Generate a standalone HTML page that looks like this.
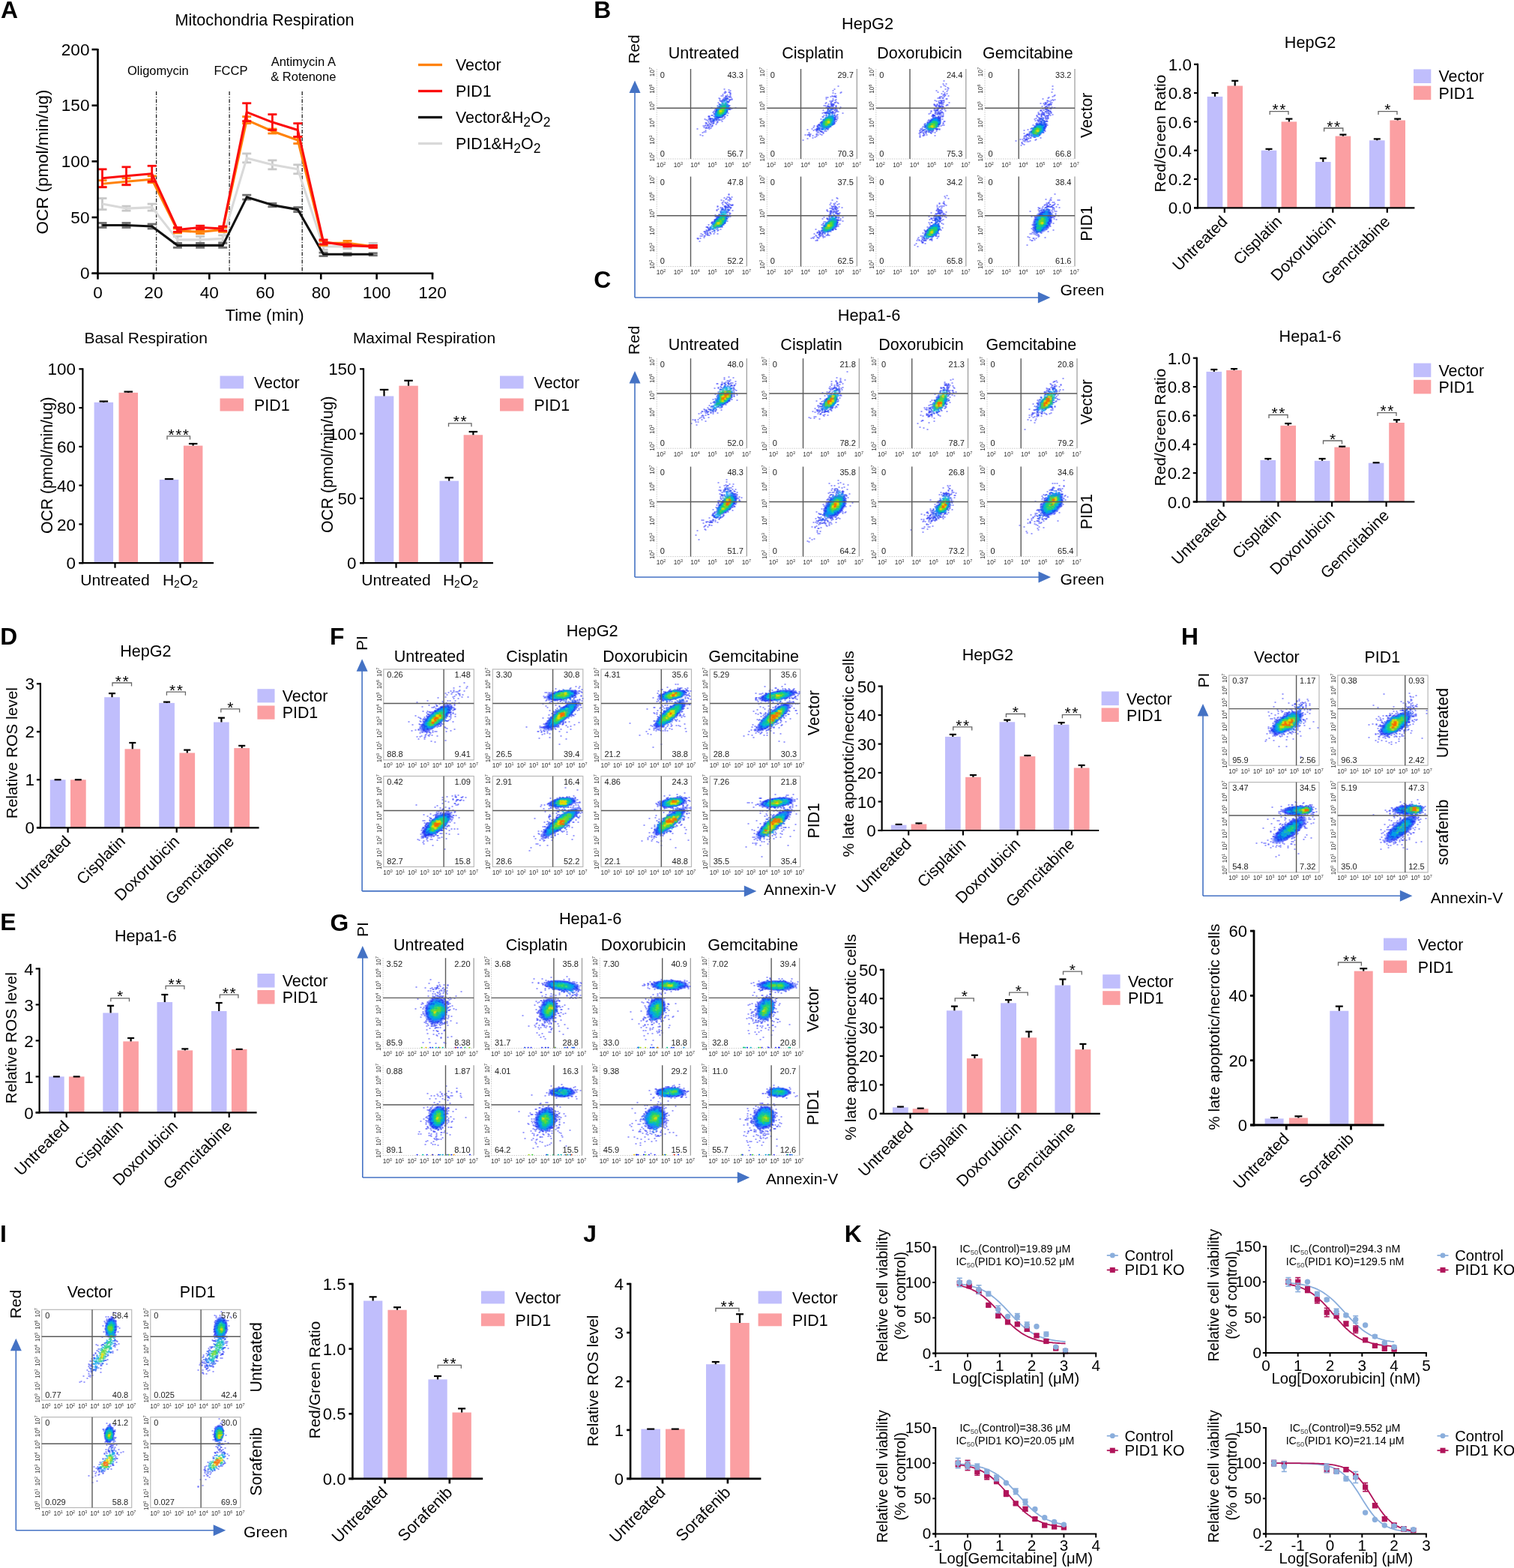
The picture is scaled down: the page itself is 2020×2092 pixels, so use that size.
<!DOCTYPE html>
<html><head><meta charset="utf-8"><title>Figure</title>
<style>html,body{margin:0;padding:0;background:#fff;} svg{display:block;} text{font-family:"Liberation Sans", Arial, Helvetica, sans-serif;} .k{font-size:8.4px;text-anchor:middle;fill:#333} .k tspan{font-size:5.4px}</style>
</head><body>
<svg width="2020" height="2092" viewBox="0 0 2020 2092" font-family='"Liberation Sans", Arial, Helvetica, sans-serif'>
<defs>
<radialGradient id="gH"><stop offset="0" stop-color="#f04000"/><stop offset="0.16" stop-color="#f0d000"/><stop offset="0.34" stop-color="#50e050"/><stop offset="0.55" stop-color="#00c0e0"/><stop offset="0.78" stop-color="#1a3cf8" stop-opacity="0.85"/><stop offset="1" stop-color="#3040ff" stop-opacity="0"/></radialGradient>
<radialGradient id="gW"><stop offset="0" stop-color="#90e030"/><stop offset="0.3" stop-color="#30d880"/><stop offset="0.55" stop-color="#00a8f0"/><stop offset="0.8" stop-color="#1a3cf8" stop-opacity="0.75"/><stop offset="1" stop-color="#3040ff" stop-opacity="0"/></radialGradient>
<radialGradient id="gC"><stop offset="0" stop-color="#1090f0" stop-opacity="0.9"/><stop offset="0.5" stop-color="#1a48f8" stop-opacity="0.75"/><stop offset="1" stop-color="#3040ff" stop-opacity="0"/></radialGradient>
</defs>
<rect width="2020" height="2092" fill="#fff"/>
<text x="1" y="24" font-size="31.8" font-weight="bold">A</text>
<text x="353" y="34" font-size="21.6" text-anchor="middle">Mitochondria Respiration</text>
<line x1="208.6" y1="122" x2="208.6" y2="364.7" stroke="#222" stroke-width="1.3" stroke-dasharray="5 2 1.2 2"/>
<line x1="306.1" y1="122" x2="306.1" y2="364.7" stroke="#222" stroke-width="1.3" stroke-dasharray="5 2 1.2 2"/>
<line x1="403.2" y1="122" x2="403.2" y2="364.7" stroke="#222" stroke-width="1.3" stroke-dasharray="5 2 1.2 2"/>
<text x="210.8" y="99.6" font-size="16.5" text-anchor="middle">Oligomycin</text>
<text x="308" y="99.6" font-size="16.5" text-anchor="middle">FCCP</text>
<text x="404.8" y="88.4" font-size="16.5" text-anchor="middle">Antimycin A</text>
<text x="404.8" y="107.6" font-size="16.5" text-anchor="middle">&amp; Rotenone</text>
<line x1="136.5" y1="279.6" x2="136.5" y2="264.6" stroke="#c8c8c8" stroke-width="2.8"/>
<line x1="130.5" y1="264.6" x2="142.5" y2="264.6" stroke="#c8c8c8" stroke-width="2.8"/>
<line x1="130.5" y1="279.6" x2="142.5" y2="279.6" stroke="#c8c8c8" stroke-width="2.8"/>
<line x1="168.5" y1="281.1" x2="168.5" y2="275.1" stroke="#c8c8c8" stroke-width="2.8"/>
<line x1="162.5" y1="275.1" x2="174.5" y2="275.1" stroke="#c8c8c8" stroke-width="2.8"/>
<line x1="162.5" y1="281.1" x2="174.5" y2="281.1" stroke="#c8c8c8" stroke-width="2.8"/>
<line x1="202.7" y1="281.1" x2="202.7" y2="272.1" stroke="#c8c8c8" stroke-width="2.8"/>
<line x1="196.7" y1="272.1" x2="208.7" y2="272.1" stroke="#c8c8c8" stroke-width="2.8"/>
<line x1="196.7" y1="281.1" x2="208.7" y2="281.1" stroke="#c8c8c8" stroke-width="2.8"/>
<line x1="236.9" y1="324.4" x2="236.9" y2="315.4" stroke="#c8c8c8" stroke-width="2.8"/>
<line x1="230.9" y1="315.4" x2="242.9" y2="315.4" stroke="#c8c8c8" stroke-width="2.8"/>
<line x1="230.9" y1="324.4" x2="242.9" y2="324.4" stroke="#c8c8c8" stroke-width="2.8"/>
<line x1="267.1" y1="324.4" x2="267.1" y2="315.4" stroke="#c8c8c8" stroke-width="2.8"/>
<line x1="261.1" y1="315.4" x2="273.1" y2="315.4" stroke="#c8c8c8" stroke-width="2.8"/>
<line x1="261.1" y1="324.4" x2="273.1" y2="324.4" stroke="#c8c8c8" stroke-width="2.8"/>
<line x1="297.2" y1="322.9" x2="297.2" y2="313.9" stroke="#c8c8c8" stroke-width="2.8"/>
<line x1="291.2" y1="313.9" x2="303.2" y2="313.9" stroke="#c8c8c8" stroke-width="2.8"/>
<line x1="291.2" y1="322.9" x2="303.2" y2="322.9" stroke="#c8c8c8" stroke-width="2.8"/>
<line x1="329.2" y1="216.8" x2="329.2" y2="204.9" stroke="#c8c8c8" stroke-width="2.8"/>
<line x1="323.2" y1="204.9" x2="335.2" y2="204.9" stroke="#c8c8c8" stroke-width="2.8"/>
<line x1="323.2" y1="216.8" x2="335.2" y2="216.8" stroke="#c8c8c8" stroke-width="2.8"/>
<line x1="363.4" y1="225.8" x2="363.4" y2="213.9" stroke="#c8c8c8" stroke-width="2.8"/>
<line x1="357.4" y1="213.9" x2="369.4" y2="213.9" stroke="#c8c8c8" stroke-width="2.8"/>
<line x1="357.4" y1="225.8" x2="369.4" y2="225.8" stroke="#c8c8c8" stroke-width="2.8"/>
<line x1="397.3" y1="231.8" x2="397.3" y2="219.8" stroke="#c8c8c8" stroke-width="2.8"/>
<line x1="391.3" y1="219.8" x2="403.3" y2="219.8" stroke="#c8c8c8" stroke-width="2.8"/>
<line x1="391.3" y1="231.8" x2="403.3" y2="231.8" stroke="#c8c8c8" stroke-width="2.8"/>
<line x1="431.5" y1="333.3" x2="431.5" y2="324.4" stroke="#c8c8c8" stroke-width="2.8"/>
<line x1="425.5" y1="324.4" x2="437.5" y2="324.4" stroke="#c8c8c8" stroke-width="2.8"/>
<line x1="425.5" y1="333.3" x2="437.5" y2="333.3" stroke="#c8c8c8" stroke-width="2.8"/>
<line x1="463.5" y1="331.8" x2="463.5" y2="325.9" stroke="#c8c8c8" stroke-width="2.8"/>
<line x1="457.5" y1="325.9" x2="469.5" y2="325.9" stroke="#c8c8c8" stroke-width="2.8"/>
<line x1="457.5" y1="331.8" x2="469.5" y2="331.8" stroke="#c8c8c8" stroke-width="2.8"/>
<line x1="497.7" y1="330.3" x2="497.7" y2="324.4" stroke="#c8c8c8" stroke-width="2.8"/>
<line x1="491.7" y1="324.4" x2="503.7" y2="324.4" stroke="#c8c8c8" stroke-width="2.8"/>
<line x1="491.7" y1="330.3" x2="503.7" y2="330.3" stroke="#c8c8c8" stroke-width="2.8"/>
<path d="M136.5 272.1L168.5 278.1L202.7 276.6L236.9 319.9L267.1 319.9L297.2 318.4L329.2 210.9L363.4 219.8L397.3 225.8L431.5 328.9L463.5 328.9L497.7 327.4" stroke="#d9d9d9" stroke-width="3.1" fill="none" stroke-linejoin="round"/>
<line x1="136.5" y1="303.5" x2="136.5" y2="297.5" stroke="#707070" stroke-width="2.8"/>
<line x1="130.5" y1="297.5" x2="142.5" y2="297.5" stroke="#707070" stroke-width="2.8"/>
<line x1="130.5" y1="303.5" x2="142.5" y2="303.5" stroke="#707070" stroke-width="2.8"/>
<line x1="168.5" y1="303.5" x2="168.5" y2="297.5" stroke="#707070" stroke-width="2.8"/>
<line x1="162.5" y1="297.5" x2="174.5" y2="297.5" stroke="#707070" stroke-width="2.8"/>
<line x1="162.5" y1="303.5" x2="174.5" y2="303.5" stroke="#707070" stroke-width="2.8"/>
<line x1="202.7" y1="305" x2="202.7" y2="299" stroke="#707070" stroke-width="2.8"/>
<line x1="196.7" y1="299" x2="208.7" y2="299" stroke="#707070" stroke-width="2.8"/>
<line x1="196.7" y1="305" x2="208.7" y2="305" stroke="#707070" stroke-width="2.8"/>
<line x1="236.9" y1="330.3" x2="236.9" y2="324.4" stroke="#707070" stroke-width="2.8"/>
<line x1="230.9" y1="324.4" x2="242.9" y2="324.4" stroke="#707070" stroke-width="2.8"/>
<line x1="230.9" y1="330.3" x2="242.9" y2="330.3" stroke="#707070" stroke-width="2.8"/>
<line x1="267.1" y1="330.3" x2="267.1" y2="324.4" stroke="#707070" stroke-width="2.8"/>
<line x1="261.1" y1="324.4" x2="273.1" y2="324.4" stroke="#707070" stroke-width="2.8"/>
<line x1="261.1" y1="330.3" x2="273.1" y2="330.3" stroke="#707070" stroke-width="2.8"/>
<line x1="297.2" y1="330.3" x2="297.2" y2="324.4" stroke="#707070" stroke-width="2.8"/>
<line x1="291.2" y1="324.4" x2="303.2" y2="324.4" stroke="#707070" stroke-width="2.8"/>
<line x1="291.2" y1="330.3" x2="303.2" y2="330.3" stroke="#707070" stroke-width="2.8"/>
<line x1="329.2" y1="266.1" x2="329.2" y2="260.2" stroke="#707070" stroke-width="2.8"/>
<line x1="323.2" y1="260.2" x2="335.2" y2="260.2" stroke="#707070" stroke-width="2.8"/>
<line x1="323.2" y1="266.1" x2="335.2" y2="266.1" stroke="#707070" stroke-width="2.8"/>
<line x1="363.4" y1="275.8" x2="363.4" y2="271.4" stroke="#707070" stroke-width="2.8"/>
<line x1="357.4" y1="271.4" x2="369.4" y2="271.4" stroke="#707070" stroke-width="2.8"/>
<line x1="357.4" y1="275.8" x2="369.4" y2="275.8" stroke="#707070" stroke-width="2.8"/>
<line x1="397.3" y1="282.6" x2="397.3" y2="276.6" stroke="#707070" stroke-width="2.8"/>
<line x1="391.3" y1="276.6" x2="403.3" y2="276.6" stroke="#707070" stroke-width="2.8"/>
<line x1="391.3" y1="282.6" x2="403.3" y2="282.6" stroke="#707070" stroke-width="2.8"/>
<line x1="431.5" y1="341.6" x2="431.5" y2="337.1" stroke="#707070" stroke-width="2.8"/>
<line x1="425.5" y1="337.1" x2="437.5" y2="337.1" stroke="#707070" stroke-width="2.8"/>
<line x1="425.5" y1="341.6" x2="437.5" y2="341.6" stroke="#707070" stroke-width="2.8"/>
<line x1="463.5" y1="340.8" x2="463.5" y2="337.8" stroke="#707070" stroke-width="2.8"/>
<line x1="457.5" y1="337.8" x2="469.5" y2="337.8" stroke="#707070" stroke-width="2.8"/>
<line x1="457.5" y1="340.8" x2="469.5" y2="340.8" stroke="#707070" stroke-width="2.8"/>
<line x1="497.7" y1="340.8" x2="497.7" y2="337.8" stroke="#707070" stroke-width="2.8"/>
<line x1="491.7" y1="337.8" x2="503.7" y2="337.8" stroke="#707070" stroke-width="2.8"/>
<line x1="491.7" y1="340.8" x2="503.7" y2="340.8" stroke="#707070" stroke-width="2.8"/>
<path d="M136.5 300.5L168.5 300.5L202.7 302L236.9 327.4L267.1 327.4L297.2 327.4L329.2 263.1L363.4 273.6L397.3 279.6L431.5 339.3L463.5 339.3L497.7 339.3" stroke="#111111" stroke-width="3.1" fill="none" stroke-linejoin="round"/>
<line x1="136.5" y1="249.7" x2="136.5" y2="240.7" stroke="#ff820a" stroke-width="2.8"/>
<line x1="130.5" y1="240.7" x2="142.5" y2="240.7" stroke="#ff820a" stroke-width="2.8"/>
<line x1="130.5" y1="249.7" x2="142.5" y2="249.7" stroke="#ff820a" stroke-width="2.8"/>
<line x1="168.5" y1="246.7" x2="168.5" y2="237.8" stroke="#ff820a" stroke-width="2.8"/>
<line x1="162.5" y1="237.8" x2="174.5" y2="237.8" stroke="#ff820a" stroke-width="2.8"/>
<line x1="162.5" y1="246.7" x2="174.5" y2="246.7" stroke="#ff820a" stroke-width="2.8"/>
<line x1="202.7" y1="243.7" x2="202.7" y2="234.8" stroke="#ff820a" stroke-width="2.8"/>
<line x1="196.7" y1="234.8" x2="208.7" y2="234.8" stroke="#ff820a" stroke-width="2.8"/>
<line x1="196.7" y1="243.7" x2="208.7" y2="243.7" stroke="#ff820a" stroke-width="2.8"/>
<line x1="236.9" y1="310.9" x2="236.9" y2="305" stroke="#ff820a" stroke-width="2.8"/>
<line x1="230.9" y1="305" x2="242.9" y2="305" stroke="#ff820a" stroke-width="2.8"/>
<line x1="230.9" y1="310.9" x2="242.9" y2="310.9" stroke="#ff820a" stroke-width="2.8"/>
<line x1="267.1" y1="311.7" x2="267.1" y2="307.2" stroke="#ff820a" stroke-width="2.8"/>
<line x1="261.1" y1="307.2" x2="273.1" y2="307.2" stroke="#ff820a" stroke-width="2.8"/>
<line x1="261.1" y1="311.7" x2="273.1" y2="311.7" stroke="#ff820a" stroke-width="2.8"/>
<line x1="297.2" y1="309.4" x2="297.2" y2="303.5" stroke="#ff820a" stroke-width="2.8"/>
<line x1="291.2" y1="303.5" x2="303.2" y2="303.5" stroke="#ff820a" stroke-width="2.8"/>
<line x1="291.2" y1="309.4" x2="303.2" y2="309.4" stroke="#ff820a" stroke-width="2.8"/>
<line x1="329.2" y1="164.6" x2="329.2" y2="155.6" stroke="#ff820a" stroke-width="2.8"/>
<line x1="323.2" y1="155.6" x2="335.2" y2="155.6" stroke="#ff820a" stroke-width="2.8"/>
<line x1="323.2" y1="164.6" x2="335.2" y2="164.6" stroke="#ff820a" stroke-width="2.8"/>
<line x1="363.4" y1="178" x2="363.4" y2="172" stroke="#ff820a" stroke-width="2.8"/>
<line x1="357.4" y1="172" x2="369.4" y2="172" stroke="#ff820a" stroke-width="2.8"/>
<line x1="357.4" y1="178" x2="369.4" y2="178" stroke="#ff820a" stroke-width="2.8"/>
<line x1="397.3" y1="191.5" x2="397.3" y2="182.5" stroke="#ff820a" stroke-width="2.8"/>
<line x1="391.3" y1="182.5" x2="403.3" y2="182.5" stroke="#ff820a" stroke-width="2.8"/>
<line x1="391.3" y1="191.5" x2="403.3" y2="191.5" stroke="#ff820a" stroke-width="2.8"/>
<line x1="431.5" y1="327.4" x2="431.5" y2="321.4" stroke="#ff820a" stroke-width="2.8"/>
<line x1="425.5" y1="321.4" x2="437.5" y2="321.4" stroke="#ff820a" stroke-width="2.8"/>
<line x1="425.5" y1="327.4" x2="437.5" y2="327.4" stroke="#ff820a" stroke-width="2.8"/>
<line x1="463.5" y1="327.4" x2="463.5" y2="321.4" stroke="#ff820a" stroke-width="2.8"/>
<line x1="457.5" y1="321.4" x2="469.5" y2="321.4" stroke="#ff820a" stroke-width="2.8"/>
<line x1="457.5" y1="327.4" x2="469.5" y2="327.4" stroke="#ff820a" stroke-width="2.8"/>
<line x1="497.7" y1="330.3" x2="497.7" y2="327.4" stroke="#ff820a" stroke-width="2.8"/>
<line x1="491.7" y1="327.4" x2="503.7" y2="327.4" stroke="#ff820a" stroke-width="2.8"/>
<line x1="491.7" y1="330.3" x2="503.7" y2="330.3" stroke="#ff820a" stroke-width="2.8"/>
<path d="M136.5 245.2L168.5 242.2L202.7 239.2L236.9 307.9L267.1 309.4L297.2 306.5L329.2 160.1L363.4 175L397.3 187L431.5 324.4L463.5 324.4L497.7 328.9" stroke="#ff820a" stroke-width="3.1" fill="none" stroke-linejoin="round"/>
<line x1="136.5" y1="249.7" x2="136.5" y2="225.8" stroke="#fb0d0d" stroke-width="2.8"/>
<line x1="130.5" y1="225.8" x2="142.5" y2="225.8" stroke="#fb0d0d" stroke-width="2.8"/>
<line x1="130.5" y1="249.7" x2="142.5" y2="249.7" stroke="#fb0d0d" stroke-width="2.8"/>
<line x1="168.5" y1="246.7" x2="168.5" y2="222.8" stroke="#fb0d0d" stroke-width="2.8"/>
<line x1="162.5" y1="222.8" x2="174.5" y2="222.8" stroke="#fb0d0d" stroke-width="2.8"/>
<line x1="162.5" y1="246.7" x2="174.5" y2="246.7" stroke="#fb0d0d" stroke-width="2.8"/>
<line x1="202.7" y1="242.2" x2="202.7" y2="221.3" stroke="#fb0d0d" stroke-width="2.8"/>
<line x1="196.7" y1="221.3" x2="208.7" y2="221.3" stroke="#fb0d0d" stroke-width="2.8"/>
<line x1="196.7" y1="242.2" x2="208.7" y2="242.2" stroke="#fb0d0d" stroke-width="2.8"/>
<line x1="236.9" y1="309.4" x2="236.9" y2="303.5" stroke="#fb0d0d" stroke-width="2.8"/>
<line x1="230.9" y1="303.5" x2="242.9" y2="303.5" stroke="#fb0d0d" stroke-width="2.8"/>
<line x1="230.9" y1="309.4" x2="242.9" y2="309.4" stroke="#fb0d0d" stroke-width="2.8"/>
<line x1="267.1" y1="305.7" x2="267.1" y2="301.2" stroke="#fb0d0d" stroke-width="2.8"/>
<line x1="261.1" y1="301.2" x2="273.1" y2="301.2" stroke="#fb0d0d" stroke-width="2.8"/>
<line x1="261.1" y1="305.7" x2="273.1" y2="305.7" stroke="#fb0d0d" stroke-width="2.8"/>
<line x1="297.2" y1="307.9" x2="297.2" y2="302" stroke="#fb0d0d" stroke-width="2.8"/>
<line x1="291.2" y1="302" x2="303.2" y2="302" stroke="#fb0d0d" stroke-width="2.8"/>
<line x1="291.2" y1="307.9" x2="303.2" y2="307.9" stroke="#fb0d0d" stroke-width="2.8"/>
<line x1="329.2" y1="161.6" x2="329.2" y2="137.7" stroke="#fb0d0d" stroke-width="2.8"/>
<line x1="323.2" y1="137.7" x2="335.2" y2="137.7" stroke="#fb0d0d" stroke-width="2.8"/>
<line x1="323.2" y1="161.6" x2="335.2" y2="161.6" stroke="#fb0d0d" stroke-width="2.8"/>
<line x1="363.4" y1="173.5" x2="363.4" y2="152.6" stroke="#fb0d0d" stroke-width="2.8"/>
<line x1="357.4" y1="152.6" x2="369.4" y2="152.6" stroke="#fb0d0d" stroke-width="2.8"/>
<line x1="357.4" y1="173.5" x2="369.4" y2="173.5" stroke="#fb0d0d" stroke-width="2.8"/>
<line x1="397.3" y1="182.5" x2="397.3" y2="164.6" stroke="#fb0d0d" stroke-width="2.8"/>
<line x1="391.3" y1="164.6" x2="403.3" y2="164.6" stroke="#fb0d0d" stroke-width="2.8"/>
<line x1="391.3" y1="182.5" x2="403.3" y2="182.5" stroke="#fb0d0d" stroke-width="2.8"/>
<line x1="431.5" y1="325.9" x2="431.5" y2="319.9" stroke="#fb0d0d" stroke-width="2.8"/>
<line x1="425.5" y1="319.9" x2="437.5" y2="319.9" stroke="#fb0d0d" stroke-width="2.8"/>
<line x1="425.5" y1="325.9" x2="437.5" y2="325.9" stroke="#fb0d0d" stroke-width="2.8"/>
<line x1="463.5" y1="328.9" x2="463.5" y2="325.9" stroke="#fb0d0d" stroke-width="2.8"/>
<line x1="457.5" y1="325.9" x2="469.5" y2="325.9" stroke="#fb0d0d" stroke-width="2.8"/>
<line x1="457.5" y1="328.9" x2="469.5" y2="328.9" stroke="#fb0d0d" stroke-width="2.8"/>
<line x1="497.7" y1="330.3" x2="497.7" y2="327.4" stroke="#fb0d0d" stroke-width="2.8"/>
<line x1="491.7" y1="327.4" x2="503.7" y2="327.4" stroke="#fb0d0d" stroke-width="2.8"/>
<line x1="491.7" y1="330.3" x2="503.7" y2="330.3" stroke="#fb0d0d" stroke-width="2.8"/>
<path d="M136.5 237.8L168.5 234.8L202.7 231.8L236.9 306.5L267.1 303.5L297.2 305L329.2 149.6L363.4 163.1L397.3 173.5L431.5 322.9L463.5 327.4L497.7 328.9" stroke="#fb0d0d" stroke-width="3.1" fill="none" stroke-linejoin="round"/>
<line x1="130.5" y1="65" x2="130.5" y2="366" stroke="#000" stroke-width="2.6"/>
<line x1="122.5" y1="364.7" x2="578.3" y2="364.7" stroke="#000" stroke-width="2.6"/>
<line x1="122.5" y1="364.7" x2="130.5" y2="364.7" stroke="#000" stroke-width="2.6"/>
<text x="119.5" y="372.2" font-size="22.6" text-anchor="end">0</text>
<line x1="122.5" y1="290" x2="130.5" y2="290" stroke="#000" stroke-width="2.6"/>
<text x="119.5" y="297.5" font-size="22.6" text-anchor="end">50</text>
<line x1="122.5" y1="215.3" x2="130.5" y2="215.3" stroke="#000" stroke-width="2.6"/>
<text x="119.5" y="222.8" font-size="22.6" text-anchor="end">100</text>
<line x1="122.5" y1="140.7" x2="130.5" y2="140.7" stroke="#000" stroke-width="2.6"/>
<text x="119.5" y="148.2" font-size="22.6" text-anchor="end">150</text>
<line x1="122.5" y1="66" x2="130.5" y2="66" stroke="#000" stroke-width="2.6"/>
<text x="119.5" y="73.5" font-size="22.6" text-anchor="end">200</text>
<line x1="130.5" y1="364.7" x2="130.5" y2="372.7" stroke="#000" stroke-width="2.6"/>
<text x="130.5" y="397.6" font-size="22.6" text-anchor="middle">0</text>
<line x1="204.9" y1="364.7" x2="204.9" y2="372.7" stroke="#000" stroke-width="2.6"/>
<text x="204.9" y="397.6" font-size="22.6" text-anchor="middle">20</text>
<line x1="279.3" y1="364.7" x2="279.3" y2="372.7" stroke="#000" stroke-width="2.6"/>
<text x="279.3" y="397.6" font-size="22.6" text-anchor="middle">40</text>
<line x1="353.8" y1="364.7" x2="353.8" y2="372.7" stroke="#000" stroke-width="2.6"/>
<text x="353.8" y="397.6" font-size="22.6" text-anchor="middle">60</text>
<line x1="428.2" y1="364.7" x2="428.2" y2="372.7" stroke="#000" stroke-width="2.6"/>
<text x="428.2" y="397.6" font-size="22.6" text-anchor="middle">80</text>
<line x1="502.6" y1="364.7" x2="502.6" y2="372.7" stroke="#000" stroke-width="2.6"/>
<text x="502.6" y="397.6" font-size="22.6" text-anchor="middle">100</text>
<line x1="577" y1="364.7" x2="577" y2="372.7" stroke="#000" stroke-width="2.6"/>
<text x="577" y="397.6" font-size="22.6" text-anchor="middle">120</text>
<text x="353" y="428" font-size="22.2" text-anchor="middle">Time (min)</text>
<text x="64.3" y="216" font-size="22.4" text-anchor="middle" transform="rotate(-90 64.3 216)">OCR (pmol/min/ug)</text>
<line x1="558" y1="86.5" x2="590" y2="86.5" stroke="#ff820a" stroke-width="3.3"/>
<text x="608" y="94.3" font-size="21.4">Vector</text>
<line x1="558" y1="121.5" x2="590" y2="121.5" stroke="#fb0d0d" stroke-width="3.3"/>
<text x="608" y="129.3" font-size="21.4">PID1</text>
<line x1="558" y1="156.5" x2="590" y2="156.5" stroke="#111111" stroke-width="3.3"/>
<text x="608" y="164.3" font-size="21.4">Vector&amp;H<tspan font-size="17.5" dy="4.5">2</tspan><tspan dy="-4.5">O</tspan><tspan font-size="17.5" dy="4.5">2</tspan></text>
<line x1="558" y1="191.5" x2="590" y2="191.5" stroke="#d9d9d9" stroke-width="3.3"/>
<text x="608" y="199.3" font-size="21.4">PID1&amp;H<tspan font-size="17.5" dy="4.5">2</tspan><tspan dy="-4.5">O</tspan><tspan font-size="17.5" dy="4.5">2</tspan></text>
<rect x="125.6" y="536.8" width="25.5" height="214.4" fill="#c0befc"/>
<rect x="158.5" y="523.9" width="25.5" height="227.3" fill="#fb9fa2"/>
<rect x="212.8" y="639.9" width="25.5" height="111.3" fill="#c0befc"/>
<rect x="244.9" y="594.6" width="25.5" height="156.6" fill="#fb9fa2"/>
<line x1="138.3" y1="536.8" x2="138.3" y2="535.5" stroke="#000" stroke-width="2.2"/>
<line x1="132.6" y1="535.5" x2="144.1" y2="535.5" stroke="#000" stroke-width="2.2"/>
<line x1="171.2" y1="523.9" x2="171.2" y2="522.6" stroke="#000" stroke-width="2.2"/>
<line x1="165.5" y1="522.6" x2="177" y2="522.6" stroke="#000" stroke-width="2.2"/>
<line x1="225.6" y1="639.9" x2="225.6" y2="639.1" stroke="#000" stroke-width="2.2"/>
<line x1="219.8" y1="639.1" x2="231.3" y2="639.1" stroke="#000" stroke-width="2.2"/>
<line x1="257.6" y1="594.6" x2="257.6" y2="592" stroke="#000" stroke-width="2.2"/>
<line x1="251.9" y1="592" x2="263.4" y2="592" stroke="#000" stroke-width="2.2"/>
<line x1="110.4" y1="491.2" x2="110.4" y2="752.3" stroke="#000" stroke-width="2.2"/>
<line x1="105.4" y1="751.2" x2="285" y2="751.2" stroke="#000" stroke-width="2.2"/>
<line x1="105.4" y1="751.2" x2="110.4" y2="751.2" stroke="#000" stroke-width="2.2"/>
<text x="100.9" y="759.3" font-size="22.4" text-anchor="end">0</text>
<line x1="105.4" y1="699.4" x2="110.4" y2="699.4" stroke="#000" stroke-width="2.2"/>
<text x="100.9" y="707.5" font-size="22.4" text-anchor="end">20</text>
<line x1="105.4" y1="647.6" x2="110.4" y2="647.6" stroke="#000" stroke-width="2.2"/>
<text x="100.9" y="655.7" font-size="22.4" text-anchor="end">40</text>
<line x1="105.4" y1="595.9" x2="110.4" y2="595.9" stroke="#000" stroke-width="2.2"/>
<text x="100.9" y="603.9" font-size="22.4" text-anchor="end">60</text>
<line x1="105.4" y1="544.1" x2="110.4" y2="544.1" stroke="#000" stroke-width="2.2"/>
<text x="100.9" y="552.1" font-size="22.4" text-anchor="end">80</text>
<line x1="105.4" y1="492.3" x2="110.4" y2="492.3" stroke="#000" stroke-width="2.2"/>
<text x="100.9" y="500.4" font-size="22.4" text-anchor="end">100</text>
<line x1="153.5" y1="751.2" x2="153.5" y2="757.7" stroke="#000" stroke-width="2.2"/>
<line x1="240.5" y1="751.2" x2="240.5" y2="757.7" stroke="#000" stroke-width="2.2"/>
<text x="153.5" y="781.2" font-size="21.1" text-anchor="middle">Untreated</text>
<text x="240.5" y="781.2" font-size="21.1" text-anchor="middle">H<tspan font-size="14" dy="3">2</tspan><tspan dy="-3">O</tspan><tspan font-size="14" dy="3">2</tspan></text>
<path d="M223 586.4V581.9H253.5V586.4" stroke="#666" stroke-width="1.3" fill="none"/>
<text x="239" y="586.5" font-size="21" text-anchor="middle" letter-spacing="1.5">***</text>
<rect x="293.5" y="501.5" width="31.5" height="17" fill="#c0befc"/>
<rect x="293.5" y="531.5" width="31.5" height="17" fill="#fb9fa2"/>
<text x="339" y="517.7" font-size="21.4">Vector</text>
<text x="339" y="547.7" font-size="21.4">PID1</text>
<text x="70.5" y="620.7" font-size="21.2" text-anchor="middle" transform="rotate(-90 70.5 620.7)">OCR (pmol/min/ug)</text>
<text x="194.7" y="458" font-size="21" text-anchor="middle">Basal Respiration</text>
<rect x="499.8" y="528.5" width="25.5" height="222.7" fill="#c0befc"/>
<rect x="532.3" y="514.7" width="25.5" height="236.5" fill="#fb9fa2"/>
<rect x="586.5" y="641.6" width="25.5" height="109.6" fill="#c0befc"/>
<rect x="618.6" y="580.3" width="25.5" height="170.9" fill="#fb9fa2"/>
<line x1="512.5" y1="528.5" x2="512.5" y2="519.9" stroke="#000" stroke-width="2.2"/>
<line x1="506.8" y1="519.9" x2="518.3" y2="519.9" stroke="#000" stroke-width="2.2"/>
<line x1="545" y1="514.7" x2="545" y2="507.8" stroke="#000" stroke-width="2.2"/>
<line x1="539.3" y1="507.8" x2="550.8" y2="507.8" stroke="#000" stroke-width="2.2"/>
<line x1="599.2" y1="641.6" x2="599.2" y2="637.3" stroke="#000" stroke-width="2.2"/>
<line x1="593.5" y1="637.3" x2="605" y2="637.3" stroke="#000" stroke-width="2.2"/>
<line x1="631.4" y1="580.3" x2="631.4" y2="576" stroke="#000" stroke-width="2.2"/>
<line x1="625.6" y1="576" x2="637.1" y2="576" stroke="#000" stroke-width="2.2"/>
<line x1="485" y1="491.2" x2="485" y2="752.3" stroke="#000" stroke-width="2.2"/>
<line x1="480" y1="751.2" x2="658" y2="751.2" stroke="#000" stroke-width="2.2"/>
<line x1="480" y1="751.2" x2="485" y2="751.2" stroke="#000" stroke-width="2.2"/>
<text x="475.5" y="759.3" font-size="22.4" text-anchor="end">0</text>
<line x1="480" y1="664.9" x2="485" y2="664.9" stroke="#000" stroke-width="2.2"/>
<text x="475.5" y="673" font-size="22.4" text-anchor="end">50</text>
<line x1="480" y1="578.6" x2="485" y2="578.6" stroke="#000" stroke-width="2.2"/>
<text x="475.5" y="586.7" font-size="22.4" text-anchor="end">100</text>
<line x1="480" y1="492.3" x2="485" y2="492.3" stroke="#000" stroke-width="2.2"/>
<text x="475.5" y="500.4" font-size="22.4" text-anchor="end">150</text>
<line x1="528.5" y1="751.2" x2="528.5" y2="757.7" stroke="#000" stroke-width="2.2"/>
<line x1="614.5" y1="751.2" x2="614.5" y2="757.7" stroke="#000" stroke-width="2.2"/>
<text x="528.5" y="781.2" font-size="21.1" text-anchor="middle">Untreated</text>
<text x="614.5" y="781.2" font-size="21.1" text-anchor="middle">H<tspan font-size="14" dy="3">2</tspan><tspan dy="-3">O</tspan><tspan font-size="14" dy="3">2</tspan></text>
<path d="M598.5 569.3V564.8H629V569.3" stroke="#666" stroke-width="1.3" fill="none"/>
<text x="614.5" y="569.4" font-size="21" text-anchor="middle" letter-spacing="1.5">**</text>
<rect x="667" y="501.5" width="31.5" height="17" fill="#c0befc"/>
<rect x="667" y="531.5" width="31.5" height="17" fill="#fb9fa2"/>
<text x="712.6" y="517.7" font-size="21.4">Vector</text>
<text x="712.6" y="547.7" font-size="21.4">PID1</text>
<text x="443.6" y="619.7" font-size="21.2" text-anchor="middle" transform="rotate(-90 443.6 619.7)">OCR (pmol/min/ug)</text>
<text x="566" y="458" font-size="21" text-anchor="middle">Maximal Respiration</text>
<text x="792.2" y="24" font-size="31.8" font-weight="bold">B</text>
<text x="1157.6" y="39.4" font-size="21.8" text-anchor="middle">HepG2</text>
<text x="939" y="78" font-size="21.5" text-anchor="middle">Untreated</text>
<text x="1084.5" y="78" font-size="21.5" text-anchor="middle">Cisplatin</text>
<text x="1227" y="78" font-size="21.5" text-anchor="middle">Doxorubicin</text>
<text x="1371.4" y="78" font-size="21.5" text-anchor="middle">Gemcitabine</text>
<line x1="876.3" y1="92" x2="876.3" y2="212" stroke="#c8c8c8" stroke-width="1" stroke-dasharray="1.5 1.5"/>
<line x1="876.3" y1="212" x2="996.3" y2="212" stroke="#c8c8c8" stroke-width="1" stroke-dasharray="1.5 1.5"/>
<line x1="996.3" y1="92" x2="996.3" y2="212" stroke="#999" stroke-width="1.2"/>
<ellipse cx="962.7" cy="148.4" rx="12.6" ry="7.6" fill="url(#gW)" transform="rotate(-43.8 962.7 148.4)"/>
<path d="M967 132h1m0 0h1m0 0h1m0 0h1m0 0h1m-6 1h1m1 0h1m-3 1h1m0 0h1m1 0h1m-6 1h1m0 0h1m4 0h1m-8 1h1m5 0h1m0 0h1m0 0h1m-9 1h1m1 0h1m5 0h1m-3 1h1m-10 1h1m9 0h1m-11 1h1m0 0h1m0 0h1m6 0h1m1 0h1m-15 1h1m1 1h1m-3 1h1m1 0h1m-5 4h1m0 0h1m12 0h1m-14 1h1m12 0h1m-16 1h1m0 0h1m13 0h1m0 0h1m-7 4h1m0 1h1m-3 1h1m0 0h1m-11 1h1m0 0h1m0 0h1m0 0h1m0 0h1m-6 1h1m2 0h1m1 0h1m0 0h1m-6 1h1m0 0h1m1 0h1m0 0h1m-7 1h1m0 0h1m-3 1h1m0 0h1m-2 1h1m0 0h1m0 0h1" stroke="#0d4cf0" stroke-width="1" stroke-linecap="square"/>
<path d="M974 126h1m-5 1h1m-3 1h1m5 0h1m-2 1h1m-1 1h1m-9 1h1m-6 1h1m-1 2h1m11 1h1m-1 1h1m-14 3h1m16 6h1m-24 2h1m-2 2h1m16 1h1m1 1h1m-23 3h1m0 0h1m19 0h1m-26 2h1m0 0h1m16 0h1m2 0h1m0 0h1m-5 1h1m-18 1h1m0 0h1m18 0h1m-22 1h1m1 0h1m-6 1h1m4 0h1m12 0h1m1 0h1m-19 1h1m2 0h1m9 1h1m-13 1h1m11 0h1m-16 1h1m13 0h1m-15 1h1m3 0h1m4 0h1m-8 1h1m2 0h1m0 0h1m-5 1h1m5 0h1m-11 1h1m2 0h1m1 0h1m1 0h1m2 0h1m-2 1h1m-11 1h1m2 0h1m2 0h1m0 0h1m-5 1h1m1 0h1" stroke="#2832f7" stroke-width="1" stroke-linecap="square"/>
<path d="M968 129h1m0 0h1m1 0h1m-5 1h1m-1 1h1m1 0h1m0 0h1m-7 2h1m0 0h1m7 0h1m0 0h1m-12 1h1m9 0h1m-13 1h1m0 0h1m9 6h1m0 0h1m-2 1h1m-1 2h1m0 0h1m0 0h1m-21 1h1m1 0h1m15 0h1m-18 1h1m16 0h1m0 0h1m0 0h1m-24 4h1m0 2h1m0 0h1m12 1h1m0 0h1m-16 2h1m7 1h1m0 1h1m-14 1h1m1 0h1m-3 1h1m1 0h1m3 0h1m0 0h1m0 0h1m-1 1h1m1 0h1m0 0h1m-11 1h1m5 0h1m-8 1h1m1 0h1m0 0h1m0 0h1m-5 1h1m0 1h1m1 0h1m0 0h1" stroke="#1a2bf2" stroke-width="1" stroke-linecap="square"/>
<path d="M963 141h1m1 0h1m0 0h1m0 0h1m-5 1h1m0 0h1m0 0h1m0 0h1m0 0h1m0 0h1m-6 1h1m1 0h1m0 0h1m0 0h1m-8 1h1m0 0h1m0 0h1m3 0h1m0 0h1m0 0h1m-9 1h1m0 0h1m0 0h1m3 0h1m-6 1h1m0 0h1m3 0h1m-9 1h1m0 0h1m-1 1h1m-3 1h1m0 0h1m0 0h1m-3 1h1m0 0h1m0 0h1m3 0h1m0 0h1m-8 1h1m0 0h1m0 0h1m4 0h1m0 0h1m-9 1h1m0 0h1m0 0h1m3 0h1m0 0h1m0 0h1" stroke="#19cc76" stroke-width="1" stroke-linecap="square"/>
<path d="M966 135h1m0 0h1m-1 2h1m0 0h1m1 4h1m-1 1h1m0 0h1m-3 1h1m0 0h1m0 0h1m-15 1h1m11 0h1m0 0h1m-14 1h1m0 0h1m0 0h1m9 0h1m0 0h1m-14 1h1m0 0h1m0 0h1m9 0h1m0 0h1m-15 4h1m11 0h1m-14 1h1m10 0h1m0 0h1m0 0h1m-15 1h1m0 0h1m0 0h1m9 0h1m1 0h1m-14 1h1m0 0h1m-3 1h1m0 0h1m0 0h1m-3 1h1m0 0h1" stroke="#0096f0" stroke-width="1" stroke-linecap="square"/>
<path d="M966 119h1m5 1h1m1 1h1m-8 1h1m0 1h1m3 0h1m0 0h1m-8 1h1m0 0h1m6 0h1m-1 1h1m-11 1h1m-3 2h1m1 0h1m10 2h1m-17 1h1m16 1h1m-1 1h1m-19 4h1m-10 7h1m31 0h1m-37 11h1m0 0h1m-7 4h1m23 0h1m-2 3h1m-23 2h1m13 2h1m-15 1h1m-4 1h1m2 3h1m6 0h1m-19 1h1m15 0h1m-6 2h1m-3 2h1m1 0h1m-5 1h1m-4 3h1m2 1h1" stroke="#3538fc" stroke-width="1" stroke-linecap="square"/>
<path d="M963 138h1m0 0h1m2 0h1m0 0h1m-6 1h1m0 0h1m0 0h1m1 0h1m0 0h1m-3 1h1m0 0h1m0 0h1m-9 1h1m0 0h1m0 1h1m-2 1h1m0 0h1m4 4h1m0 0h1m-3 1h1m0 0h1m0 0h1m-3 1h1m1 0h1m-12 4h1m1 0h1m0 0h1m1 0h1m-6 1h1m2 0h1m0 0h1m0 0h1m-5 1h1m0 0h1m1 0h1m0 0h1" stroke="#00b7ba" stroke-width="1" stroke-linecap="square"/>
<path d="M963 144h1m0 0h1m0 0h1m-3 1h1m1 0h1m-3 1h1m0 0h1m0 0h1m-3 1h1m0 0h1m0 0h1m-3 1h1m0 0h1m-2 1h1m0 0h1m0 0h1m-6 1h1m0 0h1m0 0h1m-3 1h1m0 0h1m0 0h1m-3 1h1m0 0h1" stroke="#66d72c" stroke-width="1" stroke-linecap="square"/>
<path d="M960 147h1m1 0h1m-3 1h1m0 0h1m-2 1h1m0 0h1m0 0h1" stroke="#e8dc00" stroke-width="1" stroke-linecap="square"/>
<line x1="921.5" y1="92" x2="921.5" y2="212" stroke="#5a5a5a" stroke-width="1.4"/>
<line x1="876.3" y1="144.2" x2="996.3" y2="144.2" stroke="#5a5a5a" stroke-width="1.4"/>
<text x="880.8" y="103.5" font-size="11" fill="#222">0</text>
<text x="991.8" y="103.5" font-size="11" text-anchor="end" fill="#222">43.3</text>
<text x="880.8" y="208.5" font-size="11" fill="#222">0</text>
<text x="991.8" y="208.5" font-size="11" text-anchor="end" fill="#222">56.7</text>
<text class="k" x="882" y="222.5">10<tspan dy="-3">2</tspan></text>
<text class="k" transform="translate(873.3 209.3) rotate(-90)">10<tspan dy="-3">2</tspan></text>
<text class="k" x="904.8" y="222.5">10<tspan dy="-3">3</tspan></text>
<text class="k" transform="translate(873.3 186.6) rotate(-90)">10<tspan dy="-3">3</tspan></text>
<text class="k" x="927.5" y="222.5">10<tspan dy="-3">4</tspan></text>
<text class="k" transform="translate(873.3 164) rotate(-90)">10<tspan dy="-3">4</tspan></text>
<text class="k" x="950.3" y="222.5">10<tspan dy="-3">5</tspan></text>
<text class="k" transform="translate(873.3 141.3) rotate(-90)">10<tspan dy="-3">5</tspan></text>
<text class="k" x="973" y="222.5">10<tspan dy="-3">6</tspan></text>
<text class="k" transform="translate(873.3 118.7) rotate(-90)">10<tspan dy="-3">6</tspan></text>
<text class="k" x="995.8" y="222.5">10<tspan dy="-3">7</tspan></text>
<text class="k" transform="translate(873.3 96) rotate(-90)">10<tspan dy="-3">7</tspan></text>
<line x1="1023.3" y1="92" x2="1023.3" y2="212" stroke="#c8c8c8" stroke-width="1" stroke-dasharray="1.5 1.5"/>
<line x1="1023.3" y1="212" x2="1143.3" y2="212" stroke="#c8c8c8" stroke-width="1" stroke-dasharray="1.5 1.5"/>
<line x1="1143.3" y1="92" x2="1143.3" y2="212" stroke="#999" stroke-width="1.2"/>
<ellipse cx="1104.9" cy="162.8" rx="12.6" ry="7.6" fill="url(#gW)" transform="rotate(-36.9 1104.9 162.8)"/>
<path d="M1108 139h1m0 0h1m0 0h1m0 0h1m0 0h1m-4 1h1m2 0h1m-9 1h1m4 0h1m0 0h1m0 0h1m-8 1h1m0 0h1m1 0h1m1 0h1m1 0h1m-8 1h1m1 0h1m-1 1h1m4 0h1m1 0h1m-10 1h1m0 0h1m4 0h1m0 0h1m2 0h1m-11 1h1m0 0h1m5 0h1m2 0h1m-5 3h1m0 0h1m-11 1h1m0 0h1m7 0h1m0 0h1m2 0h1m-14 1h1m0 0h1m0 0h1m7 0h1m1 0h1m-4 1h1m2 1h1m-1 1h1m0 1h1m-17 1h1m16 0h1m-3 1h1m0 0h1m-20 2h1m17 0h1m0 0h1m0 0h1m-3 1h1m1 2h1m-3 1h1m-1 1h1m-22 2h1m0 0h1m-2 1h1m0 0h1m-4 1h1m-1 1h1m0 0h1m-1 1h1m-2 1h1m14 0h1m-17 1h1m0 0h1m0 0h1m12 0h1m-16 1h1m0 0h1m0 0h1m12 0h1m-16 1h1m3 0h1m-5 1h1m1 0h1m2 0h1m0 0h1m4 0h1m-6 1h1m0 0h1m0 0h1" stroke="#1a2bf2" stroke-width="1" stroke-linecap="square"/>
<path d="M1113 129h1m0 0h1m0 1h1m-5 2h1m3 1h1m-5 1h1m2 0h1m-8 1h1m1 0h1m0 0h1m4 1h1m-8 1h1m0 0h1m3 0h1m0 0h1m-10 2h1m-5 2h1m13 0h1m-1 1h1m-14 1h1m12 0h1m0 3h1m-4 1h1m2 0h1m-3 1h1m1 0h1m-14 1h1m12 0h1m1 0h1m-20 1h1m0 1h1m16 2h1m-19 1h1m16 0h1m-20 2h1m19 0h1m-1 2h1m-2 2h1m-23 4h1m18 1h1m-23 2h1m-6 1h1m0 5h1m14 2h1m-24 2h1m10 0h1m1 0h1m-14 2h1m1 0h1m7 0h1m4 0h1m-18 1h1m0 0h1m1 0h1m8 0h1m1 0h1m-12 1h1m-1 1h1m8 0h1" stroke="#2832f7" stroke-width="1" stroke-linecap="square"/>
<path d="M1107 144h1m1 0h1m-2 1h1m-1 1h1m0 0h1m-6 1h1m2 0h1m1 0h1m-6 1h1m1 0h1m0 0h1m-3 1h1m1 0h1m-4 1h1m2 0h1m0 0h1m0 0h1m-6 1h1m0 0h1m0 0h1m2 0h1m-5 1h1m0 0h1m0 0h1m-6 1h1m-1 1h1m-1 1h1m-7 7h1m-2 1h1m-1 1h1m0 0h1m0 0h1m12 1h1m1 0h1m-3 1h1m0 0h1m0 0h1m-3 1h1m-18 1h1m0 0h1m12 1h1m0 0h1m-16 1h1m-2 1h1m0 0h1m3 0h1m4 0h1m0 0h1m-12 1h1m0 0h1m1 0h1m0 0h1m0 0h1m4 0h1m-10 1h1m2 0h1m0 0h1m3 0h1" stroke="#0d4cf0" stroke-width="1" stroke-linecap="square"/>
<path d="M1106 153h1m3 0h1m-6 1h1m0 0h1m0 0h1m2 0h1m1 0h1m-8 1h1m3 0h1m0 0h1m-1 1h1m0 0h1m-11 1h1m0 0h1m8 0h1m-11 1h1m1 0h1m7 0h1m0 0h1m-15 1h1m11 0h1m1 0h1m-15 1h1m0 0h1m0 0h1m10 0h1m-13 1h1m0 0h1m9 1h1m1 0h1m-3 1h1m-1 1h1m0 0h1m-17 1h1m0 0h1m0 0h1m-2 1h1m-2 1h1m0 0h1m0 1h1m7 0h1m-11 1h1m1 0h1m6 0h1m1 0h1m-12 1h1m8 0h1m0 0h1m0 0h1m-8 1h1m-2 1h1m0 0h1m-2 1h1m1 0h1" stroke="#0096f0" stroke-width="1" stroke-linecap="square"/>
<path d="M1118 115h1m-6 4h1m-3 2h1m10 2h1m-12 1h1m9 0h1m-8 1h1m-5 3h1m2 0h1m1 0h1m-8 1h1m2 0h1m-10 1h1m1 0h1m-3 2h1m-1 5h1m14 0h1m-17 1h1m16 0h1m-20 3h1m21 2h1m-2 2h1m-23 2h1m-2 4h1m26 0h1m-40 19h1m-3 2h1m-7 1h1m7 1h1m12 3h1m-1 1h1m-25 2h1m21 0h1m-13 1h1m2 2h1m-4 1h1m-8 1h1m-7 2h1" stroke="#3538fc" stroke-width="1" stroke-linecap="square"/>
<path d="M1101 159h1m0 0h1m0 0h1m3 0h1m0 0h1m0 0h1m-8 1h1m0 0h1m3 0h1m0 0h1m0 0h1m-9 1h1m0 0h1m4 0h1m0 0h1m0 0h1m-12 1h1m1 0h1m6 0h1m0 0h1m-10 1h1m0 0h1m6 0h1m-10 1h1m0 0h1m0 0h1m6 0h1m0 0h1m-11 1h1m5 0h1m0 0h1m-7 1h1m0 0h1m3 0h1m0 0h1m0 0h1m-9 1h1m7 0h1" stroke="#19cc76" stroke-width="1" stroke-linecap="square"/>
<path d="M1105 156h1m0 0h1m0 0h1m0 0h1m-5 1h1m1 0h1m0 0h1m0 0h1m0 0h1m-6 1h1m0 0h1m0 0h1m0 0h1m0 0h1m0 0h1m-2 7h1m0 0h1m-3 1h1m1 0h1m-3 1h1m0 0h1m0 0h1m-10 1h1m1 0h1m-5 1h1m0 0h1m1 0h1m1 0h1m-5 1h1m0 0h1m0 0h1" stroke="#00b7ba" stroke-width="1" stroke-linecap="square"/>
<path d="M1104 159h1m1 0h1m-3 1h1m0 0h1m0 0h1m-3 1h1m-4 1h1m0 0h1m0 0h1m-3 1h1m0 0h1m0 0h1m-1 1h1m-3 1h1m0 0h1m0 0h1m-3 1h1m0 0h1m0 0h1m-3 1h1m0 0h1m0 0h1" stroke="#66d72c" stroke-width="1" stroke-linecap="square"/>
<path d="M1104 162h1m0 0h1m0 0h1m-2 1h1m0 0h1m-3 1h1m0 0h1m0 0h1" stroke="#e8dc00" stroke-width="1" stroke-linecap="square"/>
<line x1="1068.5" y1="92" x2="1068.5" y2="212" stroke="#5a5a5a" stroke-width="1.4"/>
<line x1="1023.3" y1="144.2" x2="1143.3" y2="144.2" stroke="#5a5a5a" stroke-width="1.4"/>
<text x="1027.8" y="103.5" font-size="11" fill="#222">0</text>
<text x="1138.8" y="103.5" font-size="11" text-anchor="end" fill="#222">29.7</text>
<text x="1027.8" y="208.5" font-size="11" fill="#222">0</text>
<text x="1138.8" y="208.5" font-size="11" text-anchor="end" fill="#222">70.3</text>
<text class="k" x="1029" y="222.5">10<tspan dy="-3">2</tspan></text>
<text class="k" transform="translate(1020.3 209.3) rotate(-90)">10<tspan dy="-3">2</tspan></text>
<text class="k" x="1051.8" y="222.5">10<tspan dy="-3">3</tspan></text>
<text class="k" transform="translate(1020.3 186.6) rotate(-90)">10<tspan dy="-3">3</tspan></text>
<text class="k" x="1074.5" y="222.5">10<tspan dy="-3">4</tspan></text>
<text class="k" transform="translate(1020.3 164) rotate(-90)">10<tspan dy="-3">4</tspan></text>
<text class="k" x="1097.3" y="222.5">10<tspan dy="-3">5</tspan></text>
<text class="k" transform="translate(1020.3 141.3) rotate(-90)">10<tspan dy="-3">5</tspan></text>
<text class="k" x="1120" y="222.5">10<tspan dy="-3">6</tspan></text>
<text class="k" transform="translate(1020.3 118.7) rotate(-90)">10<tspan dy="-3">6</tspan></text>
<text class="k" x="1142.8" y="222.5">10<tspan dy="-3">7</tspan></text>
<text class="k" transform="translate(1020.3 96) rotate(-90)">10<tspan dy="-3">7</tspan></text>
<line x1="1168.8" y1="92" x2="1168.8" y2="212" stroke="#c8c8c8" stroke-width="1" stroke-dasharray="1.5 1.5"/>
<line x1="1168.8" y1="212" x2="1288.8" y2="212" stroke="#c8c8c8" stroke-width="1" stroke-dasharray="1.5 1.5"/>
<line x1="1288.8" y1="92" x2="1288.8" y2="212" stroke="#999" stroke-width="1.2"/>
<ellipse cx="1245.6" cy="165.2" rx="12.6" ry="7.6" fill="url(#gW)" transform="rotate(-36.9 1245.6 165.2)"/>
<path d="M1259 126h1m-2 1h1m-5 2h1m1 0h1m2 0h1m-6 2h1m2 0h1m0 0h1m-5 3h1m1 0h1m1 0h1m0 0h1m-11 1h1m2 0h1m2 0h1m0 0h1m-1 1h1m2 0h1m-8 1h1m0 0h1m0 0h1m0 0h1m0 0h1m1 0h1m-9 2h1m7 0h1m-9 1h1m-2 1h1m6 0h1m-9 1h1m0 0h1m4 0h1m0 0h1m1 0h1m0 0h1m-5 1h1m2 0h1m-8 1h1m5 0h1m2 0h1m-14 1h1m0 0h1m8 0h1m-7 1h1m6 0h1m-12 1h1m8 0h1m-9 1h1m6 0h1m1 1h1m-3 1h1m1 0h1m0 0h1m-11 1h1m6 0h1m0 0h1m2 0h1m-15 2h1m13 0h1m-15 1h1m-2 1h1m0 0h1m12 0h1m0 0h1m-20 5h1m1 1h1m12 4h1m0 3h1m-25 1h1m-4 3h1m22 0h1m1 0h1m-25 1h1m23 0h1m-27 1h1m17 0h1m-19 1h1m1 1h1m-3 1h1m0 0h1m2 0h1m3 0h1m5 0h1m0 0h1m-11 1h1m2 0h1m6 0h1m-11 1h1m-6 1h1m3 1h1m0 0h1m-6 1h1" stroke="#2832f7" stroke-width="1" stroke-linecap="square"/>
<path d="M1254 138h1m1 0h1m-4 1h1m2 0h1m-5 2h1m0 0h1m-2 1h1m0 0h1m-2 2h1m0 0h1m-3 1h1m0 0h1m-5 2h1m0 0h1m0 0h1m0 0h1m-2 1h1m-3 1h1m3 0h1m-5 1h1m2 0h1m-2 1h1m1 0h1m0 0h1m-6 1h1m2 0h1m1 0h1m-9 1h1m4 0h1m2 0h1m1 0h1m-11 1h1m0 0h1m0 0h1m-3 1h1m0 0h1m5 0h1m2 0h1m-5 1h1m0 0h1m1 0h1m-11 1h1m7 0h1m1 0h1m-3 1h1m0 0h1m0 0h1m-1 2h1m-18 3h1m16 0h1m-18 1h1m-4 1h1m-2 1h1m0 1h1m17 2h1m-23 2h1m17 1h1m0 0h1m0 0h1m-20 1h1m17 0h1m0 0h1m-20 1h1m0 0h1m5 0h1m5 0h1m-15 1h1m4 0h1m0 0h1m5 0h1m0 0h1m-11 1h1m1 0h1m2 0h1m5 0h1" stroke="#1a2bf2" stroke-width="1" stroke-linecap="square"/>
<path d="M1259 108h1m-2 4h1m3 0h1m-4 2h1m1 1h1m-7 1h1m8 1h1m0 1h1m-5 1h1m2 1h1m-16 1h1m8 1h1m4 0h1m-13 1h1m8 1h1m-5 1h1m6 0h1m-4 1h1m0 1h1m-2 1h1m4 0h1m-13 2h1m-3 1h1m1 0h1m8 1h1m0 0h1m-17 2h1m18 3h1m-21 2h1m-1 1h1m0 0h1m15 0h1m0 0h1m-18 1h1m14 0h1m-3 5h1m-19 2h1m18 0h1m-20 1h1m-2 2h1m-3 1h1m17 4h1m-1 3h1m-20 2h1m20 1h1m0 0h1m-3 2h1m-1 1h1m-2 2h1m1 0h1m-11 8h1m-3 2h1m-22 1h1m6 2h1m2 0h1m10 1h1m-21 2h1" stroke="#3538fc" stroke-width="1" stroke-linecap="square"/>
<path d="M1248 156h1m-4 1h1m0 0h1m1 0h1m1 0h1m-4 1h1m-6 1h1m1 0h1m6 0h1m-8 1h1m6 0h1m1 0h1m-12 1h1m8 0h1m0 0h1m0 0h1m-13 1h1m-1 1h1m-2 1h1m10 1h1m0 0h1m0 0h1m-3 1h1m0 0h1m0 0h1m-2 1h1m-20 1h1m0 0h1m0 0h1m-2 1h1m0 0h1m-3 1h1m0 0h1m0 1h1m-3 2h1m0 0h1m4 1h1m0 0h1m0 0h1m-3 2h1m0 0h1" stroke="#0d4cf0" stroke-width="1" stroke-linecap="square"/>
<path d="M1245 159h1m0 0h1m0 0h1m0 0h1m-4 1h1m0 0h1m0 0h1m0 0h1m0 0h1m0 0h1m-5 1h1m0 0h1m0 0h1m0 0h1m0 0h1m0 1h1m-1 1h1m0 0h1m0 0h1m-3 1h1m0 0h1m0 0h1m-17 1h1m0 0h1m-3 1h1m-1 1h1m0 0h1m-2 4h1m0 0h1m0 0h1m6 0h1m-1 1h1m-10 1h1m1 0h1" stroke="#0096f0" stroke-width="1" stroke-linecap="square"/>
<path d="M1244 162h1m-3 1h1m0 0h1m0 0h1m-3 1h1m0 0h1m0 0h1m-9 4h1m0 0h1m10 0h1m0 0h1m0 0h1m-13 1h1m10 0h1m0 0h1m-14 1h1m0 0h1m9 0h1m0 0h1m-11 1h1m0 0h1m1 0h1m0 0h1m-5 1h1m0 0h1m0 0h1m0 0h1m1 0h1m-6 1h1m0 0h1m1 0h1m0 0h1m0 0h1" stroke="#00b7ba" stroke-width="1" stroke-linecap="square"/>
<path d="M1242 165h1m0 0h1m0 0h1m0 0h1m0 0h1m0 0h1m-6 1h1m0 0h1m0 0h1m0 0h1m0 0h1m0 0h1m-5 1h1m0 0h1m0 0h1m0 0h1m-8 1h1m0 0h1m0 0h1m4 0h1m0 0h1m-9 1h1m0 0h1m0 0h1m3 0h1m0 0h1m0 0h1m-9 1h1m0 0h1m0 0h1m3 0h1m0 0h1m0 0h1" stroke="#66d72c" stroke-width="1" stroke-linecap="square"/>
<path d="M1245 162h1m0 0h1m0 0h1m-3 1h1m0 0h1m0 0h1m0 0h1m0 0h1m-5 1h1m0 0h1m0 0h1m0 0h1m0 0h1m0 0h1m-11 1h1m0 0h1m6 0h1m0 0h1m0 0h1m-12 1h1m0 0h1m0 0h1m6 0h1m1 0h1m-11 1h1m0 0h1m7 0h1" stroke="#19cc76" stroke-width="1" stroke-linecap="square"/>
<path d="M1242 168h1m0 0h1m0 0h1m-3 1h1m0 0h1m0 0h1m-2 1h1m0 0h1" stroke="#e8dc00" stroke-width="1" stroke-linecap="square"/>
<line x1="1214" y1="92" x2="1214" y2="212" stroke="#5a5a5a" stroke-width="1.4"/>
<line x1="1168.8" y1="144.2" x2="1288.8" y2="144.2" stroke="#5a5a5a" stroke-width="1.4"/>
<text x="1173.3" y="103.5" font-size="11" fill="#222">0</text>
<text x="1284.3" y="103.5" font-size="11" text-anchor="end" fill="#222">24.4</text>
<text x="1173.3" y="208.5" font-size="11" fill="#222">0</text>
<text x="1284.3" y="208.5" font-size="11" text-anchor="end" fill="#222">75.3</text>
<text class="k" x="1174.5" y="222.5">10<tspan dy="-3">2</tspan></text>
<text class="k" transform="translate(1165.8 209.3) rotate(-90)">10<tspan dy="-3">2</tspan></text>
<text class="k" x="1197.3" y="222.5">10<tspan dy="-3">3</tspan></text>
<text class="k" transform="translate(1165.8 186.6) rotate(-90)">10<tspan dy="-3">3</tspan></text>
<text class="k" x="1220" y="222.5">10<tspan dy="-3">4</tspan></text>
<text class="k" transform="translate(1165.8 164) rotate(-90)">10<tspan dy="-3">4</tspan></text>
<text class="k" x="1242.8" y="222.5">10<tspan dy="-3">5</tspan></text>
<text class="k" transform="translate(1165.8 141.3) rotate(-90)">10<tspan dy="-3">5</tspan></text>
<text class="k" x="1265.5" y="222.5">10<tspan dy="-3">6</tspan></text>
<text class="k" transform="translate(1165.8 118.7) rotate(-90)">10<tspan dy="-3">6</tspan></text>
<text class="k" x="1288.3" y="222.5">10<tspan dy="-3">7</tspan></text>
<text class="k" transform="translate(1165.8 96) rotate(-90)">10<tspan dy="-3">7</tspan></text>
<line x1="1314" y1="92" x2="1314" y2="212" stroke="#c8c8c8" stroke-width="1" stroke-dasharray="1.5 1.5"/>
<line x1="1314" y1="212" x2="1434" y2="212" stroke="#c8c8c8" stroke-width="1" stroke-dasharray="1.5 1.5"/>
<line x1="1434" y1="92" x2="1434" y2="212" stroke="#999" stroke-width="1.2"/>
<ellipse cx="1386" cy="172.4" rx="12.6" ry="7.6" fill="url(#gW)" transform="rotate(-35 1386 172.4)"/>
<path d="M1397 135h1m1 0h1m1 1h1m-7 1h1m1 0h1m5 0h1m-12 1h1m2 0h1m5 0h1m-8 1h1m0 0h1m3 0h1m0 0h1m1 0h1m-10 1h1m3 0h1m0 0h1m0 0h1m0 0h1m1 0h1m-8 2h1m0 0h1m2 0h1m-6 1h1m2 0h1m5 0h1m-10 1h1m2 0h1m3 0h1m-1 1h1m0 0h1m-9 1h1m0 0h1m0 0h1m0 0h1m-10 1h1m0 0h1m2 0h1m-5 1h1m12 0h1m-12 1h1m3 0h1m6 0h1m-11 1h1m10 0h1m-13 1h1m11 0h1m-17 1h1m2 0h1m1 0h1m-6 1h1m12 0h1m-2 1h1m-1 1h1m-15 1h1m10 1h1m1 0h1m0 0h1m-4 1h1m2 0h1m-4 1h1m1 0h1m-14 1h1m-1 1h1m11 0h1m-12 1h1m9 0h1m0 0h1m0 0h1m-15 2h1m-2 1h1m-1 1h1m12 2h1m-1 1h1m-3 5h1m0 1h1m-22 1h1m18 1h1m-23 2h1m-2 1h1m0 0h1m-4 1h1m1 0h1m-4 1h1m1 0h1m0 1h1m-4 1h1m7 0h1m0 0h1m-10 1h1m2 0h1m-2 1h1m0 0h1m0 0h1m-4 1h1m0 0h1m1 0h1m-6 1h1m1 1h1" stroke="#2832f7" stroke-width="1" stroke-linecap="square"/>
<path d="M1396 147h1m1 0h1m0 0h1m-2 1h1m-4 1h1m0 0h1m1 0h1m1 0h1m-9 2h1m0 0h1m2 0h1m1 0h1m0 0h1m0 1h1m-12 1h1m1 0h1m0 0h1m0 0h1m-5 1h1m3 0h1m2 0h1m-8 1h1m5 0h1m1 0h1m-9 1h1m4 0h1m-9 1h1m4 0h1m-6 1h1m1 0h1m0 0h1m2 0h1m-6 1h1m0 0h1m-3 1h1m-1 1h1m1 0h1m3 0h1m0 0h1m-6 1h1m-3 1h1m1 0h1m7 2h1m-2 1h1m-1 1h1m1 0h1m-4 2h1m-3 1h1m-17 1h1m15 0h1m0 0h1m-19 1h1m16 1h1m-2 4h1m-19 1h1m-3 1h1m1 0h1m-3 1h1m1 0h1m12 0h1m0 0h1m-16 1h1m13 0h1m-14 1h1m5 1h1m0 0h1m0 0h1m-11 1h1m0 1h1" stroke="#1a2bf2" stroke-width="1" stroke-linecap="square"/>
<path d="M1389 168h1m1 0h1m-2 1h1m0 0h1m-3 1h1m0 0h1m-14 1h1m0 0h1m10 0h1m0 0h1m-13 1h1m11 0h1m0 0h1m-14 1h1m0 0h1m9 1h1m0 0h1m0 0h1m-3 2h1m0 0h1m0 0h1m-18 1h1m0 0h1m0 0h1m9 0h1m0 0h1m-12 1h1m9 0h1m0 0h1m0 0h1m-14 1h1m10 0h1m1 0h1m-11 1h1m0 0h1m1 0h1m0 0h1m0 0h1m0 0h1m-8 1h1m1 0h1m0 0h1m0 0h1m0 0h1m1 0h1m-7 1h1m0 0h1m2 0h1m0 0h1m0 0h1m0 0h1" stroke="#0096f0" stroke-width="1" stroke-linecap="square"/>
<path d="M1404 115h1m-1 4h1m-2 4h1m3 4h1m-2 1h1m-3 1h1m-6 1h1m-2 1h1m-8 1h1m12 1h1m2 0h1m-11 1h1m4 0h1m2 0h1m-12 3h1m-7 1h1m1 4h1m15 2h1m0 0h1m-17 1h1m-7 5h1m-1 2h1m18 1h1m-22 1h1m17 0h1m-19 1h1m-2 3h1m-3 1h1m0 2h1m-4 6h1m-8 6h1m-6 1h1m-1 4h1m21 6h1m-28 2h1m2 0h1m17 0h1m-2 1h1m-27 1h1m18 0h1m-5 1h1m1 0h1m-10 1h1m-1 1h1m0 1h1m1 1h1m-5 1h1" stroke="#3538fc" stroke-width="1" stroke-linecap="square"/>
<path d="M1389 159h1m0 0h1m0 0h1m-1 1h1m-2 1h1m0 0h1m-3 1h1m3 0h1m0 0h1m-6 1h1m0 0h1m1 0h1m0 0h1m-5 1h1m2 0h1m0 0h1m0 0h1m-11 1h1m1 0h1m0 0h1m0 0h1m5 0h1m-12 1h1m0 0h1m3 0h1m0 0h1m3 0h1m0 0h1m-12 1h1m2 0h1m1 0h1m0 0h1m0 0h1m0 0h1m-12 1h1m-1 2h1m0 0h1m0 0h1m-8 5h1m0 0h1m-2 1h1m0 0h1m-1 4h1m-2 1h1m0 1h1" stroke="#0d4cf0" stroke-width="1" stroke-linecap="square"/>
<path d="M1380 171h1m0 0h1m0 0h1m4 0h1m0 0h1m-9 1h1m0 0h1m0 0h1m4 0h1m0 0h1m-9 1h1m0 0h1m0 0h1m3 0h1m0 0h1m0 0h1m-11 1h1m0 0h1m6 0h1m0 0h1m0 0h1m-12 1h1m0 0h1m0 0h1m6 0h1m0 0h1m-11 1h1m0 0h1m0 0h1m6 0h1m-10 1h1m0 0h1m0 0h1m4 0h1m0 0h1m-8 1h1m0 0h1m3 0h1m-5 1h1m4 0h1m0 0h1" stroke="#19cc76" stroke-width="1" stroke-linecap="square"/>
<path d="M1383 171h1m0 0h1m0 0h1m-3 1h1m1 0h1m-3 1h1m0 0h1m0 0h1m-5 1h1m0 0h1m-2 1h1m0 0h1m-2 1h1m0 0h1m-3 1h1m0 0h1m0 0h1m-3 1h1m0 0h1m0 0h1m-1 1h1" stroke="#66d72c" stroke-width="1" stroke-linecap="square"/>
<path d="M1383 168h1m2 0h1m0 0h1m0 0h1m-6 1h1m1 0h1m0 0h1m0 0h1m0 0h1m-4 1h1m0 0h1m0 0h1m0 0h1" stroke="#00b7ba" stroke-width="1" stroke-linecap="square"/>
<path d="M1383 174h1m0 0h1m0 0h1m-3 1h1m0 0h1m0 0h1m-2 1h1" stroke="#e8dc00" stroke-width="1" stroke-linecap="square"/>
<line x1="1359.2" y1="92" x2="1359.2" y2="212" stroke="#5a5a5a" stroke-width="1.4"/>
<line x1="1314" y1="144.2" x2="1434" y2="144.2" stroke="#5a5a5a" stroke-width="1.4"/>
<text x="1318.5" y="103.5" font-size="11" fill="#222">0</text>
<text x="1429.5" y="103.5" font-size="11" text-anchor="end" fill="#222">33.2</text>
<text x="1318.5" y="208.5" font-size="11" fill="#222">0</text>
<text x="1429.5" y="208.5" font-size="11" text-anchor="end" fill="#222">66.8</text>
<text class="k" x="1319.7" y="222.5">10<tspan dy="-3">2</tspan></text>
<text class="k" transform="translate(1311 209.3) rotate(-90)">10<tspan dy="-3">2</tspan></text>
<text class="k" x="1342.5" y="222.5">10<tspan dy="-3">3</tspan></text>
<text class="k" transform="translate(1311 186.6) rotate(-90)">10<tspan dy="-3">3</tspan></text>
<text class="k" x="1365.2" y="222.5">10<tspan dy="-3">4</tspan></text>
<text class="k" transform="translate(1311 164) rotate(-90)">10<tspan dy="-3">4</tspan></text>
<text class="k" x="1388" y="222.5">10<tspan dy="-3">5</tspan></text>
<text class="k" transform="translate(1311 141.3) rotate(-90)">10<tspan dy="-3">5</tspan></text>
<text class="k" x="1410.7" y="222.5">10<tspan dy="-3">6</tspan></text>
<text class="k" transform="translate(1311 118.7) rotate(-90)">10<tspan dy="-3">6</tspan></text>
<text class="k" x="1433.5" y="222.5">10<tspan dy="-3">7</tspan></text>
<text class="k" transform="translate(1311 96) rotate(-90)">10<tspan dy="-3">7</tspan></text>
<line x1="876.3" y1="235.6" x2="876.3" y2="355.6" stroke="#c8c8c8" stroke-width="1" stroke-dasharray="1.5 1.5"/>
<line x1="876.3" y1="355.6" x2="996.3" y2="355.6" stroke="#c8c8c8" stroke-width="1" stroke-dasharray="1.5 1.5"/>
<line x1="996.3" y1="235.6" x2="996.3" y2="355.6" stroke="#999" stroke-width="1.2"/>
<ellipse cx="960.3" cy="295.6" rx="12.6" ry="7.6" fill="url(#gW)" transform="rotate(-39.6 960.3 295.6)"/>
<path d="M963 285h1m1 0h1m1 0h1m-5 1h1m0 0h1m0 0h1m0 0h1m1 0h1m-6 1h1m0 0h1m0 0h1m1 0h1m-8 1h1m5 0h1m0 0h1m0 0h1m-9 1h1m0 0h1m0 0h1m4 0h1m-8 1h1m0 0h1m4 0h1m0 0h1m0 0h1m-10 1h1m6 0h1m1 0h1m-3 1h1m-10 1h1m0 0h1m0 0h1m6 0h1m0 0h1m-13 1h1m0 0h1m-3 1h1m1 0h1m-1 1h1m7 1h1m0 0h1m-3 1h1m0 0h1m-1 1h1m-5 1h1m1 0h1m-3 1h1m0 0h1m0 0h1m-3 1h1m0 0h1m0 0h1m-12 1h1m1 0h1m0 0h1m0 0h1m-4 1h1m0 0h1m0 0h1m-4 1h1m0 0h1m1 0h1" stroke="#00b7ba" stroke-width="1" stroke-linecap="square"/>
<path d="M973 264h1m0 1h1m-2 1h1m-3 1h1m-5 3h1m2 0h1m-3 1h1m0 1h1m2 0h1m-9 1h1m9 0h1m2 0h1m-6 1h1m2 0h1m0 0h1m0 0h1m-17 3h1m1 0h1m11 0h1m-12 1h1m7 2h1m0 0h1m-2 1h1m0 3h1m0 1h1m-2 1h1m-20 1h1m17 2h1m1 0h1m-22 4h1m-4 3h1m-9 7h1m0 0h1m0 0h1m18 0h1m-20 1h1m13 3h1m-2 1h1m-19 1h1m0 0h1m0 0h1m8 0h1m-4 1h1m-8 1h1m0 0h1m5 0h1m-11 2h1m3 0h1m1 0h1m0 0h1m-1 1h1m1 0h1" stroke="#2832f7" stroke-width="1" stroke-linecap="square"/>
<path d="M970 273h1m0 1h1m-6 1h1m0 0h1m0 0h1m2 0h1m-5 1h1m1 0h1m2 0h1m0 0h1m-7 1h1m0 0h1m1 0h1m0 0h1m2 0h1m-7 1h1m5 0h1m-13 1h1m-1 2h1m6 1h1m0 1h1m0 0h1m-3 1h1m-11 2h1m-1 1h1m-5 1h1m-2 1h1m1 0h1m-1 1h1m-4 5h1m16 0h1m-22 2h1m0 0h1m-2 1h1m0 1h1m-6 1h1m1 3h1m13 0h1m-15 1h1m-3 1h1m1 0h1m-3 1h1m0 0h1m9 0h1m-15 1h1m2 0h1m1 0h1m-5 1h1m1 0h1m-3 1h1m-1 2h1m0 0h1" stroke="#1a2bf2" stroke-width="1" stroke-linecap="square"/>
<path d="M963 279h1m0 0h1m2 0h1m3 0h1m-9 1h1m0 0h1m0 0h1m1 0h1m0 0h1m1 0h1m0 0h1m-6 1h1m4 0h1m-11 1h1m-1 1h1m-1 1h1m0 0h1m7 2h1m-14 2h1m0 0h1m10 0h1m0 0h1m0 0h1m-14 1h1m10 0h1m0 0h1m-13 1h1m0 0h1m11 0h1m-3 1h1m-14 1h1m12 0h1m0 0h1m-17 1h1m1 0h1m10 4h1m-2 1h1m0 0h1m-5 2h1m1 0h1m-3 2h1m-16 4h1m1 0h1m0 0h1m1 1h1m-2 1h1m0 0h1" stroke="#0d4cf0" stroke-width="1" stroke-linecap="square"/>
<path d="M963 288h1m0 0h1m-2 1h1m0 0h1m-2 1h1m0 0h1m0 0h1m-6 1h1m1 0h1m-3 1h1m0 0h1m0 0h1m-2 1h1m0 0h1m-6 1h1m0 0h1m0 0h1m3 0h1m1 0h1m-9 1h1m0 0h1m0 0h1m3 0h1m0 0h1m0 0h1m-9 1h1m1 0h1m3 0h1m0 0h1m-14 4h1m0 0h1m0 0h1m3 0h1m0 0h1m0 0h1m-7 1h1m3 0h1m0 0h1m0 0h1m-9 1h1m0 0h1m0 0h1m3 0h1m0 0h1m0 0h1" stroke="#19cc76" stroke-width="1" stroke-linecap="square"/>
<path d="M963 282h1m1 0h1m1 0h1m0 0h1m-6 1h1m0 0h1m0 0h1m0 0h1m1 0h1m-6 1h1m1 0h1m1 0h1m0 0h1m-8 2h1m0 0h1m-3 1h1m1 0h1m3 7h1m0 0h1m0 0h1m-2 1h1m0 0h1m-3 1h1m0 0h1m-15 1h1m-3 1h1m1 0h1m-3 1h1m0 0h1m0 0h1m-5 2h1m-1 1h1m-2 1h1m10 0h1m-12 1h1m0 0h1m-2 1h1m1 0h1m6 0h1" stroke="#0096f0" stroke-width="1" stroke-linecap="square"/>
<path d="M972 259h1m-1 1h1m-3 3h1m1 0h1m3 0h1m-11 1h1m2 1h1m-2 1h1m6 0h1m-14 1h1m2 1h1m7 0h1m-10 2h1m-2 1h1m-7 4h1m-1 1h1m0 3h1m-3 1h1m-1 1h1m20 0h1m-17 25h1m-9 4h1m-19 2h1m12 0h1m3 0h1m4 0h1m-24 3h1m1 0h1m2 0h1m0 0h1m-2 2h1m-10 1h1m0 0h1m2 0h1m-4 1h1m1 3h1" stroke="#3538fc" stroke-width="1" stroke-linecap="square"/>
<path d="M965 291h1m-2 1h1m0 0h1m-2 1h1m0 0h1m-6 1h1m0 0h1m-2 1h1m0 0h1m-2 1h1m0 0h1m0 0h1m-8 1h1m0 0h1m3 0h1m0 0h1m-6 1h1m5 0h1m-9 1h1m0 0h1m0 0h1m4 0h1m0 0h1m-9 1h1m0 0h1m0 0h1m-3 1h1m-1 1h1" stroke="#66d72c" stroke-width="1" stroke-linecap="square"/>
<path d="M957 297h1m0 0h1m0 0h1m-3 1h1m1 0h1m-3 1h1m0 0h1m0 0h1" stroke="#e8dc00" stroke-width="1" stroke-linecap="square"/>
<line x1="921.5" y1="235.6" x2="921.5" y2="355.6" stroke="#5a5a5a" stroke-width="1.4"/>
<line x1="876.3" y1="287.7" x2="996.3" y2="287.7" stroke="#5a5a5a" stroke-width="1.4"/>
<text x="880.8" y="247.1" font-size="11" fill="#222">0</text>
<text x="991.8" y="247.1" font-size="11" text-anchor="end" fill="#222">47.8</text>
<text x="880.8" y="352.1" font-size="11" fill="#222">0</text>
<text x="991.8" y="352.1" font-size="11" text-anchor="end" fill="#222">52.2</text>
<text class="k" x="882" y="366.1">10<tspan dy="-3">2</tspan></text>
<text class="k" transform="translate(873.3 352.9) rotate(-90)">10<tspan dy="-3">2</tspan></text>
<text class="k" x="904.8" y="366.1">10<tspan dy="-3">3</tspan></text>
<text class="k" transform="translate(873.3 330.2) rotate(-90)">10<tspan dy="-3">3</tspan></text>
<text class="k" x="927.5" y="366.1">10<tspan dy="-3">4</tspan></text>
<text class="k" transform="translate(873.3 307.6) rotate(-90)">10<tspan dy="-3">4</tspan></text>
<text class="k" x="950.3" y="366.1">10<tspan dy="-3">5</tspan></text>
<text class="k" transform="translate(873.3 284.9) rotate(-90)">10<tspan dy="-3">5</tspan></text>
<text class="k" x="973" y="366.1">10<tspan dy="-3">6</tspan></text>
<text class="k" transform="translate(873.3 262.3) rotate(-90)">10<tspan dy="-3">6</tspan></text>
<text class="k" x="995.8" y="366.1">10<tspan dy="-3">7</tspan></text>
<text class="k" transform="translate(873.3 239.6) rotate(-90)">10<tspan dy="-3">7</tspan></text>
<line x1="1023.3" y1="235.6" x2="1023.3" y2="355.6" stroke="#c8c8c8" stroke-width="1" stroke-dasharray="1.5 1.5"/>
<line x1="1023.3" y1="355.6" x2="1143.3" y2="355.6" stroke="#c8c8c8" stroke-width="1" stroke-dasharray="1.5 1.5"/>
<line x1="1143.3" y1="235.6" x2="1143.3" y2="355.6" stroke="#999" stroke-width="1.2"/>
<ellipse cx="1108.5" cy="300.4" rx="12.6" ry="7.6" fill="url(#gW)" transform="rotate(-38.3 1108.5 300.4)"/>
<path d="M1114 276h1m0 0h1m-3 1h1m0 1h1m0 0h1m-5 1h1m0 0h1m1 0h1m-5 1h1m4 0h1m-4 1h1m-6 1h1m0 0h1m0 0h1m3 0h1m1 0h1m-7 1h1m1 0h1m0 0h1m2 0h1m-9 1h1m0 0h1m5 0h1m-7 1h1m6 0h1m0 0h1m0 0h1m0 0h1m-12 1h1m9 0h1m-10 1h1m4 0h1m2 3h1m1 0h1m-15 2h1m1 0h1m11 0h1m-15 1h1m1 0h1m9 0h1m0 1h1m0 0h1m-18 2h1m14 0h1m-1 1h1m0 0h1m-2 2h1m-2 4h1m-20 1h1m0 0h1m-1 1h1m16 0h1m-5 1h1m0 0h1m-2 1h1m0 0h1m-19 2h1m2 0h1m-4 1h1m0 0h1m2 0h1m-5 1h1m0 0h1m2 0h1m-5 1h1m1 0h1m1 0h1m-6 1h1m0 0h1m3 0h1m-5 1h1m1 0h1" stroke="#1a2bf2" stroke-width="1" stroke-linecap="square"/>
<path d="M1113 273h1m3 0h1m-6 2h1m1 0h1m-5 1h1m0 0h1m4 1h1m-10 1h1m1 0h1m0 0h1m6 0h1m-2 2h1m-9 1h1m9 0h1m-15 1h1m12 0h1m-2 1h1m2 2h1m-14 2h1m12 0h1m-14 1h1m-1 1h1m-1 1h1m-4 1h1m-1 1h1m17 0h1m-3 2h1m1 0h1m-24 4h1m-1 1h1m21 0h1m-25 1h1m21 0h1m-3 1h1m-1 1h1m1 0h1m-5 4h1m0 0h1m-24 2h1m15 1h1m-19 1h1m0 0h1m-2 1h1m9 1h1m3 0h1m-1 1h1m-3 1h1m1 0h1m1 0h1m-18 1h1m4 0h1m2 0h1m0 0h1m-6 1h1m6 0h1m-11 1h1m0 0h1m6 0h1" stroke="#2832f7" stroke-width="1" stroke-linecap="square"/>
<path d="M1109 294h1m-3 1h1m1 0h1m0 0h1m0 0h1m0 0h1m-6 1h1m0 0h1m0 0h1m0 0h1m0 0h1m0 0h1m-9 1h1m1 0h1m3 0h1m0 0h1m0 0h1m-9 1h1m0 0h1m0 0h1m3 0h1m0 0h1m0 0h1m-9 1h1m0 0h1m0 0h1m3 0h1m0 0h1m0 0h1m-3 1h1m0 0h1m0 0h1m-2 1h1m-2 1h1m0 0h1m-5 1h1m0 0h1m0 0h1m-3 1h1m0 0h1m0 0h1m-2 1h1m0 0h1m-9 1h1m0 0h1m0 0h1m-3 1h1m0 0h1m0 0h1m-3 1h1m0 0h1m0 0h1" stroke="#19cc76" stroke-width="1" stroke-linecap="square"/>
<path d="M1111 288h1m0 0h1m-3 1h1m0 0h1m-1 1h1m-5 1h1m1 0h1m3 0h1m0 0h1m0 0h1m-9 1h1m0 0h1m4 0h1m0 0h1m-8 1h1m1 0h1m3 0h1m-9 2h1m0 1h1m-4 1h1m11 0h1m-15 1h1m0 0h1m10 0h1m0 0h1m0 0h1m-15 1h1m0 0h1m0 0h1m9 0h1m-1 1h1m-1 1h1m0 0h1m0 0h1m-6 2h1m0 0h1m-1 1h1m0 0h1m-6 2h1m1 0h1m-2 1h1m-2 1h1m-7 1h1m0 0h1m-2 1h1" stroke="#0096f0" stroke-width="1" stroke-linecap="square"/>
<path d="M1110 291h1m0 0h1m0 0h1m-3 1h1m0 0h1m0 0h1m-2 1h1m0 0h1m2 1h1m-3 1h1m1 0h1m-3 1h1m0 0h1m0 0h1m-15 4h1m0 0h1m-1 1h1m0 0h1m-3 1h1m1 0h1m-6 1h1m0 0h1m0 0h1m-3 1h1m1 0h1m-2 1h1m0 0h1m-3 1h1m0 0h1m0 0h1m4 0h1m0 0h1m-9 1h1m0 0h1m0 0h1m3 0h1m0 0h1m0 0h1m-9 1h1m0 0h1m0 0h1m3 0h1" stroke="#00b7ba" stroke-width="1" stroke-linecap="square"/>
<path d="M1116 264h1m0 1h1m-8 2h1m5 2h1m-9 2h1m5 0h1m-3 1h1m6 0h1m-13 1h1m1 2h1m9 1h1m3 1h1m-21 3h1m-1 1h1m16 3h1m-22 6h1m19 0h1m4 0h1m-28 2h1m26 3h1m-26 1h1m-12 10h1m-3 6h1m1 2h1m-3 2h1m-3 1h1m-3 1h1m2 0h1m6 0h1m-3 2h1m-3 1h1m1 0h1" stroke="#3538fc" stroke-width="1" stroke-linecap="square"/>
<path d="M1107 297h1m0 0h1m0 0h1m-3 1h1m0 0h1m0 0h1m-3 1h1m0 0h1m0 0h1m-3 1h1m1 0h1m-3 1h1m0 0h1m0 0h1m-3 1h1m0 0h1m0 0h1m-8 1h1m0 0h1m0 0h1m0 0h1m0 0h1m-6 1h1m0 0h1m0 0h1m0 0h1m-4 1h1m1 0h1m0 0h1m0 0h1m0 0h1" stroke="#66d72c" stroke-width="1" stroke-linecap="square"/>
<path d="M1111 285h1m0 2h1m-6 1h1m1 0h1m3 0h1m0 0h1m-6 1h1m5 0h1m-7 1h1m4 0h1m0 0h1m-18 11h1m0 0h1m0 1h1m-5 5h1m0 0h1m-3 1h1m1 0h1m1 1h1m4 0h1m1 0h1m-9 1h1m0 0h1m4 0h1m-5 1h1" stroke="#0d4cf0" stroke-width="1" stroke-linecap="square"/>
<path d="M1104 300h1m0 0h1m0 0h1m-3 1h1m0 0h1m0 0h1m-3 1h1m0 0h1m0 0h1" stroke="#e8dc00" stroke-width="1" stroke-linecap="square"/>
<line x1="1068.5" y1="235.6" x2="1068.5" y2="355.6" stroke="#5a5a5a" stroke-width="1.4"/>
<line x1="1023.3" y1="287.7" x2="1143.3" y2="287.7" stroke="#5a5a5a" stroke-width="1.4"/>
<text x="1027.8" y="247.1" font-size="11" fill="#222">0</text>
<text x="1138.8" y="247.1" font-size="11" text-anchor="end" fill="#222">37.5</text>
<text x="1027.8" y="352.1" font-size="11" fill="#222">0</text>
<text x="1138.8" y="352.1" font-size="11" text-anchor="end" fill="#222">62.5</text>
<text class="k" x="1029" y="366.1">10<tspan dy="-3">2</tspan></text>
<text class="k" transform="translate(1020.3 352.9) rotate(-90)">10<tspan dy="-3">2</tspan></text>
<text class="k" x="1051.8" y="366.1">10<tspan dy="-3">3</tspan></text>
<text class="k" transform="translate(1020.3 330.2) rotate(-90)">10<tspan dy="-3">3</tspan></text>
<text class="k" x="1074.5" y="366.1">10<tspan dy="-3">4</tspan></text>
<text class="k" transform="translate(1020.3 307.6) rotate(-90)">10<tspan dy="-3">4</tspan></text>
<text class="k" x="1097.3" y="366.1">10<tspan dy="-3">5</tspan></text>
<text class="k" transform="translate(1020.3 284.9) rotate(-90)">10<tspan dy="-3">5</tspan></text>
<text class="k" x="1120" y="366.1">10<tspan dy="-3">6</tspan></text>
<text class="k" transform="translate(1020.3 262.3) rotate(-90)">10<tspan dy="-3">6</tspan></text>
<text class="k" x="1142.8" y="366.1">10<tspan dy="-3">7</tspan></text>
<text class="k" transform="translate(1020.3 239.6) rotate(-90)">10<tspan dy="-3">7</tspan></text>
<line x1="1168.8" y1="235.6" x2="1168.8" y2="355.6" stroke="#c8c8c8" stroke-width="1" stroke-dasharray="1.5 1.5"/>
<line x1="1168.8" y1="355.6" x2="1288.8" y2="355.6" stroke="#c8c8c8" stroke-width="1" stroke-dasharray="1.5 1.5"/>
<line x1="1288.8" y1="235.6" x2="1288.8" y2="355.6" stroke="#999" stroke-width="1.2"/>
<ellipse cx="1244.4" cy="307.6" rx="12.6" ry="7.6" fill="url(#gW)" transform="rotate(-39.5 1244.4 307.6)"/>
<path d="M1248 288h1m2 0h1m0 0h1m-5 1h1m0 0h1m1 0h1m0 0h1m0 0h1m-4 1h1m1 0h1m0 0h1m-6 1h1m0 0h1m2 0h1m0 0h1m-6 1h1m0 0h1m0 0h1m2 0h1m-6 1h1m0 0h1m0 0h1m0 0h1m1 0h1m-6 1h1m2 0h1m-4 1h1m1 0h1m0 0h1m0 0h1m0 0h1m-6 1h1m1 0h1m2 0h1m-6 1h1m0 0h1m0 0h1m-4 1h1m0 0h1m3 0h1m-8 1h1m1 0h1m0 0h1m2 0h1m0 0h1m-2 1h1m-9 1h1m8 0h1m-11 1h1m1 0h1m6 0h1m0 0h1m0 0h1m-14 3h1m0 0h1m9 1h1m0 0h1m0 0h1m-17 1h1m13 0h1m0 0h1m-17 1h1m1 0h1m12 0h1m-18 4h1m0 0h1m-3 1h1m1 0h1m-3 1h1m0 0h1m0 0h1m8 1h1m-3 1h1m1 0h1m-2 1h1m-11 1h1m-1 1h1m0 0h1" stroke="#0d4cf0" stroke-width="1" stroke-linecap="square"/>
<path d="M1251 279h1m0 1h1m0 0h1m-2 1h1m-1 1h1m1 0h1m1 0h1m-6 1h1m0 0h1m0 1h1m0 0h1m0 0h1m0 0h1m-9 1h1m1 0h1m0 0h1m0 0h1m0 0h1m0 0h1m-6 1h1m4 1h1m1 0h1m-11 1h1m0 0h1m6 0h1m0 0h1m-10 1h1m7 1h1m-10 1h1m1 0h1m6 0h1m0 0h1m-9 1h1m6 0h1m-8 1h1m6 0h1m-9 1h1m0 0h1m-6 3h1m0 0h1m-10 12h1m0 0h1m15 1h1m-18 1h1m16 0h1m-3 1h1m-1 1h1m-2 1h1m-19 1h1m14 0h1m-14 1h1m-3 1h1m1 0h1m-1 1h1m3 0h1m1 0h1m-9 1h1m5 0h1m4 0h1m-11 1h1m8 0h1m-8 1h1m0 0h1m0 0h1" stroke="#1a2bf2" stroke-width="1" stroke-linecap="square"/>
<path d="M1247 303h1m0 0h1m0 0h1m0 0h1m-6 1h1m0 0h1m0 0h1m1 0h1m0 0h1m-6 1h1m0 0h1m1 0h1m-10 1h1m0 0h1m0 0h1m3 0h1m0 0h1m1 0h1m0 0h1m0 0h1m-11 1h1m0 0h1m3 0h1m0 0h1m0 0h1m0 0h1m0 0h1m-11 1h1m0 0h1m0 0h1m3 0h1m1 0h1m0 0h1m1 0h1m-6 1h1m0 0h1m0 0h1m-3 1h1m0 0h1m0 0h1m-3 1h1m1 0h1m-12 1h1m1 0h1m3 0h1m0 0h1m-8 1h1m0 0h1m0 0h1m3 0h1m0 0h1m0 0h1m-8 1h1m0 0h1m3 0h1m0 0h1m0 0h1" stroke="#19cc76" stroke-width="1" stroke-linecap="square"/>
<path d="M1253 276h1m2 1h1m-6 1h1m-2 1h1m4 0h1m-7 2h1m0 0h1m3 0h1m0 0h1m0 0h1m0 2h1m0 2h1m0 0h1m-13 2h1m10 0h1m0 0h1m-3 2h1m-16 2h1m-1 1h1m0 0h1m14 1h1m-15 1h1m11 0h1m-3 1h1m-1 1h1m1 2h1m-16 3h1m-5 2h1m16 3h1m-22 1h1m21 0h1m-22 1h1m-4 3h1m20 1h1m-5 3h1m0 0h1m-8 4h1m0 0h1m-2 1h1m-14 1h1m2 0h1m-4 1h1m0 1h1m0 0h1m-2 1h1m0 0h1" stroke="#2832f7" stroke-width="1" stroke-linecap="square"/>
<path d="M1245 300h1m0 0h1m0 0h1m1 0h1m0 0h1m-6 1h1m0 0h1m2 0h1m0 0h1m-6 1h1m1 0h1m0 0h1m0 0h1m0 0h1m0 1h1m-1 1h1m0 0h1m0 0h1m-3 1h1m0 0h1m0 0h1m-6 4h1m0 0h1m0 0h1m-2 1h1m-2 1h1m1 0h1m-6 1h1m0 0h1m-1 1h1m0 0h1m-3 1h1m1 0h1m-15 1h1m1 0h1m3 0h1m0 0h1m0 0h1m-9 1h1m1 0h1m3 0h1m0 0h1m0 0h1m-7 1h1" stroke="#0096f0" stroke-width="1" stroke-linecap="square"/>
<path d="M1263 261h1m-4 1h1m0 2h1m3 1h1m-7 4h1m-7 2h1m4 0h1m0 0h1m-7 1h1m5 0h1m0 1h1m-11 1h1m11 0h1m-8 1h1m1 0h1m1 0h1m-10 1h1m11 7h1m-21 1h1m18 2h1m-23 3h1m20 0h1m1 1h1m-23 3h1m-2 4h1m0 2h1m17 0h1m-2 5h1m-30 11h1m23 0h1m-2 1h1m-27 1h1m24 1h1m-27 1h1m1 1h1m-4 1h1m2 0h1m16 0h1m-22 4h1m11 0h1m-15 2h1m3 2h1" stroke="#3538fc" stroke-width="1" stroke-linecap="square"/>
<path d="M1242 306h1m0 0h1m0 0h1m-2 1h1m0 0h1m-2 1h1m0 0h1m-5 1h1m0 0h1m-3 1h1m0 0h1m0 0h1m-3 1h1m0 0h1m-2 1h1m0 0h1m0 0h1m-3 1h1m0 0h1m0 0h1m-3 1h1m0 0h1m0 0h1" stroke="#66d72c" stroke-width="1" stroke-linecap="square"/>
<path d="M1242 303h1m0 0h1m-2 1h1m0 0h1m-2 1h1m0 0h1m0 0h1m-8 4h1m0 0h1m-1 1h1m-2 1h1m0 0h1m-2 4h1m0 0h1m-3 1h1m1 0h1m-3 1h1m1 0h1" stroke="#00b7ba" stroke-width="1" stroke-linecap="square"/>
<path d="M1242 309h1m0 0h1m0 0h1m-3 1h1m0 0h1m-2 1h1m0 0h1m0 0h1" stroke="#e8dc00" stroke-width="1" stroke-linecap="square"/>
<line x1="1214" y1="235.6" x2="1214" y2="355.6" stroke="#5a5a5a" stroke-width="1.4"/>
<line x1="1168.8" y1="287.7" x2="1288.8" y2="287.7" stroke="#5a5a5a" stroke-width="1.4"/>
<text x="1173.3" y="247.1" font-size="11" fill="#222">0</text>
<text x="1284.3" y="247.1" font-size="11" text-anchor="end" fill="#222">34.2</text>
<text x="1173.3" y="352.1" font-size="11" fill="#222">0</text>
<text x="1284.3" y="352.1" font-size="11" text-anchor="end" fill="#222">65.8</text>
<text class="k" x="1174.5" y="366.1">10<tspan dy="-3">2</tspan></text>
<text class="k" transform="translate(1165.8 352.9) rotate(-90)">10<tspan dy="-3">2</tspan></text>
<text class="k" x="1197.3" y="366.1">10<tspan dy="-3">3</tspan></text>
<text class="k" transform="translate(1165.8 330.2) rotate(-90)">10<tspan dy="-3">3</tspan></text>
<text class="k" x="1220" y="366.1">10<tspan dy="-3">4</tspan></text>
<text class="k" transform="translate(1165.8 307.6) rotate(-90)">10<tspan dy="-3">4</tspan></text>
<text class="k" x="1242.8" y="366.1">10<tspan dy="-3">5</tspan></text>
<text class="k" transform="translate(1165.8 284.9) rotate(-90)">10<tspan dy="-3">5</tspan></text>
<text class="k" x="1265.5" y="366.1">10<tspan dy="-3">6</tspan></text>
<text class="k" transform="translate(1165.8 262.3) rotate(-90)">10<tspan dy="-3">6</tspan></text>
<text class="k" x="1288.3" y="366.1">10<tspan dy="-3">7</tspan></text>
<text class="k" transform="translate(1165.8 239.6) rotate(-90)">10<tspan dy="-3">7</tspan></text>
<line x1="1314" y1="235.6" x2="1314" y2="355.6" stroke="#c8c8c8" stroke-width="1" stroke-dasharray="1.5 1.5"/>
<line x1="1314" y1="355.6" x2="1434" y2="355.6" stroke="#c8c8c8" stroke-width="1" stroke-dasharray="1.5 1.5"/>
<line x1="1434" y1="235.6" x2="1434" y2="355.6" stroke="#999" stroke-width="1.2"/>
<ellipse cx="1390.8" cy="295.6" rx="17.6" ry="12.6" fill="url(#gW)" transform="rotate(-59 1390.8 295.6)"/>
<path d="M1393 279h1m2 0h1m0 0h1m0 0h1m-7 1h1m2 0h1m0 0h1m1 0h1m0 0h1m0 0h1m-9 1h1m0 0h1m4 0h1m1 0h1m-7 1h1m3 0h1m0 0h1m-7 1h1m4 0h1m1 0h1m-9 1h1m0 0h1m4 0h1m0 0h1m0 0h1m-12 1h1m10 0h1m0 0h1m1 0h1m-14 1h1m11 0h1m-14 1h1m0 0h1m0 0h1m6 0h1m1 0h1m0 0h1m-16 1h1m0 0h1m10 0h1m0 0h1m0 0h1m-3 1h1m-1 1h1m1 1h1m-1 1h1m-2 1h1m-19 7h1m13 1h1m0 0h1m0 0h1m-17 1h1m0 0h1m14 0h1m-17 1h1m0 0h1m11 0h1m-14 1h1m10 0h1m-13 1h1m0 0h1m-1 1h1m0 0h1m8 0h1m-12 1h1m0 0h1m7 0h1m0 0h1m-9 1h1m6 0h1m-10 1h1m1 0h1m0 0h1m0 0h1m0 0h1m1 0h1m-6 1h1m1 0h1m3 0h1m-8 1h1m1 0h1" stroke="#0d4cf0" stroke-width="1" stroke-linecap="square"/>
<path d="M1399 270h1m-4 1h1m1 0h1m0 0h1m-6 2h1m1 0h1m0 0h1m2 0h1m0 0h1m4 0h1m-14 1h1m10 0h1m0 0h1m-10 1h1m0 0h1m0 0h1m0 0h1m3 0h1m-13 1h1m12 1h1m0 0h1m-20 1h1m0 0h1m2 0h1m15 0h1m-3 1h1m1 1h1m-20 1h1m-2 1h1m17 1h1m-17 1h1m19 1h1m-5 2h1m3 0h1m-5 2h1m1 0h1m-2 1h1m0 2h1m-26 1h1m0 0h1m-3 3h1m21 1h1m-26 3h1m1 0h1m20 1h1m-5 2h1m-19 1h1m0 0h1m-2 2h1m-1 1h1m0 1h1m-3 2h1m1 0h1m9 1h1m-11 1h1m3 0h1m-3 1h1m3 0h1m-3 1h1m1 0h1" stroke="#2832f7" stroke-width="1" stroke-linecap="square"/>
<path d="M1395 282h1m0 0h1m0 0h1m-3 1h1m0 0h1m-2 1h1m0 0h1m0 0h1m-6 1h1m0 0h1m-1 1h1m0 0h1m2 0h1m-6 1h1m0 0h1m3 0h1m-3 1h1m0 0h1m-2 1h1m0 1h1m-9 1h1m6 0h1m1 0h1m-11 1h1m0 0h1m6 0h1m1 0h1m-2 1h1m-14 1h1m1 0h1m9 0h1m0 0h1m-13 1h1m0 0h1m-3 1h1m11 0h1m1 0h1m-3 1h1m1 0h1m-3 1h1m0 0h1m-5 2h1m0 0h1m0 0h1m-3 1h1m0 0h1m-2 1h1m0 0h1m0 0h1m-6 1h1m0 0h1m-1 2h1" stroke="#0096f0" stroke-width="1" stroke-linecap="square"/>
<path d="M1407 259h1m-6 5h1m-8 2h1m5 0h1m0 1h1m8 0h1m1 0h1m-14 1h1m3 2h1m1 0h1m0 2h1m3 1h1m-3 3h1m-25 1h1m27 0h1m-29 3h1m-12 2h1m32 0h1m1 0h1m2 6h1m-37 1h1m3 0h1m26 0h1m-27 1h1m27 3h1m-5 5h1m-5 4h1m-4 2h1m-23 1h1m19 1h1m8 1h1m-8 2h1m-25 3h1m1 0h1m9 3h1m-16 1h1m13 0h1m-13 1h1m20 0h1m-17 1h1m0 0h1m2 0h1m-9 2h1m5 0h1m-5 1h1m0 0h1m-8 6h1" stroke="#3538fc" stroke-width="1" stroke-linecap="square"/>
<path d="M1393 291h1m0 0h1m-3 1h1m0 0h1m-2 1h1m0 0h1m-2 1h1m1 0h1m-3 1h1m0 0h1m-2 1h1m0 0h1m0 0h1m-3 1h1m0 0h1m-1 1h1m-2 1h1m0 0h1m0 0h1m-9 1h1m0 0h1m0 0h1m0 0h1m0 0h1m0 0h1m-4 1h1m0 0h1m0 0h1m0 0h1m-6 1h1m1 0h1m0 0h1m1 0h1m-7 1h1m0 0h1m0 0h1m-5 1h1m0 0h1m0 0h1m-3 1h1m0 0h1m0 0h1m0 0h1m0 0h1m0 0h1" stroke="#19cc76" stroke-width="1" stroke-linecap="square"/>
<path d="M1389 288h1m0 0h1m2 0h1m0 0h1m-6 1h1m1 0h1m0 0h1m0 0h1m0 0h1m-4 1h1m1 0h1m0 0h1m-11 7h1m0 0h1m-3 1h1m0 0h1m0 0h1m-3 1h1m1 0h1m-3 1h1m-1 1h1m0 0h1m0 0h1m-3 1h1m0 0h1m0 0h1m-3 4h1m0 0h1m0 0h1m0 0h1m0 0h1m0 0h1m-3 1h1m0 0h1m0 0h1m-5 1h1m1 0h1m0 0h1m0 0h1" stroke="#00b7ba" stroke-width="1" stroke-linecap="square"/>
<path d="M1397 276h1m0 0h1m1 0h1m0 0h1m0 0h1m0 0h1m-10 1h1m0 0h1m0 0h1m-8 3h1m1 0h1m-3 1h1m13 0h1m-14 2h1m0 0h1m9 0h1m-12 1h1m10 0h1m-15 2h1m0 0h1m-2 1h1m13 1h1m-1 1h1m0 1h1m0 0h1m-20 3h1m16 0h1m-2 1h1m0 0h1m-2 1h1m0 0h1m0 0h1m-4 1h1m-2 1h1m-1 1h1m-17 1h1m16 0h1m0 0h1" stroke="#1a2bf2" stroke-width="1" stroke-linecap="square"/>
<path d="M1389 291h1m0 0h1m0 0h1m-3 1h1m1 0h1m-3 1h1m0 0h1m0 0h1m-5 1h1m0 0h1m1 0h1m0 0h1m-6 1h1m0 0h1m1 0h1m0 0h1m0 0h1m-6 1h1m0 0h1m0 0h1m0 0h1m0 0h1m0 0h1m-4 1h1m-3 1h1m0 0h1m-2 1h1m0 0h1m0 0h1" stroke="#66d72c" stroke-width="1" stroke-linecap="square"/>
<path d="M1389 297h1m0 0h1m0 0h1m-3 1h1m0 0h1m0 0h1m-2 1h1" stroke="#e8dc00" stroke-width="1" stroke-linecap="square"/>
<line x1="1359.2" y1="235.6" x2="1359.2" y2="355.6" stroke="#5a5a5a" stroke-width="1.4"/>
<line x1="1314" y1="287.7" x2="1434" y2="287.7" stroke="#5a5a5a" stroke-width="1.4"/>
<text x="1318.5" y="247.1" font-size="11" fill="#222">0</text>
<text x="1429.5" y="247.1" font-size="11" text-anchor="end" fill="#222">38.4</text>
<text x="1318.5" y="352.1" font-size="11" fill="#222">0</text>
<text x="1429.5" y="352.1" font-size="11" text-anchor="end" fill="#222">61.6</text>
<text class="k" x="1319.7" y="366.1">10<tspan dy="-3">2</tspan></text>
<text class="k" transform="translate(1311 352.9) rotate(-90)">10<tspan dy="-3">2</tspan></text>
<text class="k" x="1342.5" y="366.1">10<tspan dy="-3">3</tspan></text>
<text class="k" transform="translate(1311 330.2) rotate(-90)">10<tspan dy="-3">3</tspan></text>
<text class="k" x="1365.2" y="366.1">10<tspan dy="-3">4</tspan></text>
<text class="k" transform="translate(1311 307.6) rotate(-90)">10<tspan dy="-3">4</tspan></text>
<text class="k" x="1388" y="366.1">10<tspan dy="-3">5</tspan></text>
<text class="k" transform="translate(1311 284.9) rotate(-90)">10<tspan dy="-3">5</tspan></text>
<text class="k" x="1410.7" y="366.1">10<tspan dy="-3">6</tspan></text>
<text class="k" transform="translate(1311 262.3) rotate(-90)">10<tspan dy="-3">6</tspan></text>
<text class="k" x="1433.5" y="366.1">10<tspan dy="-3">7</tspan></text>
<text class="k" transform="translate(1311 239.6) rotate(-90)">10<tspan dy="-3">7</tspan></text>
<text x="853" y="65.6" font-size="21.1" text-anchor="middle" transform="rotate(-90 853 65.6)">Red</text>
<line x1="847" y1="123" x2="847" y2="397" stroke="#4472c4" stroke-width="1.6"/>
<path d="M847 107.5L839.5 124H854.5Z" fill="#4472c4"/>
<line x1="847" y1="397" x2="1385.9" y2="397" stroke="#4472c4" stroke-width="1.6"/>
<path d="M1401.4 397L1384.9 389.5V404.5Z" fill="#4472c4"/>
<text x="1414.5" y="394" font-size="21.1">Green</text>
<text x="1457" y="153.8" font-size="21.3" text-anchor="middle" transform="rotate(-90 1457 153.8)">Vector</text>
<text x="1457" y="298" font-size="21.3" text-anchor="middle" transform="rotate(-90 1457 298)">PID1</text>
<text x="792.3" y="384.4" font-size="31.8" font-weight="bold">C</text>
<text x="1159.5" y="428.3" font-size="21.8" text-anchor="middle">Hepa1-6</text>
<text x="939" y="467" font-size="21.5" text-anchor="middle">Untreated</text>
<text x="1082.6" y="467" font-size="21.5" text-anchor="middle">Cisplatin</text>
<text x="1228.9" y="467" font-size="21.5" text-anchor="middle">Doxorubicin</text>
<text x="1375.9" y="467" font-size="21.5" text-anchor="middle">Gemcitabine</text>
<line x1="876.3" y1="478.2" x2="876.3" y2="598.2" stroke="#c8c8c8" stroke-width="1" stroke-dasharray="1.5 1.5"/>
<line x1="876.3" y1="598.2" x2="996.3" y2="598.2" stroke="#c8c8c8" stroke-width="1" stroke-dasharray="1.5 1.5"/>
<line x1="996.3" y1="478.2" x2="996.3" y2="598.2" stroke="#999" stroke-width="1.2"/>
<ellipse cx="966.3" cy="531" rx="15.1" ry="8.8" fill="url(#gH)" transform="rotate(-40.3 966.3 531)"/>
<path d="M966 516h1m1 0h1m3 0h1m1 0h1m-9 1h1m0 0h1m0 0h1m0 0h1m0 0h1m2 0h1m-8 1h1m2 0h1m2 0h1m1 0h1m0 1h1m-1 1h1m0 2h1m-2 1h1m-1 1h1m0 0h1m0 0h1m-3 1h1m-19 3h1m1 0h1m-1 1h1m-2 1h1m-2 1h1m14 0h1m0 0h1m-16 1h1m0 0h1m13 0h1m-15 1h1m12 0h1m-19 1h1m0 0h1m0 0h1m14 0h1m-3 1h1m0 0h1m0 0h1m-17 1h1m-3 4h1m6 0h1m0 0h1m-10 1h1m7 0h1m0 0h1m-11 1h1m0 0h1m8 0h1m0 0h1m-11 1h1m3 0h1m-5 1h1m0 0h1m0 0h1m0 0h1m-4 1h1m0 0h1m0 0h1" stroke="#0096f0" stroke-width="1" stroke-linecap="square"/>
<path d="M970 508h1m-3 2h1m2 0h1m-6 1h1m4 0h1m-6 1h1m0 0h1m3 0h1m0 0h1m1 0h1m-12 1h1m8 0h1m2 1h1m0 0h1m-3 1h1m1 0h1m-16 1h1m0 1h1m15 0h1m0 1h1m-2 1h1m1 1h1m-3 1h1m-21 2h1m20 0h1m-1 2h1m-1 1h1m-26 6h1m21 1h1m-5 2h1m0 0h1m-22 1h1m0 0h1m10 4h1m-16 2h1m0 0h1m12 0h1m-4 2h1m1 0h1m-18 2h1m0 0h1m8 0h1m-14 1h1m4 0h1m7 0h1m-14 1h1m11 0h1m-15 1h1m1 0h1m0 0h1m1 0h1m5 0h1m-8 1h1m3 0h1m2 0h1m-11 1h1m1 0h1m4 0h1" stroke="#1a2bf2" stroke-width="1" stroke-linecap="square"/>
<path d="M974 507h1m-3 1h1m0 1h1m-11 1h1m11 1h1m1 0h1m-15 1h1m-2 1h1m-1 1h1m16 0h1m0 0h1m-2 1h1m-22 2h1m-1 1h1m23 3h1m-1 4h1m-29 1h1m28 1h1m-5 1h1m-24 1h1m22 0h1m-29 4h1m18 4h1m-23 1h1m19 2h1m-23 1h1m16 2h1m-20 1h1m-6 2h1m0 1h1m21 0h1m-27 2h1m0 0h1m16 0h1m-11 4h1m0 0h1m-9 1h1m3 0h1m-6 1h1m1 0h1m-4 2h1m2 0h1m-6 1h1m2 2h1" stroke="#2832f7" stroke-width="1" stroke-linecap="square"/>
<path d="M964 519h1m2 0h1m0 0h1m0 0h1m0 0h1m3 0h1m-12 1h1m1 0h1m3 0h1m3 0h1m-10 1h1m0 0h1m1 0h1m1 0h1m1 0h1m1 0h1m-14 1h1m-1 1h1m0 0h1m0 1h1m-6 11h1m-1 1h1m1 0h1m-4 1h1m6 0h1m0 0h1m-10 1h1m0 0h1m6 0h1m0 0h1m0 0h1m-11 1h1m0 0h1m8 0h1m-12 1h1m0 0h1m0 0h1m0 0h1m-4 1h1m1 0h1m1 0h1m-4 1h1m2 0h1m0 0h1" stroke="#00b7ba" stroke-width="1" stroke-linecap="square"/>
<path d="M970 522h1m0 0h1m0 0h1m0 0h1m0 0h1m-6 1h1m2 0h1m0 0h1m0 0h1m-6 1h1m-6 1h1m0 0h1m7 0h1m0 0h1m-11 1h1m0 0h1m6 0h1m0 0h1m0 0h1m-2 1h1m0 0h1m-15 1h1m1 0h1m9 0h1m0 0h1m0 0h1m-14 1h1m0 0h1m9 0h1m0 0h1m0 0h1m-14 1h1m0 0h1m10 0h1m0 0h1m-13 1h1m-1 1h1m-2 1h1m0 0h1m-3 1h1m1 0h1m-1 1h1m-2 1h1m0 0h1" stroke="#66d72c" stroke-width="1" stroke-linecap="square"/>
<path d="M968 513h1m-2 1h1m-2 1h1m0 0h1m2 0h1m0 0h1m-7 2h1m-2 1h1m10 0h1m0 0h1m-16 1h1m-2 1h1m0 0h1m0 0h1m-4 5h1m-1 1h1m-3 1h1m0 0h1m16 1h1m0 2h1m-26 7h1m1 0h1m-1 1h1m12 0h1m-19 5h1m8 0h1m0 0h1m-9 1h1m-3 2h1m2 0h1m0 0h1m-5 1h1m1 0h1m1 0h1m-5 1h1m1 0h1m0 0h1" stroke="#0d4cf0" stroke-width="1" stroke-linecap="square"/>
<path d="M966 522h1m1 0h1m-2 1h1m-2 1h1m0 0h1m-4 4h1m0 0h1m3 0h1m0 0h1m0 0h1m-9 1h1m0 0h1m6 0h1m-9 1h1m0 0h1m0 0h1m3 0h1m0 0h1m0 0h1m-6 1h1m0 0h1m-2 1h1m1 0h1m-3 1h1m0 0h1m0 0h1m-6 1h1m0 0h1m0 0h1m-2 1h1m0 0h1m-3 1h1m1 0h1" stroke="#e8dc00" stroke-width="1" stroke-linecap="square"/>
<path d="M963 522h1m-1 1h1m0 0h1m0 0h1m-3 1h1m0 0h1m0 0h1m-6 1h1m-1 1h1m0 0h1m0 0h1m-3 1h1m0 0h1m7 4h1m-1 1h1m0 0h1m0 0h1m-6 2h1m0 0h1m-2 1h1m0 0h1m0 0h1m-9 2h1m0 0h1m-5 1h1m0 0h1m0 0h1m-3 1h1m0 0h1m0 0h1" stroke="#19cc76" stroke-width="1" stroke-linecap="square"/>
<path d="M966 525h1m1 0h1m0 0h1m0 0h1m0 0h1m-6 1h1m0 0h1m1 0h1m0 0h1m0 0h1m-5 1h1m0 0h1m0 0h1m1 0h1m-5 1h1m0 0h1m-1 1h1m-3 1h1m1 0h1m-6 1h1m0 0h1m0 0h1m-3 1h1m1 0h1m-3 1h1m1 0h1" stroke="#f76900" stroke-width="1" stroke-linecap="square"/>
<path d="M972 503h1m-7 1h1m11 0h1m-13 2h1m14 3h1m-26 3h1m0 0h1m23 0h1m-29 6h1m29 16h1m-49 17h1m21 0h1m-26 1h1m18 0h1m-7 5h1m-7 1h1m-16 2h1m2 0h1m3 0h1m-5 1h1m13 1h1m-14 1h1m2 0h1m-10 2h1m6 2h1" stroke="#3538fc" stroke-width="1" stroke-linecap="square"/>
<line x1="921.5" y1="478.2" x2="921.5" y2="598.2" stroke="#5a5a5a" stroke-width="1.4"/>
<line x1="876.3" y1="525" x2="996.3" y2="525" stroke="#5a5a5a" stroke-width="1.4"/>
<text x="880.8" y="489.7" font-size="11" fill="#222">0</text>
<text x="991.8" y="489.7" font-size="11" text-anchor="end" fill="#222">48.0</text>
<text x="880.8" y="594.7" font-size="11" fill="#222">0</text>
<text x="991.8" y="594.7" font-size="11" text-anchor="end" fill="#222">52.0</text>
<text class="k" x="882" y="608.7">10<tspan dy="-3">2</tspan></text>
<text class="k" transform="translate(873.3 595.5) rotate(-90)">10<tspan dy="-3">2</tspan></text>
<text class="k" x="904.8" y="608.7">10<tspan dy="-3">3</tspan></text>
<text class="k" transform="translate(873.3 572.8) rotate(-90)">10<tspan dy="-3">3</tspan></text>
<text class="k" x="927.5" y="608.7">10<tspan dy="-3">4</tspan></text>
<text class="k" transform="translate(873.3 550.2) rotate(-90)">10<tspan dy="-3">4</tspan></text>
<text class="k" x="950.3" y="608.7">10<tspan dy="-3">5</tspan></text>
<text class="k" transform="translate(873.3 527.5) rotate(-90)">10<tspan dy="-3">5</tspan></text>
<text class="k" x="973" y="608.7">10<tspan dy="-3">6</tspan></text>
<text class="k" transform="translate(873.3 504.9) rotate(-90)">10<tspan dy="-3">6</tspan></text>
<text class="k" x="995.8" y="608.7">10<tspan dy="-3">7</tspan></text>
<text class="k" transform="translate(873.3 482.2) rotate(-90)">10<tspan dy="-3">7</tspan></text>
<line x1="1026.3" y1="478.2" x2="1026.3" y2="598.2" stroke="#c8c8c8" stroke-width="1" stroke-dasharray="1.5 1.5"/>
<line x1="1026.3" y1="598.2" x2="1146.3" y2="598.2" stroke="#c8c8c8" stroke-width="1" stroke-dasharray="1.5 1.5"/>
<line x1="1146.3" y1="478.2" x2="1146.3" y2="598.2" stroke="#999" stroke-width="1.2"/>
<ellipse cx="1107.9" cy="535.8" rx="12.6" ry="7.6" fill="url(#gH)" transform="rotate(-41.6 1107.9 535.8)"/>
<path d="M1121 507h1m-1 2h1m-6 1h1m3 0h1m-4 1h1m-2 1h1m0 0h1m2 1h1m-8 1h1m2 0h1m1 0h1m-2 1h1m-11 1h1m11 0h1m4 1h1m-16 1h1m1 0h1m0 0h1m6 0h1m2 0h1m-16 1h1m0 1h1m14 0h1m-17 2h1m-2 1h1m-2 1h1m13 1h1m-17 1h1m17 1h1m-2 1h1m-1 3h1m-21 2h1m-5 3h1m-3 2h1m-1 1h1m22 1h1m0 0h1m-26 2h1m0 0h1m19 2h1m-26 3h1m0 0h1m0 0h1m-1 1h1m-2 1h1m13 0h1m0 1h1m-12 2h1m0 0h1m-2 1h1m5 0h1m-3 1h1" stroke="#2832f7" stroke-width="1" stroke-linecap="square"/>
<path d="M1115 519h1m0 0h1m0 0h1m-2 1h1m0 0h1m0 0h1m-6 1h1m0 0h1m0 0h1m0 0h1m-5 1h1m-3 1h1m-3 2h1m0 1h1m-2 1h1m-7 5h1m0 0h1m12 0h1m-15 1h1m0 0h1m12 0h1m1 0h1m-21 2h1m1 0h1m-6 8h1m11 0h1m0 0h1m0 0h1m-13 1h1m10 0h1m-14 1h1m1 0h1m10 0h1m-13 1h1m0 0h1m1 0h1m1 0h1m0 0h1m0 0h1m2 0h1m-11 1h1m0 0h1m2 0h1m-4 1h1m2 0h1m0 0h1m2 0h1m0 0h1" stroke="#0d4cf0" stroke-width="1" stroke-linecap="square"/>
<path d="M1113 516h1m-1 1h1m1 0h1m-3 1h1m1 0h1m-5 1h1m7 0h1m-10 1h1m9 0h1m-2 1h1m0 1h1m-1 1h1m-2 1h1m-14 3h1m11 8h1m-2 1h1m-23 3h1m0 0h1m0 0h1m-1 2h1m-2 1h1m0 0h1m17 0h1m-6 1h1m0 0h1m-20 1h1m17 0h1m-1 1h1m-3 1h1m-16 1h1m14 0h1m-15 1h1m14 0h1m-17 1h1m6 0h1m0 0h1m0 0h1m0 0h1m-12 1h1m3 0h1m0 0h1m1 0h1m0 0h1" stroke="#1a2bf2" stroke-width="1" stroke-linecap="square"/>
<path d="M1113 522h1m1 0h1m-2 1h1m-2 1h1m0 0h1m-2 1h1m-2 1h1m0 0h1m0 0h1m-4 1h1m0 0h1m0 0h1m0 0h1m0 0h1m-3 7h1m0 0h1m-14 1h1m0 0h1m10 0h1m0 0h1m0 0h1m-15 1h1m0 0h1m0 0h1m9 0h1m-16 4h1m0 0h1m0 0h1m-3 1h1m1 1h1m0 1h1m1 0h1m0 0h1m0 0h1m0 0h1m-6 1h1m1 0h1m0 0h1m-4 1h1m0 0h1m0 0h1" stroke="#00b7ba" stroke-width="1" stroke-linecap="square"/>
<path d="M1107 531h1m0 0h1m0 0h1m1 0h1m0 0h1m-5 1h1m0 0h1m0 0h1m1 0h1m-6 1h1m0 0h1m0 0h1m0 0h1m0 0h1m-7 1h1m0 0h1m0 0h1m0 0h1m0 0h1m-6 1h1m0 0h1m0 0h1m0 0h1m0 0h1m0 0h1m-6 1h1m0 0h1m1 0h1m0 0h1m0 0h1m-6 1h1m0 0h1m0 0h1m-3 1h1m0 0h1m0 0h1m-3 1h1m0 0h1m0 0h1" stroke="#f76900" stroke-width="1" stroke-linecap="square"/>
<path d="M1107 528h1m0 0h1m0 0h1m3 0h1m0 0h1m0 0h1m-9 1h1m1 0h1m3 0h1m0 0h1m0 0h1m-9 1h1m5 0h1m1 0h1m-10 1h1m6 0h1m0 0h1m-11 1h1m1 0h1m6 0h1m0 0h1m0 0h1m-12 1h1m0 0h1m0 0h1m6 0h1m0 0h1m-4 4h1m0 0h1m-2 1h1m-1 1h1m0 0h1m-5 1h1m0 0h1m-3 1h1m0 0h1m0 1h1" stroke="#19cc76" stroke-width="1" stroke-linecap="square"/>
<path d="M1118 522h1m-3 2h1m0 2h1m-2 1h1m0 0h1m0 0h1m-15 1h1m0 0h1m0 0h1m11 0h1m-13 1h1m10 0h1m-13 1h1m10 0h1m-17 7h1m12 0h1m1 0h1m-17 1h1m0 0h1m12 0h1m0 0h1m-16 1h1m0 0h1m12 0h1m-4 1h1m0 0h1m0 0h1m-3 1h1m0 0h1m0 0h1m-15 2h1m1 0h1m-2 1h1m-2 1h1m1 0h1" stroke="#0096f0" stroke-width="1" stroke-linecap="square"/>
<path d="M1130 496h1m-15 8h1m4 1h1m5 2h1m-13 1h1m-7 1h1m5 0h1m6 1h1m-14 2h1m14 0h1m-16 2h1m-4 4h1m-4 5h1m-7 1h1m2 4h1m21 0h1m-29 4h1m-6 3h1m1 6h1m-1 1h1m24 1h1m-30 2h1m-4 4h1m2 1h1m3 2h1m12 2h1m-6 1h1m-14 1h1m1 0h1m-10 1h1m1 1h1m4 0h1m6 1h1" stroke="#3538fc" stroke-width="1" stroke-linecap="square"/>
<path d="M1110 528h1m0 0h1m0 0h1m-3 1h1m0 0h1m0 0h1m-3 1h1m0 0h1m-2 4h1m0 0h1m0 0h1m-3 1h1m0 0h1m-1 1h1m0 0h1m-6 1h1m0 0h1m0 0h1m-3 1h1m0 0h1m-2 1h1m0 0h1m0 0h1" stroke="#e8dc00" stroke-width="1" stroke-linecap="square"/>
<path d="M1101 537h1m0 0h1m-2 1h1m1 0h1m-3 1h1m0 0h1m0 0h1m-3 1h1m1 0h1m1 0h1m0 0h1m-6 1h1m0 0h1m0 0h1m2 0h1m-6 1h1m3 0h1m0 0h1" stroke="#66d72c" stroke-width="1" stroke-linecap="square"/>
<line x1="1071.5" y1="478.2" x2="1071.5" y2="598.2" stroke="#5a5a5a" stroke-width="1.4"/>
<line x1="1026.3" y1="525" x2="1146.3" y2="525" stroke="#5a5a5a" stroke-width="1.4"/>
<text x="1030.8" y="489.7" font-size="11" fill="#222">0</text>
<text x="1141.8" y="489.7" font-size="11" text-anchor="end" fill="#222">21.8</text>
<text x="1030.8" y="594.7" font-size="11" fill="#222">0</text>
<text x="1141.8" y="594.7" font-size="11" text-anchor="end" fill="#222">78.2</text>
<text class="k" x="1032" y="608.7">10<tspan dy="-3">2</tspan></text>
<text class="k" transform="translate(1023.3 595.5) rotate(-90)">10<tspan dy="-3">2</tspan></text>
<text class="k" x="1054.8" y="608.7">10<tspan dy="-3">3</tspan></text>
<text class="k" transform="translate(1023.3 572.8) rotate(-90)">10<tspan dy="-3">3</tspan></text>
<text class="k" x="1077.5" y="608.7">10<tspan dy="-3">4</tspan></text>
<text class="k" transform="translate(1023.3 550.2) rotate(-90)">10<tspan dy="-3">4</tspan></text>
<text class="k" x="1100.3" y="608.7">10<tspan dy="-3">5</tspan></text>
<text class="k" transform="translate(1023.3 527.5) rotate(-90)">10<tspan dy="-3">5</tspan></text>
<text class="k" x="1123" y="608.7">10<tspan dy="-3">6</tspan></text>
<text class="k" transform="translate(1023.3 504.9) rotate(-90)">10<tspan dy="-3">6</tspan></text>
<text class="k" x="1145.8" y="608.7">10<tspan dy="-3">7</tspan></text>
<text class="k" transform="translate(1023.3 482.2) rotate(-90)">10<tspan dy="-3">7</tspan></text>
<line x1="1171.5" y1="478.2" x2="1171.5" y2="598.2" stroke="#c8c8c8" stroke-width="1" stroke-dasharray="1.5 1.5"/>
<line x1="1171.5" y1="598.2" x2="1291.5" y2="598.2" stroke="#c8c8c8" stroke-width="1" stroke-dasharray="1.5 1.5"/>
<line x1="1291.5" y1="478.2" x2="1291.5" y2="598.2" stroke="#999" stroke-width="1.2"/>
<ellipse cx="1254.3" cy="537" rx="12.6" ry="7.6" fill="url(#gH)" transform="rotate(-47.9 1254.3 537)"/>
<path d="M1260 519h1m-3 1h1m0 0h1m2 0h1m-5 1h1m0 0h1m0 0h1m1 0h1m-9 1h1m8 0h1m1 0h1m-12 1h1m8 0h1m-10 1h1m8 0h1m0 1h1m-2 1h1m-1 1h1m1 0h1m-15 1h1m13 0h1m-14 1h1m0 0h1m10 0h1m-14 1h1m0 0h1m-4 2h1m13 0h1m1 0h1m-16 1h1m12 0h1m-1 1h1m1 0h1m-1 1h1m-3 1h1m-3 1h1m-2 1h1m0 0h1m-2 1h1m1 0h1m-20 1h1m0 2h1m-3 1h1m1 0h1m-1 1h1m12 0h1m-14 1h1m-3 1h1m-1 1h1m0 1h1m-1 1h1m1 0h1m3 0h1m-1 1h1m0 0h1m-8 1h1m1 0h1m0 0h1m2 0h1m0 0h1" stroke="#0d4cf0" stroke-width="1" stroke-linecap="square"/>
<path d="M1257 525h1m0 0h1m0 0h1m-2 1h1m-2 1h1m0 0h1m0 0h1m-6 1h1m1 0h1m-2 1h1m0 0h1m-3 1h1m1 0h1m-3 1h1m0 0h1m0 0h1m0 0h1m1 0h1m-6 1h1m0 0h1m0 0h1m0 0h1m1 0h1m-6 1h1m0 0h1m2 0h1m0 0h1m-9 1h1m0 0h1m0 0h1m2 0h1m-6 1h1m0 0h1m0 0h1m0 0h1m0 0h1m0 0h1m-3 1h1m-7 1h1m0 0h1m0 0h1m-3 1h1m1 0h1m-2 1h1m0 0h1m-3 4h1m0 0h1m0 0h1m0 0h1m1 0h1m-6 1h1m0 0h1m0 0h1m0 0h1m-4 1h1m0 0h1m0 0h1m0 0h1" stroke="#66d72c" stroke-width="1" stroke-linecap="square"/>
<path d="M1262 513h1m2 0h1m-6 1h1m0 0h1m0 0h1m1 0h1m0 0h1m-3 1h1m0 1h1m-7 1h1m0 0h1m3 0h1m1 0h1m-7 1h1m3 0h1m1 0h1m-2 1h1m-1 1h1m-10 1h1m7 0h1m1 0h1m1 0h1m-2 2h1m0 1h1m-16 3h1m-7 7h1m0 0h1m-1 1h1m-4 4h1m18 0h1m-2 1h1m-2 2h1m-23 2h1m1 0h1m-2 1h1m0 0h1m-3 1h1m15 0h1m-1 1h1m-17 1h1m16 0h1m-17 1h1m0 0h1m10 0h1m0 0h1m-15 1h1m0 0h1m0 0h1m9 0h1m-13 1h1m1 2h1m0 0h1m0 0h1m-5 1h1m2 0h1m0 0h1" stroke="#1a2bf2" stroke-width="1" stroke-linecap="square"/>
<path d="M1262 522h1m-3 2h1m0 0h1m0 0h1m-1 2h1m-9 1h1m1 0h1m3 0h1m1 0h1m-2 4h1m-11 1h1m1 0h1m6 0h1m0 0h1m-2 1h1m0 0h1m0 0h1m-15 1h1m1 0h1m-2 1h1m-1 1h1m7 4h1m0 0h1m0 0h1m-2 1h1m0 1h1m-14 1h1m0 0h1m6 0h1m-8 1h1m7 0h1m0 0h1m-11 1h1m0 0h1m6 0h1m0 0h1m-11 1h1m0 0h1m0 0h1m0 0h1m0 0h1m-4 1h1m0 0h1m2 0h1m-6 1h1m0 0h1m0 0h1m1 0h1" stroke="#00b7ba" stroke-width="1" stroke-linecap="square"/>
<path d="M1260 510h1m-1 2h1m1 0h1m2 0h1m1 2h1m-2 2h1m-12 1h1m-1 1h1m0 0h1m13 3h1m0 0h1m-1 2h1m-6 3h1m0 0h1m2 1h1m-22 3h1m0 0h1m16 0h1m-25 4h1m22 0h1m-26 6h1m-3 1h1m22 2h1m-27 1h1m24 0h1m-2 1h1m-25 1h1m-1 1h1m-1 5h1m9 0h1m-11 1h1m1 0h1m12 0h1m-16 1h1m0 0h1m14 0h1m-14 1h1m0 0h1m-3 1h1m0 0h1m3 0h1" stroke="#2832f7" stroke-width="1" stroke-linecap="square"/>
<path d="M1271 506h1m-4 1h1m1 4h1m0 4h1m0 2h1m0 1h1m1 5h1m-4 1h1m-26 2h1m25 2h1m-33 8h1m25 1h1m-35 7h1m0 2h1m-6 3h1m33 0h1m-36 5h1m2 1h1m22 0h1m-9 3h1m-17 3h1m0 0h1m-3 1h1m16 0h1m-8 2h1m-16 1h1m2 5h1m4 1h1m4 2h1" stroke="#3538fc" stroke-width="1" stroke-linecap="square"/>
<path d="M1251 537h1m0 0h1m0 0h1m0 0h1m0 0h1m0 0h1m-6 1h1m0 0h1m0 0h1m0 0h1m0 0h1m-5 1h1m0 0h1m0 0h1m0 0h1m0 0h1m0 0h1m-6 1h1m0 0h1m0 0h1m-2 1h1m0 0h1m-3 1h1m0 0h1m0 0h1" stroke="#f76900" stroke-width="1" stroke-linecap="square"/>
<path d="M1257 528h1m0 0h1m0 0h1m-3 1h1m0 0h1m0 0h1m-2 1h1m0 0h1m-12 10h1m1 0h1m3 0h1m0 0h1m0 0h1m-9 1h1m0 0h1m0 0h1m3 0h1m0 0h1m-8 1h1m1 0h1m3 0h1m0 0h1m0 0h1" stroke="#e8dc00" stroke-width="1" stroke-linecap="square"/>
<path d="M1261 528h1m0 0h1m-3 1h1m0 0h1m0 0h1m-3 1h1m0 0h1m0 0h1m-4 4h1m-3 1h1m0 2h1m0 0h1m-2 1h1m-1 1h1m0 0h1m-15 1h1m0 0h1m0 0h1m-3 1h1m0 1h1m0 0h1" stroke="#19cc76" stroke-width="1" stroke-linecap="square"/>
<path d="M1257 522h1m1 1h1m-3 1h1m1 0h1m0 10h1m0 0h1m0 0h1m-3 1h1m1 0h1m-18 2h1m-1 1h1m1 0h1m-2 1h1m4 7h1m0 0h1m-1 1h1m-2 1h1m0 0h1" stroke="#0096f0" stroke-width="1" stroke-linecap="square"/>
<line x1="1216.7" y1="478.2" x2="1216.7" y2="598.2" stroke="#5a5a5a" stroke-width="1.4"/>
<line x1="1171.5" y1="525" x2="1291.5" y2="525" stroke="#5a5a5a" stroke-width="1.4"/>
<text x="1176" y="489.7" font-size="11" fill="#222">0</text>
<text x="1287" y="489.7" font-size="11" text-anchor="end" fill="#222">21.3</text>
<text x="1176" y="594.7" font-size="11" fill="#222">0</text>
<text x="1287" y="594.7" font-size="11" text-anchor="end" fill="#222">78.7</text>
<text class="k" x="1177.2" y="608.7">10<tspan dy="-3">2</tspan></text>
<text class="k" transform="translate(1168.5 595.5) rotate(-90)">10<tspan dy="-3">2</tspan></text>
<text class="k" x="1200" y="608.7">10<tspan dy="-3">3</tspan></text>
<text class="k" transform="translate(1168.5 572.8) rotate(-90)">10<tspan dy="-3">3</tspan></text>
<text class="k" x="1222.7" y="608.7">10<tspan dy="-3">4</tspan></text>
<text class="k" transform="translate(1168.5 550.2) rotate(-90)">10<tspan dy="-3">4</tspan></text>
<text class="k" x="1245.5" y="608.7">10<tspan dy="-3">5</tspan></text>
<text class="k" transform="translate(1168.5 527.5) rotate(-90)">10<tspan dy="-3">5</tspan></text>
<text class="k" x="1268.2" y="608.7">10<tspan dy="-3">6</tspan></text>
<text class="k" transform="translate(1168.5 504.9) rotate(-90)">10<tspan dy="-3">6</tspan></text>
<text class="k" x="1291" y="608.7">10<tspan dy="-3">7</tspan></text>
<text class="k" transform="translate(1168.5 482.2) rotate(-90)">10<tspan dy="-3">7</tspan></text>
<line x1="1317" y1="478.2" x2="1317" y2="598.2" stroke="#c8c8c8" stroke-width="1" stroke-dasharray="1.5 1.5"/>
<line x1="1317" y1="598.2" x2="1437" y2="598.2" stroke="#c8c8c8" stroke-width="1" stroke-dasharray="1.5 1.5"/>
<line x1="1437" y1="478.2" x2="1437" y2="598.2" stroke="#999" stroke-width="1.2"/>
<ellipse cx="1396.2" cy="537" rx="12.6" ry="7.6" fill="url(#gH)" transform="rotate(-45 1396.2 537)"/>
<path d="M1395 531h1m0 0h1m0 0h1m0 0h1m-4 1h1m0 0h1m1 0h1m0 0h1m0 0h1m-6 1h1m0 0h1m0 0h1m0 0h1m0 0h1m0 0h1m-4 1h1m0 0h1m0 0h1m0 0h1m-6 1h1m0 0h1m0 0h1m0 0h1m0 0h1m0 0h1m-5 1h1m0 0h1m0 0h1m0 0h1m-8 1h1m0 0h1m0 0h1m0 0h1m0 0h1m0 0h1m-6 1h1m1 0h1m0 0h1m0 0h1m0 0h1m-6 1h1m0 0h1m0 0h1m0 0h1m0 0h1m0 0h1m-6 1h1m0 0h1m0 0h1m-3 1h1m0 0h1m0 0h1m-3 1h1m0 0h1m0 0h1" stroke="#f76900" stroke-width="1" stroke-linecap="square"/>
<path d="M1401 522h1m3 0h1m0 0h1m-6 1h1m0 0h1m0 0h1m2 0h1m-3 1h1m-8 1h1m-3 1h1m1 0h1m-2 1h1m0 0h1m-5 1h1m0 1h1m-2 1h1m0 0h1m-6 1h1m-1 1h1m1 1h1m12 1h1m0 0h1m0 0h1m-20 3h1m-1 1h1m0 0h1m-1 1h1m-2 1h1m0 0h1m14 0h1m-3 1h1m-15 1h1m13 0h1m0 0h1m0 0h1m-5 1h1m0 0h1m-3 1h1m0 0h1m-13 2h1m1 0h1m0 0h1m0 0h1m1 0h1m0 0h1m-9 1h1m4 0h1m2 0h1m-6 1h1m1 0h1m0 0h1m0 0h1" stroke="#0096f0" stroke-width="1" stroke-linecap="square"/>
<path d="M1406 516h1m0 0h1m-6 1h1m1 0h1m-1 1h1m0 0h1m0 0h1m0 0h1m-9 1h1m0 0h1m-1 1h1m-3 1h1m-3 2h1m-3 3h1m-1 1h1m14 2h1m-21 1h1m17 1h1m0 0h1m-22 2h1m21 2h1m-2 1h1m-26 2h1m0 0h1m0 0h1m-1 1h1m-4 4h1m18 0h1m0 0h1m0 0h1m-1 1h1m-22 2h1m12 0h1m-16 1h1m0 0h1m2 2h1m5 0h1m-8 1h1m0 0h1m5 0h1m-11 1h1m4 0h1m3 0h1m3 0h1m-11 1h1m1 1h1m-3 1h1m0 0h1m0 0h1" stroke="#1a2bf2" stroke-width="1" stroke-linecap="square"/>
<path d="M1404 519h1m0 0h1m1 0h1m-4 1h1m0 0h1m2 0h1m0 0h1m-2 1h1m-11 1h1m0 0h1m8 0h1m0 0h1m-11 1h1m0 0h1m6 0h1m1 1h1m-1 1h1m-3 1h1m0 0h1m-2 1h1m-22 7h1m1 0h1m-2 2h1m16 1h1m0 0h1m0 0h1m-3 2h1m-21 1h1m0 0h1m-1 1h1m-3 1h1m0 1h1m0 0h1m-2 1h1m0 0h1m-2 1h1m-2 1h1m0 0h1m0 0h1m-2 1h1m-2 1h1m1 0h1m1 2h1" stroke="#0d4cf0" stroke-width="1" stroke-linecap="square"/>
<path d="M1401 528h1m0 0h1m0 0h1m-3 1h1m0 0h1m0 0h1m-2 1h1m0 0h1m-3 4h1m0 0h1m-2 1h1m0 0h1m-2 1h1m0 0h1m0 0h1m-13 1h1m-3 1h1m1 0h1m-3 1h1m1 0h1m-2 1h1m0 0h1m-3 1h1m-1 1h1m0 0h1m0 0h1m-3 1h1m1 0h1m0 0h1m0 0h1m0 0h1m-6 1h1m1 0h1m0 0h1m0 0h1m-5 1h1m2 0h1" stroke="#66d72c" stroke-width="1" stroke-linecap="square"/>
<path d="M1398 528h1m-1 1h1m0 0h1m0 0h1m-3 1h1m0 0h1m0 0h1m0 1h1m0 0h1m0 0h1m-3 1h1m-1 1h1m0 0h1m0 0h1m-10 1h1m-3 1h1m0 0h1m0 0h1m-3 1h1m0 0h1m4 1h1m1 0h1m-3 1h1m0 0h1m0 0h1m-3 1h1m0 0h1m0 0h1m-6 1h1m0 0h1m0 0h1m-2 1h1m0 0h1m-3 1h1m0 0h1m0 0h1" stroke="#e8dc00" stroke-width="1" stroke-linecap="square"/>
<path d="M1418 505h1m-10 3h1m-4 1h1m0 0h1m2 1h1m-10 2h1m13 1h1m-1 1h1m-3 2h1m-18 2h1m17 2h1m3 0h1m-6 2h1m-1 3h1m-26 5h1m24 3h1m-36 6h1m28 3h1m-1 1h1m-35 3h1m28 5h1m-8 1h1m4 0h1m-5 1h1m-24 1h1m2 1h1m12 0h1m-17 2h1m4 0h1m3 2h1m-12 1h1m3 1h1m5 0h1m-2 3h1m-14 9h1" stroke="#3538fc" stroke-width="1" stroke-linecap="square"/>
<path d="M1398 525h1m0 0h1m6 0h1m-9 1h1m0 0h1m5 0h1m0 0h1m-9 1h1m0 0h1m0 0h1m3 0h1m0 0h1m0 1h1m-3 1h1m1 0h1m-2 1h1m0 0h1m-3 1h1m0 0h1m-2 1h1m1 0h1m-3 1h1m-15 1h1m0 0h1m-2 1h1m0 0h1m-3 1h1m0 0h1m0 0h1m-5 7h1m-2 1h1m0 0h1m-2 1h1m0 0h1" stroke="#00b7ba" stroke-width="1" stroke-linecap="square"/>
<path d="M1405 510h1m-4 3h1m4 0h1m-4 1h1m-2 1h1m3 0h1m1 0h1m-13 4h1m-2 2h1m13 1h1m-18 1h1m0 0h1m-1 1h1m16 3h1m-2 5h1m0 1h1m-28 1h1m0 2h1m-6 6h1m23 3h1m-26 2h1m22 0h1m1 0h1m-28 4h1m0 0h1m-1 1h1m10 0h1m0 0h1m-15 1h1m0 0h1m7 2h1m-6 1h1m2 0h1" stroke="#2832f7" stroke-width="1" stroke-linecap="square"/>
<path d="M1402 525h1m0 0h1m-3 1h1m0 0h1m-1 1h1m0 0h1m-7 2h1m-3 1h1m0 0h1m-3 1h1m-2 1h1m0 0h1m-3 1h1m1 0h1m7 4h1m-1 1h1m0 0h1m-3 1h1m0 0h1m0 0h1m-5 1h1m0 0h1m-2 1h1m-2 1h1m-3 1h1m0 0h1m-2 1h1m0 0h1m-3 1h1m0 0h1" stroke="#19cc76" stroke-width="1" stroke-linecap="square"/>
<line x1="1362.2" y1="478.2" x2="1362.2" y2="598.2" stroke="#5a5a5a" stroke-width="1.4"/>
<line x1="1317" y1="525" x2="1437" y2="525" stroke="#5a5a5a" stroke-width="1.4"/>
<text x="1321.5" y="489.7" font-size="11" fill="#222">0</text>
<text x="1432.5" y="489.7" font-size="11" text-anchor="end" fill="#222">20.8</text>
<text x="1321.5" y="594.7" font-size="11" fill="#222">0</text>
<text x="1432.5" y="594.7" font-size="11" text-anchor="end" fill="#222">79.2</text>
<text class="k" x="1322.7" y="608.7">10<tspan dy="-3">2</tspan></text>
<text class="k" transform="translate(1314 595.5) rotate(-90)">10<tspan dy="-3">2</tspan></text>
<text class="k" x="1345.5" y="608.7">10<tspan dy="-3">3</tspan></text>
<text class="k" transform="translate(1314 572.8) rotate(-90)">10<tspan dy="-3">3</tspan></text>
<text class="k" x="1368.2" y="608.7">10<tspan dy="-3">4</tspan></text>
<text class="k" transform="translate(1314 550.2) rotate(-90)">10<tspan dy="-3">4</tspan></text>
<text class="k" x="1391" y="608.7">10<tspan dy="-3">5</tspan></text>
<text class="k" transform="translate(1314 527.5) rotate(-90)">10<tspan dy="-3">5</tspan></text>
<text class="k" x="1413.7" y="608.7">10<tspan dy="-3">6</tspan></text>
<text class="k" transform="translate(1314 504.9) rotate(-90)">10<tspan dy="-3">6</tspan></text>
<text class="k" x="1436.5" y="608.7">10<tspan dy="-3">7</tspan></text>
<text class="k" transform="translate(1314 482.2) rotate(-90)">10<tspan dy="-3">7</tspan></text>
<line x1="876.3" y1="622.6" x2="876.3" y2="742.6" stroke="#c8c8c8" stroke-width="1" stroke-dasharray="1.5 1.5"/>
<line x1="876.3" y1="742.6" x2="996.3" y2="742.6" stroke="#c8c8c8" stroke-width="1" stroke-dasharray="1.5 1.5"/>
<line x1="996.3" y1="622.6" x2="996.3" y2="742.6" stroke="#999" stroke-width="1.2"/>
<ellipse cx="969.9" cy="673" rx="20.2" ry="8.8" fill="url(#gH)" transform="rotate(-45 969.9 673)"/>
<path d="M969 651h1m1 0h1m-2 1h1m-1 1h1m-5 1h1m0 0h1m3 0h1m2 0h1m-2 1h1m0 0h1m-9 1h1m1 0h1m0 0h1m0 0h1m0 0h1m1 0h1m1 1h1m1 0h1m-3 1h1m0 0h1m0 0h1m-1 1h1m-12 1h1m-1 1h1m0 1h1m10 0h1m-15 1h1m13 0h1m-1 1h1m1 0h1m-17 1h1m15 0h1m-17 3h1m-2 1h1m1 0h1m13 0h1m-16 1h1m0 0h1m12 0h1m-15 1h1m13 0h1m0 0h1m-20 3h1m0 0h1m0 0h1m11 5h1m-2 1h1m-19 3h1m-5 4h1m-1 1h1m0 0h1m0 0h1m-2 1h1m0 0h1m0 1h1m1 0h1m0 0h1m0 0h1m-5 1h1m0 0h1m0 0h1m2 1h1" stroke="#0d4cf0" stroke-width="1" stroke-linecap="square"/>
<path d="M970 648h1m0 0h1m-3 1h1m-3 2h1m5 0h1m-7 1h1m-1 1h1m0 0h1m3 0h1m2 2h1m3 0h1m0 1h1m-18 1h1m14 2h1m0 0h1m0 0h1m-18 1h1m-1 1h1m0 0h1m-4 2h1m-1 2h1m21 0h1m-22 1h1m18 0h1m-22 2h1m20 0h1m0 3h1m-25 1h1m20 0h1m0 0h1m-22 2h1m-1 3h1m17 0h1m-22 1h1m14 5h1m-19 1h1m14 0h1m-18 1h1m1 0h1m-3 1h1m13 1h1m-1 1h1m-2 1h1m-13 1h1m0 0h1m7 0h1m-2 1h1m0 0h1m-11 2h1m-1 1h1m-1 1h1m-4 1h1m-1 1h1m0 0h1m0 0h1" stroke="#1a2bf2" stroke-width="1" stroke-linecap="square"/>
<path d="M972 663h1m0 0h1m0 0h1m-3 1h1m0 0h1m0 1h1m-7 4h1m-3 1h1m-1 1h1m1 0h1m-3 1h1m0 0h1m0 0h1m-3 1h1m0 0h1m0 0h1m3 0h1m0 0h1m0 0h1m-7 1h1m-2 1h1m0 0h1m0 0h1m0 0h1m0 0h1m-6 1h1m0 0h1m0 0h1m0 0h1m0 0h1m0 0h1m-6 1h1m0 0h1m1 0h1m0 0h1m0 0h1m-6 1h1m0 0h1m0 0h1m-3 1h1m1 0h1m-2 1h1m0 0h1m-9 1h1m0 0h1m0 0h1m-2 1h1m0 0h1m-3 1h1m0 0h1" stroke="#66d72c" stroke-width="1" stroke-linecap="square"/>
<path d="M973 660h1m-1 2h1m-7 1h1m0 0h1m8 0h1m-3 1h1m0 0h1m0 0h1m-12 1h1m9 0h1m0 0h1m-16 10h1m9 0h1m0 0h1m0 0h1m-15 1h1m11 0h1m0 0h1m0 0h1m-15 1h1m0 0h1m0 0h1m9 0h1m-3 1h1m-2 1h1m0 0h1m0 0h1m-3 1h1m0 0h1m-13 1h1m0 0h1m6 0h1m0 0h1m0 0h1m-10 1h1m6 0h1m0 0h1m-11 1h1m1 0h1m-2 1h1m4 0h1m0 0h1m-8 1h1m0 0h1m4 0h1m-7 1h1m0 0h1" stroke="#00b7ba" stroke-width="1" stroke-linecap="square"/>
<path d="M970 663h1m-2 1h1m1 0h1m-3 1h1m1 0h1m-6 1h1m1 0h1m8 0h1m-11 1h1m0 0h1m6 0h1m1 0h1m-12 1h1m8 0h1m0 0h1m0 0h1m-3 1h1m0 0h1m0 0h1m-1 1h1m-3 1h1m-13 4h1m0 0h1m-2 1h1m1 0h1m-3 1h1m0 0h1m0 0h1m-4 2h1m-2 1h1m1 1h1m0 0h1m-2 1h1m0 0h1m-2 1h1m0 0h1m-5 1h1m0 0h1m0 0h1m-3 1h1m0 0h1m-2 1h1m0 0h1" stroke="#19cc76" stroke-width="1" stroke-linecap="square"/>
<path d="M969 657h1m0 0h1m-2 1h1m2 0h1m-4 1h1m0 0h1m3 0h1m-6 1h1m1 0h1m3 0h1m0 0h1m0 0h1m-9 1h1m1 0h1m4 0h1m-8 1h1m0 0h1m0 0h1m4 0h1m2 4h1m-2 2h1m1 0h1m-18 5h1m11 0h1m-19 5h1m0 0h1m-2 2h1m1 0h1m-5 6h1m0 0h1m-3 1h1m3 0h1m1 0h1m-6 1h1m1 0h1m1 0h1m0 0h1m-5 1h1m1 0h1m2 0h1" stroke="#0096f0" stroke-width="1" stroke-linecap="square"/>
<path d="M966 648h1m8 3h1m1 2h1m-13 1h1m-1 2h1m17 1h1m-24 2h1m20 0h1m-20 1h1m20 0h1m-22 1h1m18 1h1m4 1h1m-2 2h1m0 2h1m-1 1h1m-29 2h1m-1 1h1m22 2h1m-3 2h1m-1 1h1m0 0h1m-26 1h1m-3 6h1m-4 4h1m-1 1h1m12 2h1m-5 3h1m-6 1h1m-8 1h1m1 0h1m-8 1h1m1 0h1m-3 1h1m3 0h1m0 0h1m-2 3h1m-1 1h1m2 0h1" stroke="#2832f7" stroke-width="1" stroke-linecap="square"/>
<path d="M969 640h1m-1 3h1m-12 1h1m14 2h1m4 0h1m-11 1h1m8 2h1m-18 1h1m20 3h1m-23 1h1m1 0h1m-1 1h1m27 9h1m-32 4h1m28 1h1m-32 5h1m-6 6h1m25 1h1m-32 10h1m-11 3h1m1 0h1m15 2h1m2 1h1m-20 1h1m2 3h1m-2 1h1m-2 1h1m4 0h1m-5 3h1m0 1h1m-12 1h1m-3 6h1m3 6h1" stroke="#3538fc" stroke-width="1" stroke-linecap="square"/>
<path d="M972 666h1m0 0h1m-1 1h1m0 0h1m-3 1h1m0 0h1m0 0h1m-6 1h1m0 0h1m0 0h1m0 0h1m0 0h1m0 0h1m-5 1h1m0 0h1m0 0h1m-4 1h1m0 0h1m1 0h1m0 0h1m0 0h1m-6 1h1m0 0h1m0 0h1m-3 1h1m0 0h1m0 0h1m-3 1h1m1 0h1" stroke="#f76900" stroke-width="1" stroke-linecap="square"/>
<path d="M969 666h1m0 0h1m0 0h1m-3 1h1m0 0h1m-2 1h1m0 0h1m0 0h1m-9 10h1m0 0h1m0 0h1m-3 1h1m1 0h1m-3 1h1m1 0h1" stroke="#e8dc00" stroke-width="1" stroke-linecap="square"/>
<line x1="921.5" y1="622.6" x2="921.5" y2="742.6" stroke="#5a5a5a" stroke-width="1.4"/>
<line x1="876.3" y1="669.5" x2="996.3" y2="669.5" stroke="#5a5a5a" stroke-width="1.4"/>
<text x="880.8" y="634.1" font-size="11" fill="#222">0</text>
<text x="991.8" y="634.1" font-size="11" text-anchor="end" fill="#222">48.3</text>
<text x="880.8" y="739.1" font-size="11" fill="#222">0</text>
<text x="991.8" y="739.1" font-size="11" text-anchor="end" fill="#222">51.7</text>
<text class="k" x="882" y="753.1">10<tspan dy="-3">2</tspan></text>
<text class="k" transform="translate(873.3 739.9) rotate(-90)">10<tspan dy="-3">2</tspan></text>
<text class="k" x="904.8" y="753.1">10<tspan dy="-3">3</tspan></text>
<text class="k" transform="translate(873.3 717.2) rotate(-90)">10<tspan dy="-3">3</tspan></text>
<text class="k" x="927.5" y="753.1">10<tspan dy="-3">4</tspan></text>
<text class="k" transform="translate(873.3 694.6) rotate(-90)">10<tspan dy="-3">4</tspan></text>
<text class="k" x="950.3" y="753.1">10<tspan dy="-3">5</tspan></text>
<text class="k" transform="translate(873.3 671.9) rotate(-90)">10<tspan dy="-3">5</tspan></text>
<text class="k" x="973" y="753.1">10<tspan dy="-3">6</tspan></text>
<text class="k" transform="translate(873.3 649.3) rotate(-90)">10<tspan dy="-3">6</tspan></text>
<text class="k" x="995.8" y="753.1">10<tspan dy="-3">7</tspan></text>
<text class="k" transform="translate(873.3 626.6) rotate(-90)">10<tspan dy="-3">7</tspan></text>
<line x1="1026.3" y1="622.6" x2="1026.3" y2="742.6" stroke="#c8c8c8" stroke-width="1" stroke-dasharray="1.5 1.5"/>
<line x1="1026.3" y1="742.6" x2="1146.3" y2="742.6" stroke="#c8c8c8" stroke-width="1" stroke-dasharray="1.5 1.5"/>
<line x1="1146.3" y1="622.6" x2="1146.3" y2="742.6" stroke="#999" stroke-width="1.2"/>
<ellipse cx="1113.9" cy="675.4" rx="20.2" ry="12.6" fill="url(#gH)" transform="rotate(-47.9 1113.9 675.4)"/>
<path d="M1117 654h1m-2 1h1m1 0h1m1 0h1m-5 1h1m1 0h1m-3 1h1m7 0h1m-8 1h1m0 0h1m4 0h1m0 0h1m-3 1h1m1 0h1m-14 1h1m3 0h1m10 0h1m-16 1h1m15 0h1m-17 1h1m2 0h1m10 0h1m0 0h1m-1 1h1m-19 1h1m17 0h1m-19 1h1m16 0h1m-18 1h1m0 0h1m17 0h1m-21 1h1m18 0h1m-19 1h1m16 0h1m0 0h1m0 0h1m-20 2h1m17 1h1m0 0h1m-3 1h1m-1 1h1m-1 1h1m0 0h1m0 0h1m-24 1h1m1 0h1m15 0h1m1 0h1m-21 1h1m1 0h1m16 1h1m-23 4h1m0 1h1m14 0h1m-17 1h1m14 0h1m1 0h1m-19 1h1m12 0h1m0 0h1m-16 1h1m0 0h1m13 0h1m-16 1h1m0 0h1m13 0h1m0 0h1m-18 1h1m1 0h1m9 0h1m0 0h1m0 0h1m-14 1h1m0 0h1m7 0h1m-14 2h1m4 0h1m5 0h1m-3 1h1m-8 1h1m0 0h1m2 0h1m0 0h1m-7 1h1m0 0h1m-3 1h1m1 0h1m-2 1h1" stroke="#0d4cf0" stroke-width="1" stroke-linecap="square"/>
<path d="M1114 652h1m1 0h1m-4 1h1m3 0h1m-4 1h1m-2 1h1m10 0h1m-2 1h1m0 0h1m-15 1h1m1 0h1m2 1h1m-8 2h1m0 0h1m18 0h1m-22 1h1m21 0h1m-1 1h1m-2 3h1m-24 5h1m0 0h1m-1 3h1m-1 1h1m19 1h1m-2 1h1m-25 1h1m-1 1h1m0 0h1m19 0h1m0 0h1m-2 2h1m-24 1h1m20 0h1m-21 1h1m20 1h1m-5 1h1m0 1h1m-24 1h1m1 1h1m15 0h1m3 0h1m-2 1h1m-8 2h1m-18 1h1m0 0h1m13 0h1m0 0h1m1 0h1m-17 1h1m13 0h1m1 0h1m-13 1h1m-7 1h1m0 0h1m0 0h1m4 0h1m0 0h1m0 0h1m1 0h1m5 0h1m-21 1h1m1 0h1m12 0h1m-5 1h1m-7 1h1m4 0h1m-7 1h1m2 0h1m0 0h1m1 0h1" stroke="#1a2bf2" stroke-width="1" stroke-linecap="square"/>
<path d="M1119 660h1m-1 1h1m0 0h1m0 1h1m-9 1h1m0 0h1m2 0h1m0 0h1m4 0h1m0 0h1m-10 1h1m1 0h1m1 0h1m0 0h1m0 0h1m0 0h1m-9 1h1m2 0h1m0 0h1m0 0h1m0 0h1m1 0h1m-1 1h1m0 0h1m0 0h1m-3 1h1m-1 1h1m-11 1h1m9 0h1m0 0h1m-13 1h1m12 0h1m-15 1h1m1 0h1m-5 2h1m-1 1h1m0 0h1m11 1h1m-3 1h1m0 0h1m0 1h1m-6 1h1m1 0h1m-3 1h1m1 0h1m-1 1h1m-11 1h1m2 0h1m0 0h1m-6 1h1m0 0h1m-2 1h1m1 0h1m2 0h1m-11 4h1m0 0h1m-2 1h1m0 1h1" stroke="#00b7ba" stroke-width="1" stroke-linecap="square"/>
<path d="M1113 648h1m5 2h1m3 1h1m-14 1h1m14 4h1m-19 1h1m-3 1h1m0 5h1m-1 1h1m24 0h1m-28 2h1m0 0h1m-3 1h1m24 1h1m-27 3h1m25 1h1m-30 3h1m28 1h1m-30 3h1m22 2h1m0 0h1m0 2h1m-6 1h1m-28 1h1m31 0h1m-32 1h1m0 0h1m-4 4h1m22 0h1m0 0h1m2 1h1m-3 1h1m-6 1h1m3 0h1m-25 3h1m12 0h1m1 1h1m1 0h1m-19 1h1m10 0h1m-8 1h1m6 0h1m4 0h1m-15 1h1m9 1h1m3 0h1m-18 1h1m1 3h1m0 0h1m-3 3h1m3 1h1m-5 1h1" stroke="#2832f7" stroke-width="1" stroke-linecap="square"/>
<path d="M1119 657h1m0 0h1m0 0h1m-3 2h1m-4 1h1m5 0h1m0 0h1m0 0h1m-7 1h1m-9 2h1m1 1h1m-2 2h1m0 1h1m-3 1h1m13 5h1m-3 1h1m1 0h1m-20 4h1m0 0h1m14 0h1m-16 1h1m-3 1h1m1 0h1m7 1h1m0 0h1m-10 1h1m6 0h1m1 0h1m-11 1h1m7 0h1m-13 1h1m2 0h1m1 0h1m0 0h1m-7 1h1m2 0h1m1 0h1m1 0h1m0 0h1m-7 1h1m0 0h1m0 0h1m2 0h1m2 0h1m-8 3h1m0 0h1" stroke="#0096f0" stroke-width="1" stroke-linecap="square"/>
<path d="M1118 641h1m2 3h1m-16 1h1m11 0h1m6 1h1m5 1h1m-23 1h1m16 2h1m3 3h1m-22 1h1m23 5h1m3 12h1m-40 2h1m35 2h1m-39 4h1m-8 4h1m38 0h1m-2 1h1m-40 8h1m31 0h1m-36 5h1m2 0h1m26 0h1m-7 2h1m-7 3h1m-21 1h1m3 0h1m-1 1h1m7 0h1m-5 8h1m1 0h1m-14 6h1m5 1h1m-4 1h1m-7 2h1m1 1h1" stroke="#3538fc" stroke-width="1" stroke-linecap="square"/>
<path d="M1113 666h1m5 0h1m1 0h1m-9 1h1m0 0h1m5 0h1m-6 1h1m3 0h1m1 0h1m-3 1h1m1 0h1m-3 1h1m-1 1h1m1 0h1m-3 1h1m1 0h1m-3 1h1m0 0h1m0 0h1m-15 2h1m0 1h1m0 0h1m-2 1h1m4 1h1m-7 1h1m1 0h1m-3 1h1m1 0h1m3 0h1m0 0h1m0 0h1" stroke="#19cc76" stroke-width="1" stroke-linecap="square"/>
<path d="M1116 666h1m-1 1h1m0 0h1m0 0h1m-2 1h1m0 0h1m-8 4h1m0 0h1m-3 1h1m0 0h1m0 0h1m-3 1h1m1 0h1m3 1h1m0 0h1m0 0h1m-3 1h1m1 0h1m-3 1h1m0 0h1m0 0h1m-9 1h1m0 0h1m0 0h1m-3 1h1m0 1h1m0 0h1" stroke="#66d72c" stroke-width="1" stroke-linecap="square"/>
<path d="M1114 669h1m1 0h1m1 0h1m-6 1h1m0 0h1m1 0h1m0 0h1m-5 1h1m0 0h1m0 0h1m0 0h1m0 0h1m0 0h1m-3 1h1m0 0h1m0 0h1m-3 1h1m1 0h1m-3 1h1m1 0h1m-9 1h1m0 0h1m0 0h1m-3 1h1m0 0h1m-2 1h1m1 0h1" stroke="#e8dc00" stroke-width="1" stroke-linecap="square"/>
<path d="M1113 672h1m0 0h1m0 0h1m-3 1h1m0 0h1m0 0h1m-3 2h1m1 0h1m-3 1h1m0 0h1" stroke="#f76900" stroke-width="1" stroke-linecap="square"/>
<line x1="1071.5" y1="622.6" x2="1071.5" y2="742.6" stroke="#5a5a5a" stroke-width="1.4"/>
<line x1="1026.3" y1="669.5" x2="1146.3" y2="669.5" stroke="#5a5a5a" stroke-width="1.4"/>
<text x="1030.8" y="634.1" font-size="11" fill="#222">0</text>
<text x="1141.8" y="634.1" font-size="11" text-anchor="end" fill="#222">35.8</text>
<text x="1030.8" y="739.1" font-size="11" fill="#222">0</text>
<text x="1141.8" y="739.1" font-size="11" text-anchor="end" fill="#222">64.2</text>
<text class="k" x="1032" y="753.1">10<tspan dy="-3">2</tspan></text>
<text class="k" transform="translate(1023.3 739.9) rotate(-90)">10<tspan dy="-3">2</tspan></text>
<text class="k" x="1054.8" y="753.1">10<tspan dy="-3">3</tspan></text>
<text class="k" transform="translate(1023.3 717.2) rotate(-90)">10<tspan dy="-3">3</tspan></text>
<text class="k" x="1077.5" y="753.1">10<tspan dy="-3">4</tspan></text>
<text class="k" transform="translate(1023.3 694.6) rotate(-90)">10<tspan dy="-3">4</tspan></text>
<text class="k" x="1100.3" y="753.1">10<tspan dy="-3">5</tspan></text>
<text class="k" transform="translate(1023.3 671.9) rotate(-90)">10<tspan dy="-3">5</tspan></text>
<text class="k" x="1123" y="753.1">10<tspan dy="-3">6</tspan></text>
<text class="k" transform="translate(1023.3 649.3) rotate(-90)">10<tspan dy="-3">6</tspan></text>
<text class="k" x="1145.8" y="753.1">10<tspan dy="-3">7</tspan></text>
<text class="k" transform="translate(1023.3 626.6) rotate(-90)">10<tspan dy="-3">7</tspan></text>
<line x1="1171.5" y1="622.6" x2="1171.5" y2="742.6" stroke="#c8c8c8" stroke-width="1" stroke-dasharray="1.5 1.5"/>
<line x1="1171.5" y1="742.6" x2="1291.5" y2="742.6" stroke="#c8c8c8" stroke-width="1" stroke-dasharray="1.5 1.5"/>
<line x1="1291.5" y1="622.6" x2="1291.5" y2="742.6" stroke="#999" stroke-width="1.2"/>
<ellipse cx="1257.9" cy="676.6" rx="12.6" ry="7.6" fill="url(#gH)" transform="rotate(-43.8 1257.9 676.6)"/>
<path d="M1262 657h1m-5 1h1m0 0h1m1 0h1m1 0h1m1 0h1m-7 1h1m0 0h1m0 0h1m0 0h1m0 0h1m0 0h1m1 1h1m1 0h1m-3 1h1m-1 1h1m-13 3h1m14 1h1m-1 2h1m-19 1h1m0 0h1m16 0h1m1 0h1m-21 1h1m0 0h1m16 0h1m-18 1h1m17 0h1m-21 3h1m15 2h1m0 0h1m-23 3h1m-1 1h1m-3 1h1m21 0h1m-22 1h1m-3 1h1m0 1h1m0 0h1m15 0h1m0 0h1m-2 1h1m0 0h1m-20 1h1m1 0h1m15 0h1m-20 1h1m13 0h1m2 0h1m-19 1h1m0 0h1m2 0h1m-5 1h1m13 0h1m3 0h1m-16 1h1m1 0h1m0 0h1m0 0h1m3 0h1m1 0h1m-15 1h1m0 0h1m1 0h1m2 0h1m1 0h1m3 0h1m-12 1h1m0 0h1m2 0h1m0 0h1m6 0h1m-10 2h1m1 0h1m1 0h1m-6 1h1m0 0h1m3 0h1" stroke="#1a2bf2" stroke-width="1" stroke-linecap="square"/>
<path d="M1259 660h1m2 0h1m0 0h1m-6 1h1m0 0h1m1 0h1m1 0h1m-7 1h1m1 0h1m1 0h1m1 0h1m1 0h1m0 2h1m1 0h1m-2 1h1m-14 2h1m0 0h1m10 0h1m-13 1h1m0 0h1m10 0h1m-1 1h1m-1 1h1m-1 1h1m0 0h1m-15 2h1m13 0h1m-16 1h1m13 0h1m1 0h1m-20 1h1m-1 1h1m-2 1h1m1 0h1m12 1h1m-1 1h1m0 1h1m-20 1h1m1 1h1m-2 1h1m-2 1h1m8 0h1m0 0h1m0 0h1m1 0h1m-14 1h1m1 0h1m0 0h1m0 0h1m4 0h1m-10 1h1m1 0h1m1 0h1m5 0h1m-8 1h1m0 0h1m2 0h1m-7 1h1m1 0h1m0 0h1m1 0h1m0 0h1m0 0h1m-8 1h1m3 0h1m-3 1h1m-1 2h1m0 0h1" stroke="#0d4cf0" stroke-width="1" stroke-linecap="square"/>
<path d="M1261 663h1m-1 1h1m-2 1h1m0 0h1m0 0h1m-5 1h1m0 0h1m3 0h1m0 0h1m0 0h1m-8 1h1m0 0h1m3 0h1m0 0h1m0 0h1m-9 1h1m0 0h1m4 0h1m0 0h1m-9 1h1m-3 1h1m0 1h1m0 0h1m6 1h1m0 0h1m0 0h1m-3 1h1m0 0h1m-1 1h1m-12 1h1m-3 1h1m0 0h1m0 0h1m9 0h1m0 0h1m-13 1h1m0 0h1m9 0h1m1 0h1m-14 4h1m0 0h1m5 0h1m-9 1h1m1 0h1m5 0h1m-8 1h1m0 0h1m3 0h1m0 0h1m0 0h1" stroke="#00b7ba" stroke-width="1" stroke-linecap="square"/>
<path d="M1266 652h1m0 0h1m-3 2h1m-1 1h1m-11 2h1m14 0h1m-5 2h1m2 0h1m-14 1h1m-4 8h1m-4 3h1m20 3h1m-25 2h1m19 2h1m-2 1h1m-26 2h1m-6 3h1m0 0h1m27 0h1m-28 1h1m24 1h1m-27 2h1m0 2h1m15 0h1m0 0h1m1 0h1m-21 1h1m0 0h1m-3 1h1m0 0h1m20 0h1m-19 1h1m7 0h1m0 0h1m-11 1h1m9 0h1m-11 2h1m2 0h1m-2 2h1m-6 1h1m-1 1h1m1 0h1" stroke="#2832f7" stroke-width="1" stroke-linecap="square"/>
<path d="M1264 648h1m2 0h1m-3 2h1m-8 1h1m11 3h1m-1 1h1m1 2h1m2 1h1m-23 2h1m19 1h1m0 0h1m-2 3h1m-33 3h1m5 6h1m-7 6h1m28 1h1m-34 3h1m-9 3h1m3 1h1m26 3h1m-32 3h1m2 0h1m-1 2h1m-2 1h1m2 0h1m9 6h1m-12 1h1m4 0h1m1 0h1m-11 2h1m1 0h1m4 1h1m-23 1h1m15 3h1" stroke="#3538fc" stroke-width="1" stroke-linecap="square"/>
<path d="M1262 666h1m-3 1h1m0 0h1m0 0h1m-2 1h1m3 1h1m-3 1h1m1 0h1m-3 1h1m0 0h1m-10 1h1m0 0h1m-1 1h1m-1 1h1m-5 4h1m7 0h1m0 0h1m-11 1h1m0 0h1m0 0h1m6 0h1m1 0h1m-12 1h1m0 0h1m0 0h1m6 0h1m0 0h1m0 0h1m-9 1h1m1 0h1m-3 1h1m0 0h1m-2 1h1m0 0h1" stroke="#19cc76" stroke-width="1" stroke-linecap="square"/>
<path d="M1259 663h1m4 0h1m0 1h1m-9 1h1m0 0h1m0 0h1m4 0h1m0 0h1m-18 13h1m1 0h1m-2 1h1m0 0h1m-2 1h1m0 0h1m-2 1h1m0 0h1m9 0h1m0 0h1m-14 1h1m11 0h1m-12 1h1m11 0h1m0 0h1m-11 1h1m0 0h1m-2 1h1m0 0h1m-3 1h1m1 0h1" stroke="#0096f0" stroke-width="1" stroke-linecap="square"/>
<path d="M1260 669h1m0 0h1m-2 1h1m0 0h1m-2 1h1m-4 1h1m0 0h1m0 0h1m-3 1h1m1 0h1m-3 1h1m0 0h1m0 0h1m0 1h1m0 0h1m0 0h1m-3 1h1m-1 1h1m0 0h1m-8 1h1m0 0h1m0 0h1m-3 1h1m0 0h1m0 0h1m-3 1h1m0 0h1m0 0h1" stroke="#e8dc00" stroke-width="1" stroke-linecap="square"/>
<path d="M1258 669h1m0 0h1m-3 1h1m0 0h1m-2 1h1m0 0h1m-4 4h1m-2 1h1m1 0h1m-3 1h1m0 0h1m0 0h1m1 1h1m-2 1h1m0 0h1m0 0h1m-3 1h1m0 0h1m0 0h1" stroke="#66d72c" stroke-width="1" stroke-linecap="square"/>
<path d="M1260 672h1m0 1h1m0 0h1m-3 1h1m0 0h1m0 0h1m-6 1h1m0 0h1m-2 1h1m0 0h1m0 0h1m-3 1h1m0 0h1m0 0h1" stroke="#f76900" stroke-width="1" stroke-linecap="square"/>
<line x1="1216.7" y1="622.6" x2="1216.7" y2="742.6" stroke="#5a5a5a" stroke-width="1.4"/>
<line x1="1171.5" y1="669.5" x2="1291.5" y2="669.5" stroke="#5a5a5a" stroke-width="1.4"/>
<text x="1176" y="634.1" font-size="11" fill="#222">0</text>
<text x="1287" y="634.1" font-size="11" text-anchor="end" fill="#222">26.8</text>
<text x="1176" y="739.1" font-size="11" fill="#222">0</text>
<text x="1287" y="739.1" font-size="11" text-anchor="end" fill="#222">73.2</text>
<text class="k" x="1177.2" y="753.1">10<tspan dy="-3">2</tspan></text>
<text class="k" transform="translate(1168.5 739.9) rotate(-90)">10<tspan dy="-3">2</tspan></text>
<text class="k" x="1200" y="753.1">10<tspan dy="-3">3</tspan></text>
<text class="k" transform="translate(1168.5 717.2) rotate(-90)">10<tspan dy="-3">3</tspan></text>
<text class="k" x="1222.7" y="753.1">10<tspan dy="-3">4</tspan></text>
<text class="k" transform="translate(1168.5 694.6) rotate(-90)">10<tspan dy="-3">4</tspan></text>
<text class="k" x="1245.5" y="753.1">10<tspan dy="-3">5</tspan></text>
<text class="k" transform="translate(1168.5 671.9) rotate(-90)">10<tspan dy="-3">5</tspan></text>
<text class="k" x="1268.2" y="753.1">10<tspan dy="-3">6</tspan></text>
<text class="k" transform="translate(1168.5 649.3) rotate(-90)">10<tspan dy="-3">6</tspan></text>
<text class="k" x="1291" y="753.1">10<tspan dy="-3">7</tspan></text>
<text class="k" transform="translate(1168.5 626.6) rotate(-90)">10<tspan dy="-3">7</tspan></text>
<line x1="1317" y1="622.6" x2="1317" y2="742.6" stroke="#c8c8c8" stroke-width="1" stroke-dasharray="1.5 1.5"/>
<line x1="1317" y1="742.6" x2="1437" y2="742.6" stroke="#c8c8c8" stroke-width="1" stroke-dasharray="1.5 1.5"/>
<line x1="1437" y1="622.6" x2="1437" y2="742.6" stroke="#999" stroke-width="1.2"/>
<ellipse cx="1403.4" cy="673" rx="20.2" ry="12.6" fill="url(#gH)" transform="rotate(-46 1403.4 673)"/>
<path d="M1409 657h1m2 0h1m-9 1h1m0 0h1m2 0h1m0 0h1m2 0h1m-8 1h1m1 0h1m0 0h1m0 0h1m2 0h1m0 1h1m-16 1h1m0 0h1m0 0h1m12 0h1m0 0h1m0 0h1m-18 1h1m15 0h1m-17 1h1m0 0h1m0 0h1m-3 2h1m0 0h1m14 0h1m-2 1h1m1 0h1m-3 1h1m0 0h1m-2 1h1m0 0h1m-19 1h1m0 0h1m16 0h1m-19 1h1m0 0h1m15 0h1m1 0h1m-19 1h1m15 0h1m1 0h1m-22 1h1m15 0h1m1 0h1m-21 1h1m19 0h1m-21 1h1m1 0h1m17 0h1m-5 1h1m0 0h1m-2 1h1m-2 1h1m-1 1h1m-19 1h1m17 0h1m0 0h1m-20 1h1m0 0h1m16 0h1m0 0h1m0 0h1m-10 1h1m1 0h1m0 0h1m-12 1h1m5 0h1m0 0h1m0 0h1m-9 1h1m0 0h1m4 0h1m2 0h1m-5 1h1m-3 1h1m1 0h1" stroke="#0096f0" stroke-width="1" stroke-linecap="square"/>
<path d="M1410 663h1m-1 1h1m1 0h1m-3 1h1m0 0h1m0 0h1m-3 1h1m0 0h1m0 0h1m-3 1h1m-1 1h1m0 0h1m-2 1h1m-12 1h1m10 0h1m1 0h1m-15 1h1m1 0h1m10 0h1m-17 1h1m1 0h1m0 0h1m0 0h1m0 0h1m1 0h1m0 0h1m0 0h1m1 0h1m-12 1h1m0 0h1m0 0h1m1 0h1m1 0h1m0 0h1m-6 1h1m0 0h1m2 0h1m4 0h1m-11 1h1m0 0h1m0 0h1m4 0h1m0 0h1m0 0h1m-11 1h1m0 0h1m0 0h1m0 0h1m0 0h1m0 0h1m0 0h1m0 0h1m0 0h1m0 0h1m0 0h1m-10 1h1m3 0h1m0 0h1m0 0h1m3 0h1m-8 1h1m2 0h1m0 0h1m-6 1h1m1 0h1m2 0h1m-6 1h1m0 0h1m0 0h1m0 0h1" stroke="#19cc76" stroke-width="1" stroke-linecap="square"/>
<path d="M1405 650h1m6 2h1m1 0h1m2 0h1m-16 1h1m8 0h1m-12 1h1m13 0h1m0 0h1m0 2h1m-25 4h1m1 1h1m26 0h1m-32 1h1m29 0h1m-30 2h1m27 1h1m-30 1h1m30 1h1m-32 2h1m-3 4h1m29 0h1m-31 2h1m27 0h1m-4 1h1m1 0h1m-28 1h1m-5 3h1m-2 1h1m1 0h1m24 1h1m-30 3h1m25 0h1m-2 1h1m-26 1h1m-2 2h1m-3 1h1m19 0h1m0 0h1m-22 1h1m7 2h1m3 0h1m0 0h1m3 0h1m-20 1h1m6 1h1m0 0h1m0 0h1m6 0h1m-19 1h1m5 0h1m5 0h1m-13 1h1m14 0h1m-16 1h1m11 0h1m1 0h1m-5 3h1" stroke="#2832f7" stroke-width="1" stroke-linecap="square"/>
<path d="M1404 654h1m1 1h1m1 0h1m0 0h1m-9 2h1m0 0h1m0 0h1m9 0h1m-11 1h1m-3 1h1m11 0h1m1 0h1m-21 5h1m1 1h1m-2 2h1m0 0h1m-2 1h1m0 0h1m15 5h1m0 0h1m0 0h1m-3 1h1m1 0h1m-27 2h1m1 0h1m19 0h1m-2 1h1m-22 4h1m1 0h1m12 0h1m1 0h1m-3 1h1m1 0h1m-16 1h1m13 0h1m-16 1h1m2 0h1m0 0h1m-3 1h1m-1 1h1m7 0h1m-15 1h1m0 0h1m1 0h1m5 0h1m-10 1h1m0 0h1m0 0h1m2 0h1m4 0h1m0 0h1m-7 1h1m3 0h1m-9 1h1m-2 1h1m0 0h1" stroke="#0d4cf0" stroke-width="1" stroke-linecap="square"/>
<path d="M1404 651h1m1 0h1m-3 1h1m-1 1h1m-3 1h1m0 0h1m8 0h1m-13 4h1m-1 1h1m16 0h1m-23 1h1m0 0h1m19 0h1m0 0h1m-2 3h1m-24 2h1m0 0h1m-2 2h1m22 0h1m-23 1h1m22 0h1m-2 3h1m-28 1h1m-1 1h1m-4 7h1m1 0h1m-3 1h1m20 0h1m-22 2h1m-4 2h1m4 0h1m13 0h1m-10 2h1m4 0h1m-16 1h1m9 0h1m-10 1h1m13 0h1m-2 1h1m-8 1h1m-7 1h1m0 0h1m7 0h1m1 0h1m0 0h1" stroke="#1a2bf2" stroke-width="1" stroke-linecap="square"/>
<path d="M1404 660h1m3 0h1m3 0h1m-11 1h1m0 0h1m1 0h1m1 0h1m4 0h1m-12 1h1m0 0h1m0 0h1m0 0h1m1 0h1m1 0h1m0 0h1m0 0h1m0 0h1m0 0h1m-13 4h1m-3 1h1m8 5h1m0 0h1m0 0h1m-2 1h1m-2 1h1m-16 1h1m1 0h1m-3 2h1m0 0h1m0 0h1m-2 1h1m0 0h1m11 0h1m-13 1h1m1 0h1m7 0h1m-12 1h1m1 0h1m-1 1h1m-1 1h1m1 0h1m-3 1h1m0 0h1" stroke="#00b7ba" stroke-width="1" stroke-linecap="square"/>
<path d="M1419 641h1m-16 4h1m2 0h1m2 0h1m2 3h1m5 0h1m-1 1h1m-23 7h1m26 7h1m-44 6h1m31 15h1m-39 3h1m0 5h1m-6 1h1m39 2h1m-41 3h1m8 1h1m1 1h1m-23 1h1m5 2h1m19 0h1m5 1h1m-9 1h1m0 2h1m-17 2h1m0 2h1m5 1h1" stroke="#3538fc" stroke-width="1" stroke-linecap="square"/>
<path d="M1401 663h1m2 0h1m1 0h1m-6 1h1m0 0h1m2 0h1m-5 1h1m0 0h1m0 0h1m0 0h1m0 0h1m-5 1h1m1 0h1m-1 1h1m-2 1h1m-2 1h1m0 0h1m0 0h1m-3 1h1m0 0h1m0 0h1m5 0h1m-8 1h1m5 0h1m0 0h1" stroke="#66d72c" stroke-width="1" stroke-linecap="square"/>
<path d="M1409 663h1m-3 1h1m0 0h1m-2 1h1m0 0h1m0 0h1m-3 1h1m0 0h1m0 0h1m-3 1h1m0 0h1m0 0h1m-3 1h1m0 0h1m-3 2h1m-3 1h1m0 0h1m0 0h1" stroke="#e8dc00" stroke-width="1" stroke-linecap="square"/>
<path d="M1404 666h1m0 0h1m0 0h1m-3 1h1m0 0h1m0 0h1m-3 1h1m0 0h1m0 0h1" stroke="#f76900" stroke-width="1" stroke-linecap="square"/>
<line x1="1362.2" y1="622.6" x2="1362.2" y2="742.6" stroke="#5a5a5a" stroke-width="1.4"/>
<line x1="1317" y1="669.5" x2="1437" y2="669.5" stroke="#5a5a5a" stroke-width="1.4"/>
<text x="1321.5" y="634.1" font-size="11" fill="#222">0</text>
<text x="1432.5" y="634.1" font-size="11" text-anchor="end" fill="#222">34.6</text>
<text x="1321.5" y="739.1" font-size="11" fill="#222">0</text>
<text x="1432.5" y="739.1" font-size="11" text-anchor="end" fill="#222">65.4</text>
<text class="k" x="1322.7" y="753.1">10<tspan dy="-3">2</tspan></text>
<text class="k" transform="translate(1314 739.9) rotate(-90)">10<tspan dy="-3">2</tspan></text>
<text class="k" x="1345.5" y="753.1">10<tspan dy="-3">3</tspan></text>
<text class="k" transform="translate(1314 717.2) rotate(-90)">10<tspan dy="-3">3</tspan></text>
<text class="k" x="1368.2" y="753.1">10<tspan dy="-3">4</tspan></text>
<text class="k" transform="translate(1314 694.6) rotate(-90)">10<tspan dy="-3">4</tspan></text>
<text class="k" x="1391" y="753.1">10<tspan dy="-3">5</tspan></text>
<text class="k" transform="translate(1314 671.9) rotate(-90)">10<tspan dy="-3">5</tspan></text>
<text class="k" x="1413.7" y="753.1">10<tspan dy="-3">6</tspan></text>
<text class="k" transform="translate(1314 649.3) rotate(-90)">10<tspan dy="-3">6</tspan></text>
<text class="k" x="1436.5" y="753.1">10<tspan dy="-3">7</tspan></text>
<text class="k" transform="translate(1314 626.6) rotate(-90)">10<tspan dy="-3">7</tspan></text>
<text x="853" y="453.8" font-size="21.1" text-anchor="middle" transform="rotate(-90 853 453.8)">Red</text>
<line x1="847" y1="510.5" x2="847" y2="770" stroke="#4472c4" stroke-width="1.6"/>
<path d="M847 495L839.5 511.5H854.5Z" fill="#4472c4"/>
<line x1="847" y1="770" x2="1386.5" y2="770" stroke="#4472c4" stroke-width="1.6"/>
<path d="M1402 770L1385.5 762.5V777.5Z" fill="#4472c4"/>
<text x="1414.5" y="780" font-size="21.1">Green</text>
<text x="1457" y="536.3" font-size="21.3" text-anchor="middle" transform="rotate(-90 1457 536.3)">Vector</text>
<text x="1457" y="682.6" font-size="21.3" text-anchor="middle" transform="rotate(-90 1457 682.6)">PID1</text>
<rect x="1610.7" y="128.9" width="20.6" height="148.4" fill="#c0befc"/>
<rect x="1637.4" y="114.5" width="20.6" height="162.8" fill="#fb9fa2"/>
<rect x="1682.7" y="200.7" width="20.6" height="76.6" fill="#c0befc"/>
<rect x="1709.6" y="162.4" width="20.6" height="114.9" fill="#fb9fa2"/>
<rect x="1755" y="216" width="20.6" height="61.3" fill="#c0befc"/>
<rect x="1781.6" y="181.6" width="20.6" height="95.8" fill="#fb9fa2"/>
<rect x="1827" y="187.3" width="20.6" height="90" fill="#c0befc"/>
<rect x="1854.4" y="160.5" width="20.6" height="116.8" fill="#fb9fa2"/>
<line x1="1621" y1="128.9" x2="1621" y2="124.1" stroke="#000" stroke-width="2.2"/>
<line x1="1616.5" y1="124.1" x2="1625.5" y2="124.1" stroke="#000" stroke-width="2.2"/>
<line x1="1647.7" y1="114.5" x2="1647.7" y2="107.8" stroke="#000" stroke-width="2.2"/>
<line x1="1643.2" y1="107.8" x2="1652.2" y2="107.8" stroke="#000" stroke-width="2.2"/>
<line x1="1693" y1="200.7" x2="1693" y2="198.8" stroke="#000" stroke-width="2.2"/>
<line x1="1688.5" y1="198.8" x2="1697.5" y2="198.8" stroke="#000" stroke-width="2.2"/>
<line x1="1719.9" y1="162.4" x2="1719.9" y2="158.6" stroke="#000" stroke-width="2.2"/>
<line x1="1715.4" y1="158.6" x2="1724.4" y2="158.6" stroke="#000" stroke-width="2.2"/>
<line x1="1765.3" y1="216" x2="1765.3" y2="211.2" stroke="#000" stroke-width="2.2"/>
<line x1="1760.8" y1="211.2" x2="1769.8" y2="211.2" stroke="#000" stroke-width="2.2"/>
<line x1="1791.9" y1="181.6" x2="1791.9" y2="179.6" stroke="#000" stroke-width="2.2"/>
<line x1="1787.4" y1="179.6" x2="1796.4" y2="179.6" stroke="#000" stroke-width="2.2"/>
<line x1="1837.3" y1="187.3" x2="1837.3" y2="185.4" stroke="#000" stroke-width="2.2"/>
<line x1="1832.8" y1="185.4" x2="1841.8" y2="185.4" stroke="#000" stroke-width="2.2"/>
<line x1="1864.7" y1="160.5" x2="1864.7" y2="158.6" stroke="#000" stroke-width="2.2"/>
<line x1="1860.2" y1="158.6" x2="1869.2" y2="158.6" stroke="#000" stroke-width="2.2"/>
<line x1="1598" y1="84.7" x2="1598" y2="278.4" stroke="#000" stroke-width="2.2"/>
<line x1="1593" y1="277.3" x2="1887.4" y2="277.3" stroke="#000" stroke-width="2.2"/>
<line x1="1593" y1="277.3" x2="1598" y2="277.3" stroke="#000" stroke-width="2.2"/>
<text x="1590" y="285.4" font-size="22.4" text-anchor="end">0.0</text>
<line x1="1593" y1="239" x2="1598" y2="239" stroke="#000" stroke-width="2.2"/>
<text x="1590" y="247.1" font-size="22.4" text-anchor="end">0.2</text>
<line x1="1593" y1="200.7" x2="1598" y2="200.7" stroke="#000" stroke-width="2.2"/>
<text x="1590" y="208.8" font-size="22.4" text-anchor="end">0.4</text>
<line x1="1593" y1="162.4" x2="1598" y2="162.4" stroke="#000" stroke-width="2.2"/>
<text x="1590" y="170.5" font-size="22.4" text-anchor="end">0.6</text>
<line x1="1593" y1="124.1" x2="1598" y2="124.1" stroke="#000" stroke-width="2.2"/>
<text x="1590" y="132.2" font-size="22.4" text-anchor="end">0.8</text>
<line x1="1593" y1="85.8" x2="1598" y2="85.8" stroke="#000" stroke-width="2.2"/>
<text x="1590" y="93.9" font-size="22.4" text-anchor="end">1.0</text>
<line x1="1633.8" y1="277.3" x2="1633.8" y2="283.8" stroke="#000" stroke-width="2.2"/>
<line x1="1706.6" y1="277.3" x2="1706.6" y2="283.8" stroke="#000" stroke-width="2.2"/>
<line x1="1778.3" y1="277.3" x2="1778.3" y2="283.8" stroke="#000" stroke-width="2.2"/>
<line x1="1850.8" y1="277.3" x2="1850.8" y2="283.8" stroke="#000" stroke-width="2.2"/>
<text x="1638.8" y="296.8" font-size="21.2" text-anchor="end" transform="rotate(-45 1638.8 296.8)">Untreated</text>
<text x="1711.6" y="296.8" font-size="21.2" text-anchor="end" transform="rotate(-45 1711.6 296.8)">Cisplatin</text>
<text x="1783.3" y="296.8" font-size="21.2" text-anchor="end" transform="rotate(-45 1783.3 296.8)">Doxorubicin</text>
<text x="1855.8" y="296.8" font-size="21.2" text-anchor="end" transform="rotate(-45 1855.8 296.8)">Gemcitabine</text>
<path d="M1694.2 153.1V148.6H1719V153.1" stroke="#666" stroke-width="1.3" fill="none"/>
<text x="1707.3" y="153.2" font-size="21" text-anchor="middle" letter-spacing="1.5">**</text>
<path d="M1766.6 175.5V171H1791.8V175.5" stroke="#666" stroke-width="1.3" fill="none"/>
<text x="1779.9" y="175.6" font-size="21" text-anchor="middle" letter-spacing="1.5">**</text>
<path d="M1839 153.1V148.6H1864V153.1" stroke="#666" stroke-width="1.3" fill="none"/>
<text x="1852.2" y="153.2" font-size="21" text-anchor="middle" letter-spacing="1.5">*</text>
<rect x="1886" y="92.4" width="23.3" height="18.6" fill="#c0befc"/>
<rect x="1886" y="114.6" width="23.3" height="18.6" fill="#fb9fa2"/>
<text x="1919.5" y="109.4" font-size="21.4">Vector</text>
<text x="1919.5" y="131.6" font-size="21.4">PID1</text>
<text x="1555" y="178" font-size="20.9" text-anchor="middle" transform="rotate(-90 1555 178)">Red/Green Ratio</text>
<text x="1748" y="63.5" font-size="21.6" text-anchor="middle">HepG2</text>
<rect x="1609.5" y="495.9" width="20.6" height="173.6" fill="#c0befc"/>
<rect x="1636.2" y="494" width="20.6" height="175.5" fill="#fb9fa2"/>
<rect x="1681.5" y="613.9" width="20.6" height="55.6" fill="#c0befc"/>
<rect x="1708.4" y="567.8" width="20.6" height="101.7" fill="#fb9fa2"/>
<rect x="1753.8" y="614.8" width="20.6" height="54.7" fill="#c0befc"/>
<rect x="1780.4" y="596.6" width="20.6" height="72.9" fill="#fb9fa2"/>
<rect x="1825.8" y="617.7" width="20.6" height="51.8" fill="#c0befc"/>
<rect x="1853.2" y="564" width="20.6" height="105.5" fill="#fb9fa2"/>
<line x1="1619.8" y1="495.9" x2="1619.8" y2="493" stroke="#000" stroke-width="2.2"/>
<line x1="1615.3" y1="493" x2="1624.3" y2="493" stroke="#000" stroke-width="2.2"/>
<line x1="1646.5" y1="494" x2="1646.5" y2="492.1" stroke="#000" stroke-width="2.2"/>
<line x1="1642" y1="492.1" x2="1651" y2="492.1" stroke="#000" stroke-width="2.2"/>
<line x1="1691.8" y1="613.9" x2="1691.8" y2="612" stroke="#000" stroke-width="2.2"/>
<line x1="1687.3" y1="612" x2="1696.3" y2="612" stroke="#000" stroke-width="2.2"/>
<line x1="1718.7" y1="567.8" x2="1718.7" y2="565" stroke="#000" stroke-width="2.2"/>
<line x1="1714.2" y1="565" x2="1723.2" y2="565" stroke="#000" stroke-width="2.2"/>
<line x1="1764.1" y1="614.8" x2="1764.1" y2="612" stroke="#000" stroke-width="2.2"/>
<line x1="1759.6" y1="612" x2="1768.6" y2="612" stroke="#000" stroke-width="2.2"/>
<line x1="1790.7" y1="596.6" x2="1790.7" y2="595.7" stroke="#000" stroke-width="2.2"/>
<line x1="1786.2" y1="595.7" x2="1795.2" y2="595.7" stroke="#000" stroke-width="2.2"/>
<line x1="1831.6" y1="617.3" x2="1840.6" y2="617.3" stroke="#000" stroke-width="2.2"/>
<line x1="1863.5" y1="564" x2="1863.5" y2="560.2" stroke="#000" stroke-width="2.2"/>
<line x1="1859" y1="560.2" x2="1868" y2="560.2" stroke="#000" stroke-width="2.2"/>
<line x1="1596.8" y1="476.6" x2="1596.8" y2="670.6" stroke="#000" stroke-width="2.2"/>
<line x1="1591.8" y1="669.5" x2="1887.4" y2="669.5" stroke="#000" stroke-width="2.2"/>
<line x1="1591.8" y1="669.5" x2="1596.8" y2="669.5" stroke="#000" stroke-width="2.2"/>
<text x="1588.8" y="677.6" font-size="22.4" text-anchor="end">0.0</text>
<line x1="1591.8" y1="631.1" x2="1596.8" y2="631.1" stroke="#000" stroke-width="2.2"/>
<text x="1588.8" y="639.2" font-size="22.4" text-anchor="end">0.2</text>
<line x1="1591.8" y1="592.8" x2="1596.8" y2="592.8" stroke="#000" stroke-width="2.2"/>
<text x="1588.8" y="600.8" font-size="22.4" text-anchor="end">0.4</text>
<line x1="1591.8" y1="554.4" x2="1596.8" y2="554.4" stroke="#000" stroke-width="2.2"/>
<text x="1588.8" y="562.5" font-size="22.4" text-anchor="end">0.6</text>
<line x1="1591.8" y1="516.1" x2="1596.8" y2="516.1" stroke="#000" stroke-width="2.2"/>
<text x="1588.8" y="524.1" font-size="22.4" text-anchor="end">0.8</text>
<line x1="1591.8" y1="477.7" x2="1596.8" y2="477.7" stroke="#000" stroke-width="2.2"/>
<text x="1588.8" y="485.8" font-size="22.4" text-anchor="end">1.0</text>
<line x1="1632.6" y1="669.5" x2="1632.6" y2="676" stroke="#000" stroke-width="2.2"/>
<line x1="1705.4" y1="669.5" x2="1705.4" y2="676" stroke="#000" stroke-width="2.2"/>
<line x1="1777.1" y1="669.5" x2="1777.1" y2="676" stroke="#000" stroke-width="2.2"/>
<line x1="1849.6" y1="669.5" x2="1849.6" y2="676" stroke="#000" stroke-width="2.2"/>
<text x="1637.6" y="689" font-size="21.2" text-anchor="end" transform="rotate(-45 1637.6 689)">Untreated</text>
<text x="1710.4" y="689" font-size="21.2" text-anchor="end" transform="rotate(-45 1710.4 689)">Cisplatin</text>
<text x="1782.1" y="689" font-size="21.2" text-anchor="end" transform="rotate(-45 1782.1 689)">Doxorubicin</text>
<text x="1854.6" y="689" font-size="21.2" text-anchor="end" transform="rotate(-45 1854.6 689)">Gemcitabine</text>
<path d="M1693 558V553.5H1718V558" stroke="#666" stroke-width="1.3" fill="none"/>
<text x="1706.2" y="558.1" font-size="21" text-anchor="middle" letter-spacing="1.5">**</text>
<path d="M1765.5 592.5V588H1790.5V592.5" stroke="#666" stroke-width="1.3" fill="none"/>
<text x="1778.8" y="592.6" font-size="21" text-anchor="middle" letter-spacing="1.5">*</text>
<path d="M1838 555.1V550.6H1863V555.1" stroke="#666" stroke-width="1.3" fill="none"/>
<text x="1851.2" y="555.2" font-size="21" text-anchor="middle" letter-spacing="1.5">**</text>
<rect x="1886" y="484.6" width="23.3" height="18.6" fill="#c0befc"/>
<rect x="1886" y="506.8" width="23.3" height="18.6" fill="#fb9fa2"/>
<text x="1919.5" y="501.6" font-size="21.4">Vector</text>
<text x="1919.5" y="523.8" font-size="21.4">PID1</text>
<text x="1555" y="570" font-size="20.9" text-anchor="middle" transform="rotate(-90 1555 570)">Red/Green Ratio</text>
<text x="1748" y="455.7" font-size="21.6" text-anchor="middle">Hepa1-6</text>
<text x="0.3" y="859.9" font-size="31.8" font-weight="bold">D</text>
<rect x="66.8" y="1040.3" width="20.7" height="64" fill="#c0befc"/>
<rect x="94" y="1040.3" width="20.7" height="64" fill="#fb9fa2"/>
<rect x="139.2" y="930.2" width="20.7" height="174.1" fill="#c0befc"/>
<rect x="166.5" y="999.3" width="20.7" height="105" fill="#fb9fa2"/>
<rect x="212.2" y="937.9" width="20.7" height="166.4" fill="#c0befc"/>
<rect x="239.4" y="1004.5" width="20.7" height="99.8" fill="#fb9fa2"/>
<rect x="285" y="963.5" width="20.7" height="140.8" fill="#c0befc"/>
<rect x="312.3" y="998.1" width="20.7" height="106.2" fill="#fb9fa2"/>
<line x1="72.6" y1="1040.3" x2="81.6" y2="1040.3" stroke="#000" stroke-width="2.2"/>
<line x1="99.8" y1="1040.3" x2="108.8" y2="1040.3" stroke="#000" stroke-width="2.2"/>
<line x1="149.5" y1="930.2" x2="149.5" y2="925.1" stroke="#000" stroke-width="2.2"/>
<line x1="145" y1="925.1" x2="154" y2="925.1" stroke="#000" stroke-width="2.2"/>
<line x1="176.8" y1="999.3" x2="176.8" y2="991" stroke="#000" stroke-width="2.2"/>
<line x1="172.3" y1="991" x2="181.3" y2="991" stroke="#000" stroke-width="2.2"/>
<line x1="222.5" y1="937.9" x2="222.5" y2="936.6" stroke="#000" stroke-width="2.2"/>
<line x1="218" y1="936.6" x2="227" y2="936.6" stroke="#000" stroke-width="2.2"/>
<line x1="249.8" y1="1004.5" x2="249.8" y2="1000.6" stroke="#000" stroke-width="2.2"/>
<line x1="245.2" y1="1000.6" x2="254.2" y2="1000.6" stroke="#000" stroke-width="2.2"/>
<line x1="295.4" y1="963.5" x2="295.4" y2="957.7" stroke="#000" stroke-width="2.2"/>
<line x1="290.9" y1="957.7" x2="299.9" y2="957.7" stroke="#000" stroke-width="2.2"/>
<line x1="322.7" y1="998.1" x2="322.7" y2="994.9" stroke="#000" stroke-width="2.2"/>
<line x1="318.2" y1="994.9" x2="327.2" y2="994.9" stroke="#000" stroke-width="2.2"/>
<line x1="53.9" y1="911.2" x2="53.9" y2="1105.4" stroke="#000" stroke-width="2.2"/>
<line x1="48.9" y1="1104.3" x2="345.6" y2="1104.3" stroke="#000" stroke-width="2.2"/>
<line x1="48.9" y1="1104.3" x2="53.9" y2="1104.3" stroke="#000" stroke-width="2.2"/>
<text x="45.9" y="1112.4" font-size="22.4" text-anchor="end">0</text>
<line x1="48.9" y1="1040.3" x2="53.9" y2="1040.3" stroke="#000" stroke-width="2.2"/>
<text x="45.9" y="1048.4" font-size="22.4" text-anchor="end">1</text>
<line x1="48.9" y1="976.3" x2="53.9" y2="976.3" stroke="#000" stroke-width="2.2"/>
<text x="45.9" y="984.4" font-size="22.4" text-anchor="end">2</text>
<line x1="48.9" y1="912.3" x2="53.9" y2="912.3" stroke="#000" stroke-width="2.2"/>
<text x="45.9" y="920.4" font-size="22.4" text-anchor="end">3</text>
<line x1="90.6" y1="1104.3" x2="90.6" y2="1110.8" stroke="#000" stroke-width="2.2"/>
<line x1="163.3" y1="1104.3" x2="163.3" y2="1110.8" stroke="#000" stroke-width="2.2"/>
<line x1="235.7" y1="1104.3" x2="235.7" y2="1110.8" stroke="#000" stroke-width="2.2"/>
<line x1="308.6" y1="1104.3" x2="308.6" y2="1110.8" stroke="#000" stroke-width="2.2"/>
<text x="95.6" y="1123.8" font-size="21.2" text-anchor="end" transform="rotate(-45 95.6 1123.8)">Untreated</text>
<text x="168.3" y="1123.8" font-size="21.2" text-anchor="end" transform="rotate(-45 168.3 1123.8)">Cisplatin</text>
<text x="240.7" y="1123.8" font-size="21.2" text-anchor="end" transform="rotate(-45 240.7 1123.8)">Doxorubicin</text>
<text x="313.6" y="1123.8" font-size="21.2" text-anchor="end" transform="rotate(-45 313.6 1123.8)">Gemcitabine</text>
<path d="M150 915.5V911H175.5V915.5" stroke="#666" stroke-width="1.3" fill="none"/>
<text x="163.5" y="915.6" font-size="21" text-anchor="middle" letter-spacing="1.5">**</text>
<path d="M222.4 927.7V923.2H247.4V927.7" stroke="#666" stroke-width="1.3" fill="none"/>
<text x="235.7" y="927.8" font-size="21" text-anchor="middle" letter-spacing="1.5">**</text>
<path d="M294.8 950.4V945.9H319.6V950.4" stroke="#666" stroke-width="1.3" fill="none"/>
<text x="308" y="950.5" font-size="21" text-anchor="middle" letter-spacing="1.5">*</text>
<rect x="343.4" y="919.2" width="23.1" height="18.2" fill="#c0befc"/>
<rect x="343.4" y="941.5" width="23.1" height="18.2" fill="#fb9fa2"/>
<text x="376.7" y="936" font-size="21.4">Vector</text>
<text x="376.7" y="958.3" font-size="21.4">PID1</text>
<text x="23" y="1004.7" font-size="20.9" text-anchor="middle" transform="rotate(-90 23 1004.7)">Relative ROS level</text>
<text x="194.4" y="875.9" font-size="21.6" text-anchor="middle">HepG2</text>
<text x="0.2" y="1241.4" font-size="31.8" font-weight="bold">E</text>
<rect x="65.1" y="1436.4" width="20.6" height="48" fill="#c0befc"/>
<rect x="91.9" y="1436.4" width="20.6" height="48" fill="#fb9fa2"/>
<rect x="137.3" y="1351.4" width="20.6" height="133" fill="#c0befc"/>
<rect x="164.3" y="1389.4" width="20.6" height="95" fill="#fb9fa2"/>
<rect x="209.5" y="1337" width="20.6" height="147.4" fill="#c0befc"/>
<rect x="236.5" y="1401.4" width="20.6" height="83" fill="#fb9fa2"/>
<rect x="281.9" y="1349" width="20.6" height="135.4" fill="#c0befc"/>
<rect x="308.9" y="1399.9" width="20.6" height="84.5" fill="#fb9fa2"/>
<line x1="70.9" y1="1436.4" x2="79.9" y2="1436.4" stroke="#000" stroke-width="2.2"/>
<line x1="97.7" y1="1436.4" x2="106.7" y2="1436.4" stroke="#000" stroke-width="2.2"/>
<line x1="147.6" y1="1351.4" x2="147.6" y2="1341.8" stroke="#000" stroke-width="2.2"/>
<line x1="143.1" y1="1341.8" x2="152.1" y2="1341.8" stroke="#000" stroke-width="2.2"/>
<line x1="174.6" y1="1389.4" x2="174.6" y2="1385" stroke="#000" stroke-width="2.2"/>
<line x1="170.1" y1="1385" x2="179.1" y2="1385" stroke="#000" stroke-width="2.2"/>
<line x1="219.8" y1="1337" x2="219.8" y2="1327" stroke="#000" stroke-width="2.2"/>
<line x1="215.3" y1="1327" x2="224.3" y2="1327" stroke="#000" stroke-width="2.2"/>
<line x1="246.8" y1="1401.4" x2="246.8" y2="1399.4" stroke="#000" stroke-width="2.2"/>
<line x1="242.3" y1="1399.4" x2="251.3" y2="1399.4" stroke="#000" stroke-width="2.2"/>
<line x1="292.2" y1="1349" x2="292.2" y2="1338" stroke="#000" stroke-width="2.2"/>
<line x1="287.7" y1="1338" x2="296.7" y2="1338" stroke="#000" stroke-width="2.2"/>
<line x1="314.7" y1="1399.9" x2="323.7" y2="1399.9" stroke="#000" stroke-width="2.2"/>
<line x1="52.6" y1="1291.3" x2="52.6" y2="1485.5" stroke="#000" stroke-width="2.2"/>
<line x1="47.6" y1="1484.4" x2="342.6" y2="1484.4" stroke="#000" stroke-width="2.2"/>
<line x1="47.6" y1="1484.4" x2="52.6" y2="1484.4" stroke="#000" stroke-width="2.2"/>
<text x="44.6" y="1492.5" font-size="22.4" text-anchor="end">0</text>
<line x1="47.6" y1="1436.4" x2="52.6" y2="1436.4" stroke="#000" stroke-width="2.2"/>
<text x="44.6" y="1444.5" font-size="22.4" text-anchor="end">1</text>
<line x1="47.6" y1="1388.4" x2="52.6" y2="1388.4" stroke="#000" stroke-width="2.2"/>
<text x="44.6" y="1396.5" font-size="22.4" text-anchor="end">2</text>
<line x1="47.6" y1="1340.4" x2="52.6" y2="1340.4" stroke="#000" stroke-width="2.2"/>
<text x="44.6" y="1348.5" font-size="22.4" text-anchor="end">3</text>
<line x1="47.6" y1="1292.4" x2="52.6" y2="1292.4" stroke="#000" stroke-width="2.2"/>
<text x="44.6" y="1300.5" font-size="22.4" text-anchor="end">4</text>
<line x1="88.7" y1="1484.4" x2="88.7" y2="1490.9" stroke="#000" stroke-width="2.2"/>
<line x1="160.4" y1="1484.4" x2="160.4" y2="1490.9" stroke="#000" stroke-width="2.2"/>
<line x1="233.3" y1="1484.4" x2="233.3" y2="1490.9" stroke="#000" stroke-width="2.2"/>
<line x1="305.7" y1="1484.4" x2="305.7" y2="1490.9" stroke="#000" stroke-width="2.2"/>
<text x="93.7" y="1503.9" font-size="21.2" text-anchor="end" transform="rotate(-45 93.7 1503.9)">Untreated</text>
<text x="165.4" y="1503.9" font-size="21.2" text-anchor="end" transform="rotate(-45 165.4 1503.9)">Cisplatin</text>
<text x="238.3" y="1503.9" font-size="21.2" text-anchor="end" transform="rotate(-45 238.3 1503.9)">Doxorubicin</text>
<text x="310.7" y="1503.9" font-size="21.2" text-anchor="end" transform="rotate(-45 310.7 1503.9)">Gemcitabine</text>
<path d="M147.8 1336.3V1331.8H172.5V1336.3" stroke="#666" stroke-width="1.3" fill="none"/>
<text x="160.9" y="1336.4" font-size="21" text-anchor="middle" letter-spacing="1.5">*</text>
<path d="M221.1 1319.9V1315.4H245.9V1319.9" stroke="#666" stroke-width="1.3" fill="none"/>
<text x="234.2" y="1320" font-size="21" text-anchor="middle" letter-spacing="1.5">**</text>
<path d="M293.3 1331.7V1327.2H317.9V1331.7" stroke="#666" stroke-width="1.3" fill="none"/>
<text x="306.4" y="1331.8" font-size="21" text-anchor="middle" letter-spacing="1.5">**</text>
<rect x="343.4" y="1299" width="23.1" height="18.5" fill="#c0befc"/>
<rect x="343.4" y="1321" width="23.1" height="18.5" fill="#fb9fa2"/>
<text x="376.7" y="1316" font-size="21.4">Vector</text>
<text x="376.7" y="1338" font-size="21.4">PID1</text>
<text x="22" y="1384.8" font-size="20.9" text-anchor="middle" transform="rotate(-90 22 1384.8)">Relative ROS level</text>
<text x="194.4" y="1256" font-size="21.6" text-anchor="middle">Hepa1-6</text>
<text x="440.1" y="859.9" font-size="31.8" font-weight="bold">F</text>
<text x="790.2" y="848.7" font-size="21.8" text-anchor="middle">HepG2</text>
<text x="572.9" y="882.9" font-size="21.5" text-anchor="middle">Untreated</text>
<text x="716.6" y="882.9" font-size="21.5" text-anchor="middle">Cisplatin</text>
<text x="861" y="882.9" font-size="21.5" text-anchor="middle">Doxorubicin</text>
<text x="1005.7" y="882.9" font-size="21.5" text-anchor="middle">Gemcitabine</text>
<rect x="511.8" y="892.9" width="120.5" height="121" fill="none" stroke="#b8b8b8" stroke-width="1.2"/>
<ellipse cx="581.7" cy="958.2" rx="29.2" ry="10.2" fill="url(#gH)" transform="rotate(-40.6 581.7 958.2)"/>
<path d="M605 921h1m7 0h1m-2 1h1m-8 1h1m4 0h1m-8 1h1m7 1h1m0 1h1m0 0h1m-6 1h1m4 1h1m-8 1h1m-12 9h1m-10 1h1m5 0h1m0 0h1m2 0h1m3 1h1m-9 1h1m4 0h1m-16 1h1m0 0h1m-5 1h1m1 2h1m24 1h1m0 0h1m-2 1h1m-37 2h1m1 1h1m0 0h1m1 0h1m1 0h1m-9 1h1m34 0h1m-1 1h1m-4 2h1m-33 1h1m-1 1h1m31 0h1m-36 1h1m-6 2h1m3 0h1m32 2h1m-2 1h1m-37 1h1m-3 3h1m31 0h1m-32 1h1m1 0h1m0 0h1m21 2h1m1 0h1m-28 1h1m22 0h1m-24 2h1m15 0h1m-19 1h1m6 0h1m-8 1h1m6 0h1m-1 1h1m6 0h1m4 0h1m-11 1h1m0 0h1m1 0h1m-8 1h1m5 0h1m2 0h1m0 0h1m3 0h1m-9 1h1m4 0h1m-7 2h1m4 0h1m-7 1h1m3 0h1m0 1h1m-6 1h1" stroke="#2832f7" stroke-width="1" stroke-linecap="square"/>
<path d="M619 911h1m-7 5h1m9 0h1m-19 2h1m16 0h1m-22 4h1m17 0h1m-12 1h1m-11 1h1m-5 1h1m7 1h1m-7 1h1m20 0h1m-24 3h1m9 0h1m11 0h1m7 0h1m-41 1h1m20 1h1m5 0h1m-42 3h1m26 0h1m2 0h1m6 0h1m-18 1h1m-35 1h1m34 1h1m11 0h1m2 0h1m5 0h1m-32 1h1m24 1h1m-35 1h1m9 0h1m23 0h1m-44 2h1m12 1h1m1 0h1m-15 5h1m42 4h1m-54 2h1m52 1h1m-50 1h1m1 1h1m40 0h1m-2 2h1m-41 2h1m-16 1h1m58 0h1m-55 4h1m42 3h1m0 1h1m1 1h1m9 1h1m-53 1h1m-6 1h1m51 0h1m-22 1h1m1 0h1m12 0h1m-36 2h1m15 3h1m-15 1h1m20 0h1m-28 1h1m3 0h1m5 1h1m-9 2h1m7 0h1m27 2h1m-20 1h1m4 1h1" stroke="#3538fc" stroke-width="1" stroke-linecap="square"/>
<path d="M590 945h1m1 0h1m1 0h1m1 0h1m-8 1h1m0 0h1m0 0h1m1 0h1m0 0h1m0 0h1m0 0h1m-8 1h1m0 0h1m0 0h1m0 0h1m2 0h1m-2 1h1m1 0h1m-15 1h1m1 0h1m10 0h1m-14 1h1m0 0h1m12 0h1m-6 2h1m-1 1h1m1 0h1m-20 1h1m0 0h1m-2 2h1m0 0h1m-4 4h1m18 0h1m1 0h1m-22 1h1m-3 1h1m0 0h1m0 0h1m19 0h1m0 0h1m-9 1h1m0 0h1m0 0h1m-20 1h1m0 0h1m15 0h1m0 0h1m-19 1h1m0 0h1m-3 1h1m0 0h1m0 0h1m-2 2h1m3 1h1m0 0h1m2 0h1m0 0h1m-6 1h1m2 0h1m0 0h1m1 0h1m-9 1h1m1 0h1m3 0h1" stroke="#0096f0" stroke-width="1" stroke-linecap="square"/>
<path d="M586 951h1m0 0h1m-3 1h1m0 0h1m-1 1h1m0 0h1m0 2h1m0 0h1m0 0h1m-14 2h1m10 0h1m0 0h1m0 0h1m-15 1h1m0 0h1m0 0h1m10 0h1m0 0h1m-15 1h1m11 0h1m0 0h1m0 0h1m-9 1h1m0 0h1m0 0h1m-2 2h1m0 0h1m-12 1h1m0 0h1m0 0h1m3 0h1m1 0h1m-9 1h1m0 0h1m4 0h1m0 0h1m0 0h1m-8 1h1m5 0h1m-8 1h1m3 0h1m-5 1h1m0 0h1m0 0h1m0 0h1m0 0h1m-5 1h1m0 0h1m0 0h1m2 0h1" stroke="#66d72c" stroke-width="1" stroke-linecap="square"/>
<path d="M602 942h1m-15 1h1m1 0h1m10 0h1m-14 1h1m0 0h1m12 0h1m0 0h1m1 0h1m-22 2h1m20 0h1m-22 1h1m-5 1h1m19 0h1m3 0h1m-25 1h1m0 1h1m19 0h1m-4 1h1m0 0h1m0 0h1m0 0h1m-32 2h1m0 0h1m0 0h1m28 0h1m-30 2h1m-2 1h1m27 0h1m-33 3h1m-4 1h1m1 0h1m27 1h1m-31 1h1m30 0h1m0 0h1m-12 4h1m0 0h1m2 0h1m-3 1h1m0 1h1m-27 1h1m3 0h1m-1 2h1m3 1h1m-1 1h1" stroke="#1a2bf2" stroke-width="1" stroke-linecap="square"/>
<path d="M597 942h1m-6 1h1m5 0h1m-5 1h1m3 0h1m0 0h1m1 1h1m-15 1h1m9 0h1m2 0h1m1 0h1m-6 1h1m0 0h1m0 0h1m-2 3h1m-25 1h1m21 0h1m-20 1h1m17 0h1m-1 1h1m-1 1h1m0 1h1m-1 1h1m-27 1h1m-1 1h1m24 0h1m-27 2h1m-2 1h1m-2 1h1m1 0h1m-5 1h1m22 1h1m-1 1h1m-6 1h1m-20 1h1m0 0h1m0 1h1m17 0h1m-18 1h1m0 0h1m0 0h1m-1 2h1" stroke="#0d4cf0" stroke-width="1" stroke-linecap="square"/>
<path d="M587 948h1m0 0h1m2 0h1m-6 1h1m1 0h1m1 0h1m1 0h1m-7 1h1m4 0h1m0 0h1m0 0h1m-15 1h1m0 0h1m0 2h1m-6 1h1m1 0h1m-3 1h1m1 0h1m13 0h1m0 0h1m-17 1h1m0 0h1m13 0h1m0 0h1m-19 1h1m16 0h1m-19 1h1m0 0h1m15 0h1m0 0h1m-18 1h1m15 0h1m0 0h1m-5 1h1m0 0h1m0 0h1m-2 2h1m-11 4h1m-1 1h1m1 0h1" stroke="#00b7ba" stroke-width="1" stroke-linecap="square"/>
<path d="M582 951h1m0 0h1m4 0h1m0 0h1m0 0h1m-8 1h1m0 0h1m4 0h1m-7 1h1m0 0h1m3 0h1m-9 2h1m-1 1h1m0 0h1m-8 4h1m10 0h1m0 0h1m0 0h1m-15 1h1m0 0h1m0 0h1m9 0h1m0 0h1m-14 1h1m0 0h1m10 0h1m0 0h1m-15 1h1m9 0h1m0 1h1m0 0h1m-15 1h1m0 0h1m0 0h1m9 0h1m0 0h1m-12 1h1m-3 1h1m1 0h1m-1 1h1" stroke="#19cc76" stroke-width="1" stroke-linecap="square"/>
<path d="M585 954h1m1 0h1m-2 1h1m0 0h1m-2 1h1m0 0h1m-9 1h1m1 0h1m0 0h1m0 0h1m0 0h1m-5 1h1m1 0h1m0 0h1m-5 1h1m3 0h1m0 0h1m-6 1h1m0 0h1m0 0h1m-3 1h1m0 0h1m0 0h1m-3 1h1m0 0h1m0 0h1m-6 1h1m0 0h1m0 0h1m-3 1h1m0 0h1m0 0h1m-3 1h1m0 0h1m0 0h1" stroke="#f76900" stroke-width="1" stroke-linecap="square"/>
<path d="M582 954h1m0 0h1m0 0h1m-3 1h1m1 0h1m-3 1h1m0 0h1m0 0h1m1 1h1m0 0h1m-1 1h1m-2 1h1m-11 1h1m0 0h1m-2 1h1m1 0h1m-3 1h1m0 0h1m0 0h1" stroke="#e8dc00" stroke-width="1" stroke-linecap="square"/>
<line x1="592.1" y1="892.9" x2="592.1" y2="1013.9" stroke="#5a5a5a" stroke-width="1.4"/>
<line x1="511.8" y1="938.5" x2="632.3" y2="938.5" stroke="#5a5a5a" stroke-width="1.4"/>
<text x="516.3" y="904.4" font-size="11" fill="#222">0.26</text>
<text x="627.8" y="904.4" font-size="11" text-anchor="end" fill="#222">1.48</text>
<text x="516.3" y="1010.4" font-size="11" fill="#222">88.8</text>
<text x="627.8" y="1010.4" font-size="11" text-anchor="end" fill="#222">9.41</text>
<text class="k" x="517.5" y="1024.4">10<tspan dy="-3">0</tspan></text>
<text class="k" transform="translate(508.8 1011.2) rotate(-90)">10<tspan dy="-3">0</tspan></text>
<text class="k" x="533.8" y="1024.4">10<tspan dy="-3">1</tspan></text>
<text class="k" transform="translate(508.8 994.9) rotate(-90)">10<tspan dy="-3">1</tspan></text>
<text class="k" x="550.2" y="1024.4">10<tspan dy="-3">2</tspan></text>
<text class="k" transform="translate(508.8 978.5) rotate(-90)">10<tspan dy="-3">2</tspan></text>
<text class="k" x="566.5" y="1024.4">10<tspan dy="-3">3</tspan></text>
<text class="k" transform="translate(508.8 962.2) rotate(-90)">10<tspan dy="-3">3</tspan></text>
<text class="k" x="582.8" y="1024.4">10<tspan dy="-3">4</tspan></text>
<text class="k" transform="translate(508.8 945.9) rotate(-90)">10<tspan dy="-3">4</tspan></text>
<text class="k" x="599.1" y="1024.4">10<tspan dy="-3">5</tspan></text>
<text class="k" transform="translate(508.8 929.6) rotate(-90)">10<tspan dy="-3">5</tspan></text>
<text class="k" x="615.5" y="1024.4">10<tspan dy="-3">6</tspan></text>
<text class="k" transform="translate(508.8 913.2) rotate(-90)">10<tspan dy="-3">6</tspan></text>
<text class="k" x="631.8" y="1024.4">10<tspan dy="-3">7</tspan></text>
<text class="k" transform="translate(508.8 896.9) rotate(-90)">10<tspan dy="-3">7</tspan></text>
<rect x="657.3" y="892.9" width="120.5" height="121" fill="none" stroke="#b8b8b8" stroke-width="1.2"/>
<ellipse cx="748.9" cy="954.6" rx="32.6" ry="8.9" fill="url(#gH)" transform="rotate(-39.1 748.9 954.6)"/>
<ellipse cx="750.1" cy="927.4" rx="24.1" ry="7.1" fill="url(#gH)" transform="rotate(-9.5 750.1 927.4)"/>
<path d="M746 921h1m-2 1h1m2 0h1m0 0h1m-6 1h1m0 0h1m16 0h1m0 0h1m0 0h1m-27 2h1m0 1h1m22 1h1m-28 1h1m27 0h1m-29 1h1m0 0h1m27 0h1m-2 1h1m0 0h1m-6 1h1m0 0h1m-1 1h1m0 0h1m-22 1h1m10 0h1m0 0h1m2 0h1m4 0h1m-23 1h1m0 0h1m15 0h1m5 0h1m2 0h1m-25 1h1m10 0h1m1 0h1m9 0h1m-6 1h1m5 0h1m2 0h1m-5 1h1m3 0h1m-11 1h1m0 0h1m5 0h1m1 0h1m-11 1h1m0 1h1m-3 2h1m-2 1h1m0 0h1m0 0h1m1 0h1m7 0h1m-9 1h1m7 0h1m-1 2h1m-23 1h1m20 0h1m-24 1h1m-2 1h1m1 0h1m19 0h1m0 0h1m-24 1h1m1 0h1m18 0h1m-24 1h1m22 0h1m0 0h1m-2 1h1m-24 1h1m22 0h1m-3 1h1m-1 1h1m-2 1h1m-24 2h1m0 1h1m-6 2h1m1 0h1m-1 1h1m13 1h1m-16 1h1m0 0h1m-3 1h1m0 0h1m-2 1h1m3 0h1m0 0h1m-6 1h1m2 0h1m-1 1h1m8 0h1m0 0h1m-13 1h1m2 0h1m0 0h1m0 0h1m-7 1h1m0 0h1m0 0h1m5 0h1" stroke="#0d4cf0" stroke-width="1" stroke-linecap="square"/>
<path d="M761 918h1m-2 1h1m-10 1h1m15 1h1m-1 2h1m-33 1h1m30 0h1m-1 1h1m0 0h1m-31 1h1m-5 1h1m32 1h1m0 0h1m-35 1h1m33 1h1m-36 1h1m0 0h1m32 0h1m-2 1h1m-30 1h1m6 0h1m2 0h1m1 0h1m-17 1h1m8 0h1m7 0h1m16 0h1m3 0h1m-28 1h1m4 0h1m18 0h1m-13 1h1m-2 1h1m5 0h1m-11 1h1m4 0h1m12 1h1m-1 1h1m-14 1h1m-10 1h1m-1 1h1m5 0h1m-5 1h1m1 0h1m1 0h1m16 0h1m-27 1h1m-3 2h1m24 1h1m-29 1h1m-1 1h1m1 0h1m-5 2h1m0 0h1m-1 1h1m29 0h1m-6 1h1m0 0h1m0 0h1m-28 1h1m24 1h1m-29 1h1m23 1h1m-26 1h1m17 4h1m-1 1h1m-23 1h1m21 0h1m-25 1h1m19 0h1m-17 2h1m-2 1h1m0 0h1m9 0h1m0 0h1m-17 1h1m0 0h1m1 0h1m13 0h1m-13 1h1m3 1h1m1 0h1m-3 1h1m1 0h1m-6 1h1m2 0h1" stroke="#1a2bf2" stroke-width="1" stroke-linecap="square"/>
<path d="M752 921h1m6 0h1m-9 1h1m0 0h1m7 0h1m-11 1h1m1 0h1m7 4h1m-2 1h1m0 0h1m-26 2h1m0 0h1m0 0h1m2 0h1m16 0h1m-22 1h1m20 0h1m0 0h1m-22 1h1m24 7h1m2 0h1m0 0h1m-7 1h1m0 0h1m0 0h1m3 0h1m-8 1h1m5 0h1m0 0h1m0 0h1m-9 1h1m0 0h1m-2 2h1m1 0h1m-15 1h1m12 0h1m3 0h1m-17 1h1m0 0h1m1 0h1m1 0h1m5 0h1m0 0h1m1 0h1m-16 1h1m0 0h1m3 0h1m0 0h1m3 0h1m0 0h1m0 0h1m1 0h1m0 0h1m0 0h1m-8 1h1m4 0h1m-4 1h1m0 0h1m1 0h1m-5 1h1m2 1h1m-1 1h1m-23 2h1m1 0h1m-1 1h1m-1 1h1m12 1h1m1 0h1m-3 1h1m-19 2h1m12 1h1m-13 1h1m0 0h1m-1 1h1m-2 1h1m0 0h1m-3 1h1m4 1h1m1 0h1m-5 1h1m1 1h1m0 0h1" stroke="#0096f0" stroke-width="1" stroke-linecap="square"/>
<path d="M747 924h1m1 0h1m0 0h1m1 1h1m-3 1h1m0 0h1m-6 1h1m0 0h1m0 0h1m0 0h1m0 0h1m0 0h1m0 0h1m-9 1h1m0 0h1m0 0h1m1 0h1m1 0h1m0 0h1m2 0h1m-11 1h1m0 0h1m0 0h1m0 0h1m0 0h1m0 0h1m0 0h1m0 0h1m0 0h1m0 0h1m0 0h1m0 0h1m-12 22h1m0 0h1m8 0h1m0 0h1m-11 1h1m0 0h1m6 0h1m0 0h1m0 0h1m-11 1h1m7 0h1m0 0h1m0 0h1m-3 1h1m0 0h1m0 0h1m-3 1h1m0 0h1m0 0h1m-3 1h1m0 0h1m-12 1h1m3 0h1m0 0h1m-8 1h1m5 0h1m1 0h1m-9 1h1m0 0h1m0 0h1m4 0h1m-8 1h1m1 0h1m0 0h1m0 0h1m-5 1h1m0 0h1m0 0h1m0 0h1m1 0h1m-6 1h1m0 0h1m0 0h1" stroke="#66d72c" stroke-width="1" stroke-linecap="square"/>
<path d="M753 921h1m2 0h1m-4 1h1m0 0h1m0 0h1m0 0h1m1 0h1m-3 1h1m0 0h1m0 0h1m-17 1h1m16 0h1m-18 1h1m16 0h1m0 0h1m-18 1h1m16 0h1m0 0h1m-24 1h1m0 0h1m-2 1h1m1 0h1m-3 1h1m0 0h1m0 0h1m0 1h1m2 0h1m1 0h1m8 0h1m-14 1h1m0 0h1m2 0h1m8 0h1m-13 1h1m1 0h1m8 0h1m0 0h1m6 10h1m1 0h1m-3 1h1m0 0h1m0 1h1m-21 4h1m9 0h1m0 0h1m-2 1h1m-9 1h1m8 0h1m-13 1h1m-1 1h1m12 0h1m0 0h1m0 0h1m-16 1h1m12 0h1m-1 1h1m-1 1h1m0 0h1m0 0h1m-2 1h1m-19 1h1m0 0h1m-3 1h1m1 0h1m-3 1h1m6 4h1m-8 1h1m0 0h1m4 0h1m0 0h1m-8 1h1m5 0h1" stroke="#00b7ba" stroke-width="1" stroke-linecap="square"/>
<path d="M772 918h1m-32 1h1m-5 3h1m30 0h1m3 0h1m0 0h1m-34 1h1m34 0h1m-47 1h1m2 0h1m43 0h1m-44 1h1m34 0h1m3 0h1m-42 1h1m-1 3h1m-5 1h1m40 0h1m-43 1h1m46 2h1m-45 1h1m43 0h1m-39 2h1m0 0h1m10 0h1m-15 1h1m38 0h1m-29 1h1m26 0h1m0 2h1m1 0h1m-1 1h1m-4 1h1m3 2h1m-4 1h1m-5 1h1m3 1h1m-3 1h1m-39 6h1m32 1h1m-35 3h1m-2 4h1m23 1h1m-1 1h1m-27 1h1m-4 1h1m24 0h1m0 0h1m-2 1h1m4 1h1m-36 1h1m23 0h1m-23 1h1m1 0h1m0 0h1m19 0h1m-26 1h1m1 0h1m1 0h1m1 1h1m4 0h1m8 0h1m0 1h1m-21 1h1m3 1h1m-4 1h1m3 0h1m3 0h1m-9 1h1m3 2h1m-4 1h1" stroke="#2832f7" stroke-width="1" stroke-linecap="square"/>
<path d="M746 924h1m-3 1h1m0 0h1m0 0h1m9 0h1m1 0h1m-15 1h1m0 0h1m0 0h1m11 0h1m-17 1h1m-2 1h1m0 0h1m13 0h1m1 0h1m-18 1h1m1 0h1m14 0h1m-12 1h1m1 0h1m0 0h1m-4 1h1m2 1h1m0 0h1m0 0h1m-6 16h1m0 0h1m2 0h1m-2 1h1m0 0h1m-5 1h1m1 0h1m1 0h1m-11 4h1m-1 1h1m0 0h1m0 0h1m-2 1h1m9 1h1m-3 1h1m0 0h1m-1 1h1m0 0h1m-13 1h1m-1 1h1m-3 1h1m2 1h1m0 0h1m-2 2h1m0 0h1m0 0h1" stroke="#19cc76" stroke-width="1" stroke-linecap="square"/>
<path d="M768 916h1m4 0h1m2 4h1m-50 4h1m47 4h1m-51 1h1m49 0h1m1 3h1m-50 3h1m47 0h1m-53 4h1m16 2h1m-14 1h1m1 2h1m2 4h1m-10 10h1m34 5h1m12 1h1m-7 3h1m-6 2h1m-60 1h1m54 0h1m-10 3h1m12 0h1m-45 3h1m0 0h1m27 0h1m9 1h1m-27 1h1m2 1h1m14 3h1m-16 2h1m-15 1h1m35 1h1m-10 7h1" stroke="#3538fc" stroke-width="1" stroke-linecap="square"/>
<path d="M749 951h1m1 0h1m-5 1h1m0 0h1m0 0h1m0 0h1m0 0h1m0 0h1m-6 1h1m0 0h1m0 0h1m1 0h1m0 0h1m-5 1h1m0 0h1m1 0h1m0 0h1m-6 1h1m0 0h1m1 0h1m0 0h1m0 0h1m-6 1h1m0 0h1m0 0h1" stroke="#f76900" stroke-width="1" stroke-linecap="square"/>
<path d="M753 924h1m1 0h1m-3 1h1m0 0h1m0 0h1m-11 29h1m0 0h1m-3 1h1m0 0h1m0 0h1m-3 1h1m0 0h1m0 0h1m-3 1h1m0 0h1m-2 1h1m0 0h1m0 0h1m-3 1h1m0 0h1" stroke="#e8dc00" stroke-width="1" stroke-linecap="square"/>
<line x1="737.6" y1="892.9" x2="737.6" y2="1013.9" stroke="#5a5a5a" stroke-width="1.4"/>
<line x1="657.3" y1="938.5" x2="777.8" y2="938.5" stroke="#5a5a5a" stroke-width="1.4"/>
<text x="661.8" y="904.4" font-size="11" fill="#222">3.30</text>
<text x="773.3" y="904.4" font-size="11" text-anchor="end" fill="#222">30.8</text>
<text x="661.8" y="1010.4" font-size="11" fill="#222">26.5</text>
<text x="773.3" y="1010.4" font-size="11" text-anchor="end" fill="#222">39.4</text>
<text class="k" x="663" y="1024.4">10<tspan dy="-3">0</tspan></text>
<text class="k" transform="translate(654.3 1011.2) rotate(-90)">10<tspan dy="-3">0</tspan></text>
<text class="k" x="679.3" y="1024.4">10<tspan dy="-3">1</tspan></text>
<text class="k" transform="translate(654.3 994.9) rotate(-90)">10<tspan dy="-3">1</tspan></text>
<text class="k" x="695.7" y="1024.4">10<tspan dy="-3">2</tspan></text>
<text class="k" transform="translate(654.3 978.5) rotate(-90)">10<tspan dy="-3">2</tspan></text>
<text class="k" x="712" y="1024.4">10<tspan dy="-3">3</tspan></text>
<text class="k" transform="translate(654.3 962.2) rotate(-90)">10<tspan dy="-3">3</tspan></text>
<text class="k" x="728.3" y="1024.4">10<tspan dy="-3">4</tspan></text>
<text class="k" transform="translate(654.3 945.9) rotate(-90)">10<tspan dy="-3">4</tspan></text>
<text class="k" x="744.6" y="1024.4">10<tspan dy="-3">5</tspan></text>
<text class="k" transform="translate(654.3 929.6) rotate(-90)">10<tspan dy="-3">5</tspan></text>
<text class="k" x="761" y="1024.4">10<tspan dy="-3">6</tspan></text>
<text class="k" transform="translate(654.3 913.2) rotate(-90)">10<tspan dy="-3">6</tspan></text>
<text class="k" x="777.3" y="1024.4">10<tspan dy="-3">7</tspan></text>
<text class="k" transform="translate(654.3 896.9) rotate(-90)">10<tspan dy="-3">7</tspan></text>
<rect x="802" y="892.9" width="120.5" height="121" fill="none" stroke="#b8b8b8" stroke-width="1.2"/>
<ellipse cx="893.6" cy="953.4" rx="29.2" ry="8.9" fill="url(#gH)" transform="rotate(-40.6 893.6 953.4)"/>
<ellipse cx="897.2" cy="927.4" rx="20.9" ry="7.1" fill="url(#gH)" transform="rotate(-10.9 897.2 927.4)"/>
<path d="M906 924h1m1 0h1m-1 1h1m-3 1h1m0 0h1m-20 1h1m0 0h1m16 0h1m1 0h1m-21 2h1m18 0h1m0 0h1m-21 1h1m0 0h1m-2 1h1m0 0h1m0 0h1m9 11h1m0 0h1m2 0h1m0 0h1m-4 1h1m1 0h1m0 0h1m-5 1h1m0 0h1m1 0h1m0 0h1m-9 1h1m2 0h1m0 0h1m0 0h1m-8 1h1m0 0h1m1 0h1m0 0h1m2 0h1m0 0h1m0 0h1m-11 1h1m0 0h1m0 0h1m0 0h1m1 0h1m0 0h1m2 0h1m1 0h1m-5 1h1m0 0h1m-10 1h1m6 0h1m1 0h1m-12 1h1m0 0h1m0 0h1m6 0h1m0 1h1m-14 1h1m12 0h1m0 0h1m-14 1h1m0 0h1m9 0h1m-15 1h1m0 0h1m-3 1h1m0 0h1m0 0h1m-3 1h1m1 0h1m-6 1h1m1 0h1m10 0h1m0 0h1m-15 1h1m-1 1h1m0 0h1m10 0h1m-6 1h1m1 0h1m1 0h1m-4 1h1m0 0h1m0 0h1m0 0h1m-6 1h1m1 0h1m-12 1h1m0 0h1m0 0h1m0 0h1m0 0h1m-5 1h1m0 0h1m1 0h1m0 0h1m-5 1h1m1 0h1m1 0h1" stroke="#19cc76" stroke-width="1" stroke-linecap="square"/>
<path d="M906 923h1m0 0h1m-20 1h1m-1 1h1m20 0h1m1 0h1m-24 1h1m0 0h1m19 1h1m0 0h1m-25 1h1m22 0h1m-25 1h1m23 0h1m-5 1h1m0 0h1m-21 1h1m0 0h1m15 0h1m0 0h1m2 0h1m-22 1h1m1 1h1m1 0h1m1 0h1m-5 1h1m4 0h1m-5 1h1m10 4h1m0 0h1m4 0h1m-7 1h1m0 0h1m-2 1h1m-3 3h1m0 0h1m-7 1h1m-2 2h1m-3 1h1m-3 1h1m1 0h1m-5 3h1m-2 1h1m0 0h1m0 0h1m12 1h1m1 0h1m-2 1h1m-23 2h1m1 1h1m-1 1h1m12 1h1m0 0h1m0 0h1m-2 1h1m-2 1h1m-19 1h1m12 0h1m1 0h1m-14 1h1m9 0h1m1 0h1m1 0h1m0 0h1m-18 1h1m0 0h1m12 0h1m-11 1h1m2 0h1m1 0h1m-7 1h1m2 0h1m2 0h1m-3 1h1m1 0h1" stroke="#0096f0" stroke-width="1" stroke-linecap="square"/>
<path d="M904 918h1m2 0h1m1 0h1m-4 1h1m0 0h1m-8 1h1m2 0h1m0 0h1m1 0h1m-14 1h1m21 0h1m0 0h1m-25 1h1m19 0h1m0 0h1m3 0h1m-5 1h1m-27 1h1m27 0h1m-31 2h1m-7 1h1m34 0h1m-35 1h1m0 0h1m-1 1h1m32 1h1m-34 2h1m32 0h1m-33 1h1m18 0h1m-19 1h1m0 1h1m4 1h1m0 0h1m2 0h1m6 1h1m0 0h1m-13 1h1m12 0h1m10 1h1m-1 1h1m-2 2h1m0 0h1m-23 2h1m-6 1h1m23 1h1m0 0h1m-2 3h1m-2 1h1m-4 1h1m0 2h1m-5 2h1m-26 2h1m-2 2h1m19 2h1m-23 4h1m-2 1h1m16 1h1m-19 1h1m1 0h1m2 1h1m3 0h1m0 0h1m1 0h1m-11 1h1m0 0h1m6 0h1m1 0h1" stroke="#1a2bf2" stroke-width="1" stroke-linecap="square"/>
<path d="M917 918h1m-4 1h1m-21 1h1m21 0h1m1 2h1m-34 1h1m1 0h1m-11 2h1m41 0h1m-39 1h1m34 1h1m1 0h1m-3 1h1m2 0h1m-42 1h1m41 0h1m-4 2h1m0 1h1m-42 1h1m2 0h1m-3 2h1m3 1h1m13 0h1m19 0h1m-37 1h1m37 2h1m-3 1h1m2 0h1m0 0h1m-34 1h1m2 0h1m-7 2h1m4 1h1m22 1h1m-30 2h1m-8 4h1m4 0h1m-6 2h1m30 1h1m-2 1h1m1 0h1m2 0h1m-35 1h1m31 1h1m-10 3h1m2 0h1m-3 1h1m-29 1h1m28 0h1m-8 4h1m-24 1h1m23 1h1m-27 1h1m19 0h1m-3 2h1m-17 1h1m1 0h1m5 0h1m-5 1h1m1 0h1m8 0h1m-16 1h1m5 0h1m1 0h1m-6 1h1m5 0h1" stroke="#2832f7" stroke-width="1" stroke-linecap="square"/>
<path d="M911 921h1m-17 1h1m14 0h1m-17 1h1m0 0h1m15 0h1m0 1h1m1 0h1m-33 3h1m0 0h1m0 2h1m-3 1h1m1 0h1m24 0h1m-14 3h1m12 0h1m1 0h1m-18 1h1m11 0h1m0 0h1m2 0h1m0 0h1m-27 1h1m17 0h1m4 0h1m0 0h1m1 0h1m-8 1h1m1 0h1m0 0h1m-2 1h1m0 0h1m-2 1h1m3 1h1m-12 2h1m10 0h1m-17 1h1m-1 1h1m0 0h1m13 0h1m1 0h1m-3 1h1m-21 1h1m-1 1h1m-4 2h1m-2 1h1m0 0h1m-2 1h1m1 0h1m-6 1h1m21 0h1m-21 1h1m18 0h1m-1 1h1m-24 1h1m0 1h1m20 2h1m-27 5h1m1 0h1m15 1h1m1 0h1m-20 3h1m-1 1h1m-2 1h1" stroke="#0d4cf0" stroke-width="1" stroke-linecap="square"/>
<path d="M897 924h1m0 0h1m0 0h1m-3 1h1m0 1h1m1 1h1m-7 1h1m0 0h1m4 0h1m0 0h1m0 0h1m-9 1h1m0 0h1m0 0h1m3 0h1m0 0h1m0 0h1m-9 19h1m1 0h1m0 0h1m1 0h1m-5 1h1m0 0h1m0 0h1m1 0h1m-6 1h1m0 0h1m2 0h1m-6 1h1m5 0h1m-9 1h1m0 0h1m0 0h1m3 0h1m0 0h1m0 0h1m-9 1h1m0 0h1m4 0h1m0 0h1m-8 1h1m0 0h1m0 0h1m0 0h1m0 0h1m0 0h1m-6 1h1m0 0h1m0 0h1m0 0h1m0 0h1m0 0h1m-6 1h1m0 0h1m0 0h1m0 0h1m-7 1h1m1 0h1m-2 1h1m0 0h1m-2 1h1m0 0h1" stroke="#e8dc00" stroke-width="1" stroke-linecap="square"/>
<path d="M894 924h1m9 0h1m0 0h1m-11 1h1m7 0h1m1 0h1m-12 1h1m0 0h1m8 0h1m0 0h1m-14 1h1m0 0h1m9 0h1m1 0h1m-14 1h1m0 0h1m9 0h1m1 0h1m-15 1h1m0 0h1m-2 1h1m0 0h1m0 0h1m0 0h1m-3 1h1m1 0h1m1 0h1m-5 1h1m0 0h1m1 0h1m0 0h1m0 22h1m1 0h1m-10 1h1m6 0h1m0 0h1m0 0h1m-11 1h1m0 0h1m6 0h1m0 0h1m-14 1h1m0 0h1m0 0h1m3 0h1m-7 1h1m0 0h1m4 0h1m-7 1h1m1 0h1m3 0h1m0 0h1m-11 1h1m1 0h1m0 0h1m1 0h1m-4 1h1m-2 1h1m3 0h1" stroke="#66d72c" stroke-width="1" stroke-linecap="square"/>
<path d="M898 921h1m3 0h1m-6 1h1m0 0h1m0 0h1m1 0h1m-3 1h1m3 0h1m0 0h1m-14 1h1m0 1h1m4 5h1m0 0h1m1 0h1m1 0h1m-6 1h1m3 1h1m3 7h1m-2 1h1m0 0h1m-1 1h1m1 1h1m0 0h1m-2 1h1m-1 1h1m0 1h1m-3 1h1m0 0h1m0 1h1m-6 1h1m1 0h1m-3 2h1m1 0h1m-24 4h1m0 0h1m0 0h1m-3 2h1m0 0h1m15 1h1m-1 1h1m-20 2h1m0 0h1m-2 1h1m4 2h1m1 0h1m-2 1h1m-2 1h1m0 0h1m0 0h1" stroke="#00b7ba" stroke-width="1" stroke-linecap="square"/>
<path d="M901 913h1m2 0h1m-15 4h1m-9 3h1m0 0h1m-6 2h1m42 0h1m-51 9h1m49 2h1m-6 2h1m-41 1h1m6 5h1m-12 3h1m0 0h1m7 0h1m-2 1h1m36 0h1m-55 1h1m13 2h1m-6 3h1m0 1h1m38 1h1m0 3h1m-42 6h1m33 0h1m-67 3h1m72 1h1m-46 2h1m33 0h1m2 0h1m-11 1h1m11 0h1m-15 3h1m20 0h1m-49 1h1m29 0h1m-13 2h1m2 0h1m2 0h1m-29 1h1m52 0h1m-52 3h1m3 1h1m-16 1h1m28 12h1m-12 4h1" stroke="#3538fc" stroke-width="1" stroke-linecap="square"/>
<path d="M901 924h1m0 0h1m-2 1h1m0 0h1m-3 1h1m-4 1h1m0 0h1m0 0h1m-3 1h1m0 0h1m0 0h1m-3 1h1m0 0h1m-5 22h1m-1 1h1m0 0h1m-2 1h1" stroke="#f76900" stroke-width="1" stroke-linecap="square"/>
<line x1="882.3" y1="892.9" x2="882.3" y2="1013.9" stroke="#5a5a5a" stroke-width="1.4"/>
<line x1="802" y1="938.5" x2="922.5" y2="938.5" stroke="#5a5a5a" stroke-width="1.4"/>
<text x="806.5" y="904.4" font-size="11" fill="#222">4.31</text>
<text x="918" y="904.4" font-size="11" text-anchor="end" fill="#222">35.6</text>
<text x="806.5" y="1010.4" font-size="11" fill="#222">21.2</text>
<text x="918" y="1010.4" font-size="11" text-anchor="end" fill="#222">38.8</text>
<text class="k" x="807.7" y="1024.4">10<tspan dy="-3">0</tspan></text>
<text class="k" transform="translate(799 1011.2) rotate(-90)">10<tspan dy="-3">0</tspan></text>
<text class="k" x="824" y="1024.4">10<tspan dy="-3">1</tspan></text>
<text class="k" transform="translate(799 994.9) rotate(-90)">10<tspan dy="-3">1</tspan></text>
<text class="k" x="840.4" y="1024.4">10<tspan dy="-3">2</tspan></text>
<text class="k" transform="translate(799 978.5) rotate(-90)">10<tspan dy="-3">2</tspan></text>
<text class="k" x="856.7" y="1024.4">10<tspan dy="-3">3</tspan></text>
<text class="k" transform="translate(799 962.2) rotate(-90)">10<tspan dy="-3">3</tspan></text>
<text class="k" x="873" y="1024.4">10<tspan dy="-3">4</tspan></text>
<text class="k" transform="translate(799 945.9) rotate(-90)">10<tspan dy="-3">4</tspan></text>
<text class="k" x="889.3" y="1024.4">10<tspan dy="-3">5</tspan></text>
<text class="k" transform="translate(799 929.6) rotate(-90)">10<tspan dy="-3">5</tspan></text>
<text class="k" x="905.7" y="1024.4">10<tspan dy="-3">6</tspan></text>
<text class="k" transform="translate(799 913.2) rotate(-90)">10<tspan dy="-3">6</tspan></text>
<text class="k" x="922" y="1024.4">10<tspan dy="-3">7</tspan></text>
<text class="k" transform="translate(799 896.9) rotate(-90)">10<tspan dy="-3">7</tspan></text>
<rect x="947.2" y="892.9" width="120.5" height="121" fill="none" stroke="#b8b8b8" stroke-width="1.2"/>
<ellipse cx="1032.2" cy="956.4" rx="31.5" ry="8.9" fill="url(#gH)" transform="rotate(-38.9 1032.2 956.4)"/>
<ellipse cx="1037.6" cy="928" rx="27.3" ry="7.1" fill="url(#gH)" transform="rotate(-10 1037.6 928)"/>
<path d="M1034 918h1m0 0h1m8 1h1m2 0h1m4 0h1m6 0h1m-23 1h1m0 0h1m9 0h1m4 0h1m4 0h1m-29 1h1m-5 1h1m34 0h1m-3 1h1m6 0h1m-50 2h1m48 0h1m-2 1h1m-2 2h1m-5 2h1m0 0h1m-54 1h1m0 0h1m2 0h1m3 0h1m42 0h1m-52 1h1m5 0h1m46 0h1m-54 1h1m54 0h1m-56 1h1m1 0h1m36 0h1m-32 1h1m36 0h1m-43 1h1m9 0h1m3 0h1m32 0h1m-28 1h1m18 0h1m1 0h1m1 0h1m1 0h1m1 0h1m-44 1h1m9 0h1m33 0h1m-3 1h1m3 0h1m-25 1h1m13 1h1m4 1h1m-23 1h1m-4 1h1m2 0h1m18 0h1m0 0h1m-29 2h1m1 1h1m0 0h1m23 2h1m-40 2h1m0 1h1m3 1h1m31 0h1m0 0h1m-35 2h1m-4 1h1m-3 4h1m27 0h1m-30 1h1m28 0h1m0 1h1m-2 2h1m-6 2h1m-25 1h1m30 0h1m-2 1h1m-36 1h1m-5 1h1m5 0h1m-1 1h1m16 1h1m1 0h1m-22 1h1m-6 1h1m3 0h1m1 0h1m-2 1h1m14 0h1m5 0h1m-19 1h1m1 1h1m3 0h1m-2 1h1m-2 1h1" stroke="#2832f7" stroke-width="1" stroke-linecap="square"/>
<path d="M1044 924h1m1 0h1m0 0h1m-13 1h1m9 0h1m1 0h1m0 0h1m0 0h1m-15 1h1m1 0h1m8 0h1m2 0h1m-26 1h1m0 0h1m5 0h1m15 0h1m1 0h1m-3 1h1m0 0h1m-26 1h1m0 0h1m0 0h1m4 0h1m16 0h1m1 0h1m-20 1h1m0 0h1m0 0h1m0 0h1m7 0h1m0 0h1m-13 1h1m2 0h1m-4 1h1m0 0h1m9 0h1m-1 11h1m0 0h1m0 0h1m0 0h1m0 0h1m-4 1h1m1 0h1m-7 1h1m-1 1h1m0 1h1m-4 2h1m0 0h1m-12 2h1m0 1h1m0 0h1m-3 1h1m0 0h1m0 0h1m-5 2h1m17 0h1m-19 1h1m16 0h1m1 0h1m-5 1h1m-1 2h1m-18 2h1m-2 1h1m0 0h1m-6 1h1m1 0h1m0 0h1m0 0h1m0 0h1m10 0h1m0 0h1m-17 1h1m0 0h1m1 0h1m12 0h1m-17 1h1m0 0h1m2 0h1m-6 1h1m1 0h1m1 0h1m7 0h1m-13 1h1m3 0h1m0 0h1m2 0h1m0 0h1m4 0h1m-10 1h1m1 0h1m1 0h1m2 0h1m0 0h1" stroke="#00b7ba" stroke-width="1" stroke-linecap="square"/>
<path d="M1044 921h1m-1 2h1m0 0h1m-16 1h1m19 0h1m0 0h1m-27 1h1m2 0h1m22 0h1m0 0h1m-29 1h1m1 0h1m1 0h1m0 0h1m1 0h1m2 0h1m17 1h1m-3 1h1m0 0h1m0 1h1m-26 1h1m17 0h1m0 0h1m-2 1h1m0 0h1m-21 1h1m1 0h1m17 0h1m-12 1h1m2 0h1m1 0h1m1 0h1m-7 1h1m0 0h1m1 0h1m-5 1h1m5 0h1m6 7h1m-1 2h1m-12 1h1m10 0h1m0 0h1m-14 1h1m10 0h1m1 0h1m-14 1h1m-8 1h1m19 0h1m-1 1h1m-21 1h1m15 2h1m0 0h1m-25 5h1m-3 2h1m-4 1h1m1 0h1m15 0h1m1 0h1m-21 1h1m1 0h1m15 0h1m-17 1h1m17 0h1m-24 2h1m-1 1h1m-1 1h1m0 0h1m-1 1h1m0 1h1m0 1h1m0 0h1m0 0h1m1 0h1m-5 1h1m4 0h1m-3 1h1" stroke="#0096f0" stroke-width="1" stroke-linecap="square"/>
<path d="M1058 921h1m-22 1h1m18 0h1m-20 1h1m16 0h1m0 0h1m0 1h1m3 0h1m0 0h1m0 0h1m-42 1h1m0 0h1m35 0h1m4 0h1m-42 1h1m36 1h1m-42 2h1m42 0h1m-45 1h1m0 1h1m31 0h1m2 0h1m2 0h1m-4 1h1m3 0h1m0 0h1m-42 1h1m7 0h1m-9 1h1m2 0h1m6 0h1m0 0h1m-10 1h1m1 0h1m1 0h1m5 0h1m7 1h1m3 0h1m-2 1h1m2 1h1m-6 2h1m8 0h1m0 0h1m0 1h1m-15 1h1m-11 6h1m26 0h1m-3 1h1m-26 1h1m-5 1h1m-1 1h1m26 3h1m-4 2h1m-28 1h1m27 0h1m-9 7h1m-10 4h1m-1 1h1m2 0h1m-1 1h1m-17 1h1m3 0h1m0 0h1m-6 1h1m8 0h1m-15 1h1m0 0h1m1 0h1m2 0h1m5 0h1m1 0h1" stroke="#1a2bf2" stroke-width="1" stroke-linecap="square"/>
<path d="M1035 927h1m0 0h1m1 0h1m0 0h1m0 0h1m-6 1h1m0 0h1m0 0h1m0 0h1m1 0h1m-6 1h1m0 0h1m0 0h1m0 0h1m-1 19h1m0 0h1m0 0h1m0 0h1m1 0h1m-6 1h1m0 0h1m0 0h1m1 0h1m-3 1h1m0 0h1m0 0h1m-5 4h1m1 0h1m-3 1h1m1 0h1m-3 1h1m1 0h1m-15 1h1m1 0h1m6 0h1m0 0h1m-10 1h1m0 0h1m7 0h1m0 0h1m-12 1h1m8 0h1m1 0h1m-11 1h1m-2 1h1m1 0h1m-3 1h1m0 0h1m0 0h1m-3 1h1m0 0h1m0 0h1m-2 1h1m0 0h1m-1 1h1" stroke="#e8dc00" stroke-width="1" stroke-linecap="square"/>
<path d="M1041 927h1m0 0h1m-2 1h1m-1 1h1m1 0h1m-9 1h1m1 0h1m0 0h1m0 0h1m-4 1h1m0 0h1m0 0h1m0 0h1m-5 1h1m1 0h1m0 0h1m1 0h1m1 13h1m-1 1h1m0 0h1m-3 1h1m0 0h1m0 0h1m-11 4h1m0 0h1m6 0h1m0 0h1m-11 1h1m1 0h1m6 0h1m1 0h1m-11 1h1m0 0h1m7 0h1m0 0h1m-17 1h1m0 0h1m-3 1h1m-1 1h1m0 0h1m-3 4h1m6 0h1m-9 1h1m7 0h1m0 0h1m-9 1h1m6 0h1m0 0h1m-5 1h1m1 0h1m-3 1h1m0 1h1m0 0h1" stroke="#66d72c" stroke-width="1" stroke-linecap="square"/>
<path d="M1040 924h1m1 0h1m0 0h1m-4 1h1m0 0h1m0 0h1m0 0h1m-6 1h1m0 0h1m1 0h1m0 0h1m-17 1h1m1 0h1m4 0h1m10 0h1m-18 1h1m0 0h1m4 0h1m0 0h1m9 0h1m0 0h1m-20 1h1m0 0h1m4 0h1m0 0h1m0 0h1m9 0h1m-1 16h1m0 0h1m0 0h1m-3 1h1m0 0h1m-1 1h1m0 0h1m-3 1h1m0 1h1m-2 1h1m0 0h1m-17 1h1m0 0h1m-1 1h1m-2 1h1m-6 4h1m0 0h1m-3 1h1m1 0h1m-2 1h1m-2 4h1m0 0h1m-2 1h1m0 0h1m0 1h1" stroke="#19cc76" stroke-width="1" stroke-linecap="square"/>
<path d="M1041 921h1m-3 1h1m0 1h1m7 0h1m0 0h1m5 1h1m-3 1h1m-33 2h1m32 0h1m-34 1h1m-1 2h1m-2 1h1m-1 1h1m0 0h1m0 0h1m24 0h1m0 0h1m0 0h1m-17 1h1m10 6h1m1 0h1m-5 1h1m3 0h1m-2 1h1m-8 2h1m0 0h1m0 0h1m-3 1h1m-5 5h1m14 2h1m-26 1h1m22 0h1m0 0h1m-25 1h1m-4 1h1m22 1h1m0 0h1m-26 1h1m21 2h1m-28 3h1m0 1h1m18 1h1m0 1h1m-3 3h1m-20 2h1m0 0h1m7 0h1m-10 1h1m7 0h1m-9 1h1m7 0h1" stroke="#0d4cf0" stroke-width="1" stroke-linecap="square"/>
<path d="M1035 951h1m0 0h1m0 0h1m0 0h1m1 0h1m-5 1h1m0 0h1m2 0h1m-6 1h1m3 0h1m-11 1h1m0 0h1m0 0h1m0 0h1m1 0h1m2 0h1m-9 1h1m0 0h1m0 0h1m0 0h1m1 0h1m0 0h1m0 0h1m-6 1h1m2 0h1m0 0h1m0 0h1m0 0h1m-9 1h1m0 0h1m0 0h1m0 0h1m0 0h1m-3 1h1m0 0h1m0 0h1m0 0h1m-6 1h1m3 0h1m-5 1h1m0 0h1m0 0h1m-1 1h1m-2 1h1m0 0h1" stroke="#f76900" stroke-width="1" stroke-linecap="square"/>
<path d="M1047 913h1m-28 3h1m22 0h1m-17 4h1m-20 5h1m4 1h1m1 0h1m-4 13h1m51 0h1m-40 3h1m-12 1h1m3 1h1m40 1h1m-40 1h1m-11 1h1m50 1h1m0 0h1m-58 1h1m2 3h1m54 0h1m-53 1h1m42 6h1m-45 1h1m37 3h1m-45 4h1m34 4h1m-41 5h1m8 2h1m14 0h1m8 0h1m8 1h1m-44 1h1m4 1h1m15 0h1m3 0h1m-32 1h1m12 2h1m33 5h1m6 1h1" stroke="#3538fc" stroke-width="1" stroke-linecap="square"/>
<line x1="1027.5" y1="892.9" x2="1027.5" y2="1013.9" stroke="#5a5a5a" stroke-width="1.4"/>
<line x1="947.2" y1="938.5" x2="1067.7" y2="938.5" stroke="#5a5a5a" stroke-width="1.4"/>
<text x="951.7" y="904.4" font-size="11" fill="#222">5.29</text>
<text x="1063.2" y="904.4" font-size="11" text-anchor="end" fill="#222">35.6</text>
<text x="951.7" y="1010.4" font-size="11" fill="#222">28.8</text>
<text x="1063.2" y="1010.4" font-size="11" text-anchor="end" fill="#222">30.3</text>
<text class="k" x="952.9" y="1024.4">10<tspan dy="-3">0</tspan></text>
<text class="k" transform="translate(944.2 1011.2) rotate(-90)">10<tspan dy="-3">0</tspan></text>
<text class="k" x="969.2" y="1024.4">10<tspan dy="-3">1</tspan></text>
<text class="k" transform="translate(944.2 994.9) rotate(-90)">10<tspan dy="-3">1</tspan></text>
<text class="k" x="985.6" y="1024.4">10<tspan dy="-3">2</tspan></text>
<text class="k" transform="translate(944.2 978.5) rotate(-90)">10<tspan dy="-3">2</tspan></text>
<text class="k" x="1001.9" y="1024.4">10<tspan dy="-3">3</tspan></text>
<text class="k" transform="translate(944.2 962.2) rotate(-90)">10<tspan dy="-3">3</tspan></text>
<text class="k" x="1018.2" y="1024.4">10<tspan dy="-3">4</tspan></text>
<text class="k" transform="translate(944.2 945.9) rotate(-90)">10<tspan dy="-3">4</tspan></text>
<text class="k" x="1034.5" y="1024.4">10<tspan dy="-3">5</tspan></text>
<text class="k" transform="translate(944.2 929.6) rotate(-90)">10<tspan dy="-3">5</tspan></text>
<text class="k" x="1050.9" y="1024.4">10<tspan dy="-3">6</tspan></text>
<text class="k" transform="translate(944.2 913.2) rotate(-90)">10<tspan dy="-3">6</tspan></text>
<text class="k" x="1067.2" y="1024.4">10<tspan dy="-3">7</tspan></text>
<text class="k" transform="translate(944.2 896.9) rotate(-90)">10<tspan dy="-3">7</tspan></text>
<rect x="511.8" y="1035.5" width="120.5" height="121" fill="none" stroke="#b8b8b8" stroke-width="1.2"/>
<ellipse cx="582.9" cy="1100.2" rx="26.4" ry="10.2" fill="url(#gH)" transform="rotate(-38.9 582.9 1100.2)"/>
<path d="M585 1083h1m2 1h1m-2 1h1m-6 1h1m1 0h1m12 0h1m0 0h1m-17 1h1m16 0h1m-17 1h1m-3 1h1m18 0h1m-20 1h1m20 0h1m-22 1h1m-8 1h1m0 0h1m25 1h1m-29 1h1m-5 4h1m0 0h1m0 0h1m-4 1h1m-1 1h1m0 0h1m-3 1h1m-1 1h1m26 0h1m-28 1h1m1 0h1m26 0h1m-33 1h1m0 0h1m3 0h1m-6 1h1m29 0h1m-29 1h1m1 0h1m26 0h1m-7 1h1m-25 1h1m22 0h1m0 0h1m0 0h1m-27 1h1m0 0h1m0 0h1m-1 1h1m16 0h1m-20 1h1m0 0h1m17 0h1m3 1h1m-22 1h1m0 0h1m3 0h1m0 0h1m0 0h1m0 0h1m0 0h1m0 0h1m4 0h1m-13 1h1m1 0h1m9 0h1m-16 1h1m0 0h1m0 0h1m6 0h1m1 0h1m1 0h1m-16 1h1m2 0h1m-4 1h1m2 0h1m-4 1h1m4 0h1" stroke="#1a2bf2" stroke-width="1" stroke-linecap="square"/>
<path d="M607 1061h1m3 0h1m-9 1h1m-8 1h1m20 0h1m-28 1h1m24 0h1m0 0h1m4 0h1m-32 3h1m24 0h1m2 1h1m-25 1h1m3 1h1m-9 2h1m-36 2h1m52 0h1m1 0h1m-28 1h1m19 1h1m-24 1h1m13 0h1m-8 1h1m11 0h1m-9 1h1m7 0h1m4 2h1m-22 1h1m22 0h1m0 1h1m-2 1h1m-33 2h1m-10 1h1m12 1h1m29 0h1m-39 1h1m41 2h1m-10 2h1m-40 2h1m1 0h1m39 3h1m-5 8h1m3 0h1m3 0h1m-12 2h1m-5 4h1m3 1h1m11 0h1m-23 4h1m-6 1h1m1 0h1m8 1h1m-39 1h1m16 0h1m1 0h1m-18 1h1m23 0h1m-19 1h1m4 0h1m-7 2h1m0 2h1m11 2h1m15 5h1" stroke="#3538fc" stroke-width="1" stroke-linecap="square"/>
<path d="M585 1089h1m1 0h1m0 0h1m0 0h1m0 0h1m1 0h1m0 0h1m0 0h1m-9 1h1m0 0h1m0 0h1m3 0h1m3 0h1m-5 1h1m1 0h1m0 0h1m0 0h1m-16 1h1m17 0h1m-21 1h1m17 0h1m0 0h1m-20 1h1m17 0h1m0 0h1m-5 5h1m-1 1h1m0 0h1m-4 1h1m0 0h1m-3 1h1m1 0h1m-3 1h1m0 0h1m-4 1h1m0 1h1m-3 1h1m-7 1h1m0 0h1m-2 1h1m0 0h1m0 1h1m-12 1h1m2 0h1m1 0h1m-6 1h1m1 0h1m2 0h1m-5 1h1m1 0h1m2 0h1m0 0h1m0 0h1" stroke="#0096f0" stroke-width="1" stroke-linecap="square"/>
<path d="M607 1063h1m0 0h1m-1 1h1m-5 2h1m-1 1h1m4 0h1m0 0h1m0 0h1m-3 1h1m3 0h1m0 0h1m-7 1h1m-3 3h1m0 0h1m3 1h1m-22 7h1m-4 1h1m2 0h1m4 2h1m1 0h1m0 0h1m-17 1h1m8 0h1m10 0h1m-19 1h1m9 0h1m5 0h1m-21 2h1m0 1h1m22 0h1m0 0h1m-3 2h1m-31 1h1m30 0h1m-3 4h1m-3 2h1m-35 1h1m31 3h1m-2 1h1m1 0h1m-37 4h1m-2 2h1m0 3h1m25 1h1m-29 1h1m21 2h1m0 0h1m-23 1h1m15 0h1m-4 1h1m-14 1h1m7 0h1m-2 2h1" stroke="#2832f7" stroke-width="1" stroke-linecap="square"/>
<path d="M587 1092h1m0 0h1m1 0h1m1 0h1m0 0h1m-3 1h1m1 0h1m-9 1h1m0 0h1m1 0h1m0 0h1m1 0h1m1 0h1m-18 1h1m0 0h1m0 0h1m9 0h1m0 0h1m1 0h1m0 0h1m-17 1h1m0 0h1m0 0h1m9 0h1m0 0h1m2 0h1m0 0h1m-18 1h1m0 0h1m0 0h1m9 0h1m1 0h1m-18 7h1m0 0h1m-1 1h1m0 0h1m-2 1h1m0 0h1m-3 1h1m0 0h1m0 0h1m3 0h1m-6 1h1m5 0h1m-8 1h1m5 0h1" stroke="#19cc76" stroke-width="1" stroke-linecap="square"/>
<path d="M581 1095h1m-3 2h1m0 0h1m0 0h1m-6 1h1m0 0h1m0 0h1m9 0h1m0 0h1m0 0h1m-15 1h1m0 0h1m0 0h1m10 0h1m0 0h1m-15 1h1m0 0h1m0 0h1m9 0h1m1 0h1m-6 1h1m0 0h1m-2 1h1m0 0h1m-2 1h1m0 0h1m0 0h1m-12 1h1m-1 1h1m0 0h1m4 0h1m0 0h1m-8 1h1m0 0h1m0 0h1m4 0h1m-7 1h1m0 0h1m-3 1h1m0 0h1m-1 1h1" stroke="#66d72c" stroke-width="1" stroke-linecap="square"/>
<path d="M587 1086h1m2 0h1m0 0h1m0 1h1m0 0h1m-9 1h1m2 0h1m1 0h1m0 0h1m1 0h1m0 0h1m-12 1h1m13 0h1m-1 1h1m0 0h1m-16 1h1m13 0h1m-22 3h1m0 0h1m-5 1h1m-3 6h1m-1 1h1m0 1h1m-3 1h1m1 0h1m18 1h1m0 0h1m-25 2h1m-2 1h1m4 0h1m14 0h1m-17 1h1m13 0h1m-18 1h1m1 0h1m-2 1h1m2 0h1m-2 1h1m0 0h1" stroke="#0d4cf0" stroke-width="1" stroke-linecap="square"/>
<path d="M580 1098h1m0 0h1m0 0h1m1 0h1m1 0h1m0 0h1m-9 1h1m0 0h1m0 0h1m0 0h1m0 0h1m0 0h1m0 0h1m0 0h1m-7 1h1m0 0h1m0 0h1m0 0h1m0 0h1m0 0h1m1 0h1m-9 1h1m0 0h1m1 0h1m0 0h1m0 0h1m-6 1h1m0 0h1m0 0h1m0 0h1m0 0h1m0 0h1m-6 1h1m1 0h1m1 0h1" stroke="#f76900" stroke-width="1" stroke-linecap="square"/>
<path d="M583 1092h1m10 0h1m0 0h1m0 0h1m-15 1h1m0 0h1m10 0h1m-12 1h1m0 0h1m9 0h1m0 0h1m-2 1h1m0 0h1m0 0h1m-2 1h1m-2 1h1m1 0h1m-24 1h1m1 0h1m-2 1h1m16 0h1m-19 1h1m1 0h1m15 0h1m0 0h1m-20 1h1m15 0h1m0 0h1m-3 2h1m0 0h1m-5 1h1m1 0h1m-1 1h1m-2 1h1" stroke="#00b7ba" stroke-width="1" stroke-linecap="square"/>
<path d="M582 1095h1m0 0h1m1 0h1m0 0h1m-4 1h1m0 0h1m0 0h1m0 0h1m0 0h1m-6 1h1m0 0h1m0 0h1m0 0h1m1 0h1m-11 4h1m-1 1h1m0 0h1m-3 1h1m0 0h1m0 0h1m0 1h1m0 0h1m0 0h1m-2 1h1m0 0h1m-2 1h1m0 0h1" stroke="#e8dc00" stroke-width="1" stroke-linecap="square"/>
<line x1="592.1" y1="1035.5" x2="592.1" y2="1156.5" stroke="#5a5a5a" stroke-width="1.4"/>
<line x1="511.8" y1="1081.5" x2="632.3" y2="1081.5" stroke="#5a5a5a" stroke-width="1.4"/>
<text x="516.3" y="1047" font-size="11" fill="#222">0.42</text>
<text x="627.8" y="1047" font-size="11" text-anchor="end" fill="#222">1.09</text>
<text x="516.3" y="1153" font-size="11" fill="#222">82.7</text>
<text x="627.8" y="1153" font-size="11" text-anchor="end" fill="#222">15.8</text>
<text class="k" x="517.5" y="1167">10<tspan dy="-3">0</tspan></text>
<text class="k" transform="translate(508.8 1153.8) rotate(-90)">10<tspan dy="-3">0</tspan></text>
<text class="k" x="533.8" y="1167">10<tspan dy="-3">1</tspan></text>
<text class="k" transform="translate(508.8 1137.5) rotate(-90)">10<tspan dy="-3">1</tspan></text>
<text class="k" x="550.2" y="1167">10<tspan dy="-3">2</tspan></text>
<text class="k" transform="translate(508.8 1121.1) rotate(-90)">10<tspan dy="-3">2</tspan></text>
<text class="k" x="566.5" y="1167">10<tspan dy="-3">3</tspan></text>
<text class="k" transform="translate(508.8 1104.8) rotate(-90)">10<tspan dy="-3">3</tspan></text>
<text class="k" x="582.8" y="1167">10<tspan dy="-3">4</tspan></text>
<text class="k" transform="translate(508.8 1088.5) rotate(-90)">10<tspan dy="-3">4</tspan></text>
<text class="k" x="599.1" y="1167">10<tspan dy="-3">5</tspan></text>
<text class="k" transform="translate(508.8 1072.2) rotate(-90)">10<tspan dy="-3">5</tspan></text>
<text class="k" x="615.5" y="1167">10<tspan dy="-3">6</tspan></text>
<text class="k" transform="translate(508.8 1055.8) rotate(-90)">10<tspan dy="-3">6</tspan></text>
<text class="k" x="631.8" y="1167">10<tspan dy="-3">7</tspan></text>
<text class="k" transform="translate(508.8 1039.5) rotate(-90)">10<tspan dy="-3">7</tspan></text>
<rect x="657.3" y="1035.5" width="120.5" height="121" fill="none" stroke="#b8b8b8" stroke-width="1.2"/>
<ellipse cx="747.7" cy="1097.2" rx="33.8" ry="8.9" fill="url(#gH)" transform="rotate(-37.4 747.7 1097.2)"/>
<ellipse cx="750.1" cy="1070.6" rx="20.8" ry="7.1" fill="url(#gH)" transform="rotate(-8.7 750.1 1070.6)"/>
<path d="M760 1065h1m-18 3h1m-3 1h1m0 1h1m0 0h1m16 1h1m0 0h1m-19 1h1m15 0h1m1 0h1m-20 1h1m16 0h1m-15 1h1m11 0h1m-2 1h1m0 0h1m0 0h1m-14 1h1m19 5h1m0 0h1m-2 1h1m0 0h1m0 0h1m-18 1h1m0 0h1m11 0h1m0 0h1m-13 1h1m4 0h1m0 0h1m0 0h1m0 0h1m0 0h1m0 0h1m0 0h1m2 0h1m-1 1h1m-2 1h1m-17 1h1m-3 1h1m-2 2h1m-1 1h1m-4 2h1m-3 1h1m16 4h1m-3 1h1m-2 2h1m-21 1h1m0 0h1m0 0h1m15 0h1m-19 1h1m14 1h1m1 0h1m-4 1h1m-14 1h1m0 0h1m9 0h1m-19 1h1m5 0h1m1 0h1m-7 1h1m5 0h1m-8 1h1m0 1h1m3 0h1m0 0h1m0 0h1m-3 1h1m-7 1h1m0 0h1m6 0h1m-8 1h1m2 0h1m-3 1h1m-3 1h1m2 0h1" stroke="#0096f0" stroke-width="1" stroke-linecap="square"/>
<path d="M756 1063h1m2 0h1m-13 1h1m2 0h1m0 0h1m4 0h1m8 4h1m-29 1h1m1 0h1m0 0h1m25 0h1m-1 1h1m-30 3h1m22 1h1m-25 1h1m7 2h1m12 0h1m0 0h1m2 0h1m2 0h1m-24 1h1m0 1h1m1 0h1m5 1h1m-2 1h1m2 0h1m5 0h1m-1 1h1m13 1h1m-1 1h1m-2 1h1m-28 2h1m1 0h1m21 2h1m0 0h1m-28 1h1m27 0h1m-29 1h1m0 0h1m-6 2h1m-3 2h1m-5 2h1m26 1h1m-29 1h1m-3 1h1m0 4h1m-1 1h1m16 2h1m-21 1h1m0 0h1m18 0h1m-21 1h1m21 0h1m2 0h1m-26 1h1m0 0h1m11 2h1m-16 2h1m14 0h1m-1 1h1m-17 1h1m3 0h1m2 0h1m-3 1h1m5 0h1m1 0h1m-14 1h1m1 0h1m0 0h1m0 0h1m2 0h1m5 0h1" stroke="#1a2bf2" stroke-width="1" stroke-linecap="square"/>
<path d="M743 1065h1m20 0h1m-19 1h1m-4 1h1m2 0h1m15 0h1m1 1h1m-3 1h1m1 0h1m-26 2h1m0 0h1m-3 1h1m1 1h1m-2 1h1m0 0h1m0 0h1m0 0h1m-5 1h1m1 0h1m0 1h1m6 1h1m2 0h1m1 0h1m1 0h1m-4 1h1m0 2h1m14 0h1m-16 1h1m0 0h1m7 0h1m6 1h1m-2 2h1m1 0h1m-2 1h1m-1 1h1m-2 1h1m0 1h1m-5 1h1m-1 1h1m-4 2h1m-2 3h1m-3 1h1m-20 1h1m-9 1h1m1 0h1m1 0h1m0 0h1m-4 1h1m0 0h1m-4 1h1m24 1h1m0 0h1m-3 1h1m-24 1h1m22 0h1m-25 1h1m21 0h1m-22 1h1m19 0h1m0 0h1m-23 1h1m6 1h1m3 0h1m-2 1h1m1 0h1m-6 1h1m2 0h1m1 0h1m-10 4h1m-10 2h1m9 0h1" stroke="#0d4cf0" stroke-width="1" stroke-linecap="square"/>
<path d="M748 1065h1m1 0h1m5 0h1m0 0h1m-11 1h1m3 0h1m0 0h1m1 0h1m3 0h1m-12 1h1m1 0h1m1 0h1m0 0h1m1 0h1m1 0h1m0 0h1m0 0h1m0 1h1m0 0h1m0 0h1m-3 1h1m1 0h1m-2 1h1m-5 1h1m-10 3h1m5 0h1m-7 1h1m6 1h1m0 0h1m-2 8h1m-2 1h1m9 1h1m0 0h1m-15 1h1m1 0h1m10 0h1m-14 1h1m0 0h1m0 0h1m9 0h1m0 0h1m0 0h1m-3 1h1m0 0h1m0 0h1m-3 1h1m-14 1h1m14 0h1m-6 1h1m1 0h1m-3 1h1m0 0h1m0 0h1m-21 2h1m14 0h1m-15 1h1m-2 1h1m0 0h1m13 0h1m-18 1h1m0 2h1m-3 6h1m1 0h1m-7 2h1m-2 1h1m0 0h1m-1 1h1m-3 1h1m1 0h1m-2 1h1" stroke="#00b7ba" stroke-width="1" stroke-linecap="square"/>
<path d="M757 1086h1m0 0h1m0 0h1m0 0h1m-5 1h1m1 0h1m2 0h1m-6 1h1m0 0h1m3 0h1m-6 1h1m0 0h1m1 0h1m1 0h1m-9 1h1m0 0h1m1 0h1m2 0h1m0 0h1m-8 1h1m3 0h1m3 0h1m-15 1h1m3 0h1m0 0h1m2 0h1m0 0h1m1 0h1m-12 1h1m0 0h1m1 0h1m0 0h1m1 0h1m0 0h1m1 0h1m-10 1h1m1 0h1m0 0h1m6 0h1m0 0h1m-6 1h1m0 0h1m0 0h1m-3 1h1m0 0h1m0 0h1m-3 1h1m1 0h1m-15 1h1m1 1h1m-3 1h1m0 0h1m0 0h1m-2 1h1m0 0h1m0 0h1m1 0h1m2 0h1m-9 1h1m1 0h1m1 0h1m0 0h1m0 0h1m1 0h1m-9 1h1m1 0h1m5 0h1" stroke="#66d72c" stroke-width="1" stroke-linecap="square"/>
<path d="M765 1062h1m-20 2h1m20 0h1m-1 1h1m-28 2h1m29 0h1m-37 4h1m34 0h1m1 0h1m1 0h1m-43 1h1m0 0h1m34 0h1m-38 1h1m3 0h1m27 1h1m5 0h1m2 0h1m-39 1h1m31 0h1m6 1h1m-39 2h1m0 0h1m35 0h1m1 0h1m-42 1h1m41 0h1m-29 1h1m27 0h1m-32 2h1m31 0h1m-32 1h1m0 0h1m30 1h1m-35 1h1m31 0h1m-42 2h1m9 1h1m-12 1h1m0 0h1m0 0h1m38 0h1m-42 1h1m-1 1h1m38 0h1m0 0h1m-40 2h1m2 1h1m31 0h1m-39 2h1m33 1h1m-6 4h1m-34 2h1m0 0h1m31 0h1m-35 4h1m29 0h1m-31 3h1m24 0h1m-29 4h1m-1 2h1m-1 3h1m1 1h1m-5 1h1m5 0h1" stroke="#2832f7" stroke-width="1" stroke-linecap="square"/>
<path d="M745 1068h1m0 0h1m10 0h1m0 0h1m-13 1h1m11 0h1m-15 1h1m1 0h1m11 0h1m-15 1h1m0 0h1m0 0h1m-1 1h1m-3 1h1m1 0h1m4 1h1m-1 1h1m0 0h1m0 12h1m0 0h1m0 0h1m-1 1h1m-5 1h1m-1 1h1m-7 2h1m-2 1h1m0 0h1m-2 1h1m0 0h1m8 4h1m-2 1h1m1 1h1m-18 1h1m11 0h1m0 0h1m0 0h1m-15 1h1m12 0h1m-14 1h1m12 0h1m-11 1h1m3 0h1m-5 1h1m0 0h1m1 0h1m1 0h1m-6 1h1m0 0h1m2 0h1" stroke="#19cc76" stroke-width="1" stroke-linecap="square"/>
<path d="M747 1068h1m0 0h1m1 0h1m0 0h1m2 0h1m-8 1h1m3 0h1m1 0h1m1 0h1m-8 1h1m1 0h1m1 0h1m0 0h1m-7 1h1m0 0h1m1 0h1m0 0h1m0 0h1m1 0h1m-8 1h1m0 0h1m0 0h1m0 0h1m0 0h1m0 0h1m0 0h1m0 0h1m0 0h1m-9 1h1m0 0h1m0 0h1m1 0h1m0 0h1m0 0h1m0 0h1m0 0h1m-12 22h1m1 0h1m-2 1h1m0 0h1m-3 1h1m0 0h1m0 0h1m-3 2h1m1 0h1m-3 1h1m0 0h1" stroke="#e8dc00" stroke-width="1" stroke-linecap="square"/>
<path d="M754 1051h1m15 3h1m-37 11h1m38 5h1m-52 4h1m3 0h1m-6 2h1m3 3h1m1 4h1m9 2h1m-25 7h1m12 5h1m38 0h1m5 0h1m-48 6h1m38 1h1m-46 5h1m3 0h1m33 1h1m-39 2h1m0 1h1m24 0h1m11 0h1m8 2h1m-54 1h1m1 3h1m48 1h1m-28 1h1m-12 1h1m-11 4h1m1 0h1m2 2h1m9 0h1m-23 3h1m-3 4h1" stroke="#3538fc" stroke-width="1" stroke-linecap="square"/>
<path d="M747 1095h1m0 0h1m0 0h1m0 0h1m0 0h1m0 0h1m-4 1h1m0 0h1m0 0h1m0 0h1m-6 1h1m0 0h1m-2 1h1m1 0h1m2 0h1m-5 1h1m0 0h1m0 0h1m0 0h1m-5 1h1m0 0h1m1 0h1m0 0h1m0 0h1" stroke="#f76900" stroke-width="1" stroke-linecap="square"/>
<line x1="737.6" y1="1035.5" x2="737.6" y2="1156.5" stroke="#5a5a5a" stroke-width="1.4"/>
<line x1="657.3" y1="1081.5" x2="777.8" y2="1081.5" stroke="#5a5a5a" stroke-width="1.4"/>
<text x="661.8" y="1047" font-size="11" fill="#222">2.91</text>
<text x="773.3" y="1047" font-size="11" text-anchor="end" fill="#222">16.4</text>
<text x="661.8" y="1153" font-size="11" fill="#222">28.6</text>
<text x="773.3" y="1153" font-size="11" text-anchor="end" fill="#222">52.2</text>
<text class="k" x="663" y="1167">10<tspan dy="-3">0</tspan></text>
<text class="k" transform="translate(654.3 1153.8) rotate(-90)">10<tspan dy="-3">0</tspan></text>
<text class="k" x="679.3" y="1167">10<tspan dy="-3">1</tspan></text>
<text class="k" transform="translate(654.3 1137.5) rotate(-90)">10<tspan dy="-3">1</tspan></text>
<text class="k" x="695.7" y="1167">10<tspan dy="-3">2</tspan></text>
<text class="k" transform="translate(654.3 1121.1) rotate(-90)">10<tspan dy="-3">2</tspan></text>
<text class="k" x="712" y="1167">10<tspan dy="-3">3</tspan></text>
<text class="k" transform="translate(654.3 1104.8) rotate(-90)">10<tspan dy="-3">3</tspan></text>
<text class="k" x="728.3" y="1167">10<tspan dy="-3">4</tspan></text>
<text class="k" transform="translate(654.3 1088.5) rotate(-90)">10<tspan dy="-3">4</tspan></text>
<text class="k" x="744.6" y="1167">10<tspan dy="-3">5</tspan></text>
<text class="k" transform="translate(654.3 1072.2) rotate(-90)">10<tspan dy="-3">5</tspan></text>
<text class="k" x="761" y="1167">10<tspan dy="-3">6</tspan></text>
<text class="k" transform="translate(654.3 1055.8) rotate(-90)">10<tspan dy="-3">6</tspan></text>
<text class="k" x="777.3" y="1167">10<tspan dy="-3">7</tspan></text>
<text class="k" transform="translate(654.3 1039.5) rotate(-90)">10<tspan dy="-3">7</tspan></text>
<rect x="802" y="1035.5" width="120.5" height="121" fill="none" stroke="#b8b8b8" stroke-width="1.2"/>
<ellipse cx="893.6" cy="1096" rx="29.2" ry="8.9" fill="url(#gH)" transform="rotate(-40.6 893.6 1096)"/>
<ellipse cx="897.2" cy="1070.6" rx="20.8" ry="7.1" fill="url(#gH)" transform="rotate(-8.7 897.2 1070.6)"/>
<path d="M894 1065h1m0 0h1m10 0h1m-11 1h1m6 0h1m3 0h1m-13 1h1m0 0h1m8 0h1m0 0h1m0 0h1m-20 4h1m17 0h1m1 0h1m-19 1h1m15 0h1m0 0h1m-19 1h1m0 0h1m16 0h1m-20 1h1m4 0h1m2 0h1m1 0h1m-9 1h1m4 0h1m3 0h1m-10 1h1m1 0h1m0 0h1m2 0h1m6 7h1m0 0h1m1 0h1m1 0h1m-6 1h1m0 0h1m1 0h1m-4 1h1m0 0h1m1 0h1m1 0h1m-7 1h1m-3 1h1m0 0h1m-2 1h1m6 1h1m-1 1h1m0 0h1m-3 1h1m0 0h1m-26 4h1m0 1h1m0 0h1m18 0h1m-21 1h1m19 0h1m-25 1h1m0 0h1m-1 1h1m0 1h1m15 1h1m0 0h1m-2 2h1m0 0h1m0 0h1m-8 1h1m-2 1h1m1 0h1m-15 2h1m5 0h1m1 0h1m-8 1h1m4 0h1m-7 1h1" stroke="#00b7ba" stroke-width="1" stroke-linecap="square"/>
<path d="M909 1063h1m2 1h1m1 0h1m-26 1h1m0 0h1m23 0h1m0 0h1m0 0h1m-4 3h1m-30 3h1m24 1h1m2 0h1m-29 1h1m24 0h1m1 1h1m-1 1h1m-1 1h1m-27 1h1m0 0h1m5 0h1m1 0h1m2 0h1m16 0h1m1 0h1m-30 1h1m1 0h1m5 0h1m1 0h1m5 0h1m0 0h1m6 0h1m2 0h1m-29 1h1m11 0h1m2 0h1m4 0h1m9 0h1m-5 1h1m-15 1h1m13 0h1m-16 1h1m18 0h1m0 0h1m-25 1h1m0 0h1m1 0h1m15 0h1m0 0h1m-21 1h1m-18 11h1m30 1h1m-30 1h1m28 0h1m-3 1h1m-33 3h1m-1 2h1m23 1h1m0 0h1m-26 2h1m-1 1h1m-1 1h1m1 0h1m18 1h1m0 0h1m-21 1h1m13 0h1m-1 1h1m-15 1h1m-1 1h1m2 0h1m2 0h1m-6 1h1m5 0h1m-2 1h1m2 0h1" stroke="#1a2bf2" stroke-width="1" stroke-linecap="square"/>
<path d="M903 1068h1m0 0h1m-1 1h1m0 0h1m-3 1h1m1 0h1m-12 1h1m0 0h1m1 0h1m1 0h1m1 0h1m-7 1h1m0 0h1m2 0h1m0 0h1m0 0h1m0 0h1m-9 1h1m0 0h1m0 0h1m1 0h1m1 0h1m0 0h1m0 0h1m-5 16h1m0 0h1m4 0h1m0 0h1m-8 1h1m0 0h1m3 0h1m-5 1h1m3 0h1m0 0h1m-16 1h1m4 0h1m1 0h1m-9 1h1m1 0h1m3 0h1m-7 1h1m1 0h1m3 0h1m0 0h1m0 0h1m-9 4h1m0 0h1m2 0h1m0 0h1m0 0h1m0 0h1m0 0h1m-8 1h1m2 0h1m1 0h1m0 0h1m-7 1h1m1 0h1m4 0h1m-12 1h1m0 0h1m0 0h1m-2 1h1m0 1h1" stroke="#e8dc00" stroke-width="1" stroke-linecap="square"/>
<path d="M898 1065h1m-2 1h1m3 0h1m0 0h1m-6 1h1m-5 3h1m12 0h1m1 0h1m-17 1h1m0 0h1m-3 1h1m0 0h1m0 1h1m12 13h1m0 0h1m0 0h1m-5 1h1m0 0h1m0 0h1m0 0h1m-5 1h1m2 0h1m-18 1h1m0 0h1m5 0h1m-7 1h1m-3 1h1m0 0h1m0 0h1m3 0h1m0 0h1m-11 1h1m0 0h1m0 0h1m-1 1h1m-2 2h1m-1 2h1m0 0h1m-4 1h1m-3 2h1m0 0h1m0 0h1m-6 1h1m14 0h1m0 0h1m0 0h1m-17 1h1m15 0h1m-18 2h1m0 0h1m0 0h1m7 0h1m0 0h1m-12 1h1m1 0h1m6 0h1m-1 1h1m-7 1h1m0 0h1m0 0h1m-2 1h1m-1 1h1m0 0h1" stroke="#19cc76" stroke-width="1" stroke-linecap="square"/>
<path d="M894 1068h1m0 1h1m0 0h1m-3 1h1m9 1h1m0 0h1m-3 1h1m0 0h1m-2 1h1m0 0h1m-13 16h1m9 0h1m-11 1h1m0 0h1m7 0h1m-11 1h1m1 0h1m7 0h1m0 0h1m0 3h1m1 0h1m-6 1h1m1 0h1m-3 1h1m0 0h1m0 0h1m-1 1h1m-18 1h1m0 0h1m0 0h1m9 0h1m0 0h1m0 0h1m-15 1h1m1 0h1m-6 2h1m0 0h1m6 0h1m0 0h1m-10 1h1m0 0h1m0 0h1m4 0h1m0 0h1m0 0h1m0 0h1m0 0h1m-10 1h1m3 0h1m1 0h1m0 0h1m0 0h1m-10 1h1m2 0h1m-5 1h1m0 0h1m0 0h1m0 0h1m0 0h1m-2 1h1" stroke="#66d72c" stroke-width="1" stroke-linecap="square"/>
<path d="M907 1062h1m-5 1h1m0 0h1m1 0h1m0 1h1m0 0h1m0 1h1m0 0h1m-20 2h1m18 0h1m-26 2h1m-1 1h1m25 0h1m-29 4h1m22 0h1m-24 1h1m0 0h1m16 5h1m1 0h1m3 0h1m1 0h1m-1 1h1m-10 1h1m2 0h1m2 0h1m3 1h1m-13 1h1m0 0h1m9 0h1m-11 1h1m0 0h1m8 0h1m-18 1h1m-3 1h1m-1 1h1m1 0h1m-7 3h1m-3 1h1m25 0h1m-27 1h1m26 1h1m-33 2h1m-3 4h1m0 0h1m23 1h1m-2 2h1m-25 1h1m0 1h1m-3 1h1m0 2h1m15 0h1m-3 1h1m1 0h1m-16 1h1m-3 1h1m9 0h1m-2 1h1m0 0h1" stroke="#0d4cf0" stroke-width="1" stroke-linecap="square"/>
<path d="M897 1068h1m0 0h1m1 0h1m1 0h1m-6 1h1m1 0h1m-3 1h1m0 0h1m0 0h1m0 0h1m0 0h1m0 0h1m-10 22h1m3 0h1m1 0h1m0 0h1m0 0h1m-10 1h1m0 0h1m4 0h1m1 0h1m0 0h1m0 0h1m-12 1h1m0 0h1m0 0h1m3 0h1m0 0h1m0 0h1m0 0h1m0 0h1m0 0h1m-14 1h1m0 0h1m0 0h1m0 0h1m1 0h1m0 0h1m2 0h1m-11 1h1m0 0h1m0 0h1m0 0h1m0 0h1m0 0h1m0 0h1m0 0h1m0 0h1m0 0h1m0 0h1m-10 1h1m0 0h1m0 0h1m1 0h1m0 0h1m1 0h1m0 0h1m0 0h1" stroke="#f76900" stroke-width="1" stroke-linecap="square"/>
<path d="M903 1060h1m-13 4h1m26 4h1m0 0h1m-40 1h1m39 0h1m-6 1h1m-38 1h1m-4 1h1m39 0h1m-40 1h1m0 1h1m39 0h1m-37 1h1m34 0h1m-40 1h1m3 2h1m37 0h1m-4 7h1m2 0h1m-4 1h1m-5 3h1m0 1h1m-2 2h1m-34 1h1m32 0h1m-1 1h1m-7 4h1m2 2h1m-2 1h1m-6 1h1m-32 8h1m21 0h1m-24 1h1m13 2h1m-17 2h1m-4 1h1m5 0h1m0 0h1m-5 1h1m5 0h1m-12 1h1m7 0h1m-3 2h1" stroke="#2832f7" stroke-width="1" stroke-linecap="square"/>
<path d="M888 1069h1m1 0h1m-3 1h1m-3 1h1m-2 1h1m0 0h1m0 0h1m-2 1h1m0 0h1m-3 1h1m0 0h1m16 1h1m-3 1h1m0 0h1m-8 10h1m2 0h1m-5 1h1m1 1h1m2 0h1m9 1h1m1 0h1m-6 3h1m0 0h1m0 2h1m-9 4h1m0 0h1m-25 3h1m0 0h1m-2 1h1m0 1h1m15 2h1m1 0h1m-1 1h1m-9 1h1m-1 1h1m1 1h1m-12 1h1m1 0h1m2 0h1m-5 1h1m2 0h1m-4 1h1m1 0h1" stroke="#0096f0" stroke-width="1" stroke-linecap="square"/>
<path d="M913 1058h1m-21 3h1m-8 1h1m32 2h1m-42 6h1m42 7h1m-1 2h1m-49 1h1m7 0h1m3 4h1m-11 4h1m-2 3h1m43 0h1m-53 1h1m-8 9h1m53 3h1m-45 1h1m45 2h1m-50 4h1m30 1h1m16 0h1m-51 8h1m29 0h1m23 1h1m-63 1h1m12 0h1m12 0h1m-7 1h1m1 1h1m3 4h1m18 3h1" stroke="#3538fc" stroke-width="1" stroke-linecap="square"/>
<line x1="882.3" y1="1035.5" x2="882.3" y2="1156.5" stroke="#5a5a5a" stroke-width="1.4"/>
<line x1="802" y1="1081.5" x2="922.5" y2="1081.5" stroke="#5a5a5a" stroke-width="1.4"/>
<text x="806.5" y="1047" font-size="11" fill="#222">4.86</text>
<text x="918" y="1047" font-size="11" text-anchor="end" fill="#222">24.3</text>
<text x="806.5" y="1153" font-size="11" fill="#222">22.1</text>
<text x="918" y="1153" font-size="11" text-anchor="end" fill="#222">48.8</text>
<text class="k" x="807.7" y="1167">10<tspan dy="-3">0</tspan></text>
<text class="k" transform="translate(799 1153.8) rotate(-90)">10<tspan dy="-3">0</tspan></text>
<text class="k" x="824" y="1167">10<tspan dy="-3">1</tspan></text>
<text class="k" transform="translate(799 1137.5) rotate(-90)">10<tspan dy="-3">1</tspan></text>
<text class="k" x="840.4" y="1167">10<tspan dy="-3">2</tspan></text>
<text class="k" transform="translate(799 1121.1) rotate(-90)">10<tspan dy="-3">2</tspan></text>
<text class="k" x="856.7" y="1167">10<tspan dy="-3">3</tspan></text>
<text class="k" transform="translate(799 1104.8) rotate(-90)">10<tspan dy="-3">3</tspan></text>
<text class="k" x="873" y="1167">10<tspan dy="-3">4</tspan></text>
<text class="k" transform="translate(799 1088.5) rotate(-90)">10<tspan dy="-3">4</tspan></text>
<text class="k" x="889.3" y="1167">10<tspan dy="-3">5</tspan></text>
<text class="k" transform="translate(799 1072.2) rotate(-90)">10<tspan dy="-3">5</tspan></text>
<text class="k" x="905.7" y="1167">10<tspan dy="-3">6</tspan></text>
<text class="k" transform="translate(799 1055.8) rotate(-90)">10<tspan dy="-3">6</tspan></text>
<text class="k" x="922" y="1167">10<tspan dy="-3">7</tspan></text>
<text class="k" transform="translate(799 1039.5) rotate(-90)">10<tspan dy="-3">7</tspan></text>
<rect x="947.2" y="1035.5" width="120.5" height="121" fill="none" stroke="#b8b8b8" stroke-width="1.2"/>
<ellipse cx="1032.2" cy="1099" rx="31.5" ry="8.9" fill="url(#gH)" transform="rotate(-38.9 1032.2 1099)"/>
<ellipse cx="1036.4" cy="1070.6" rx="25.5" ry="7.1" fill="url(#gH)" transform="rotate(-7.1 1036.4 1070.6)"/>
<path d="M1032 1068h1m1 0h1m2 0h1m0 0h1m0 0h1m-7 1h1m1 0h1m0 0h1m2 0h1m0 0h1m-9 1h1m0 0h1m4 0h1m0 0h1m0 0h1m-12 1h1m0 0h1m3 0h1m4 0h1m0 0h1m-11 1h1m1 0h1m1 0h1m4 0h1m-11 1h1m1 0h1m7 0h1m-10 19h1m10 0h1m1 0h1m-15 1h1m0 0h1m0 0h1m9 0h1m0 0h1m0 0h1m-15 1h1m13 0h1m-18 1h1m0 1h1m0 0h1m-2 1h1m0 0h1m11 1h1m-3 1h1m-1 1h1m-16 1h1m1 0h1m6 0h1m1 0h1m-11 1h1m7 0h1m1 0h1m-3 1h1m0 0h1m-2 1h1m0 0h1m0 0h1m-11 1h1m0 0h1m7 0h1m-10 1h1m8 0h1m-15 1h1m9 0h1m1 0h1m-13 1h1m9 0h1m-11 1h1m9 0h1m-13 1h1m0 0h1m0 0h1m5 0h1m-9 1h1m0 0h1m0 0h1m3 0h1m0 0h1m0 0h1m-7 1h1m4 0h1m0 0h1" stroke="#66d72c" stroke-width="1" stroke-linecap="square"/>
<path d="M1046 1065h1m-17 1h1m-1 1h1m21 0h1m-31 1h1m32 0h1m-36 1h1m0 0h1m0 0h1m-5 1h1m3 0h1m30 0h1m0 1h1m0 0h1m-1 1h1m-39 1h1m33 1h1m2 2h1m-28 1h1m0 0h1m9 0h1m2 0h1m3 0h1m7 0h1m-31 1h1m0 0h1m17 0h1m3 0h1m7 0h1m-29 1h1m18 0h1m-11 2h1m5 0h1m-5 1h1m6 0h1m-5 1h1m13 0h1m-16 1h1m1 0h1m13 0h1m-16 1h1m-9 2h1m21 0h1m-5 2h1m-24 2h1m22 0h1m-4 1h1m0 0h1m0 0h1m-29 4h1m-3 2h1m-1 2h1m22 2h1m-27 1h1m-2 2h1m0 0h1m21 0h1m-23 1h1m18 1h1m-23 3h1m-2 1h1m-2 1h1m-3 1h1m22 0h1m1 1h1m-5 1h1m-20 3h1m1 0h1m0 1h1m-1 2h1" stroke="#1a2bf2" stroke-width="1" stroke-linecap="square"/>
<path d="M1038 1065h1m4 0h1m-10 1h1m5 0h1m1 0h1m0 1h1m-21 2h1m0 1h1m-3 1h1m-1 1h1m-2 1h1m22 1h1m0 0h1m1 0h1m-4 2h1m-13 1h1m0 0h1m0 0h1m-2 1h1m0 0h1m2 0h1m9 2h1m2 0h1m-4 1h1m0 0h1m1 0h1m0 0h1m0 0h1m-3 1h1m-7 1h1m5 0h1m1 0h1m-3 1h1m1 0h1m-16 3h1m9 0h1m-12 1h1m14 0h1m-22 1h1m17 0h1m-1 1h1m-18 1h1m15 0h1m-25 2h1m0 0h1m-5 5h1m0 0h1m22 0h1m-24 1h1m23 0h1m0 0h1m-27 1h1m17 1h1m1 1h1m-7 8h1m-24 3h1m0 1h1m-1 1h1m1 1h1m0 0h1m2 0h1m0 0h1m-1 1h1m-6 1h1" stroke="#0d4cf0" stroke-width="1" stroke-linecap="square"/>
<path d="M1036 1071h1m0 0h1m-3 1h1m0 0h1m0 0h1m-2 1h1m0 0h1m3 22h1m0 0h1m-2 1h1m0 0h1m0 0h1m-3 1h1m0 0h1m0 0h1m-17 1h1m0 0h1m4 0h1m0 0h1m0 0h1m-8 1h1m3 0h1m2 0h1m1 0h1m-10 1h1m5 0h1m0 0h1m1 0h1m-10 1h1m0 0h1m0 0h1m-4 1h1m2 0h1m-5 1h1m0 0h1m0 0h1m0 0h1m0 0h1m0 0h1m-5 1h1m0 0h1m0 0h1m0 0h1m-5 1h1m0 0h1m0 0h1m0 0h1m0 0h1m0 0h1m-6 1h1m1 0h1m0 0h1m-3 1h1m-4 1h1m0 0h1m0 0h1m1 0h1m-6 1h1m0 0h1m-5 2h1m0 0h1m0 0h1m-1 1h1" stroke="#e8dc00" stroke-width="1" stroke-linecap="square"/>
<path d="M1041 1068h1m6 0h1m0 0h1m-20 1h1m12 0h1m3 0h1m-17 1h1m15 0h1m1 0h1m-23 1h1m19 0h1m0 0h1m-23 1h1m0 0h1m13 0h1m0 0h1m0 0h1m-16 1h1m18 0h1m-22 1h1m0 0h1m11 0h1m0 0h1m-15 1h1m13 1h1m1 13h1m-11 1h1m8 0h1m0 0h1m0 1h1m0 1h1m0 0h1m-1 1h1m-19 1h1m17 1h1m0 1h1m-6 2h1m0 0h1m-1 1h1m-1 1h1m-22 1h1m13 0h1m-14 1h1m12 1h1m-19 1h1m1 0h1m-1 1h1m-3 1h1m0 0h1m13 1h1m0 0h1m-18 3h1m-2 1h1m0 1h1m-3 1h1m1 0h1m2 0h1m-1 1h1m-3 1h1" stroke="#00b7ba" stroke-width="1" stroke-linecap="square"/>
<path d="M1035 1066h1m0 1h1m-11 1h1m17 0h1m0 0h1m6 0h1m-27 1h1m1 1h1m16 0h1m5 0h1m0 0h1m-9 1h1m0 0h1m0 0h1m3 0h1m-28 1h1m21 0h1m5 0h1m0 1h1m-30 1h1m0 0h1m0 0h1m16 0h1m-20 1h1m1 1h1m21 7h1m-1 1h1m1 1h1m-8 1h1m3 0h1m-9 1h1m3 0h1m0 0h1m2 0h1m-6 1h1m0 0h1m2 0h1m0 0h1m-1 3h1m-23 5h1m-1 1h1m0 0h1m9 7h1m-1 2h1m1 0h1m-23 1h1m-1 2h1m14 1h1m0 0h1m-2 1h1m0 0h1m-8 2h1m0 0h1m-3 2h1m0 0h1m0 0h1" stroke="#0096f0" stroke-width="1" stroke-linecap="square"/>
<path d="M1034 1060h1m23 0h1m-10 1h1m1 0h1m4 3h1m-44 1h1m49 1h1m-4 1h1m-1 2h1m-64 2h1m1 0h1m3 0h1m6 2h1m-3 1h1m4 1h1m48 0h1m-58 2h1m11 0h1m-4 5h1m2 0h1m41 0h1m-46 3h1m7 1h1m39 0h1m-54 9h1m-12 4h1m15 0h1m46 1h1m-10 4h1m-50 3h1m2 1h1m52 0h1m-54 4h1m34 0h1m1 1h1m10 3h1m-51 1h1m30 0h1m5 0h1m-10 2h1m-27 1h1m16 0h1m2 0h1m-8 3h1m6 0h1m-23 2h1m2 0h1m1 0h1m14 1h1m-17 1h1m5 1h1m36 0h1m-57 2h1m20 13h1" stroke="#3538fc" stroke-width="1" stroke-linecap="square"/>
<path d="M1033 1092h1m0 0h1m1 0h1m1 0h1m-6 1h1m1 0h1m1 0h1m1 0h1m0 0h1m-9 1h1m0 0h1m0 0h1m0 0h1m2 0h1m0 0h1m-9 1h1m0 0h1m0 0h1m2 0h1m0 0h1m0 0h1m0 0h1m0 0h1m-11 1h1m0 0h1m1 0h1m0 0h1m0 0h1m0 0h1m2 0h1m-11 1h1m0 0h1m1 0h1m1 0h1m1 0h1m1 0h1m0 0h1m0 0h1m-12 1h1m0 1h1m0 0h1m-2 1h1m-11 7h1m0 0h1m0 0h1m-2 1h1m0 0h1m-2 1h1" stroke="#f76900" stroke-width="1" stroke-linecap="square"/>
<path d="M1048 1063h1m-9 1h1m4 0h1m-32 1h1m0 0h1m11 0h1m25 1h1m-30 1h1m30 0h1m-42 2h1m-4 4h1m4 0h1m40 0h1m-39 2h1m37 0h1m-1 2h1m-32 3h1m29 0h1m-34 2h1m8 0h1m23 0h1m-29 5h1m-6 1h1m7 0h1m-12 1h1m32 1h1m-29 1h1m-4 2h1m29 0h1m-42 11h1m33 0h1m1 0h1m0 0h1m-7 1h1m2 2h1m-3 2h1m-34 1h1m24 2h1m-11 4h1m-20 1h1m20 1h1m-20 1h1m10 0h1m-7 1h1m-4 1h1m5 2h1" stroke="#2832f7" stroke-width="1" stroke-linecap="square"/>
<path d="M1032 1074h1m0 0h1m1 0h1m0 0h1m0 0h1m-4 1h1m2 0h1m-2 1h1m-2 13h1m0 0h1m2 0h1m-4 1h1m0 0h1m1 0h1m0 0h1m-6 1h1m0 0h1m0 0h1m2 0h1m-18 7h1m0 0h1m0 0h1m-2 1h1m0 0h1m-3 1h1m-4 4h1m-1 1h1m-1 1h1m1 0h1m4 4h1m0 0h1m-1 2h1m-7 1h1m-1 1h1m-1 1h1" stroke="#19cc76" stroke-width="1" stroke-linecap="square"/>
<line x1="1027.5" y1="1035.5" x2="1027.5" y2="1156.5" stroke="#5a5a5a" stroke-width="1.4"/>
<line x1="947.2" y1="1081.5" x2="1067.7" y2="1081.5" stroke="#5a5a5a" stroke-width="1.4"/>
<text x="951.7" y="1047" font-size="11" fill="#222">7.26</text>
<text x="1063.2" y="1047" font-size="11" text-anchor="end" fill="#222">21.8</text>
<text x="951.7" y="1153" font-size="11" fill="#222">35.5</text>
<text x="1063.2" y="1153" font-size="11" text-anchor="end" fill="#222">35.4</text>
<text class="k" x="952.9" y="1167">10<tspan dy="-3">0</tspan></text>
<text class="k" transform="translate(944.2 1153.8) rotate(-90)">10<tspan dy="-3">0</tspan></text>
<text class="k" x="969.2" y="1167">10<tspan dy="-3">1</tspan></text>
<text class="k" transform="translate(944.2 1137.5) rotate(-90)">10<tspan dy="-3">1</tspan></text>
<text class="k" x="985.6" y="1167">10<tspan dy="-3">2</tspan></text>
<text class="k" transform="translate(944.2 1121.1) rotate(-90)">10<tspan dy="-3">2</tspan></text>
<text class="k" x="1001.9" y="1167">10<tspan dy="-3">3</tspan></text>
<text class="k" transform="translate(944.2 1104.8) rotate(-90)">10<tspan dy="-3">3</tspan></text>
<text class="k" x="1018.2" y="1167">10<tspan dy="-3">4</tspan></text>
<text class="k" transform="translate(944.2 1088.5) rotate(-90)">10<tspan dy="-3">4</tspan></text>
<text class="k" x="1034.5" y="1167">10<tspan dy="-3">5</tspan></text>
<text class="k" transform="translate(944.2 1072.2) rotate(-90)">10<tspan dy="-3">5</tspan></text>
<text class="k" x="1050.9" y="1167">10<tspan dy="-3">6</tspan></text>
<text class="k" transform="translate(944.2 1055.8) rotate(-90)">10<tspan dy="-3">6</tspan></text>
<text class="k" x="1067.2" y="1167">10<tspan dy="-3">7</tspan></text>
<text class="k" transform="translate(944.2 1039.5) rotate(-90)">10<tspan dy="-3">7</tspan></text>
<text x="490" y="858" font-size="21.1" text-anchor="middle" transform="rotate(-90 490 858)">PI</text>
<line x1="483.1" y1="894.8" x2="483.1" y2="1188.9" stroke="#4472c4" stroke-width="1.6"/>
<path d="M483.1 879.3L475.6 895.8H490.6Z" fill="#4472c4"/>
<line x1="483.1" y1="1188.9" x2="993.8" y2="1188.9" stroke="#4472c4" stroke-width="1.6"/>
<path d="M1009.3 1188.9L992.8 1181.4V1196.4Z" fill="#4472c4"/>
<text x="1019" y="1193.6" font-size="20.9">Annexin-V</text>
<text x="1093" y="951" font-size="21.3" text-anchor="middle" transform="rotate(-90 1093 951)">Vector</text>
<text x="1093" y="1094.8" font-size="21.3" text-anchor="middle" transform="rotate(-90 1093 1094.8)">PID1</text>
<text x="440.4" y="1242" font-size="31.8" font-weight="bold">G</text>
<text x="787.7" y="1233.3" font-size="21.8" text-anchor="middle">Hepa1-6</text>
<text x="572.2" y="1268.2" font-size="21.5" text-anchor="middle">Untreated</text>
<text x="715.9" y="1268.2" font-size="21.5" text-anchor="middle">Cisplatin</text>
<text x="858.5" y="1268.2" font-size="21.5" text-anchor="middle">Doxorubicin</text>
<text x="1004.6" y="1268.2" font-size="21.5" text-anchor="middle">Gemcitabine</text>
<line x1="511.1" y1="1278.2" x2="511.1" y2="1398.6" stroke="#c8c8c8" stroke-width="1" stroke-dasharray="1.5 1.5"/>
<line x1="511.1" y1="1398.6" x2="632.1" y2="1398.6" stroke="#c8c8c8" stroke-width="1" stroke-dasharray="1.5 1.5"/>
<line x1="632.1" y1="1278.2" x2="632.1" y2="1398.6" stroke="#999" stroke-width="1.2"/>
<ellipse cx="581.9" cy="1348" rx="20.3" ry="16.4" fill="url(#gW)" transform="rotate(-75 581.9 1348)"/>
<path d="M583 1317h1m-2 1h1m0 0h1m-2 1h1m4 10h1m1 0h1m-11 1h1m6 0h1m3 0h1m-12 1h1m9 0h1m-10 1h1m1 0h1m0 0h1m0 0h1m7 1h1m0 0h1m-6 1h1m0 0h1m3 0h1m-4 1h1m-16 1h1m0 0h1m16 0h1m1 0h1m1 0h1m-8 1h1m5 0h1m0 0h1m-8 1h1m4 0h1m0 0h1m1 0h1m-5 1h1m2 0h1m-5 1h1m0 0h1m2 0h1m0 0h1m-30 4h1m28 0h1m-31 1h1m0 0h1m27 0h1m-29 2h1m28 1h1m0 0h1m-32 1h1m0 2h1m-1 1h1m-1 1h1m24 4h1m-1 1h1m-3 1h1m-21 1h1m20 0h1m-21 3h1m1 0h1m8 0h1m-2 1h1m9 0h1m-17 1h1m2 0h1m6 0h1m0 0h1m1 0h1m2 0h1m-19 1h1m0 0h1m14 0h1m1 0h1m-18 1h1m2 0h1m6 0h1m2 0h1m-10 1h1m1 0h1m-7 1h1m1 0h1m1 0h1m0 2h1m0 0h1m1 0h1m-5 1h1" stroke="#1a2bf2" stroke-width="1" stroke-linecap="square"/>
<path d="M586 1314h1m-4 1h1m0 1h1m2 0h1m-12 2h1m3 0h1m10 0h1m4 0h1m-23 1h1m10 0h1m4 0h1m-14 1h1m0 0h1m2 0h1m11 0h1m-6 1h1m3 0h1m-19 1h1m11 0h1m2 0h1m6 0h1m-19 1h1m13 0h1m-10 1h1m2 0h1m8 0h1m-12 1h1m6 0h1m-15 1h1m2 0h1m6 0h1m8 0h1m-11 1h1m-6 1h1m1 0h1m-7 1h1m6 0h1m6 0h1m2 1h1m-18 1h1m-2 1h1m20 0h1m0 0h1m-22 1h1m23 0h1m-25 1h1m21 0h1m-30 3h1m1 2h1m27 0h1m-34 3h1m1 0h1m30 1h1m-36 1h1m-2 2h1m-1 4h1m-1 2h1m0 1h1m0 2h1m31 0h1m-1 2h1m-5 2h1m2 0h1m-29 1h1m-2 2h1m-1 1h1m27 0h1m-31 1h1m27 0h1m-27 1h1m14 0h1m12 0h1m-27 1h1m0 2h1m15 0h1m-13 1h1m11 2h1m-15 1h1m8 3h1m0 1h1m0 0h1m0 3h1" stroke="#2832f7" stroke-width="1" stroke-linecap="square"/>
<path d="M583 1338h1m-5 1h1m0 0h1m1 0h1m0 0h1m-4 1h1m3 0h1m0 0h1m0 0h1m-13 1h1m1 0h1m1 0h1m9 0h1m0 0h1m-15 1h1m2 0h1m12 0h1m-15 1h1m0 0h1m12 0h1m2 1h1m0 0h1m-23 1h1m0 0h1m0 0h1m18 0h1m0 0h1m-21 1h1m18 1h1m0 0h1m-25 1h1m-2 1h1m24 0h1m-7 4h1m1 0h1m0 0h1m0 0h1m-6 1h1m1 0h1m0 0h1m-3 1h1m0 0h1m0 0h1m1 0h1m-20 1h1m0 0h1m0 0h1m1 0h1m-3 1h1m0 0h1m12 0h1m-1 1h1m-14 1h1m2 0h1m0 0h1m1 0h1m0 0h1m0 0h1m-8 1h1m2 0h1m0 0h1m3 0h1m0 0h1m-9 1h1" stroke="#0096f0" stroke-width="1" stroke-linecap="square"/>
<path d="M582 1341h1m0 0h1m1 0h1m-6 1h1m1 0h1m0 0h1m0 0h1m0 0h1m-5 1h1m4 0h1m-10 1h1m0 0h1m-2 1h1m14 0h1m0 0h1m-16 1h1m12 0h1m0 0h1m0 0h1m-21 4h1m0 0h1m0 0h1m12 0h1m0 0h1m0 0h1m1 0h1m0 0h1m-21 1h1m17 0h1m-17 1h1m13 0h1m2 0h1m-20 1h1m0 1h1m10 0h1m1 0h1m-14 1h1m4 1h1m4 0h1m1 0h1m0 0h1m-7 1h1m0 0h1m3 0h1m0 0h1m-9 1h1m0 0h1m0 0h1m0 0h1m0 0h1m0 0h1m1 0h1" stroke="#00b7ba" stroke-width="1" stroke-linecap="square"/>
<path d="M574 1307h1m10 4h1m-14 1h1m19 2h1m4 0h1m-1 1h1m-43 2h1m11 1h1m3 4h1m43 1h1m-45 6h1m36 0h1m-9 2h1m5 1h1m-50 1h1m5 5h1m0 1h1m-3 1h1m40 2h1m-43 2h1m-8 2h1m50 0h1m-6 1h1m7 0h1m-47 7h1m39 2h1m-42 1h1m39 5h1m7 3h1m-13 3h1m-29 1h1m-1 5h1m23 0h1m-16 1h1m13 0h1m0 0h1m-24 4h1m18 0h1m-12 1h1m3 1h1m0 1h1m18 1h1m-15 1h1m8 0h1m-10 1h1m-17 1h1m-9 5h1m8 0h1m18 0h1m-12 1h1m12 0h1" stroke="#3538fc" stroke-width="1" stroke-linecap="square"/>
<path d="M588 1344h1m0 0h1m0 0h1m-12 1h1m1 0h1m0 0h1m5 0h1m1 0h1m-10 1h1m0 0h1m1 0h1m3 0h1m1 0h1m-16 1h1m12 0h1m0 0h1m2 0h1m-19 1h1m13 0h1m0 0h1m0 0h1m0 0h1m1 0h1m-21 1h1m17 0h1m1 0h1m-18 1h1m0 0h1m4 0h1m0 0h1m3 0h1m-12 1h1m0 0h1m4 0h1m0 0h1m0 0h1m-7 1h1m4 0h1m0 0h1m0 0h1m-8 1h1m4 0h1m-7 1h1m4 0h1m0 0h1m-6 1h1m3 0h1" stroke="#19cc76" stroke-width="1" stroke-linecap="square"/>
<path d="M582 1335h1m3 0h1m-3 1h1m0 0h1m-5 1h1m4 0h1m0 0h1m-13 2h1m0 0h1m1 0h1m-6 1h1m1 0h1m2 0h1m16 2h1m-24 3h1m-3 1h1m1 0h1m-1 4h1m21 0h1m0 0h1m-26 1h1m23 0h1m0 0h1m-24 1h1m-3 1h1m23 0h1m-24 1h1m23 0h1m-26 2h1m20 0h1m-21 1h1m-1 1h1m0 0h1m18 0h1m-18 1h1m13 0h1m0 0h1m0 0h1m-17 1h1m13 1h1m-12 1h1m3 1h1m3 0h1m2 0h1m-13 1h1m1 0h1m10 0h1" stroke="#0d4cf0" stroke-width="1" stroke-linecap="square"/>
<path d="M585 1344h1m1 0h1m-3 1h1m-1 1h1m1 0h1m-11 1h1m5 0h1m0 0h1m0 0h1m0 0h1m-11 1h1m4 0h1m0 0h1m0 0h1m0 0h1m2 0h1m-12 1h1m0 0h1m0 0h1m0 0h1m0 0h1m1 0h1m0 0h1m0 0h1m1 0h1m0 0h1m-9 5h1m-1 1h1m1 0h1" stroke="#66d72c" stroke-width="1" stroke-linecap="square"/>
<path d="M579 1350h1m0 0h1m0 0h1m-3 1h1m0 0h1m-2 1h1" stroke="#e8dc00" stroke-width="1" stroke-linecap="square"/>
<line x1="561.7" y1="1397.6" x2="563.7" y2="1397.6" stroke="#67d72c" stroke-width="1.5"/>
<line x1="589.7" y1="1397.6" x2="591.7" y2="1397.6" stroke="#00c3a7" stroke-width="1.5"/>
<line x1="573.1" y1="1397.6" x2="575.1" y2="1397.6" stroke="#2c34f9" stroke-width="1.5"/>
<line x1="606.4" y1="1397.6" x2="608.4" y2="1397.6" stroke="#3337fb" stroke-width="1.5"/>
<line x1="584.4" y1="1397.6" x2="586.4" y2="1397.6" stroke="#1528f0" stroke-width="1.5"/>
<line x1="625.4" y1="1397.6" x2="627.4" y2="1397.6" stroke="#82da23" stroke-width="1.5"/>
<line x1="607.3" y1="1397.6" x2="609.3" y2="1397.6" stroke="#ed3900" stroke-width="1.5"/>
<line x1="585.8" y1="1397.6" x2="587.8" y2="1397.6" stroke="#bee10d" stroke-width="1.5"/>
<line x1="576.1" y1="1397.6" x2="578.1" y2="1397.6" stroke="#0869f0" stroke-width="1.5"/>
<line x1="619.4" y1="1397.6" x2="621.4" y2="1397.6" stroke="#17cb78" stroke-width="1.5"/>
<line x1="614.2" y1="1397.6" x2="616.2" y2="1397.6" stroke="#3036fa" stroke-width="1.5"/>
<line x1="609.7" y1="1397.6" x2="611.7" y2="1397.6" stroke="#232ff5" stroke-width="1.5"/>
<line x1="580.8" y1="1397.6" x2="582.8" y2="1397.6" stroke="#00c1aa" stroke-width="1.5"/>
<line x1="567.4" y1="1397.6" x2="569.4" y2="1397.6" stroke="#f0c000" stroke-width="1.5"/>
<line x1="594.5" y1="1278.2" x2="594.5" y2="1398.6" stroke="#5a5a5a" stroke-width="1.4"/>
<line x1="511.1" y1="1331.4" x2="632.1" y2="1331.4" stroke="#5a5a5a" stroke-width="1.4"/>
<text x="515.6" y="1289.7" font-size="11" fill="#222">3.52</text>
<text x="627.6" y="1289.7" font-size="11" text-anchor="end" fill="#222">2.20</text>
<text x="515.6" y="1395.1" font-size="11" fill="#222">85.9</text>
<text x="627.6" y="1395.1" font-size="11" text-anchor="end" fill="#222">8.38</text>
<text class="k" x="516.8" y="1409.1">10<tspan dy="-3">0</tspan></text>
<text class="k" transform="translate(508.1 1395.9) rotate(-90)">10<tspan dy="-3">0</tspan></text>
<text class="k" x="533.2" y="1409.1">10<tspan dy="-3">1</tspan></text>
<text class="k" transform="translate(508.1 1379.7) rotate(-90)">10<tspan dy="-3">1</tspan></text>
<text class="k" x="549.6" y="1409.1">10<tspan dy="-3">2</tspan></text>
<text class="k" transform="translate(508.1 1363.4) rotate(-90)">10<tspan dy="-3">2</tspan></text>
<text class="k" x="566" y="1409.1">10<tspan dy="-3">3</tspan></text>
<text class="k" transform="translate(508.1 1347.2) rotate(-90)">10<tspan dy="-3">3</tspan></text>
<text class="k" x="582.4" y="1409.1">10<tspan dy="-3">4</tspan></text>
<text class="k" transform="translate(508.1 1330.9) rotate(-90)">10<tspan dy="-3">4</tspan></text>
<text class="k" x="598.8" y="1409.1">10<tspan dy="-3">5</tspan></text>
<text class="k" transform="translate(508.1 1314.7) rotate(-90)">10<tspan dy="-3">5</tspan></text>
<text class="k" x="615.2" y="1409.1">10<tspan dy="-3">6</tspan></text>
<text class="k" transform="translate(508.1 1298.4) rotate(-90)">10<tspan dy="-3">6</tspan></text>
<text class="k" x="631.6" y="1409.1">10<tspan dy="-3">7</tspan></text>
<text class="k" transform="translate(508.1 1282.2) rotate(-90)">10<tspan dy="-3">7</tspan></text>
<line x1="655.5" y1="1278.2" x2="655.5" y2="1398.6" stroke="#c8c8c8" stroke-width="1" stroke-dasharray="1.5 1.5"/>
<line x1="655.5" y1="1398.6" x2="776.5" y2="1398.6" stroke="#c8c8c8" stroke-width="1" stroke-dasharray="1.5 1.5"/>
<line x1="776.5" y1="1278.2" x2="776.5" y2="1398.6" stroke="#999" stroke-width="1.2"/>
<ellipse cx="731.7" cy="1346.8" rx="17.8" ry="12.6" fill="url(#gW)" transform="rotate(-70 731.7 1346.8)"/>
<ellipse cx="749.9" cy="1314.9" rx="25.5" ry="7.6" fill="url(#gW)" transform="rotate(5.4 749.9 1314.9)"/>
<path d="M728 1308h1m30 0h1m-29 1h1m0 1h1m1 0h1m18 0h1m0 0h1m1 0h1m0 0h1m6 0h1m-39 1h1m42 0h1m-47 1h1m42 0h1m-43 1h1m-1 1h1m2 0h1m42 0h1m-44 1h1m0 1h1m41 0h1m-44 3h1m9 1h1m11 3h1m-4 2h1m-9 2h1m29 0h1m1 0h1m-15 1h1m11 0h1m-35 1h1m1 0h1m32 0h1m-8 1h1m-25 1h1m2 0h1m19 0h1m5 0h1m5 0h1m-33 2h1m2 0h1m-20 1h1m4 0h1m1 0h1m-12 1h1m0 0h1m2 0h1m2 0h1m16 0h1m0 0h1m-21 1h1m19 0h1m-24 1h1m1 0h1m-2 4h1m19 1h1m1 0h1m-2 1h1m-26 1h1m26 0h1m-33 3h1m32 0h1m0 0h1m-31 1h1m-2 1h1m-1 1h1m-3 1h1m1 0h1m29 0h1m-32 1h1m26 0h1m0 0h1m0 3h1m-28 1h1m21 2h1m-25 2h1m-1 1h1m2 0h1m-1 1h1m11 0h1m0 0h1m4 0h1m-1 1h1m1 0h1m-8 1h1m-8 1h1m8 0h1m-13 1h1m8 0h1m2 0h1m-12 1h1m-6 1h1m3 0h1m1 0h1m0 0h1m2 1h1m-16 1h1m11 0h1m6 0h1m0 0h1" stroke="#2832f7" stroke-width="1" stroke-linecap="square"/>
<path d="M739 1311h1m0 0h1m3 0h1m3 0h1m0 0h1m-12 1h1m0 0h1m4 0h1m1 0h1m0 0h1m0 0h1m0 0h1m-11 1h1m0 0h1m5 0h1m0 0h1m1 0h1m-7 1h1m9 0h1m0 0h1m0 0h1m0 0h1m0 0h1m0 0h1m-17 1h1m10 0h1m3 0h1m-20 1h1m14 0h1m3 0h1m0 0h1m-12 1h1m1 0h1m2 0h1m6 0h1m-10 1h1m0 0h1m1 0h1m0 0h1m2 0h1m1 0h1m0 0h1m-12 1h1m0 0h1m1 0h1m1 0h1m4 0h1m-27 19h1m2 0h1m-3 1h1m2 0h1m-4 1h1m0 0h1m1 0h1m-9 1h1m1 1h1m7 0h1m-10 1h1m7 0h1m1 0h1m-3 2h1m-1 1h1m-1 1h1m1 0h1m-4 3h1m-3 1h1m-1 1h1m-10 1h1m-1 1h1m1 0h1m-2 1h1m1 1h1m1 0h1m-3 1h1m-1 1h1" stroke="#00b7ba" stroke-width="1" stroke-linecap="square"/>
<path d="M735 1309h1m1 1h1m9 0h1m2 0h1m1 0h1m-24 1h1m33 2h1m0 0h1m-36 3h1m0 0h1m35 0h1m2 1h1m-2 1h1m-37 1h1m36 0h1m0 0h1m-33 1h1m0 0h1m5 0h1m24 0h1m1 0h1m-27 1h1m22 0h1m2 0h1m-5 1h1m2 0h1m-20 1h1m0 0h1m17 0h1m-20 1h1m16 1h1m-10 2h1m5 0h1m-4 1h1m0 0h1m-29 7h1m6 0h1m-15 1h1m3 0h1m4 0h1m0 0h1m2 0h1m-6 1h1m-13 1h1m16 1h1m0 0h1m-19 1h1m0 0h1m1 0h1m13 2h1m-1 1h1m0 1h1m-22 3h1m-2 2h1m21 1h1m-24 2h1m1 0h1m-3 2h1m1 0h1m18 0h1m-4 2h1m0 0h1m-20 1h1m1 1h1m15 0h1m1 0h1m-3 1h1m-14 1h1m3 2h1m-4 1h1m0 1h1m2 0h1" stroke="#1a2bf2" stroke-width="1" stroke-linecap="square"/>
<path d="M756 1303h1m-22 1h1m-24 2h1m10 0h1m35 0h1m-8 1h1m13 3h1m-57 1h1m7 0h1m55 0h1m-57 1h1m56 0h1m-2 3h1m-59 4h1m10 2h1m46 0h1m-54 3h1m0 0h1m12 2h1m-8 1h1m17 0h1m-6 1h1m32 0h1m-52 1h1m32 0h1m-30 1h1m1 1h1m30 1h1m3 0h1m3 0h1m-54 4h1m3 1h1m-3 1h1m-5 3h1m39 0h1m-35 2h1m30 0h1m7 3h1m-5 6h1m-4 1h1m-55 2h1m49 1h1m-32 3h1m-1 2h1m31 0h1m-8 2h1m-26 2h1m-2 1h1m28 0h1m8 1h1m-41 1h1m-9 1h1m39 0h1m-28 2h1m2 0h1m6 0h1m7 1h1m20 0h1m-39 1h1m15 0h1m-1 1h1m10 2h1m-15 1h1m1 0h1m-19 1h1m6 1h1m27 1h1m-33 1h1m5 2h1m-5 1h1m5 2h1" stroke="#3538fc" stroke-width="1" stroke-linecap="square"/>
<path d="M740 1309h1m0 1h1m1 0h1m0 0h1m14 1h1m-28 1h1m26 0h1m1 0h1m-28 1h1m-3 1h1m1 1h1m-2 1h1m0 0h1m0 1h1m0 0h1m0 0h1m0 0h1m28 0h1m-32 1h1m3 0h1m-3 1h1m26 0h1m-18 1h1m4 0h1m0 0h1m12 0h1m-19 2h1m0 0h1m0 0h1m0 0h1m2 0h1m0 1h1m0 0h1m4 0h1m0 1h1m0 0h1m1 0h1m-9 1h1m1 0h1m3 0h1m-36 13h1m-3 3h1m-2 1h1m14 5h1m1 0h1m-3 1h1m0 0h1m-1 1h1m0 0h1m-21 4h1m14 0h1m-15 1h1m0 0h1m13 0h1m-15 2h1m10 0h1m0 0h1m-15 1h1m1 0h1m10 0h1m-1 1h1m-11 1h1m1 0h1m1 0h1m3 0h1m2 0h1m-11 1h1m2 0h1m-3 1h1m8 0h1" stroke="#0d4cf0" stroke-width="1" stroke-linecap="square"/>
<path d="M750 1311h1m2 0h1m-19 1h1m0 0h1m0 0h1m5 0h1m9 0h1m1 0h1m1 0h1m-23 1h1m5 0h1m1 0h1m-8 1h1m22 0h1m0 0h1m1 0h1m1 0h1m-29 1h1m25 0h1m0 0h1m0 0h1m-29 1h1m22 0h1m1 0h1m-21 1h1m0 0h1m20 0h1m-23 1h1m0 0h1m1 0h1m1 0h1m-5 1h1m3 0h1m9 1h1m0 0h1m1 0h1m0 0h1m-2 1h1m0 0h1m0 0h1m0 0h1m0 0h1m-4 1h1m0 0h1m0 0h1m1 0h1m-26 16h1m-2 1h1m-1 1h1m1 0h1m-15 4h1m0 0h1m-1 2h1m0 0h1m-4 1h1m-3 1h1m1 1h1m-3 1h1m0 0h1m0 0h1m12 0h1m0 0h1m0 0h1m-16 2h1m12 0h1m-2 1h1m-2 1h1m-4 2h1m-2 1h1" stroke="#0096f0" stroke-width="1" stroke-linecap="square"/>
<path d="M744 1314h1m0 0h1m2 0h1m1 0h1m0 0h1m0 0h1m-9 1h1m2 0h1m0 0h1m2 0h1m0 0h1m-9 1h1m0 0h1m0 0h1m1 0h1m2 0h1m0 0h1m-23 28h1m-2 1h1m1 0h1m-2 1h1m0 0h1m-5 1h1m0 0h1m6 0h1m0 0h1m-11 1h1m8 0h1m0 0h1m0 0h1m-12 1h1m1 0h1m6 0h1m-9 1h1m0 0h1m5 0h1m-9 1h1m0 0h1m0 0h1m3 0h1m1 0h1m-7 1h1m3 0h1m0 0h1m-4 1h1m0 0h1m0 0h1m1 0h1m-5 1h1m0 0h1m0 0h1m-4 1h1m0 0h1m1 0h1m0 0h1" stroke="#19cc76" stroke-width="1" stroke-linecap="square"/>
<path d="M733 1341h1m1 0h1m-3 1h1m0 0h1m0 0h1m0 0h1m-5 1h1m0 0h1m1 0h1m-6 4h1m0 0h1m2 0h1m-4 1h1m0 0h1m-4 1h1m2 0h1m0 0h1m0 0h1m-6 1h1m0 0h1m-1 1h1m0 0h1m-3 1h1m1 0h1" stroke="#66d72c" stroke-width="1" stroke-linecap="square"/>
<path d="M733 1344h1m0 0h1m1 0h1m0 0h1m-6 1h1m0 0h1m1 0h1m0 0h1m-5 1h1m2 0h1m0 0h1m0 0h1" stroke="#e8dc00" stroke-width="1" stroke-linecap="square"/>
<line x1="755.7" y1="1397.6" x2="757.7" y2="1397.6" stroke="#f86a00" stroke-width="1.5"/>
<line x1="739.8" y1="1397.6" x2="741.8" y2="1397.6" stroke="#192af2" stroke-width="1.5"/>
<line x1="752.7" y1="1397.6" x2="754.7" y2="1397.6" stroke="#095ff0" stroke-width="1.5"/>
<line x1="756" y1="1397.6" x2="758" y2="1397.6" stroke="#0e44f0" stroke-width="1.5"/>
<line x1="739.3" y1="1397.6" x2="741.3" y2="1397.6" stroke="#a1dd18" stroke-width="1.5"/>
<line x1="699.2" y1="1397.6" x2="701.2" y2="1397.6" stroke="#0f3ef0" stroke-width="1.5"/>
<line x1="726.8" y1="1397.6" x2="728.8" y2="1397.6" stroke="#1428f0" stroke-width="1.5"/>
<line x1="764.6" y1="1397.6" x2="766.6" y2="1397.6" stroke="#3237fb" stroke-width="1.5"/>
<line x1="730.4" y1="1397.6" x2="732.4" y2="1397.6" stroke="#122df0" stroke-width="1.5"/>
<line x1="707.6" y1="1397.6" x2="709.6" y2="1397.6" stroke="#2c34f9" stroke-width="1.5"/>
<line x1="762.4" y1="1397.6" x2="764.4" y2="1397.6" stroke="#0a5bf0" stroke-width="1.5"/>
<line x1="764.7" y1="1397.6" x2="766.7" y2="1397.6" stroke="#0a5df0" stroke-width="1.5"/>
<line x1="722.2" y1="1397.6" x2="724.2" y2="1397.6" stroke="#232ff5" stroke-width="1.5"/>
<line x1="703.7" y1="1397.6" x2="705.7" y2="1397.6" stroke="#3a3bfe" stroke-width="1.5"/>
<line x1="738.9" y1="1278.2" x2="738.9" y2="1398.6" stroke="#5a5a5a" stroke-width="1.4"/>
<line x1="655.5" y1="1331.4" x2="776.5" y2="1331.4" stroke="#5a5a5a" stroke-width="1.4"/>
<text x="660" y="1289.7" font-size="11" fill="#222">3.68</text>
<text x="772" y="1289.7" font-size="11" text-anchor="end" fill="#222">35.8</text>
<text x="660" y="1395.1" font-size="11" fill="#222">31.7</text>
<text x="772" y="1395.1" font-size="11" text-anchor="end" fill="#222">28.8</text>
<text class="k" x="661.2" y="1409.1">10<tspan dy="-3">0</tspan></text>
<text class="k" transform="translate(652.5 1395.9) rotate(-90)">10<tspan dy="-3">0</tspan></text>
<text class="k" x="677.6" y="1409.1">10<tspan dy="-3">1</tspan></text>
<text class="k" transform="translate(652.5 1379.7) rotate(-90)">10<tspan dy="-3">1</tspan></text>
<text class="k" x="694" y="1409.1">10<tspan dy="-3">2</tspan></text>
<text class="k" transform="translate(652.5 1363.4) rotate(-90)">10<tspan dy="-3">2</tspan></text>
<text class="k" x="710.4" y="1409.1">10<tspan dy="-3">3</tspan></text>
<text class="k" transform="translate(652.5 1347.2) rotate(-90)">10<tspan dy="-3">3</tspan></text>
<text class="k" x="726.8" y="1409.1">10<tspan dy="-3">4</tspan></text>
<text class="k" transform="translate(652.5 1330.9) rotate(-90)">10<tspan dy="-3">4</tspan></text>
<text class="k" x="743.2" y="1409.1">10<tspan dy="-3">5</tspan></text>
<text class="k" transform="translate(652.5 1314.7) rotate(-90)">10<tspan dy="-3">5</tspan></text>
<text class="k" x="759.6" y="1409.1">10<tspan dy="-3">6</tspan></text>
<text class="k" transform="translate(652.5 1298.4) rotate(-90)">10<tspan dy="-3">6</tspan></text>
<text class="k" x="776" y="1409.1">10<tspan dy="-3">7</tspan></text>
<text class="k" transform="translate(652.5 1282.2) rotate(-90)">10<tspan dy="-3">7</tspan></text>
<line x1="800.3" y1="1278.2" x2="800.3" y2="1398.6" stroke="#c8c8c8" stroke-width="1" stroke-dasharray="1.5 1.5"/>
<line x1="800.3" y1="1398.6" x2="921.3" y2="1398.6" stroke="#c8c8c8" stroke-width="1" stroke-dasharray="1.5 1.5"/>
<line x1="921.3" y1="1278.2" x2="921.3" y2="1398.6" stroke="#999" stroke-width="1.2"/>
<ellipse cx="875.9" cy="1345.6" rx="17.8" ry="12.6" fill="url(#gW)" transform="rotate(-70 875.9 1345.6)"/>
<ellipse cx="893.5" cy="1314.3" rx="27" ry="7.6" fill="url(#gW)" transform="rotate(-0 893.5 1314.3)"/>
<path d="M885 1311h1m1 0h1m6 0h1m3 0h1m0 0h1m-15 1h1m5 0h1m1 0h1m0 0h1m0 0h1m1 0h1m0 0h1m-14 1h1m0 0h1m0 0h1m3 0h1m0 0h1m1 0h1m-13 1h1m15 0h1m0 0h1m-16 1h1m12 0h1m-15 1h1m0 0h1m12 0h1m1 0h1m-9 1h1m0 0h1m0 0h1m0 0h1m0 0h1m-5 1h1m0 0h1m0 0h1m0 0h1m0 0h1m-4 1h1m3 0h1m-23 22h1m-2 1h1m0 0h1m-1 1h1m0 0h1m-6 1h1m1 0h1m0 0h1m6 0h1m0 0h1m-9 1h1m0 0h1m4 0h1m1 0h1m-12 1h1m1 0h1m0 0h1m1 0h1m5 0h1m-12 1h1m6 0h1m1 0h1m-8 1h1m0 0h1m3 0h1m2 0h1m0 0h1m-11 1h1m1 0h1m0 0h1m1 0h1m1 0h1m0 0h1m0 0h1m0 0h1m-6 1h1m0 0h1m0 0h1m-3 1h1m0 0h1m-2 1h1m0 0h1m0 0h1m-2 1h1m0 0h1m-3 1h1m-1 1h1m0 0h1" stroke="#19cc76" stroke-width="1" stroke-linecap="square"/>
<path d="M882 1311h1m1 0h1m15 0h1m-17 1h1m15 0h1m-19 1h1m1 0h1m15 0h1m0 0h1m0 0h1m-23 1h1m19 0h1m-21 1h1m19 0h1m-1 1h1m0 0h1m0 0h1m-13 1h1m-3 1h1m0 0h1m8 0h1m-9 1h1m8 0h1m-24 19h1m3 0h1m0 0h1m-3 1h1m-4 1h1m0 0h1m3 0h1m-2 1h1m0 0h1m-1 1h1m-3 1h1m1 0h1m-15 1h1m-1 1h1m1 0h1m14 0h1m-17 1h1m0 0h1m12 0h1m-15 1h1m0 0h1m-3 1h1m-1 1h1m1 0h1m3 1h1m0 0h1m6 1h1m-9 1h1m1 0h1m3 0h1m1 0h1m-9 1h1m1 0h1m3 0h1m0 0h1m-7 1h1m0 0h1m4 0h1m-6 1h1m3 0h1m0 0h1m-6 1h1m1 0h1m-5 1h1m0 0h1m2 0h1m0 0h1m-2 1h1m0 0h1" stroke="#00b7ba" stroke-width="1" stroke-linecap="square"/>
<path d="M882 1307h1m12 0h1m17 1h1m-7 1h1m-41 1h1m4 0h1m5 0h1m34 0h1m-50 2h1m-1 1h1m0 0h1m-2 2h1m55 1h1m-50 1h1m45 0h1m0 0h1m-6 1h1m4 1h1m-46 1h1m26 0h1m3 0h1m0 0h1m-5 1h1m2 0h1m-22 3h1m-4 1h1m6 0h1m-15 6h1m-5 2h1m-5 1h1m-2 3h1m20 0h1m-21 1h1m-1 5h1m24 0h1m-30 1h1m0 2h1m0 3h1m-1 2h1m24 0h1m-26 2h1m-1 1h1m-5 3h1m27 0h1m-28 1h1m0 0h1m24 0h1m-29 1h1m-1 1h1m-1 1h1m4 1h1m12 0h1m5 0h1m1 0h1m-23 1h1m19 0h1m-7 1h1m-5 1h1m6 1h1m-20 1h1m8 0h1m0 0h1m-11 1h1m-3 1h1m12 2h1m-2 2h1m-4 1h1m11 0h1m-1 2h1m-1 1h1m-3 1h1m5 0h1" stroke="#2832f7" stroke-width="1" stroke-linecap="square"/>
<path d="M886 1308h1m2 0h1m2 1h1m-7 1h1m0 0h1m0 0h1m0 0h1m0 0h1m2 0h1m-15 1h1m23 0h1m-1 1h1m-25 1h1m1 0h1m-5 1h1m26 0h1m-29 1h1m0 0h1m0 0h1m25 0h1m0 0h1m-28 1h1m24 0h1m0 0h1m-26 1h1m0 0h1m1 0h1m1 0h1m2 0h1m-9 1h1m4 0h1m2 0h1m-9 1h1m3 0h1m-6 16h1m-3 1h1m2 0h1m1 0h1m-4 1h1m0 0h1m0 0h1m0 0h1m-7 1h1m-3 1h1m-1 1h1m0 0h1m-4 1h1m12 1h1m-14 1h1m0 0h1m10 0h1m-1 4h1m0 0h1m-2 1h1m0 0h1m-15 2h1m11 0h1m-15 1h1m0 0h1m1 0h1m-5 1h1m4 0h1m-3 1h1m0 3h1m-2 1h1m0 0h1m-2 2h1m-1 1h1m0 0h1m0 0h1" stroke="#0096f0" stroke-width="1" stroke-linecap="square"/>
<path d="M896 1308h1m0 0h1m-14 2h1m10 0h1m0 0h1m-21 1h1m0 0h1m28 0h1m-30 1h1m28 0h1m-31 1h1m29 0h1m-34 1h1m1 1h1m31 0h1m1 0h1m1 0h1m-38 1h1m35 0h1m-34 1h1m0 0h1m26 0h1m-29 1h1m-1 1h1m15 1h1m0 0h1m-19 12h1m1 0h1m-2 1h1m0 0h1m2 0h1m-6 1h1m1 0h1m2 0h1m1 1h1m-1 1h1m-9 1h1m7 0h1m0 1h1m-13 1h1m10 0h1m0 1h1m-18 2h1m18 5h1m-22 1h1m19 0h1m1 0h1m-24 1h1m1 0h1m19 0h1m-22 2h1m1 3h1m1 0h1m-2 1h1m-2 1h1m0 0h1m0 1h1m9 0h1m-12 1h1m12 0h1m-6 1h1m1 0h1m-12 1h1m1 0h1m4 0h1m0 0h1m-9 1h1m5 0h1" stroke="#0d4cf0" stroke-width="1" stroke-linecap="square"/>
<path d="M904 1309h1m-24 1h1m20 0h1m-30 1h1m35 0h1m-41 1h1m5 0h1m38 0h1m-46 1h1m0 0h1m43 0h1m-45 1h1m43 1h1m1 0h1m-45 1h1m39 0h1m0 0h1m3 0h1m-12 1h1m0 0h1m0 0h1m-1 2h1m-27 1h1m3 0h1m11 0h1m-10 1h1m-6 1h1m-11 10h1m0 1h1m6 0h1m-13 1h1m2 0h1m-5 1h1m2 0h1m-4 1h1m2 0h1m-4 1h1m15 1h1m0 2h1m-2 1h1m-1 1h1m0 3h1m1 0h1m-23 1h1m19 0h1m3 0h1m-26 7h1m18 0h1m-2 1h1m-20 3h1m17 0h1m-3 2h1m-15 1h1m14 0h1m-14 2h1m1 0h1m4 1h1m-7 1h1" stroke="#1a2bf2" stroke-width="1" stroke-linecap="square"/>
<path d="M916 1309h1m2 2h1m-61 2h1m0 1h1m-4 1h1m1 0h1m4 3h1m1 1h1m28 4h1m-19 3h1m4 0h1m-12 1h1m10 0h1m-6 1h1m-10 2h1m17 2h1m-26 1h1m-6 4h1m6 0h1m-6 1h1m32 1h1m9 0h1m-11 1h1m0 0h1m-33 2h1m31 6h1m-38 1h1m48 0h1m-64 1h1m46 5h1m2 0h1m6 1h1m-2 1h1m-55 3h1m48 0h1m-38 2h1m-4 4h1m11 1h1m28 1h1m-14 1h1m-3 1h1m1 0h1m-26 1h1m6 0h1m29 0h1m-26 1h1m-10 3h1m2 0h1m20 0h1m-7 1h1m-13 3h1m5 0h1m9 2h1m-22 1h1m1 5h1m9 1h1m-3 6h1" stroke="#3538fc" stroke-width="1" stroke-linecap="square"/>
<path d="M890 1311h1m-2 1h1m0 0h1m-2 1h1m0 0h1m-5 1h1m0 0h1m1 0h1m-5 1h1m0 0h1m0 0h1m-3 1h1m1 0h1m0 0h1m0 0h1m-14 25h1m0 0h1m0 0h1m-3 1h1m0 0h1m-2 1h1m-1 1h1m1 0h1m-3 1h1m0 0h1m-2 1h1m0 0h1" stroke="#66d72c" stroke-width="1" stroke-linecap="square"/>
<path d="M891 1314h1m0 0h1m0 0h1m2 0h1m-6 1h1m1 0h1m1 0h1m0 0h1m-6 1h1m1 0h1m0 0h1m1 0h1" stroke="#e8dc00" stroke-width="1" stroke-linecap="square"/>
<line x1="889.1" y1="1397.6" x2="891.1" y2="1397.6" stroke="#0eca88" stroke-width="1.5"/>
<line x1="860.1" y1="1397.6" x2="862.1" y2="1397.6" stroke="#b6e010" stroke-width="1.5"/>
<line x1="867.1" y1="1397.6" x2="869.1" y2="1397.6" stroke="#0b56f0" stroke-width="1.5"/>
<line x1="894.8" y1="1397.6" x2="896.8" y2="1397.6" stroke="#0d4df0" stroke-width="1.5"/>
<line x1="911.4" y1="1397.6" x2="913.4" y2="1397.6" stroke="#0099eb" stroke-width="1.5"/>
<line x1="869.7" y1="1397.6" x2="871.7" y2="1397.6" stroke="#393afd" stroke-width="1.5"/>
<line x1="897.6" y1="1397.6" x2="899.6" y2="1397.6" stroke="#1f2df4" stroke-width="1.5"/>
<line x1="875.8" y1="1397.6" x2="877.8" y2="1397.6" stroke="#25ce61" stroke-width="1.5"/>
<line x1="876.5" y1="1397.6" x2="878.5" y2="1397.6" stroke="#f76600" stroke-width="1.5"/>
<line x1="871.3" y1="1397.6" x2="873.3" y2="1397.6" stroke="#0c52f0" stroke-width="1.5"/>
<line x1="850.1" y1="1397.6" x2="852.1" y2="1397.6" stroke="#383afd" stroke-width="1.5"/>
<line x1="851.2" y1="1397.6" x2="853.2" y2="1397.6" stroke="#00beaf" stroke-width="1.5"/>
<line x1="851" y1="1397.6" x2="853" y2="1397.6" stroke="#00a6d5" stroke-width="1.5"/>
<line x1="853.5" y1="1397.6" x2="855.5" y2="1397.6" stroke="#a5de16" stroke-width="1.5"/>
<line x1="883.7" y1="1278.2" x2="883.7" y2="1398.6" stroke="#5a5a5a" stroke-width="1.4"/>
<line x1="800.3" y1="1331.4" x2="921.3" y2="1331.4" stroke="#5a5a5a" stroke-width="1.4"/>
<text x="804.8" y="1289.7" font-size="11" fill="#222">7.30</text>
<text x="916.8" y="1289.7" font-size="11" text-anchor="end" fill="#222">40.9</text>
<text x="804.8" y="1395.1" font-size="11" fill="#222">33.0</text>
<text x="916.8" y="1395.1" font-size="11" text-anchor="end" fill="#222">18.8</text>
<text class="k" x="806" y="1409.1">10<tspan dy="-3">0</tspan></text>
<text class="k" transform="translate(797.3 1395.9) rotate(-90)">10<tspan dy="-3">0</tspan></text>
<text class="k" x="822.4" y="1409.1">10<tspan dy="-3">1</tspan></text>
<text class="k" transform="translate(797.3 1379.7) rotate(-90)">10<tspan dy="-3">1</tspan></text>
<text class="k" x="838.8" y="1409.1">10<tspan dy="-3">2</tspan></text>
<text class="k" transform="translate(797.3 1363.4) rotate(-90)">10<tspan dy="-3">2</tspan></text>
<text class="k" x="855.2" y="1409.1">10<tspan dy="-3">3</tspan></text>
<text class="k" transform="translate(797.3 1347.2) rotate(-90)">10<tspan dy="-3">3</tspan></text>
<text class="k" x="871.6" y="1409.1">10<tspan dy="-3">4</tspan></text>
<text class="k" transform="translate(797.3 1330.9) rotate(-90)">10<tspan dy="-3">4</tspan></text>
<text class="k" x="888" y="1409.1">10<tspan dy="-3">5</tspan></text>
<text class="k" transform="translate(797.3 1314.7) rotate(-90)">10<tspan dy="-3">5</tspan></text>
<text class="k" x="904.4" y="1409.1">10<tspan dy="-3">6</tspan></text>
<text class="k" transform="translate(797.3 1298.4) rotate(-90)">10<tspan dy="-3">6</tspan></text>
<text class="k" x="920.8" y="1409.1">10<tspan dy="-3">7</tspan></text>
<text class="k" transform="translate(797.3 1282.2) rotate(-90)">10<tspan dy="-3">7</tspan></text>
<line x1="945.7" y1="1278.2" x2="945.7" y2="1398.6" stroke="#c8c8c8" stroke-width="1" stroke-dasharray="1.5 1.5"/>
<line x1="945.7" y1="1398.6" x2="1066.7" y2="1398.6" stroke="#c8c8c8" stroke-width="1" stroke-dasharray="1.5 1.5"/>
<line x1="1066.7" y1="1278.2" x2="1066.7" y2="1398.6" stroke="#999" stroke-width="1.2"/>
<ellipse cx="1021.3" cy="1345.6" rx="17.8" ry="12.6" fill="url(#gW)" transform="rotate(-70 1021.3 1345.6)"/>
<ellipse cx="1035.8" cy="1314.9" rx="27.8" ry="7.6" fill="url(#gW)" transform="rotate(1.6 1035.8 1314.9)"/>
<path d="M1023 1308h1m0 0h1m16 0h1m3 0h1m-6 1h1m3 0h1m0 0h1m-21 1h1m0 0h1m1 0h1m1 0h1m7 0h1m0 0h1m2 0h1m-21 1h1m-3 1h1m1 0h1m27 0h1m0 0h1m-30 1h1m30 1h1m0 0h1m0 0h1m-39 1h1m36 0h1m0 0h1m-6 1h1m1 0h1m3 0h1m0 0h1m-35 1h1m23 0h1m2 0h1m-28 1h1m23 0h1m2 0h1m-26 1h1m10 1h1m1 0h1m4 0h1m0 0h1m-4 1h1m2 0h1m-8 1h1m1 0h1m6 0h1m-30 10h1m0 0h1m0 0h1m0 0h1m6 0h1m-11 1h1m0 0h1m2 0h1m2 0h1m2 0h1m0 0h1m-11 1h1m1 0h1m3 0h1m0 0h1m0 0h1m-9 1h1m0 0h1m9 0h1m0 1h1m-12 1h1m-3 2h1m1 0h1m-2 1h1m-8 2h1m1 1h1m-2 1h1m-2 1h1m1 0h1m-2 1h1m0 0h1m-3 3h1m0 0h1m0 0h1m-1 1h1m15 0h1m0 0h1m-2 1h1m0 0h1m-4 2h1m-2 1h1m1 0h1m-2 2h1m-16 1h1m0 0h1m13 0h1m-16 1h1m15 0h1m-14 1h1m5 0h1m-8 1h1m5 0h1m1 0h1m-5 1h1m3 0h1" stroke="#0d4cf0" stroke-width="1" stroke-linecap="square"/>
<path d="M1027 1305h1m-1 1h1m0 1h1m18 2h1m-14 1h1m2 0h1m9 0h1m0 0h1m-32 1h1m1 0h1m37 0h1m-39 1h1m37 0h1m-41 1h1m36 0h1m-41 1h1m46 0h1m-1 2h1m-45 1h1m1 0h1m34 0h1m3 0h1m-44 1h1m5 0h1m32 0h1m-38 1h1m4 0h1m-6 1h1m-3 1h1m0 0h1m0 0h1m-4 1h1m33 0h1m-22 4h1m0 0h1m-2 1h1m0 0h1m-7 3h1m3 0h1m-9 1h1m3 0h1m7 0h1m0 0h1m1 6h1m-23 1h1m20 0h1m1 0h1m-24 1h1m-1 1h1m21 1h1m-26 1h1m-1 1h1m0 0h1m22 1h1m0 1h1m-26 1h1m23 4h1m0 1h1m0 0h1m-27 1h1m0 1h1m-5 1h1m2 0h1m-1 1h1m-1 2h1m2 2h1m16 0h1m-5 1h1m-17 1h1m15 0h1m-14 1h1m0 0h1m1 1h1m2 0h1m2 0h1m-10 1h1m4 0h1" stroke="#1a2bf2" stroke-width="1" stroke-linecap="square"/>
<path d="M1030 1311h1m3 0h1m2 0h1m6 0h1m1 0h1m-21 1h1m0 0h1m0 0h1m1 0h1m0 0h1m0 0h1m1 0h1m0 0h1m0 0h1m1 0h1m0 0h1m-14 1h1m5 0h1m2 0h1m0 0h1m8 0h1m-21 1h1m-2 2h1m4 1h1m1 0h1m2 0h1m1 0h1m0 0h1m7 0h1m-16 1h1m3 0h1m2 0h1m-9 1h1m2 0h1m0 0h1m0 0h1m0 0h1m1 0h1m6 0h1m0 0h1m-19 16h1m-2 1h1m1 0h1m-2 1h1m-5 1h1m0 0h1m0 0h1m1 0h1m-4 1h1m1 0h1m0 0h1m-4 1h1m1 0h1m-9 1h1m-2 1h1m1 0h1m-1 1h1m6 2h1m0 0h1m0 0h1m-3 1h1m-1 1h1m-11 1h1m10 0h1m-2 1h1m0 0h1m0 0h1m-6 1h1m0 1h1m-1 1h1m-2 1h1m0 0h1m-2 1h1m0 0h1" stroke="#00b7ba" stroke-width="1" stroke-linecap="square"/>
<path d="M1041 1311h1m1 1h1m-3 1h1m0 0h1m0 0h1m-17 1h1m0 0h1m15 0h1m-19 1h1m0 0h1m7 0h1m0 0h1m0 0h1m7 0h1m-20 1h1m0 0h1m8 0h1m7 0h1m1 0h1m-8 1h1m0 0h1m0 0h1m1 0h1m-6 1h1m2 0h1m0 0h1m0 0h1m-6 1h1m0 0h1m1 0h1m0 0h1m-22 22h1m1 0h1m0 0h1m2 0h1m-8 1h1m0 0h1m4 0h1m0 0h1m0 0h1m-9 1h1m0 0h1m1 0h1m4 0h1m-11 1h1m4 0h1m0 1h1m0 0h1m-8 1h1m0 0h1m5 0h1m-3 2h1m1 0h1m-2 1h1m0 0h1m-12 1h1m1 0h1m-3 1h1m0 0h1m0 0h1m-3 1h1m-1 1h1m0 0h1m0 0h1m-3 1h1m6 1h1m0 0h1" stroke="#19cc76" stroke-width="1" stroke-linecap="square"/>
<path d="M1024 1311h1m0 0h1m-2 1h1m23 0h1m-26 1h1m1 0h1m21 0h1m-28 1h1m26 0h1m0 0h1m0 0h1m-30 1h1m0 0h1m27 0h1m-3 1h1m1 0h1m-24 2h1m0 0h1m0 0h1m-3 1h1m1 0h1m-9 16h1m2 0h1m-1 1h1m7 2h1m-12 1h1m8 0h1m1 0h1m-11 1h1m8 0h1m0 0h1m-2 1h1m-17 1h1m14 0h1m-15 2h1m0 0h1m13 0h1m0 0h1m-16 1h1m14 0h1m-16 1h1m14 0h1m-1 1h1m-3 1h1m-1 1h1m-4 1h1m0 0h1m-17 3h1m1 0h1m-2 1h1m0 0h1m-1 1h1m0 1h1m8 0h1m1 0h1m-10 1h1m0 0h1m1 0h1m3 0h1m-7 1h1m1 0h1m0 0h1m3 0h1" stroke="#0096f0" stroke-width="1" stroke-linecap="square"/>
<path d="M1039 1306h1m3 0h1m11 3h1m-37 1h1m-4 2h1m43 0h1m-51 1h1m1 0h1m50 0h1m-53 3h1m0 4h1m0 0h1m6 0h1m31 1h1m-26 2h1m1 0h1m18 0h1m-11 1h1m3 1h1m-20 3h1m11 4h1m0 0h1m-3 2h1m0 2h1m-26 1h1m2 0h1m-6 3h1m-2 7h1m-1 1h1m-5 2h1m1 0h1m-3 1h1m-2 1h1m29 2h1m-31 1h1m2 1h1m25 0h1m-33 2h1m2 0h1m-1 1h1m32 0h1m-32 1h1m32 0h1m-34 2h1m3 0h1m15 0h1m7 1h1m-26 1h1m1 0h1m27 0h1m-33 1h1m9 0h1m0 0h1m7 3h1m-8 1h1m8 2h1" stroke="#2832f7" stroke-width="1" stroke-linecap="square"/>
<path d="M1023 1304h1m32 2h1m-45 3h1m51 1h1m-60 1h1m-4 1h1m3 3h1m55 3h1m-57 6h1m27 0h1m-31 4h1m11 0h1m0 0h1m-9 1h1m2 3h1m-10 7h1m36 0h1m-41 1h1m-3 1h1m40 0h1m-5 5h1m-35 1h1m35 3h1m-40 3h1m-3 6h1m41 1h1m-10 2h1m0 0h1m9 1h1m-42 3h1m24 1h1m28 0h1m-44 1h1m19 0h1m0 0h1m-22 1h1m3 0h1m19 1h1m-19 1h1m-7 1h1m10 0h1m3 2h1m-28 1h1m16 0h1m15 0h1m-25 2h1m4 0h1m-14 2h1m9 1h1m19 1h1m-12 3h1m-5 3h1m9 10h1" stroke="#3538fc" stroke-width="1" stroke-linecap="square"/>
<path d="M1030 1314h1m0 0h1m0 0h1m0 0h1m0 0h1m3 0h1m0 0h1m1 0h1m0 0h1m-14 1h1m0 0h1m1 0h1m5 0h1m3 0h1m0 0h1m-14 1h1m0 0h1m6 0h1m0 0h1m1 0h1m1 0h1m-24 28h1m0 0h1m-1 1h1m-2 1h1m0 0h1m0 0h1m-2 1h1m-2 2h1m0 0h1m0 0h1m-6 1h1m0 0h1m0 0h1m0 0h1m0 0h1m-3 1h1m0 0h1m0 0h1m-5 1h1m0 0h1m0 0h1m0 0h1m1 0h1m-4 1h1m-3 1h1m0 0h1m-2 1h1m1 0h1" stroke="#66d72c" stroke-width="1" stroke-linecap="square"/>
<path d="M1019 1347h1m-3 2h1m0 0h1m0 0h1" stroke="#e8dc00" stroke-width="1" stroke-linecap="square"/>
<line x1="1024.7" y1="1397.6" x2="1026.7" y2="1397.6" stroke="#2530f6" stroke-width="1.5"/>
<line x1="1013.6" y1="1397.6" x2="1015.6" y2="1397.6" stroke="#b7e010" stroke-width="1.5"/>
<line x1="1038.7" y1="1397.6" x2="1040.7" y2="1397.6" stroke="#2530f6" stroke-width="1.5"/>
<line x1="1052.4" y1="1397.6" x2="1054.4" y2="1397.6" stroke="#ebd000" stroke-width="1.5"/>
<line x1="991" y1="1397.6" x2="993" y2="1397.6" stroke="#16cb7a" stroke-width="1.5"/>
<line x1="1015.6" y1="1397.6" x2="1017.6" y2="1397.6" stroke="#3136fb" stroke-width="1.5"/>
<line x1="1011.2" y1="1397.6" x2="1013.2" y2="1397.6" stroke="#16cb7a" stroke-width="1.5"/>
<line x1="995.9" y1="1397.6" x2="997.9" y2="1397.6" stroke="#1137f0" stroke-width="1.5"/>
<line x1="1038" y1="1397.6" x2="1040" y2="1397.6" stroke="#1c2cf3" stroke-width="1.5"/>
<line x1="1051.5" y1="1397.6" x2="1053.5" y2="1397.6" stroke="#00beae" stroke-width="1.5"/>
<line x1="1033.9" y1="1397.6" x2="1035.9" y2="1397.6" stroke="#3639fd" stroke-width="1.5"/>
<line x1="993.1" y1="1397.6" x2="995.1" y2="1397.6" stroke="#06c995" stroke-width="1.5"/>
<line x1="1000.7" y1="1397.6" x2="1002.7" y2="1397.6" stroke="#00aec8" stroke-width="1.5"/>
<line x1="1053.1" y1="1397.6" x2="1055.1" y2="1397.6" stroke="#00c5a4" stroke-width="1.5"/>
<line x1="1029.1" y1="1278.2" x2="1029.1" y2="1398.6" stroke="#5a5a5a" stroke-width="1.4"/>
<line x1="945.7" y1="1331.4" x2="1066.7" y2="1331.4" stroke="#5a5a5a" stroke-width="1.4"/>
<text x="950.2" y="1289.7" font-size="11" fill="#222">7.02</text>
<text x="1062.2" y="1289.7" font-size="11" text-anchor="end" fill="#222">39.4</text>
<text x="950.2" y="1395.1" font-size="11" fill="#222">32.8</text>
<text x="1062.2" y="1395.1" font-size="11" text-anchor="end" fill="#222">20.8</text>
<text class="k" x="951.4" y="1409.1">10<tspan dy="-3">0</tspan></text>
<text class="k" transform="translate(942.7 1395.9) rotate(-90)">10<tspan dy="-3">0</tspan></text>
<text class="k" x="967.8" y="1409.1">10<tspan dy="-3">1</tspan></text>
<text class="k" transform="translate(942.7 1379.7) rotate(-90)">10<tspan dy="-3">1</tspan></text>
<text class="k" x="984.2" y="1409.1">10<tspan dy="-3">2</tspan></text>
<text class="k" transform="translate(942.7 1363.4) rotate(-90)">10<tspan dy="-3">2</tspan></text>
<text class="k" x="1000.6" y="1409.1">10<tspan dy="-3">3</tspan></text>
<text class="k" transform="translate(942.7 1347.2) rotate(-90)">10<tspan dy="-3">3</tspan></text>
<text class="k" x="1017" y="1409.1">10<tspan dy="-3">4</tspan></text>
<text class="k" transform="translate(942.7 1330.9) rotate(-90)">10<tspan dy="-3">4</tspan></text>
<text class="k" x="1033.4" y="1409.1">10<tspan dy="-3">5</tspan></text>
<text class="k" transform="translate(942.7 1314.7) rotate(-90)">10<tspan dy="-3">5</tspan></text>
<text class="k" x="1049.8" y="1409.1">10<tspan dy="-3">6</tspan></text>
<text class="k" transform="translate(942.7 1298.4) rotate(-90)">10<tspan dy="-3">6</tspan></text>
<text class="k" x="1066.2" y="1409.1">10<tspan dy="-3">7</tspan></text>
<text class="k" transform="translate(942.7 1282.2) rotate(-90)">10<tspan dy="-3">7</tspan></text>
<line x1="511.1" y1="1421.2" x2="511.1" y2="1541.6" stroke="#c8c8c8" stroke-width="1" stroke-dasharray="1.5 1.5"/>
<line x1="511.1" y1="1541.6" x2="632.1" y2="1541.6" stroke="#c8c8c8" stroke-width="1" stroke-dasharray="1.5 1.5"/>
<line x1="632.1" y1="1421.2" x2="632.1" y2="1541.6" stroke="#999" stroke-width="1.2"/>
<ellipse cx="583.7" cy="1491" rx="17.8" ry="12.6" fill="url(#gW)" transform="rotate(-70 583.7 1491)"/>
<path d="M595 1449h1m13 3h1m-12 4h1m10 0h1m-23 1h1m21 0h1m-8 1h1m-33 1h1m18 0h1m24 0h1m-32 1h1m5 0h1m3 0h1m-19 2h1m3 0h1m4 0h1m5 0h1m10 0h1m1 0h1m10 0h1m-28 1h1m27 1h1m-43 2h1m7 0h1m8 0h1m2 1h1m3 1h1m-12 2h1m-8 1h1m20 1h1m-11 2h1m4 0h1m-19 1h1m-8 2h1m-6 1h1m31 0h1m0 0h1m9 2h1m-5 3h1m-36 7h1m31 0h1m19 1h1m-24 1h1m-34 1h1m39 0h1m-45 3h1m41 0h1m-2 1h1m-35 1h1m-1 2h1m29 4h1m2 0h1m0 0h1m-35 2h1m0 0h1m23 3h1m-35 1h1m28 1h1m0 0h1m2 0h1m-21 1h1m9 0h1m13 0h1m-39 1h1m2 0h1m13 0h1m6 1h1m5 0h1m11 0h1m-29 1h1m1 0h1m0 1h1m5 1h1m8 1h1m-6 2h1m2 0h1m-7 1h1m-13 1h1m-3 1h1m9 0h1m-4 2h1m-9 2h1m9 0h1m2 0h1m3 1h1" stroke="#3538fc" stroke-width="1" stroke-linecap="square"/>
<path d="M595 1459h1m-2 2h1m1 1h1m1 1h1m-2 1h1m0 0h1m0 1h1m-17 8h1m0 0h1m-5 1h1m0 0h1m9 2h1m-16 1h1m-3 1h1m16 0h1m0 0h1m2 1h1m2 0h1m-3 1h1m-27 1h1m1 0h1m22 0h1m-24 1h1m22 0h1m2 0h1m-3 1h1m-25 2h1m24 1h1m-30 5h1m28 3h1m-30 1h1m29 0h1m-30 1h1m1 1h1m23 0h1m2 0h1m-3 2h1m-3 1h1m-2 2h1m0 0h1m-25 1h1m-1 1h1m19 0h1m-20 1h1m18 0h1m-17 1h1m13 0h1m-4 1h1m2 0h1m-14 1h1m2 1h1m-1 1h1m0 0h1m0 0h1m1 6h1m-4 3h1m2 0h1m-3 1h1m2 0h1" stroke="#2832f7" stroke-width="1" stroke-linecap="square"/>
<path d="M584 1479h1m0 1h1m0 0h1m-4 1h1m0 0h1m0 0h1m1 0h1m-8 1h1m-1 1h1m0 1h1m-6 1h1m1 0h1m-3 1h1m0 1h1m-1 1h1m13 0h1m1 0h1m-17 1h1m13 0h1m1 0h1m-16 1h1m12 0h1m1 0h1m-18 1h1m15 0h1m-15 1h1m12 0h1m0 0h1m-16 1h1m13 0h1m-15 1h1m13 0h1m0 0h1m-17 1h1m0 0h1m0 0h1m13 0h1m-2 1h1m1 0h1m-6 1h1m1 0h1m-3 1h1m-1 1h1m1 0h1m-11 1h1m4 0h1m0 0h1m-2 1h1m0 0h1m-7 1h1m5 0h1m0 0h1" stroke="#0096f0" stroke-width="1" stroke-linecap="square"/>
<path d="M589 1479h1m0 0h1m-11 2h1m7 0h1m0 0h1m0 0h1m-15 1h1m0 0h1m14 0h1m0 0h1m-16 1h1m-3 1h1m0 0h1m-4 2h1m-1 1h1m0 0h1m16 0h1m-20 1h1m1 0h1m-3 1h1m0 1h1m-2 1h1m1 1h1m-3 1h1m1 0h1m-3 1h1m0 0h1m-1 2h1m3 1h1m12 0h1m-16 1h1m0 0h1m14 0h1m-17 1h1m14 0h1m-4 1h1m0 0h1m-1 1h1m-11 2h1m0 0h1m0 0h1m1 0h1m1 0h1m-6 1h1m0 0h1m0 0h1m0 0h1m3 0h1m-6 1h1m0 0h1m3 0h1" stroke="#0d4cf0" stroke-width="1" stroke-linecap="square"/>
<path d="M584 1482h1m0 0h1m0 0h1m-5 1h1m0 0h1m0 0h1m0 0h1m1 0h1m-6 1h1m0 0h1m1 0h1m0 0h1m-8 4h1m0 0h1m0 0h1m-2 1h1m-1 1h1m-2 1h1m0 0h1m0 0h1m7 0h1m0 0h1m-12 1h1m1 0h1m6 0h1m1 0h1m-10 1h1m6 0h1m0 0h1m-10 1h1m0 0h1m-2 1h1m-2 1h1m0 0h1m0 0h1m0 1h1m0 0h1m2 0h1m-5 1h1m0 0h1m0 0h1m0 0h1m0 0h1m-5 1h1m0 0h1m1 0h1m0 0h1m0 0h1" stroke="#19cc76" stroke-width="1" stroke-linecap="square"/>
<path d="M582 1485h1m3 0h1m0 0h1m-4 1h1m1 0h1m0 0h1m-6 1h1m0 0h1m0 0h1m1 0h1m0 0h1m-6 1h1m0 0h1m0 0h1m1 0h1m0 0h1m-6 1h1m0 0h1m0 0h1m0 0h1m0 0h1m0 0h1m-5 1h1m0 0h1m0 0h1m1 1h1m-2 1h1m0 0h1m-2 1h1m0 0h1m-6 1h1m0 0h1m0 0h1m0 0h1m-2 1h1m1 0h1m0 0h1m-6 1h1m0 0h1m0 0h1m0 0h1m0 0h1m0 0h1" stroke="#66d72c" stroke-width="1" stroke-linecap="square"/>
<path d="M583 1477h1m0 0h1m2 0h1m-6 1h1m-8 1h1m15 0h1m-19 1h1m0 1h1m2 0h1m0 0h1m12 0h1m-19 2h1m1 0h1m20 2h1m-2 1h1m-2 1h1m-23 1h1m-2 1h1m24 1h1m-27 2h1m23 0h1m-23 1h1m21 1h1m-24 1h1m22 0h1m0 0h1m-22 3h1m0 0h1m-1 1h1m-1 1h1m-2 1h1m3 0h1m-3 2h1m0 0h1m-1 1h1m0 1h1m2 1h1m0 0h1m1 1h1m-1 1h1" stroke="#1a2bf2" stroke-width="1" stroke-linecap="square"/>
<path d="M588 1482h1m1 0h1m-3 1h1m0 0h1m0 0h1m-3 1h1m0 0h1m-10 1h1m8 0h1m0 0h1m-11 1h1m0 0h1m7 0h1m-9 1h1m7 0h1m0 0h1m-3 1h1m-1 1h1m0 0h1m-2 5h1m1 0h1m-3 1h1m0 1h1m0 0h1m-10 1h1m-3 1h1m0 0h1m0 0h1m0 2h1m1 0h1m-3 1h1m1 0h1m-1 1h1" stroke="#00b7ba" stroke-width="1" stroke-linecap="square"/>
<path d="M583 1491h1m0 0h1m-3 1h1m0 0h1m-2 1h1m0 0h1" stroke="#e8dc00" stroke-width="1" stroke-linecap="square"/>
<line x1="604.6" y1="1540.6" x2="606.6" y2="1540.6" stroke="#fb9900" stroke-width="1.5"/>
<line x1="568.7" y1="1540.6" x2="570.7" y2="1540.6" stroke="#2631f6" stroke-width="1.5"/>
<line x1="563.2" y1="1540.6" x2="565.2" y2="1540.6" stroke="#00c2a9" stroke-width="1.5"/>
<line x1="594.1" y1="1540.6" x2="596.1" y2="1540.6" stroke="#2ecf52" stroke-width="1.5"/>
<line x1="601.4" y1="1540.6" x2="603.4" y2="1540.6" stroke="#122ef0" stroke-width="1.5"/>
<line x1="575.8" y1="1540.6" x2="577.8" y2="1540.6" stroke="#f5ae00" stroke-width="1.5"/>
<line x1="596.5" y1="1540.6" x2="598.5" y2="1540.6" stroke="#393afd" stroke-width="1.5"/>
<line x1="576.3" y1="1540.6" x2="578.3" y2="1540.6" stroke="#1e2df3" stroke-width="1.5"/>
<line x1="584.2" y1="1540.6" x2="586.2" y2="1540.6" stroke="#1729f1" stroke-width="1.5"/>
<line x1="555.6" y1="1540.6" x2="557.6" y2="1540.6" stroke="#2631f6" stroke-width="1.5"/>
<line x1="589.7" y1="1540.6" x2="591.7" y2="1540.6" stroke="#00a6d5" stroke-width="1.5"/>
<line x1="586.3" y1="1540.6" x2="588.3" y2="1540.6" stroke="#00a4d8" stroke-width="1.5"/>
<line x1="598.3" y1="1540.6" x2="600.3" y2="1540.6" stroke="#73d828" stroke-width="1.5"/>
<line x1="626" y1="1540.6" x2="628" y2="1540.6" stroke="#202ef4" stroke-width="1.5"/>
<line x1="594.5" y1="1421.2" x2="594.5" y2="1541.6" stroke="#5a5a5a" stroke-width="1.4"/>
<line x1="511.1" y1="1474" x2="632.1" y2="1474" stroke="#5a5a5a" stroke-width="1.4"/>
<text x="515.6" y="1432.7" font-size="11" fill="#222">0.88</text>
<text x="627.6" y="1432.7" font-size="11" text-anchor="end" fill="#222">1.87</text>
<text x="515.6" y="1538.1" font-size="11" fill="#222">89.1</text>
<text x="627.6" y="1538.1" font-size="11" text-anchor="end" fill="#222">8.10</text>
<text class="k" x="516.8" y="1552.1">10<tspan dy="-3">0</tspan></text>
<text class="k" transform="translate(508.1 1538.9) rotate(-90)">10<tspan dy="-3">0</tspan></text>
<text class="k" x="533.2" y="1552.1">10<tspan dy="-3">1</tspan></text>
<text class="k" transform="translate(508.1 1522.7) rotate(-90)">10<tspan dy="-3">1</tspan></text>
<text class="k" x="549.6" y="1552.1">10<tspan dy="-3">2</tspan></text>
<text class="k" transform="translate(508.1 1506.4) rotate(-90)">10<tspan dy="-3">2</tspan></text>
<text class="k" x="566" y="1552.1">10<tspan dy="-3">3</tspan></text>
<text class="k" transform="translate(508.1 1490.2) rotate(-90)">10<tspan dy="-3">3</tspan></text>
<text class="k" x="582.4" y="1552.1">10<tspan dy="-3">4</tspan></text>
<text class="k" transform="translate(508.1 1473.9) rotate(-90)">10<tspan dy="-3">4</tspan></text>
<text class="k" x="598.8" y="1552.1">10<tspan dy="-3">5</tspan></text>
<text class="k" transform="translate(508.1 1457.7) rotate(-90)">10<tspan dy="-3">5</tspan></text>
<text class="k" x="615.2" y="1552.1">10<tspan dy="-3">6</tspan></text>
<text class="k" transform="translate(508.1 1441.4) rotate(-90)">10<tspan dy="-3">6</tspan></text>
<text class="k" x="631.6" y="1552.1">10<tspan dy="-3">7</tspan></text>
<text class="k" transform="translate(508.1 1425.2) rotate(-90)">10<tspan dy="-3">7</tspan></text>
<line x1="655.5" y1="1421.2" x2="655.5" y2="1541.6" stroke="#c8c8c8" stroke-width="1" stroke-dasharray="1.5 1.5"/>
<line x1="655.5" y1="1541.6" x2="776.5" y2="1541.6" stroke="#c8c8c8" stroke-width="1" stroke-dasharray="1.5 1.5"/>
<line x1="776.5" y1="1421.2" x2="776.5" y2="1541.6" stroke="#999" stroke-width="1.2"/>
<ellipse cx="728.1" cy="1493.4" rx="17.8" ry="15.2" fill="url(#gW)" transform="rotate(-60 728.1 1493.4)"/>
<ellipse cx="749.9" cy="1457.3" rx="19.1" ry="7.6" fill="url(#gW)" transform="rotate(-0 749.9 1457.3)"/>
<path d="M750 1452h1m0 0h1m-2 2h1m-9 1h1m0 0h1m-3 1h1m1 0h1m13 0h1m0 0h1m-16 1h1m1 0h1m0 0h1m-9 1h1m-1 1h1m0 0h1m0 0h1m-2 1h1m0 0h1m1 0h1m0 0h1m4 1h1m0 0h1m0 0h1m3 0h1m-8 1h1m0 0h1m1 0h1m2 0h1m-2 1h1m0 0h1m-28 16h1m1 0h1m3 0h1m-1 1h1m0 0h1m-8 1h1m0 0h1m0 0h1m4 0h1m-7 1h1m0 1h1m3 0h1m-7 1h1m0 0h1m4 0h1m0 0h1m0 0h1m-15 2h1m0 1h1m13 0h1m0 0h1m0 0h1m2 1h1m-3 1h1m-21 1h1m0 0h1m-3 1h1m20 0h1m0 0h1m-2 1h1m0 0h1m-23 1h1m21 0h1m0 0h1m-24 1h1m1 1h1m18 2h1m0 0h1m0 0h1m-24 2h1m21 0h1m-22 2h1m0 1h1m-2 1h1m0 0h1m12 1h1m0 0h1m-16 1h1m14 0h1m0 0h1m-13 1h1m6 0h1m0 0h1m-12 1h1m1 1h1m0 0h1m7 0h1" stroke="#0d4cf0" stroke-width="1" stroke-linecap="square"/>
<path d="M747 1455h1m0 0h1m0 0h1m-3 1h1m0 0h1m4 0h1m1 0h1m-7 1h1m3 0h1m-9 1h1m1 0h1m8 0h1m0 0h1m0 0h1m-15 1h1m0 0h1m0 0h1m0 0h1m1 0h1m6 0h1m0 0h1m0 0h1m-14 1h1m2 0h1m7 0h1m1 0h1m-30 22h1m0 0h1m-2 2h1m0 0h1m-7 1h1m9 1h1m-12 1h1m1 0h1m8 0h1m-3 1h1m0 0h1m2 0h1m-5 1h1m2 0h1m1 0h1m-3 1h1m0 0h1m0 1h1m-3 2h1m1 0h1m-3 1h1m0 0h1m-2 2h1m1 0h1m-18 1h1m0 0h1m0 0h1m12 0h1m0 0h1m0 0h1m-16 1h1m12 0h1m0 0h1m0 0h1m-18 1h1m-1 1h1m16 0h1m-17 1h1m12 0h1m0 0h1m1 0h1m-3 1h1m-16 1h1m1 0h1m6 0h1m-10 1h1m0 0h1m-1 1h1m0 0h1m8 0h1m-8 1h1m2 0h1m0 0h1m-3 1h1m1 0h1m-2 1h1" stroke="#0096f0" stroke-width="1" stroke-linecap="square"/>
<path d="M749 1447h1m-15 2h1m9 1h1m21 0h1m-3 1h1m-33 3h1m36 0h1m-3 1h1m5 0h1m-6 2h1m-41 1h1m-21 3h1m17 1h1m40 1h1m-27 2h1m15 0h1m10 1h1m-42 5h1m1 0h1m-10 1h1m-2 1h1m21 1h1m1 0h1m-2 2h1m-6 1h1m8 0h1m-29 1h1m0 0h1m-7 2h1m0 0h1m-24 3h1m51 0h1m-38 2h1m44 1h1m-45 1h1m0 0h1m0 0h1m-6 2h1m48 0h1m-7 2h1m-40 2h1m-1 3h1m0 2h1m41 0h1m-49 1h1m0 1h1m35 7h1m18 1h1m-53 1h1m27 0h1m7 0h1m-47 2h1m47 0h1m-37 1h1m25 0h1m11 0h1m-37 1h1m-1 2h1m3 0h1m32 0h1m-19 1h1m2 0h1m-12 1h1m26 0h1m-51 2h1m10 0h1m23 0h1m-20 1h1m-8 1h1m5 0h1m31 1h1m-28 1h1m-7 1h1m8 0h1m11 1h1m-21 1h1m17 1h1m-4 1h1m-4 1h1m27 0h1m-39 1h1m-7 2h1" stroke="#3538fc" stroke-width="1" stroke-linecap="square"/>
<path d="M751 1450h1m-2 1h1m-13 1h1m17 0h1m4 0h1m-6 1h1m3 0h1m-18 1h1m18 0h1m4 0h1m-5 1h1m-30 1h1m27 0h1m2 1h1m-32 1h1m27 0h1m3 0h1m-35 1h1m31 0h1m-33 2h1m3 0h1m25 2h1m0 0h1m-32 12h1m-9 1h1m3 2h1m4 0h1m1 0h1m-17 4h1m20 0h1m0 1h1m-27 1h1m3 0h1m-4 1h1m29 0h1m-2 1h1m-32 1h1m1 0h1m27 2h1m1 1h1m-32 1h1m28 0h1m-30 1h1m-4 1h1m33 0h1m-32 1h1m0 0h1m29 0h1m-35 2h1m33 1h1m-34 1h1m32 2h1m-36 1h1m34 0h1m-35 1h1m29 0h1m-4 1h1m5 1h1m-3 1h1m1 0h1m-35 1h1m4 0h1m-4 1h1m1 0h1m-2 2h1m17 0h1m0 0h1m-14 1h1m-2 1h1m4 2h1m6 0h1m-15 1h1m7 0h1m6 0h1m-13 3h1m0 0h1" stroke="#2832f7" stroke-width="1" stroke-linecap="square"/>
<path d="M746 1452h1m7 0h1m-11 2h1m-9 1h1m0 1h1m2 0h1m20 0h1m-27 2h1m23 0h1m-25 1h1m1 0h1m21 0h1m1 0h1m-19 2h1m14 0h1m-18 1h1m3 0h1m0 0h1m10 0h1m-27 14h1m-3 2h1m1 0h1m-9 1h1m12 0h1m-13 1h1m11 0h1m0 0h1m-15 1h1m-4 2h1m2 1h1m11 0h1m1 0h1m-19 1h1m18 1h1m0 0h1m-21 1h1m18 0h1m3 0h1m0 0h1m-1 1h1m-3 1h1m0 1h1m-2 3h1m1 1h1m-2 1h1m-1 1h1m-29 2h1m1 0h1m-1 2h1m-3 1h1m24 0h1m-26 2h1m0 0h1m0 0h1m18 0h1m-20 1h1m20 0h1m-3 1h1m0 0h1m0 0h1m-5 2h1m-11 2h1m0 0h1m3 0h1m1 0h1m-7 1h1m3 1h1" stroke="#1a2bf2" stroke-width="1" stroke-linecap="square"/>
<path d="M750 1455h1m0 0h1m-2 1h1m0 0h1m-1 1h1m0 0h1m-3 1h1m0 0h1m1 0h1m0 0h1m-3 1h1m0 0h1m0 0h1m-4 1h1m1 0h1m0 0h1m-28 25h1m3 0h1m-6 1h1m1 0h1m-2 1h1m1 0h1m0 0h1m-10 1h1m-2 1h1m0 0h1m0 0h1m-3 1h1m1 0h1m9 1h1m0 0h1m0 0h1m-15 1h1m1 0h1m9 0h1m-13 1h1m1 0h1m-3 1h1m1 0h1m11 0h1m-15 1h1m0 0h1m10 0h1m0 0h1m-13 1h1m0 0h1m9 0h1m0 0h1m-2 1h1m0 1h1m0 0h1m-5 2h1m-1 1h1m-1 1h1m-6 1h1m0 0h1m0 0h1m0 0h1m-6 1h1m4 0h1m-6 1h1m1 0h1m1 0h1" stroke="#00b7ba" stroke-width="1" stroke-linecap="square"/>
<path d="M727 1488h1m0 0h1m-3 1h1m1 0h1m-3 1h1m1 0h1m-2 1h1m1 0h1m0 0h1m-5 1h1m4 0h1m-6 1h1m0 0h1m0 0h1m0 0h1m0 0h1m0 0h1m-9 1h1m0 0h1m2 0h1m0 0h1m-6 1h1m1 0h1m0 0h1m1 0h1m-5 1h1m0 0h1m1 0h1m0 0h1m-3 1h1m0 0h1m0 0h1m-2 1h1m0 0h1m-2 1h1m0 0h1" stroke="#66d72c" stroke-width="1" stroke-linecap="square"/>
<path d="M725 1488h1m4 0h1m-8 1h1m1 0h1m3 0h1m0 0h1m0 0h1m-7 1h1m3 0h1m0 0h1m-2 4h1m0 0h1m-1 1h1m-8 2h1m1 0h1m-2 1h1m4 0h1m0 0h1m0 0h1m-7 1h1m4 0h1m-7 1h1m0 0h1m0 0h1m0 0h1m0 0h1m-5 1h1m0 0h1m0 0h1m0 0h1m-4 1h1m0 0h1m1 0h1m0 0h1" stroke="#19cc76" stroke-width="1" stroke-linecap="square"/>
<path d="M723 1491h1m0 1h1m0 0h1m-3 1h1m0 0h1m0 0h1" stroke="#e8dc00" stroke-width="1" stroke-linecap="square"/>
<line x1="747.6" y1="1540.6" x2="749.6" y2="1540.6" stroke="#00b7b9" stroke-width="1.5"/>
<line x1="753.3" y1="1540.6" x2="755.3" y2="1540.6" stroke="#0576f0" stroke-width="1.5"/>
<line x1="754.6" y1="1540.6" x2="756.6" y2="1540.6" stroke="#2731f7" stroke-width="1.5"/>
<line x1="760.3" y1="1540.6" x2="762.3" y2="1540.6" stroke="#f6aa00" stroke-width="1.5"/>
<line x1="743.9" y1="1540.6" x2="745.9" y2="1540.6" stroke="#00b8b8" stroke-width="1.5"/>
<line x1="709.3" y1="1540.6" x2="711.3" y2="1540.6" stroke="#3fd23a" stroke-width="1.5"/>
<line x1="761.4" y1="1540.6" x2="763.4" y2="1540.6" stroke="#ec3300" stroke-width="1.5"/>
<line x1="728.2" y1="1540.6" x2="730.2" y2="1540.6" stroke="#1b2bf2" stroke-width="1.5"/>
<line x1="756.3" y1="1540.6" x2="758.3" y2="1540.6" stroke="#00a9d0" stroke-width="1.5"/>
<line x1="729.6" y1="1540.6" x2="731.6" y2="1540.6" stroke="#00c4a6" stroke-width="1.5"/>
<line x1="704.6" y1="1540.6" x2="706.6" y2="1540.6" stroke="#a4de17" stroke-width="1.5"/>
<line x1="759.9" y1="1540.6" x2="761.9" y2="1540.6" stroke="#0578f0" stroke-width="1.5"/>
<line x1="737.2" y1="1540.6" x2="739.2" y2="1540.6" stroke="#1fcd6c" stroke-width="1.5"/>
<line x1="754.6" y1="1540.6" x2="756.6" y2="1540.6" stroke="#f4b200" stroke-width="1.5"/>
<line x1="738.9" y1="1421.2" x2="738.9" y2="1541.6" stroke="#5a5a5a" stroke-width="1.4"/>
<line x1="655.5" y1="1474" x2="776.5" y2="1474" stroke="#5a5a5a" stroke-width="1.4"/>
<text x="660" y="1432.7" font-size="11" fill="#222">4.01</text>
<text x="772" y="1432.7" font-size="11" text-anchor="end" fill="#222">16.3</text>
<text x="660" y="1538.1" font-size="11" fill="#222">64.2</text>
<text x="772" y="1538.1" font-size="11" text-anchor="end" fill="#222">15.5</text>
<text class="k" x="661.2" y="1552.1">10<tspan dy="-3">0</tspan></text>
<text class="k" transform="translate(652.5 1538.9) rotate(-90)">10<tspan dy="-3">0</tspan></text>
<text class="k" x="677.6" y="1552.1">10<tspan dy="-3">1</tspan></text>
<text class="k" transform="translate(652.5 1522.7) rotate(-90)">10<tspan dy="-3">1</tspan></text>
<text class="k" x="694" y="1552.1">10<tspan dy="-3">2</tspan></text>
<text class="k" transform="translate(652.5 1506.4) rotate(-90)">10<tspan dy="-3">2</tspan></text>
<text class="k" x="710.4" y="1552.1">10<tspan dy="-3">3</tspan></text>
<text class="k" transform="translate(652.5 1490.2) rotate(-90)">10<tspan dy="-3">3</tspan></text>
<text class="k" x="726.8" y="1552.1">10<tspan dy="-3">4</tspan></text>
<text class="k" transform="translate(652.5 1473.9) rotate(-90)">10<tspan dy="-3">4</tspan></text>
<text class="k" x="743.2" y="1552.1">10<tspan dy="-3">5</tspan></text>
<text class="k" transform="translate(652.5 1457.7) rotate(-90)">10<tspan dy="-3">5</tspan></text>
<text class="k" x="759.6" y="1552.1">10<tspan dy="-3">6</tspan></text>
<text class="k" transform="translate(652.5 1441.4) rotate(-90)">10<tspan dy="-3">6</tspan></text>
<text class="k" x="776" y="1552.1">10<tspan dy="-3">7</tspan></text>
<text class="k" transform="translate(652.5 1425.2) rotate(-90)">10<tspan dy="-3">7</tspan></text>
<line x1="800.3" y1="1421.2" x2="800.3" y2="1541.6" stroke="#c8c8c8" stroke-width="1" stroke-dasharray="1.5 1.5"/>
<line x1="800.3" y1="1541.6" x2="921.3" y2="1541.6" stroke="#c8c8c8" stroke-width="1" stroke-dasharray="1.5 1.5"/>
<line x1="921.3" y1="1421.2" x2="921.3" y2="1541.6" stroke="#999" stroke-width="1.2"/>
<ellipse cx="874.1" cy="1491" rx="17.8" ry="15.2" fill="url(#gW)" transform="rotate(-60 874.1 1491)"/>
<ellipse cx="894.7" cy="1457.3" rx="22.2" ry="7.6" fill="url(#gW)" transform="rotate(-0 894.7 1457.3)"/>
<path d="M898 1452h1m1 0h1m2 0h1m-6 1h1m2 0h1m2 0h1m0 0h1m-9 1h1m0 0h1m0 0h1m1 0h1m0 0h1m1 0h1m-1 1h1m-2 1h1m0 0h1m-1 1h1m-20 1h1m0 0h1m8 0h1m4 0h1m1 0h1m-18 1h1m2 0h1m7 0h1m3 0h1m-15 1h1m9 0h1m5 0h1m-36 22h1m4 0h1m-4 1h1m1 0h1m-4 1h1m0 0h1m0 0h1m1 0h1m-6 1h1m0 0h1m7 0h1m1 0h1m2 0h1m-15 1h1m1 0h1m7 0h1m3 0h1m-15 1h1m8 0h1m2 0h1m0 0h1m-1 3h1m0 0h1m-18 1h1m1 0h1m12 0h1m0 0h1m-17 1h1m14 0h1m-16 1h1m0 0h1m13 0h1m0 0h1m-17 1h1m0 2h1m0 0h1m-1 1h1m4 0h1m0 0h1m0 0h1m5 0h1m0 0h1m0 0h1m-18 1h1m0 0h1m0 0h1m12 0h1m-15 1h1m0 0h1m5 0h1m2 0h1m3 0h1m1 0h1m-8 1h1m0 0h1m3 0h1m-7 1h1m6 1h1m0 0h1" stroke="#00b7ba" stroke-width="1" stroke-linecap="square"/>
<path d="M878 1455h1m0 0h1m1 0h1m24 0h1m0 0h1m-31 1h1m7 0h1m1 0h1m18 0h1m-30 1h1m28 0h1m1 0h1m-3 1h1m2 0h1m0 1h1m-2 1h1m1 0h1m-24 1h1m1 0h1m2 0h1m0 0h1m2 0h1m1 0h1m-10 1h1m-9 1h1m9 0h1m0 0h1m2 0h1m-25 16h1m6 0h1m-8 1h1m1 0h1m4 0h1m-8 1h1m0 0h1m-9 1h1m13 0h1m0 0h1m1 0h1m-17 1h1m14 0h1m0 0h1m0 0h1m-2 1h1m-21 1h1m0 0h1m20 0h1m-22 1h1m19 1h1m2 1h1m-29 1h1m0 0h1m25 0h1m0 1h1m-27 1h1m21 0h1m-25 1h1m23 0h1m-25 1h1m23 0h1m-20 4h1m-3 2h1m1 0h1m19 1h1m-19 2h1m15 1h1m-15 1h1m1 0h1m-1 1h1m-3 1h1m0 0h1m2 0h1m0 1h1m-2 2h1m-2 1h1m0 1h1m0 0h1" stroke="#0d4cf0" stroke-width="1" stroke-linecap="square"/>
<path d="M892 1452h1m-2 1h1m1 0h1m2 0h1m-1 1h1m-13 1h1m3 0h1m2 0h1m-10 1h1m1 0h1m7 0h1m-10 1h1m4 0h1m0 0h1m0 0h1m2 0h1m-14 1h1m1 0h1m10 0h1m-13 1h1m11 0h1m9 0h1m1 0h1m-27 1h1m0 0h1m2 0h1m0 0h1m8 0h1m-9 1h1m1 0h1m-3 1h1m0 0h1m0 0h1m-2 1h1m0 0h1m-14 20h1m0 0h1m1 0h1m-4 1h1m3 0h1m-15 2h1m0 0h1m0 0h1m-5 2h1m0 0h1m-3 1h1m0 0h1m19 0h1m-22 3h1m0 0h1m0 0h1m-2 1h1m-2 1h1m20 0h1m-21 1h1m16 0h1m1 0h1m-19 1h1m19 0h1m-13 4h1m-4 1h1m-1 1h1m0 0h1m6 1h1m-5 1h1m0 0h1m1 0h1m1 0h1m0 0h1m-7 1h1m2 1h1m-3 1h1m0 0h1m0 1h1" stroke="#0096f0" stroke-width="1" stroke-linecap="square"/>
<path d="M888 1450h1m1 0h1m0 0h1m0 0h1m13 0h1m5 2h1m-39 1h1m0 0h1m0 1h1m40 2h1m-2 1h1m-39 5h1m25 0h1m0 0h1m2 2h1m0 0h1m-15 1h1m4 0h1m-24 8h1m3 1h1m-10 2h1m12 0h1m-18 1h1m13 0h1m-14 1h1m14 0h1m-24 1h1m24 0h1m5 9h1m-36 1h1m-2 1h1m32 3h1m-36 1h1m2 0h1m31 1h1m1 0h1m-38 1h1m33 0h1m0 2h1m-32 1h1m29 0h1m-1 2h1m-29 1h1m0 1h1m27 0h1m-34 1h1m28 0h1m1 1h1m-30 1h1m1 2h1m21 0h1m-30 1h1m7 0h1m0 0h1m13 0h1m-25 1h1m1 0h1m26 0h1m-19 1h1m17 0h1m-15 1h1m-6 1h1m6 0h1m13 0h1m-20 1h1m9 0h1m2 1h1m0 0h1m2 0h1m-7 1h1m1 0h1m1 0h1m-7 3h1" stroke="#2832f7" stroke-width="1" stroke-linecap="square"/>
<path d="M897 1449h1m2 1h1m-5 1h1m3 0h1m3 0h1m-20 1h1m-2 1h1m-6 1h1m1 0h1m2 0h1m0 0h1m26 1h1m0 0h1m-5 1h1m4 0h1m-39 3h1m0 0h1m0 0h1m35 0h1m-39 1h1m0 0h1m32 1h1m0 0h1m2 0h1m-13 2h1m6 0h1m0 0h1m-37 13h1m1 0h1m0 0h1m1 1h1m-6 1h1m1 0h1m3 0h1m0 0h1m-16 3h1m2 0h1m12 0h1m-22 2h1m-1 1h1m23 0h1m4 1h1m-32 1h1m28 0h1m0 0h1m-31 1h1m25 0h1m1 0h1m1 2h1m-5 3h1m1 0h1m-33 1h1m29 0h1m-27 1h1m26 3h1m0 0h1m-3 1h1m-1 2h1m-1 2h1m-21 1h1m17 0h1m-20 2h1m0 0h1m0 1h1m9 0h1m-10 3h1m7 1h1" stroke="#1a2bf2" stroke-width="1" stroke-linecap="square"/>
<path d="M906 1447h1m-8 1h1m-34 7h1m51 1h1m-51 4h1m3 4h1m42 0h1m-45 1h1m8 0h1m-13 3h1m22 1h1m-14 1h1m-29 1h1m30 1h1m9 2h1m-32 1h1m2 0h1m37 1h1m-14 2h1m-46 1h1m53 3h1m-51 3h1m0 10h1m-6 4h1m7 1h1m1 0h1m-14 1h1m1 2h1m11 4h1m36 0h1m-48 1h1m48 3h1m4 0h1m-42 1h1m29 1h1m14 2h1m-65 2h1m7 0h1m13 0h1m-11 2h1m4 1h1m9 0h1m9 2h1m-16 1h1m8 0h1m-16 2h1m-7 1h1m5 2h1m5 9h1m7 2h1" stroke="#3538fc" stroke-width="1" stroke-linecap="square"/>
<path d="M898 1455h1m1 0h1m1 0h1m-4 1h1m0 0h1m0 0h1m0 0h1m-6 1h1m0 0h1m0 0h1m1 0h1m0 0h1m-33 31h1m1 0h1m0 0h1m1 0h1m0 0h1m1 0h1m-5 1h1m1 0h1m1 0h1m-9 1h1m0 0h1m1 0h1m0 0h1m2 0h1m0 0h1m-9 1h1m0 0h1m0 0h1m-3 2h1m0 0h1m-4 1h1m1 0h1m1 0h1m0 0h1m1 0h1m-9 1h1m3 0h1m0 0h1m1 0h1m0 0h1m-9 1h1m0 0h1m1 0h1m2 0h1" stroke="#66d72c" stroke-width="1" stroke-linecap="square"/>
<path d="M895 1455h1m0 0h1m-2 1h1m1 3h1m0 0h1m-2 1h1m0 0h1m0 0h1m-30 25h1m0 0h1m2 0h1m-4 1h1m0 0h1m0 0h1m0 0h1m-5 1h1m0 0h1m3 0h1m-7 1h1m-2 1h1m0 0h1m-3 1h1m0 0h1m9 1h1m-11 1h1m-1 1h1m8 0h1m-1 2h1m0 0h1m-3 1h1m-10 1h1m0 0h1m0 0h1m6 0h1m0 0h1m0 0h1m-12 1h1m1 0h1m7 0h1m0 0h1m-3 2h1m0 0h1m-2 1h1m0 1h1m0 0h1" stroke="#19cc76" stroke-width="1" stroke-linecap="square"/>
<path d="M874 1491h1m0 0h1m-3 1h1m1 0h1m-3 1h1m1 0h1" stroke="#e8dc00" stroke-width="1" stroke-linecap="square"/>
<line x1="850.5" y1="1540.6" x2="852.5" y2="1540.6" stroke="#2b33f8" stroke-width="1.5"/>
<line x1="860.3" y1="1540.6" x2="862.3" y2="1540.6" stroke="#5dd530" stroke-width="1.5"/>
<line x1="858" y1="1540.6" x2="860" y2="1540.6" stroke="#1729f1" stroke-width="1.5"/>
<line x1="904" y1="1540.6" x2="906" y2="1540.6" stroke="#2a33f8" stroke-width="1.5"/>
<line x1="883.3" y1="1540.6" x2="885.3" y2="1540.6" stroke="#bce10e" stroke-width="1.5"/>
<line x1="864.8" y1="1540.6" x2="866.8" y2="1540.6" stroke="#3136fa" stroke-width="1.5"/>
<line x1="848" y1="1540.6" x2="850" y2="1540.6" stroke="#b4e011" stroke-width="1.5"/>
<line x1="872.6" y1="1540.6" x2="874.6" y2="1540.6" stroke="#2e35f9" stroke-width="1.5"/>
<line x1="845.2" y1="1540.6" x2="847.2" y2="1540.6" stroke="#f0bf00" stroke-width="1.5"/>
<line x1="898.7" y1="1540.6" x2="900.7" y2="1540.6" stroke="#ea2700" stroke-width="1.5"/>
<line x1="887.3" y1="1540.6" x2="889.3" y2="1540.6" stroke="#9edd19" stroke-width="1.5"/>
<line x1="886.1" y1="1540.6" x2="888.1" y2="1540.6" stroke="#0963f0" stroke-width="1.5"/>
<line x1="848.9" y1="1540.6" x2="850.9" y2="1540.6" stroke="#3237fb" stroke-width="1.5"/>
<line x1="848.1" y1="1540.6" x2="850.1" y2="1540.6" stroke="#1629f0" stroke-width="1.5"/>
<line x1="883.7" y1="1421.2" x2="883.7" y2="1541.6" stroke="#5a5a5a" stroke-width="1.4"/>
<line x1="800.3" y1="1474" x2="921.3" y2="1474" stroke="#5a5a5a" stroke-width="1.4"/>
<text x="804.8" y="1432.7" font-size="11" fill="#222">9.38</text>
<text x="916.8" y="1432.7" font-size="11" text-anchor="end" fill="#222">29.2</text>
<text x="804.8" y="1538.1" font-size="11" fill="#222">45.9</text>
<text x="916.8" y="1538.1" font-size="11" text-anchor="end" fill="#222">15.5</text>
<text class="k" x="806" y="1552.1">10<tspan dy="-3">0</tspan></text>
<text class="k" transform="translate(797.3 1538.9) rotate(-90)">10<tspan dy="-3">0</tspan></text>
<text class="k" x="822.4" y="1552.1">10<tspan dy="-3">1</tspan></text>
<text class="k" transform="translate(797.3 1522.7) rotate(-90)">10<tspan dy="-3">1</tspan></text>
<text class="k" x="838.8" y="1552.1">10<tspan dy="-3">2</tspan></text>
<text class="k" transform="translate(797.3 1506.4) rotate(-90)">10<tspan dy="-3">2</tspan></text>
<text class="k" x="855.2" y="1552.1">10<tspan dy="-3">3</tspan></text>
<text class="k" transform="translate(797.3 1490.2) rotate(-90)">10<tspan dy="-3">3</tspan></text>
<text class="k" x="871.6" y="1552.1">10<tspan dy="-3">4</tspan></text>
<text class="k" transform="translate(797.3 1473.9) rotate(-90)">10<tspan dy="-3">4</tspan></text>
<text class="k" x="888" y="1552.1">10<tspan dy="-3">5</tspan></text>
<text class="k" transform="translate(797.3 1457.7) rotate(-90)">10<tspan dy="-3">5</tspan></text>
<text class="k" x="904.4" y="1552.1">10<tspan dy="-3">6</tspan></text>
<text class="k" transform="translate(797.3 1441.4) rotate(-90)">10<tspan dy="-3">6</tspan></text>
<text class="k" x="920.8" y="1552.1">10<tspan dy="-3">7</tspan></text>
<text class="k" transform="translate(797.3 1425.2) rotate(-90)">10<tspan dy="-3">7</tspan></text>
<line x1="945.7" y1="1421.2" x2="945.7" y2="1541.6" stroke="#c8c8c8" stroke-width="1" stroke-dasharray="1.5 1.5"/>
<line x1="945.7" y1="1541.6" x2="1066.7" y2="1541.6" stroke="#c8c8c8" stroke-width="1" stroke-dasharray="1.5 1.5"/>
<line x1="1066.7" y1="1421.2" x2="1066.7" y2="1541.6" stroke="#999" stroke-width="1.2"/>
<ellipse cx="1019.5" cy="1491" rx="17.8" ry="15.2" fill="url(#gW)" transform="rotate(-60 1019.5 1491)"/>
<ellipse cx="1038.9" cy="1457.3" rx="17.5" ry="7.1" fill="url(#gW)" transform="rotate(-0 1038.9 1457.3)"/>
<path d="M1027 1453h1m0 0h1m-1 1h1m18 0h1m0 0h1m0 0h1m-24 3h1m25 1h1m-26 1h1m-2 2h1m0 0h1m1 0h1m5 0h1m3 0h1m8 0h1m-9 1h1m6 0h1m-21 1h1m-13 13h1m-1 1h1m4 0h1m2 0h1m-8 1h1m0 0h1m3 0h1m2 0h1m-13 3h1m0 0h1m-4 3h1m23 0h1m-26 2h1m-1 1h1m24 0h1m-29 2h1m25 0h1m0 0h1m-2 2h1m1 0h1m-32 3h1m28 0h1m-31 1h1m29 0h1m-31 1h1m1 0h1m27 0h1m-31 1h1m1 0h1m-3 1h1m0 1h1m3 1h1m21 0h1m0 0h1m-1 1h1m0 0h1m-27 1h1m4 1h1m8 0h1m1 0h1m0 0h1m-13 1h1m7 0h1m2 0h1m1 0h1m5 0h1m-13 1h1m7 0h1m-15 1h1m1 0h1m0 0h1m3 0h1m-6 1h1m0 1h1m-1 1h1m1 0h1m0 0h1m0 1h1m-5 1h1m1 0h1m1 2h1" stroke="#1a2bf2" stroke-width="1" stroke-linecap="square"/>
<path d="M1029 1452h1m14 0h1m-16 1h1m0 0h1m11 0h1m1 0h1m-16 1h1m12 0h1m1 0h1m6 1h1m-2 1h1m1 0h1m-21 5h1m0 0h1m-1 1h1m10 1h1m0 0h1m0 0h1m-33 16h1m6 0h1m4 0h1m-12 1h1m10 0h1m0 0h1m-14 1h1m7 0h1m-10 1h1m16 0h1m-18 1h1m17 0h1m-3 1h1m1 0h1m-1 1h1m-3 2h1m-22 1h1m20 0h1m-20 1h1m19 0h1m-21 1h1m-6 1h1m0 0h1m0 0h1m21 0h1m0 0h1m-23 1h1m1 0h1m18 0h1m-25 1h1m0 0h1m22 0h1m-20 1h1m19 0h1m-21 1h1m19 0h1m-22 1h1m0 0h1m-6 1h1m2 0h1m20 0h1m-25 2h1m4 0h1m-1 1h1m0 0h1m1 0h1m2 0h1m-9 1h1m1 0h1m0 0h1m2 0h1m11 0h1m1 0h1m-21 1h1m0 0h1m1 0h1m14 0h1m-15 1h1m-2 2h1" stroke="#0d4cf0" stroke-width="1" stroke-linecap="square"/>
<path d="M1032 1452h1m3 0h1m1 0h1m0 0h1m-6 1h1m2 0h1m-5 1h1m0 0h1m4 0h1m0 0h1m-12 1h1m17 0h1m-19 1h1m1 0h1m15 0h1m0 0h1m0 0h1m-20 1h1m0 0h1m-3 1h1m0 0h1m3 0h1m1 0h1m0 0h1m9 0h1m0 0h1m0 0h1m-21 1h1m4 0h1m1 0h1m10 0h1m1 0h1m-19 1h1m0 0h1m-15 19h1m4 0h1m0 0h1m-8 1h1m1 0h1m3 0h1m0 0h1m-8 1h1m-3 1h1m1 0h1m0 0h1m2 0h1m6 0h1m-9 1h1m5 0h1m-13 1h1m4 0h1m0 0h1m0 0h1m1 0h1m1 0h1m0 0h1m0 0h1m0 0h1m-17 1h1m0 0h1m-2 1h1m0 0h1m-2 8h1m0 0h1m-2 1h1m1 2h1m0 0h1m11 0h1m-2 1h1m1 0h1m-15 1h1m1 0h1m1 1h1m1 0h1m0 1h1m0 0h1" stroke="#0096f0" stroke-width="1" stroke-linecap="square"/>
<path d="M1038 1450h1m-12 1h1m4 0h1m-10 2h1m-1 4h1m30 0h1m-30 1h1m27 0h1m-33 1h1m32 0h1m-30 2h1m10 3h1m7 0h1m4 1h1m-31 9h1m-12 2h1m2 1h1m17 0h1m-4 1h1m-22 1h1m2 1h1m-3 2h1m0 0h1m-2 2h1m0 0h1m-2 1h1m28 0h1m0 0h1m-33 4h1m31 0h1m-41 3h1m1 0h1m2 0h1m0 0h1m-9 2h1m0 0h1m1 0h1m37 1h1m-35 2h1m30 0h1m-36 2h1m36 2h1m-9 2h1m1 0h1m7 0h1m0 0h1m-6 3h1m0 0h1m0 0h1m-29 1h1m21 0h1m-21 1h1m18 0h1m-30 1h1m7 0h1m14 0h1m1 0h1m4 0h1m-31 1h1m7 0h1m1 0h1m15 0h1m-10 2h1m4 0h1m2 1h1m1 0h1m-5 1h1m-11 1h1m6 0h1m1 0h1m-7 1h1m-1 2h1m3 0h1m-4 1h1m5 0h1" stroke="#2832f7" stroke-width="1" stroke-linecap="square"/>
<path d="M1032 1455h1m0 0h1m1 0h1m8 0h1m1 0h1m-14 1h1m0 0h1m0 0h1m1 0h1m-5 1h1m3 0h1m6 0h1m1 0h1m-8 1h1m0 0h1m0 0h1m0 0h1m0 0h1m0 0h1m0 0h1m-7 1h1m1 0h1m0 0h1m1 0h1m0 0h1m-7 1h1m0 0h1m0 0h1m1 0h1m0 0h1m-29 25h1m0 0h1m4 0h1m0 0h1m1 0h1m0 0h1m1 0h1m-13 1h1m2 0h1m1 0h1m2 0h1m0 0h1m2 0h1m-15 1h1m1 0h1m1 0h1m0 0h1m3 0h1m1 0h1m-13 1h1m13 0h1m-15 1h1m-3 1h1m14 0h1m0 0h1m-1 4h1m0 2h1m-9 1h1m0 0h1m0 0h1m2 0h1m-6 1h1m2 0h1m1 0h1m-3 1h1m0 0h1m0 0h1" stroke="#00b7ba" stroke-width="1" stroke-linecap="square"/>
<path d="M1032 1448h1m20 3h1m0 2h1m4 5h1m-43 1h1m0 0h1m44 3h1m-3 1h1m-38 1h1m-11 8h1m1 0h1m0 0h1m6 1h1m7 0h1m0 2h1m-37 4h1m37 1h1m-38 2h1m-2 4h1m3 1h1m-5 2h1m44 1h1m-56 3h1m51 1h1m0 4h1m1 1h1m-51 2h1m4 0h1m40 0h1m1 2h1m-41 2h1m0 3h1m0 0h1m-10 2h1m3 2h1m11 2h1m-18 1h1m2 1h1m9 0h1m22 0h1m-6 2h1m-16 2h1m27 0h1m-41 2h1m16 0h1m-14 1h1m1 0h1m-6 1h1m12 0h1m7 0h1m-21 4h1m17 0h1m19 1h1m-37 2h1m-2 4h1" stroke="#3538fc" stroke-width="1" stroke-linecap="square"/>
<path d="M1041 1455h1m1 0h1m-6 1h1m0 0h1m0 0h1m-2 1h1m1 0h1m0 0h1m0 0h1m-29 31h1m1 0h1m0 0h1m-5 1h1m0 0h1m2 0h1m4 0h1m1 0h1m-12 1h1m0 0h1m0 0h1m6 0h1m0 0h1m0 0h1m-15 1h1m0 0h1m0 0h1m0 0h1m11 0h1m1 0h1m-17 1h1m0 0h1m2 0h1m9 0h1m1 0h1m-18 1h1m1 0h1m0 0h1m1 0h1m9 0h1m-13 1h1m0 0h1m-2 1h1m0 0h1m0 0h1m-3 1h1m0 0h1m1 1h1m0 0h1m0 0h1m-2 1h1m-1 1h1m0 0h1" stroke="#19cc76" stroke-width="1" stroke-linecap="square"/>
<path d="M1021 1489h1m0 0h1m-3 1h1m1 0h1m-6 1h1m1 0h1m3 0h1m1 0h1m-7 1h1m3 0h1m0 0h1m0 0h1m-9 1h1m1 0h1m3 0h1m0 0h1m0 0h1m-9 1h1m0 0h1m1 0h1m2 0h1m0 0h1m-6 1h1m1 0h1m2 0h1m0 0h1m-9 1h1m3 0h1m0 0h1m0 0h1m0 0h1m0 0h1" stroke="#66d72c" stroke-width="1" stroke-linecap="square"/>
<path d="M1020 1491h1m1 0h1m-1 1h1m-1 1h1" stroke="#e8dc00" stroke-width="1" stroke-linecap="square"/>
<line x1="989.4" y1="1540.6" x2="991.4" y2="1540.6" stroke="#018ef0" stroke-width="1.5"/>
<line x1="1012" y1="1540.6" x2="1014" y2="1540.6" stroke="#057af0" stroke-width="1.5"/>
<line x1="1055.4" y1="1540.6" x2="1057.4" y2="1540.6" stroke="#0575f0" stroke-width="1.5"/>
<line x1="1000.4" y1="1540.6" x2="1002.4" y2="1540.6" stroke="#1b2bf2" stroke-width="1.5"/>
<line x1="988.4" y1="1540.6" x2="990.4" y2="1540.6" stroke="#65d62d" stroke-width="1.5"/>
<line x1="1024.3" y1="1540.6" x2="1026.3" y2="1540.6" stroke="#0579f0" stroke-width="1.5"/>
<line x1="1025.9" y1="1540.6" x2="1027.9" y2="1540.6" stroke="#38d142" stroke-width="1.5"/>
<line x1="1052.9" y1="1540.6" x2="1054.9" y2="1540.6" stroke="#182af1" stroke-width="1.5"/>
<line x1="1048.9" y1="1540.6" x2="1050.9" y2="1540.6" stroke="#2f35fa" stroke-width="1.5"/>
<line x1="1050" y1="1540.6" x2="1052" y2="1540.6" stroke="#20cd69" stroke-width="1.5"/>
<line x1="989.6" y1="1540.6" x2="991.6" y2="1540.6" stroke="#3237fb" stroke-width="1.5"/>
<line x1="1003.2" y1="1540.6" x2="1005.2" y2="1540.6" stroke="#39d13f" stroke-width="1.5"/>
<line x1="1020.7" y1="1540.6" x2="1022.7" y2="1540.6" stroke="#00a4d8" stroke-width="1.5"/>
<line x1="1031.7" y1="1540.6" x2="1033.7" y2="1540.6" stroke="#393afd" stroke-width="1.5"/>
<line x1="1029.1" y1="1421.2" x2="1029.1" y2="1541.6" stroke="#5a5a5a" stroke-width="1.4"/>
<line x1="945.7" y1="1474" x2="1066.7" y2="1474" stroke="#5a5a5a" stroke-width="1.4"/>
<text x="950.2" y="1432.7" font-size="11" fill="#222">11.0</text>
<text x="1062.2" y="1432.7" font-size="11" text-anchor="end" fill="#222">20.7</text>
<text x="950.2" y="1538.1" font-size="11" fill="#222">55.7</text>
<text x="1062.2" y="1538.1" font-size="11" text-anchor="end" fill="#222">12.6</text>
<text class="k" x="951.4" y="1552.1">10<tspan dy="-3">0</tspan></text>
<text class="k" transform="translate(942.7 1538.9) rotate(-90)">10<tspan dy="-3">0</tspan></text>
<text class="k" x="967.8" y="1552.1">10<tspan dy="-3">1</tspan></text>
<text class="k" transform="translate(942.7 1522.7) rotate(-90)">10<tspan dy="-3">1</tspan></text>
<text class="k" x="984.2" y="1552.1">10<tspan dy="-3">2</tspan></text>
<text class="k" transform="translate(942.7 1506.4) rotate(-90)">10<tspan dy="-3">2</tspan></text>
<text class="k" x="1000.6" y="1552.1">10<tspan dy="-3">3</tspan></text>
<text class="k" transform="translate(942.7 1490.2) rotate(-90)">10<tspan dy="-3">3</tspan></text>
<text class="k" x="1017" y="1552.1">10<tspan dy="-3">4</tspan></text>
<text class="k" transform="translate(942.7 1473.9) rotate(-90)">10<tspan dy="-3">4</tspan></text>
<text class="k" x="1033.4" y="1552.1">10<tspan dy="-3">5</tspan></text>
<text class="k" transform="translate(942.7 1457.7) rotate(-90)">10<tspan dy="-3">5</tspan></text>
<text class="k" x="1049.8" y="1552.1">10<tspan dy="-3">6</tspan></text>
<text class="k" transform="translate(942.7 1441.4) rotate(-90)">10<tspan dy="-3">6</tspan></text>
<text class="k" x="1066.2" y="1552.1">10<tspan dy="-3">7</tspan></text>
<text class="k" transform="translate(942.7 1425.2) rotate(-90)">10<tspan dy="-3">7</tspan></text>
<text x="491" y="1240" font-size="21.1" text-anchor="middle" transform="rotate(-90 491 1240)">PI</text>
<line x1="483.8" y1="1277.5" x2="483.8" y2="1571" stroke="#4472c4" stroke-width="1.6"/>
<path d="M483.8 1262L476.3 1278.5H491.3Z" fill="#4472c4"/>
<line x1="483.8" y1="1571" x2="984.8" y2="1571" stroke="#4472c4" stroke-width="1.6"/>
<path d="M1000.3 1571L983.8 1563.5V1578.5Z" fill="#4472c4"/>
<text x="1021.9" y="1580" font-size="20.9">Annexin-V</text>
<text x="1092" y="1346.5" font-size="21.3" text-anchor="middle" transform="rotate(-90 1092 1346.5)">Vector</text>
<text x="1092" y="1477.6" font-size="21.3" text-anchor="middle" transform="rotate(-90 1092 1477.6)">PID1</text>
<rect x="1188.8" y="1100.7" width="20.7" height="7.3" fill="#c0befc"/>
<rect x="1215.6" y="1099.5" width="20.7" height="8.5" fill="#fb9fa2"/>
<rect x="1261" y="982.9" width="20.7" height="125.1" fill="#c0befc"/>
<rect x="1288.1" y="1036.8" width="20.7" height="71.2" fill="#fb9fa2"/>
<rect x="1333.5" y="963.3" width="20.7" height="144.7" fill="#c0befc"/>
<rect x="1360.6" y="1009.1" width="20.7" height="98.9" fill="#fb9fa2"/>
<rect x="1405.8" y="966.8" width="20.7" height="141.2" fill="#c0befc"/>
<rect x="1432.8" y="1024.5" width="20.7" height="83.5" fill="#fb9fa2"/>
<line x1="1199.1" y1="1100.7" x2="1199.1" y2="1099.9" stroke="#000" stroke-width="2.2"/>
<line x1="1194.6" y1="1099.9" x2="1203.6" y2="1099.9" stroke="#000" stroke-width="2.2"/>
<line x1="1225.9" y1="1099.5" x2="1225.9" y2="1098.4" stroke="#000" stroke-width="2.2"/>
<line x1="1221.4" y1="1098.4" x2="1230.4" y2="1098.4" stroke="#000" stroke-width="2.2"/>
<line x1="1271.3" y1="982.9" x2="1271.3" y2="979.9" stroke="#000" stroke-width="2.2"/>
<line x1="1266.8" y1="979.9" x2="1275.8" y2="979.9" stroke="#000" stroke-width="2.2"/>
<line x1="1298.4" y1="1036.8" x2="1298.4" y2="1034.1" stroke="#000" stroke-width="2.2"/>
<line x1="1293.9" y1="1034.1" x2="1302.9" y2="1034.1" stroke="#000" stroke-width="2.2"/>
<line x1="1343.8" y1="963.3" x2="1343.8" y2="960.6" stroke="#000" stroke-width="2.2"/>
<line x1="1339.3" y1="960.6" x2="1348.3" y2="960.6" stroke="#000" stroke-width="2.2"/>
<line x1="1370.9" y1="1009.1" x2="1370.9" y2="1008" stroke="#000" stroke-width="2.2"/>
<line x1="1366.4" y1="1008" x2="1375.4" y2="1008" stroke="#000" stroke-width="2.2"/>
<line x1="1416.1" y1="966.8" x2="1416.1" y2="964.1" stroke="#000" stroke-width="2.2"/>
<line x1="1411.6" y1="964.1" x2="1420.6" y2="964.1" stroke="#000" stroke-width="2.2"/>
<line x1="1443.1" y1="1024.5" x2="1443.1" y2="1021" stroke="#000" stroke-width="2.2"/>
<line x1="1438.6" y1="1021" x2="1447.6" y2="1021" stroke="#000" stroke-width="2.2"/>
<line x1="1176.6" y1="914.5" x2="1176.6" y2="1109.1" stroke="#000" stroke-width="2.2"/>
<line x1="1171.6" y1="1108" x2="1466.2" y2="1108" stroke="#000" stroke-width="2.2"/>
<line x1="1171.6" y1="1108" x2="1176.6" y2="1108" stroke="#000" stroke-width="2.2"/>
<text x="1168.6" y="1116.1" font-size="22.4" text-anchor="end">0</text>
<line x1="1171.6" y1="1069.5" x2="1176.6" y2="1069.5" stroke="#000" stroke-width="2.2"/>
<text x="1168.6" y="1077.6" font-size="22.4" text-anchor="end">10</text>
<line x1="1171.6" y1="1031" x2="1176.6" y2="1031" stroke="#000" stroke-width="2.2"/>
<text x="1168.6" y="1039.1" font-size="22.4" text-anchor="end">20</text>
<line x1="1171.6" y1="992.6" x2="1176.6" y2="992.6" stroke="#000" stroke-width="2.2"/>
<text x="1168.6" y="1000.6" font-size="22.4" text-anchor="end">30</text>
<line x1="1171.6" y1="954.1" x2="1176.6" y2="954.1" stroke="#000" stroke-width="2.2"/>
<text x="1168.6" y="962.1" font-size="22.4" text-anchor="end">40</text>
<line x1="1171.6" y1="915.6" x2="1176.6" y2="915.6" stroke="#000" stroke-width="2.2"/>
<text x="1168.6" y="923.7" font-size="22.4" text-anchor="end">50</text>
<line x1="1212.2" y1="1108" x2="1212.2" y2="1114.5" stroke="#000" stroke-width="2.2"/>
<line x1="1284.9" y1="1108" x2="1284.9" y2="1114.5" stroke="#000" stroke-width="2.2"/>
<line x1="1357.6" y1="1108" x2="1357.6" y2="1114.5" stroke="#000" stroke-width="2.2"/>
<line x1="1429.9" y1="1108" x2="1429.9" y2="1114.5" stroke="#000" stroke-width="2.2"/>
<text x="1217.2" y="1127.5" font-size="21.2" text-anchor="end" transform="rotate(-45 1217.2 1127.5)">Untreated</text>
<text x="1289.9" y="1127.5" font-size="21.2" text-anchor="end" transform="rotate(-45 1289.9 1127.5)">Cisplatin</text>
<text x="1362.6" y="1127.5" font-size="21.2" text-anchor="end" transform="rotate(-45 1362.6 1127.5)">Doxorubicin</text>
<text x="1434.9" y="1127.5" font-size="21.2" text-anchor="end" transform="rotate(-45 1434.9 1127.5)">Gemcitabine</text>
<path d="M1271.7 974.4V969.9H1296.7V974.4" stroke="#666" stroke-width="1.3" fill="none"/>
<text x="1285" y="974.5" font-size="21" text-anchor="middle" letter-spacing="1.5">**</text>
<path d="M1342.4 957V952.5H1367.4V957" stroke="#666" stroke-width="1.3" fill="none"/>
<text x="1355.7" y="957.1" font-size="21" text-anchor="middle" letter-spacing="1.5">*</text>
<path d="M1417.4 958.2V953.7H1441.7V958.2" stroke="#666" stroke-width="1.3" fill="none"/>
<text x="1430.3" y="958.3" font-size="21" text-anchor="middle" letter-spacing="1.5">**</text>
<rect x="1469.6" y="922.5" width="23.2" height="18.6" fill="#c0befc"/>
<rect x="1469.6" y="944.5" width="23.2" height="18.6" fill="#fb9fa2"/>
<text x="1503" y="939.5" font-size="21.4">Vector</text>
<text x="1503" y="961.5" font-size="21.4">PID1</text>
<text x="1139.5" y="1005.8" font-size="20.9" text-anchor="middle" transform="rotate(-90 1139.5 1005.8)">% late apoptotic/necrotic cells</text>
<text x="1317.9" y="880.9" font-size="21.6" text-anchor="middle">HepG2</text>
<rect x="1190.9" y="1477.4" width="20.9" height="8.4" fill="#c0befc"/>
<rect x="1217.7" y="1479.3" width="20.9" height="6.5" fill="#fb9fa2"/>
<rect x="1262.9" y="1348.3" width="20.9" height="137.5" fill="#c0befc"/>
<rect x="1289.9" y="1412.1" width="20.9" height="73.7" fill="#fb9fa2"/>
<rect x="1335.1" y="1338.3" width="20.9" height="147.5" fill="#c0befc"/>
<rect x="1362.2" y="1384.4" width="20.9" height="101.4" fill="#fb9fa2"/>
<rect x="1407.4" y="1314.5" width="20.9" height="171.3" fill="#c0befc"/>
<rect x="1434.4" y="1400.2" width="20.9" height="85.6" fill="#fb9fa2"/>
<line x1="1201.4" y1="1477.4" x2="1201.4" y2="1476.6" stroke="#000" stroke-width="2.2"/>
<line x1="1196.9" y1="1476.6" x2="1205.9" y2="1476.6" stroke="#000" stroke-width="2.2"/>
<line x1="1228.2" y1="1479.3" x2="1228.2" y2="1478.7" stroke="#000" stroke-width="2.2"/>
<line x1="1223.7" y1="1478.7" x2="1232.7" y2="1478.7" stroke="#000" stroke-width="2.2"/>
<line x1="1273.4" y1="1348.3" x2="1273.4" y2="1342.6" stroke="#000" stroke-width="2.2"/>
<line x1="1268.9" y1="1342.6" x2="1277.9" y2="1342.6" stroke="#000" stroke-width="2.2"/>
<line x1="1300.4" y1="1412.1" x2="1300.4" y2="1407.8" stroke="#000" stroke-width="2.2"/>
<line x1="1295.9" y1="1407.8" x2="1304.9" y2="1407.8" stroke="#000" stroke-width="2.2"/>
<line x1="1345.5" y1="1338.3" x2="1345.5" y2="1334.1" stroke="#000" stroke-width="2.2"/>
<line x1="1341" y1="1334.1" x2="1350" y2="1334.1" stroke="#000" stroke-width="2.2"/>
<line x1="1372.7" y1="1384.4" x2="1372.7" y2="1376.4" stroke="#000" stroke-width="2.2"/>
<line x1="1368.2" y1="1376.4" x2="1377.2" y2="1376.4" stroke="#000" stroke-width="2.2"/>
<line x1="1417.9" y1="1314.5" x2="1417.9" y2="1306.5" stroke="#000" stroke-width="2.2"/>
<line x1="1413.4" y1="1306.5" x2="1422.4" y2="1306.5" stroke="#000" stroke-width="2.2"/>
<line x1="1444.9" y1="1400.2" x2="1444.9" y2="1392.9" stroke="#000" stroke-width="2.2"/>
<line x1="1440.4" y1="1392.9" x2="1449.4" y2="1392.9" stroke="#000" stroke-width="2.2"/>
<line x1="1178.8" y1="1292.7" x2="1178.8" y2="1486.9" stroke="#000" stroke-width="2.2"/>
<line x1="1173.8" y1="1485.8" x2="1467.8" y2="1485.8" stroke="#000" stroke-width="2.2"/>
<line x1="1173.8" y1="1485.8" x2="1178.8" y2="1485.8" stroke="#000" stroke-width="2.2"/>
<text x="1170.8" y="1493.9" font-size="22.4" text-anchor="end">0</text>
<line x1="1173.8" y1="1447.4" x2="1178.8" y2="1447.4" stroke="#000" stroke-width="2.2"/>
<text x="1170.8" y="1455.5" font-size="22.4" text-anchor="end">10</text>
<line x1="1173.8" y1="1409" x2="1178.8" y2="1409" stroke="#000" stroke-width="2.2"/>
<text x="1170.8" y="1417.1" font-size="22.4" text-anchor="end">20</text>
<line x1="1173.8" y1="1370.6" x2="1178.8" y2="1370.6" stroke="#000" stroke-width="2.2"/>
<text x="1170.8" y="1378.7" font-size="22.4" text-anchor="end">30</text>
<line x1="1173.8" y1="1332.2" x2="1178.8" y2="1332.2" stroke="#000" stroke-width="2.2"/>
<text x="1170.8" y="1340.3" font-size="22.4" text-anchor="end">40</text>
<line x1="1173.8" y1="1293.8" x2="1178.8" y2="1293.8" stroke="#000" stroke-width="2.2"/>
<text x="1170.8" y="1301.9" font-size="22.4" text-anchor="end">50</text>
<line x1="1214.5" y1="1485.8" x2="1214.5" y2="1492.3" stroke="#000" stroke-width="2.2"/>
<line x1="1286.7" y1="1485.8" x2="1286.7" y2="1492.3" stroke="#000" stroke-width="2.2"/>
<line x1="1358.8" y1="1485.8" x2="1358.8" y2="1492.3" stroke="#000" stroke-width="2.2"/>
<line x1="1431" y1="1485.8" x2="1431" y2="1492.3" stroke="#000" stroke-width="2.2"/>
<text x="1219.5" y="1505.3" font-size="21.2" text-anchor="end" transform="rotate(-45 1219.5 1505.3)">Untreated</text>
<text x="1291.7" y="1505.3" font-size="21.2" text-anchor="end" transform="rotate(-45 1291.7 1505.3)">Cisplatin</text>
<text x="1363.8" y="1505.3" font-size="21.2" text-anchor="end" transform="rotate(-45 1363.8 1505.3)">Doxorubicin</text>
<text x="1436" y="1505.3" font-size="21.2" text-anchor="end" transform="rotate(-45 1436 1505.3)">Gemcitabine</text>
<path d="M1274.2 1336.3V1331.8H1299.2V1336.3" stroke="#666" stroke-width="1.3" fill="none"/>
<text x="1287.5" y="1336.4" font-size="21" text-anchor="middle" letter-spacing="1.5">*</text>
<path d="M1346.7 1328.6V1324.1H1371.2V1328.6" stroke="#666" stroke-width="1.3" fill="none"/>
<text x="1359.7" y="1328.7" font-size="21" text-anchor="middle" letter-spacing="1.5">*</text>
<path d="M1418.5 1300.6V1296.1H1443.3V1300.6" stroke="#666" stroke-width="1.3" fill="none"/>
<text x="1431.7" y="1300.7" font-size="21" text-anchor="middle" letter-spacing="1.5">*</text>
<rect x="1471.2" y="1300.2" width="23.4" height="18.6" fill="#c0befc"/>
<rect x="1471.2" y="1322.2" width="23.4" height="18.6" fill="#fb9fa2"/>
<text x="1505" y="1317.2" font-size="21.4">Vector</text>
<text x="1505" y="1339.2" font-size="21.4">PID1</text>
<text x="1141.8" y="1384" font-size="20.9" text-anchor="middle" transform="rotate(-90 1141.8 1384)">% late apoptotic/necrotic cells</text>
<text x="1320.1" y="1258.6" font-size="21.6" text-anchor="middle">Hepa1-6</text>
<text x="1575.9" y="859.9" font-size="31.8" font-weight="bold">H</text>
<text x="1703.4" y="883.7" font-size="21.4" text-anchor="middle">Vector</text>
<text x="1844.3" y="883.7" font-size="21.4" text-anchor="middle">PID1</text>
<rect x="1639.7" y="900.9" width="120.3" height="120.3" fill="none" stroke="#b8b8b8" stroke-width="1.2"/>
<ellipse cx="1716.7" cy="964.7" rx="26.3" ry="11.4" fill="url(#gH)" transform="rotate(-32.7 1716.7 964.7)"/>
<path d="M1723 951h1m1 0h1m6 0h1m-10 1h1m1 0h1m3 0h1m-8 1h1m2 0h1m0 0h1m0 0h1m0 0h1m1 0h1m-12 1h1m11 0h1m-1 1h1m1 0h1m-15 1h1m0 0h1m0 0h1m11 0h1m-19 1h1m-1 1h1m-7 2h1m-3 2h1m24 1h1m-28 1h1m0 0h1m26 0h1m-29 1h1m0 0h1m24 0h1m-30 1h1m0 0h1m25 0h1m0 0h1m-2 1h1m-29 1h1m0 0h1m0 0h1m26 0h1m-5 1h1m-24 1h1m-1 1h1m23 0h1m-26 1h1m14 0h1m5 0h1m-23 1h1m14 0h1m0 0h1m0 0h1m0 0h1m2 0h1m-22 1h1m0 0h1m0 0h1m17 0h1m1 0h1m-20 1h1m2 0h1m0 0h1m1 0h1m0 0h1m0 0h1m-5 1h1m0 0h1m1 0h1m-7 1h1m2 0h1m0 0h1m0 0h1m0 0h1" stroke="#0096f0" stroke-width="1" stroke-linecap="square"/>
<path d="M1734 942h1m1 0h1m-6 1h1m1 0h1m-3 1h1m0 0h1m1 0h1m-4 1h1m1 1h1m2 0h1m-3 1h1m-3 1h1m1 0h1m0 0h1m-5 1h1m2 0h1m-3 1h1m1 0h1m-16 1h1m15 1h1m-2 1h1m0 0h1m-19 1h1m16 0h1m0 0h1m-2 1h1m-19 1h1m17 0h1m0 0h1m-25 1h1m22 0h1m-25 1h1m0 0h1m0 0h1m-2 1h1m22 1h1m-1 1h1m0 0h1m-1 1h1m-34 1h1m33 0h1m-35 1h1m32 1h1m-4 1h1m-2 1h1m0 1h1m-34 1h1m0 0h1m27 0h1m1 0h1m-31 1h1m27 0h1m-4 2h1m-26 1h1m24 0h1m0 0h1m-1 1h1m-29 1h1m0 0h1m2 0h1m11 0h1m-17 1h1m0 0h1m0 0h1m12 0h1" stroke="#0d4cf0" stroke-width="1" stroke-linecap="square"/>
<path d="M1728 939h1m0 1h1m3 0h1m2 0h1m0 0h1m-3 1h1m2 2h1m-10 1h1m8 0h1m-11 1h1m8 0h1m0 0h1m-11 1h1m0 1h1m-7 1h1m0 1h1m-6 1h1m0 0h1m3 0h1m1 0h1m2 0h1m-14 1h1m0 0h1m20 0h1m-22 1h1m0 0h1m18 0h1m-22 1h1m-4 3h1m-6 1h1m-8 3h1m1 0h1m2 0h1m-4 1h1m0 0h1m-4 1h1m1 0h1m-4 1h1m-3 2h1m-1 3h1m34 1h1m-3 1h1m-37 2h1m1 1h1m-2 1h1m0 0h1m30 0h1m-33 1h1m22 0h1m4 1h1m-5 1h1m1 0h1m-23 1h1m5 0h1m-6 1h1m0 0h1m9 0h1m-13 1h1m1 0h1m1 0h1m5 0h1m2 0h1" stroke="#1a2bf2" stroke-width="1" stroke-linecap="square"/>
<path d="M1719 957h1m0 1h1m2 0h1m0 0h1m0 0h1m0 0h1m0 0h1m-8 1h1m0 0h1m0 0h1m1 0h1m1 0h1m-14 1h1m1 0h1m1 0h1m0 0h1m-6 1h1m2 0h1m1 0h1m-6 1h1m1 0h1m0 0h1m0 0h1m8 1h1m0 0h1m-1 1h1m-2 1h1m-19 1h1m-2 1h1m0 0h1m0 0h1m-3 1h1m0 0h1m0 0h1m3 1h1m0 0h1m0 0h1m0 0h1m0 0h1m0 0h1m1 0h1m0 0h1m-9 1h1m1 0h1m0 0h1m0 0h1m0 0h1m0 0h1m0 0h1m0 0h1m-5 1h1m0 0h1m2 0h1m-13 1h1m-3 1h1m0 0h1m0 0h1m-3 1h1m0 0h1m0 0h1" stroke="#66d72c" stroke-width="1" stroke-linecap="square"/>
<path d="M1711 926h1m-1 6h1m21 1h1m10 0h1m-15 2h1m2 0h1m11 0h1m-45 2h1m17 1h1m27 1h1m-1 2h1m-49 2h1m16 3h1m-13 1h1m39 0h1m2 0h1m0 0h1m-40 1h1m-5 1h1m5 0h1m-20 1h1m17 0h1m33 0h1m-49 2h1m8 0h1m41 0h1m-7 1h1m-41 1h1m-9 1h1m1 4h1m1 0h1m45 0h1m-3 2h1m-1 2h1m10 0h1m-13 5h1m-49 2h1m65 1h1m-12 1h1m-14 4h1m-41 2h1m-5 1h1m40 0h1m-22 3h1m24 0h1m-19 1h1m-25 2h1m31 1h1m-37 1h1m26 0h1m-18 1h1m-12 1h1m17 7h1m9 0h1m18 14h1" stroke="#3538fc" stroke-width="1" stroke-linecap="square"/>
<path d="M1722 960h1m0 0h1m0 0h1m-3 1h1m0 0h1m0 0h1m-3 1h1m0 0h1m0 0h1m-11 1h1m0 0h1m3 0h1m0 0h1m0 0h1m0 0h1m0 0h1m0 0h1m-12 1h1m0 0h1m0 0h1m4 0h1m0 0h1m0 0h1m0 0h1m-10 1h1m0 0h1m3 0h1m3 0h1m-14 1h1m1 0h1m0 0h1m0 0h1m0 0h1m0 0h1m3 0h1m0 0h1m-11 1h1m0 0h1m1 0h1m0 0h1m0 0h1m0 0h1m1 0h1m0 0h1m0 0h1m-11 1h1m0 0h1m0 0h1m2 0h1m0 0h1m1 0h1m0 0h1m0 0h1" stroke="#f76900" stroke-width="1" stroke-linecap="square"/>
<path d="M1730 936h1m6 1h1m3 0h1m-7 1h1m2 0h1m0 0h1m-13 1h1m14 0h1m-16 1h1m-4 1h1m17 0h1m-1 1h1m-16 1h1m14 1h1m-22 2h1m1 0h1m16 1h1m-27 4h1m-2 2h1m0 0h1m23 1h1m-27 1h1m24 0h1m-33 2h1m-6 1h1m3 0h1m33 2h1m0 0h1m-1 1h1m-1 4h1m-6 3h1m-40 3h1m-4 1h1m38 0h1m-1 2h1m-39 1h1m0 1h1m30 1h1m2 0h1m-8 1h1m-4 1h1m4 0h1m-24 2h1m2 0h1m-6 1h1m2 0h1m5 0h1m0 1h1" stroke="#2832f7" stroke-width="1" stroke-linecap="square"/>
<path d="M1719 960h1m0 0h1m0 0h1m3 0h1m1 0h1m-9 1h1m0 0h1m0 0h1m5 0h1m-9 1h1m1 0h1m4 0h1m0 0h1m-17 1h1m0 0h1m4 0h1m-6 1h1m3 0h1m1 0h1m-9 1h1m0 0h1m0 0h1m4 0h1m0 0h1m3 1h1m0 0h1m0 0h1m-3 1h1m0 0h1m0 0h1m-2 1h1m0 0h1m-18 1h1m0 0h1m0 0h1m1 0h1m0 0h1m-6 1h1m0 0h1m0 0h1m0 0h1m0 0h1m0 0h1m-5 1h1m0 0h1m1 0h1" stroke="#e8dc00" stroke-width="1" stroke-linecap="square"/>
<path d="M1726 954h1m-1 1h1m-2 1h1m0 0h1m0 0h1m2 1h1m-1 1h1m-3 1h1m1 0h1m-21 1h1m0 0h1m0 0h1m15 0h1m-18 1h1m16 0h1m-1 1h1m0 0h1m0 0h1m-24 1h1m1 1h1m-3 1h1m0 0h1m-5 1h1m0 0h1m0 0h1m18 0h1m-22 1h1m1 0h1m20 0h1m-2 1h1m0 0h1m-22 1h1m16 0h1m0 0h1m-19 1h1m16 0h1m0 0h1m-2 1h1m-14 2h1m0 0h1m-1 1h1" stroke="#19cc76" stroke-width="1" stroke-linecap="square"/>
<path d="M1722 954h1m0 0h1m0 0h1m5 0h1m-8 1h1m5 0h1m0 0h1m-9 1h1m0 0h1m0 0h1m3 0h1m1 0h1m-15 2h1m14 0h1m0 0h1m0 0h1m-18 1h1m0 0h1m0 0h1m12 1h1m0 0h1m0 0h1m-2 1h1m-5 2h1m0 0h1m0 0h1m-3 1h1m-1 1h1m-25 8h1m0 0h1m0 0h1m7 0h1m-1 1h1" stroke="#00b7ba" stroke-width="1" stroke-linecap="square"/>
<line x1="1729.6" y1="900.9" x2="1729.6" y2="1021.2" stroke="#5a5a5a" stroke-width="1.4"/>
<line x1="1639.7" y1="945.6" x2="1760" y2="945.6" stroke="#5a5a5a" stroke-width="1.4"/>
<text x="1644.2" y="912.4" font-size="11" fill="#222">0.37</text>
<text x="1755.5" y="912.4" font-size="11" text-anchor="end" fill="#222">1.17</text>
<text x="1644.2" y="1017.7" font-size="11" fill="#222">95.9</text>
<text x="1755.5" y="1017.7" font-size="11" text-anchor="end" fill="#222">2.56</text>
<text class="k" x="1645.4" y="1031.7">10<tspan dy="-3">0</tspan></text>
<text class="k" transform="translate(1636.7 1018.5) rotate(-90)">10<tspan dy="-3">0</tspan></text>
<text class="k" x="1661.7" y="1031.7">10<tspan dy="-3">1</tspan></text>
<text class="k" transform="translate(1636.7 1002.3) rotate(-90)">10<tspan dy="-3">1</tspan></text>
<text class="k" x="1678" y="1031.7">10<tspan dy="-3">2</tspan></text>
<text class="k" transform="translate(1636.7 986) rotate(-90)">10<tspan dy="-3">2</tspan></text>
<text class="k" x="1694.3" y="1031.7">10<tspan dy="-3">3</tspan></text>
<text class="k" transform="translate(1636.7 969.8) rotate(-90)">10<tspan dy="-3">3</tspan></text>
<text class="k" x="1710.6" y="1031.7">10<tspan dy="-3">4</tspan></text>
<text class="k" transform="translate(1636.7 953.6) rotate(-90)">10<tspan dy="-3">4</tspan></text>
<text class="k" x="1726.9" y="1031.7">10<tspan dy="-3">5</tspan></text>
<text class="k" transform="translate(1636.7 937.4) rotate(-90)">10<tspan dy="-3">5</tspan></text>
<text class="k" x="1743.2" y="1031.7">10<tspan dy="-3">6</tspan></text>
<text class="k" transform="translate(1636.7 921.1) rotate(-90)">10<tspan dy="-3">6</tspan></text>
<text class="k" x="1759.5" y="1031.7">10<tspan dy="-3">7</tspan></text>
<text class="k" transform="translate(1636.7 904.9) rotate(-90)">10<tspan dy="-3">7</tspan></text>
<rect x="1784.8" y="900.9" width="120.3" height="120.3" fill="none" stroke="#b8b8b8" stroke-width="1.2"/>
<ellipse cx="1861.8" cy="965.9" rx="26.3" ry="11.4" fill="url(#gH)" transform="rotate(-32.7 1861.8 965.9)"/>
<path d="M1884 942h1m-6 1h1m1 0h1m-4 1h1m3 0h1m2 0h1m0 0h1m-13 1h1m3 0h1m1 0h1m-4 1h1m3 0h1m-8 1h1m1 0h1m0 0h1m3 0h1m0 0h1m-13 1h1m0 0h1m0 0h1m0 1h1m7 0h1m2 0h1m-11 1h1m10 1h1m-18 1h1m15 0h1m-31 2h1m0 0h1m4 0h1m25 0h1m-33 1h1m3 0h1m0 0h1m24 0h1m-28 1h1m4 0h1m21 0h1m0 0h1m0 0h1m-36 1h1m0 1h1m0 0h1m-3 1h1m27 1h1m-30 2h1m-4 1h1m31 0h1m0 0h1m-38 1h1m0 0h1m34 0h1m0 0h1m-36 1h1m-3 3h1m1 0h1m33 0h1m-38 1h1m1 0h1m31 1h1m-2 1h1m-6 1h1m-1 1h1m2 1h1m0 0h1m-32 1h1m23 0h1m0 0h1m-27 1h1m1 0h1m17 2h1m-21 1h1m0 0h1m1 0h1m17 0h1m-21 1h1m3 0h1m12 0h1m-10 1h1m-3 1h1m1 0h1m-1 1h1m1 0h1" stroke="#1a2bf2" stroke-width="1" stroke-linecap="square"/>
<path d="M1875 948h1m0 0h1m-2 1h1m2 0h1m0 0h1m-5 1h1m2 0h1m0 0h1m-9 1h1m1 0h1m1 0h1m0 0h1m1 0h1m2 0h1m0 0h1m-14 1h1m8 0h1m0 0h1m1 0h1m-13 1h1m0 0h1m1 0h1m5 0h1m4 0h1m-4 1h1m1 1h1m-18 1h1m13 0h1m0 0h1m-1 1h1m-3 1h1m0 0h1m-2 1h1m0 0h1m-29 2h1m-1 1h1m1 0h1m22 1h1m-28 1h1m25 0h1m0 1h1m-2 1h1m-3 1h1m1 0h1m1 0h1m-4 1h1m1 0h1m0 0h1m-32 1h1m0 0h1m21 0h1m2 0h1m1 0h1m-6 1h1m0 0h1m0 0h1m0 0h1m-28 1h1m0 0h1m0 0h1m23 0h1m-6 1h1m1 0h1m-27 1h1m0 1h1m19 1h1m0 0h1m-2 1h1m-15 2h1m0 0h1m5 0h1m-9 1h1m4 0h1m-3 1h1m1 0h1" stroke="#0d4cf0" stroke-width="1" stroke-linecap="square"/>
<path d="M1882 933h1m0 1h1m-2 1h1m-5 1h1m1 1h1m-2 1h1m-5 1h1m6 0h1m-8 2h1m6 0h1m2 0h1m2 1h1m0 0h1m-14 1h1m-6 2h1m12 1h1m2 0h1m-17 1h1m-4 1h1m19 0h1m-25 3h1m-11 1h1m2 0h1m4 0h1m2 1h1m22 0h1m0 0h1m-41 2h1m0 0h1m2 0h1m34 0h1m0 0h1m-48 5h1m-2 1h1m1 1h1m-8 4h1m-1 1h1m4 0h1m39 0h1m-41 1h1m-3 1h1m1 0h1m36 1h1m-4 3h1m3 0h1m-2 1h1m-40 1h1m0 0h1m32 0h1m1 0h1m-3 1h1m-33 1h1m-4 2h1m28 0h1m2 1h1m-30 1h1m14 0h1m5 1h1m7 0h1m-32 1h1m0 0h1m6 0h1m12 0h1m2 0h1m3 0h1m-15 1h1m-6 1h1" stroke="#2832f7" stroke-width="1" stroke-linecap="square"/>
<path d="M1870 954h1m0 0h1m2 0h1m-6 1h1m2 0h1m1 0h1m-6 1h1m4 0h1m-17 1h1m0 0h1m1 0h1m0 0h1m1 0h1m12 0h1m-18 1h1m3 0h1m0 0h1m10 0h1m0 0h1m-20 1h1m4 0h1m1 0h1m9 0h1m-20 1h1m19 0h1m-1 1h1m-22 1h1m0 0h1m18 0h1m1 0h1m-30 8h1m1 0h1m15 0h1m1 0h1m-2 1h1m-20 1h1m14 0h1m0 0h1m-17 2h1m1 0h1m13 0h1m-13 1h1m0 0h1m1 0h1m0 0h1m0 0h1m1 0h1m-7 1h1m0 0h1m0 0h1m0 0h1m0 0h1m0 0h1m0 0h1m-9 1h1m0 0h1m0 0h1m0 0h1m0 0h1" stroke="#00b7ba" stroke-width="1" stroke-linecap="square"/>
<path d="M1869 957h1m0 0h1m-2 1h1m0 0h1m-2 1h1m1 0h1m-8 1h1m0 0h1m0 0h1m0 0h1m0 0h1m1 0h1m-7 1h1m0 0h1m0 0h1m1 0h1m0 0h1m1 0h1m-6 1h1m0 0h1m2 0h1m0 0h1m-17 1h1m0 0h1m9 0h1m0 0h1m0 0h1m-15 1h1m0 0h1m10 0h1m0 0h1m0 0h1m-15 1h1m0 0h1m10 0h1m-12 1h1m-2 2h1m1 0h1m7 1h1m0 0h1m-3 1h1m0 0h1m-2 1h1m1 0h1m-12 1h1m0 0h1m5 0h1m0 0h1m-8 1h1m5 0h1m0 0h1m-9 1h1m0 0h1m0 0h1m3 0h1m0 0h1m0 0h1" stroke="#66d72c" stroke-width="1" stroke-linecap="square"/>
<path d="M1880 925h1m-35 1h1m42 2h1m-9 1h1m0 1h1m2 0h1m-17 6h1m2 2h1m11 0h1m5 2h1m-59 1h1m26 2h1m30 0h1m-53 1h1m19 2h1m44 2h1m-45 1h1m3 0h1m39 3h1m-59 3h1m-7 1h1m1 2h1m-6 1h1m8 0h1m41 1h1m2 0h1m-53 1h1m45 0h1m4 0h1m-6 1h1m1 1h1m-56 3h1m53 0h1m-60 1h1m11 5h1m44 3h1m-11 3h1m8 0h1m-48 1h1m-1 1h1m36 2h1m-47 2h1m18 0h1m28 1h1m22 0h1m-59 1h1m26 0h1m-32 2h1m7 0h1m5 1h1m16 0h1m-29 1h1m17 0h1m-4 1h1m8 0h1m-7 2h1" stroke="#3538fc" stroke-width="1" stroke-linecap="square"/>
<path d="M1858 960h1m0 0h1m1 0h1m0 0h1m-6 1h1m0 0h1m0 0h1m1 0h1m0 0h1m-5 1h1m0 0h1m1 0h1m0 0h1m-6 1h1m0 0h1m5 0h1m-8 1h1m0 0h1m4 0h1m0 0h1m-8 1h1m1 0h1m3 0h1m0 0h1m-1 1h1m0 0h1m-2 1h1m0 0h1m-3 1h1m0 0h1m-5 1h1m0 0h1m0 0h1m-8 1h1m0 0h1m3 0h1m1 0h1m-9 1h1m0 0h1m0 0h1m5 0h1m-4 1h1m-3 1h1m-1 1h1m0 0h1m0 0h1" stroke="#e8dc00" stroke-width="1" stroke-linecap="square"/>
<path d="M1868 957h1m3 0h1m0 0h1m-8 1h1m5 0h1m0 0h1m-8 1h1m1 0h1m4 1h1m0 0h1m-1 1h1m-3 1h1m0 0h1m-5 1h1m0 0h1m0 0h1m-2 2h1m0 0h1m-20 1h1m13 0h1m0 0h1m-17 1h1m0 0h1m0 0h1m12 0h1m0 0h1m-17 1h1m0 0h1m0 0h1m-2 1h1m0 0h1m-2 1h1m-2 1h1m0 0h1m0 0h1m-1 1h1m-3 1h1m0 0h1m0 0h1m-2 1h1" stroke="#19cc76" stroke-width="1" stroke-linecap="square"/>
<path d="M1866 954h1m1 0h1m-3 1h1m0 0h1m7 0h1m-9 1h1m7 0h1m-20 1h1m-2 1h1m0 0h1m-6 5h1m0 0h1m0 0h1m-3 1h1m1 0h1m18 0h1m-25 2h1m21 0h1m0 0h1m-3 2h1m-24 4h1m-1 1h1m-2 1h1m-1 1h1m1 0h1m1 0h1m11 0h1m0 0h1m-18 1h1m0 0h1m3 0h1m11 0h1m-16 1h1m0 0h1m0 0h1m11 0h1" stroke="#0096f0" stroke-width="1" stroke-linecap="square"/>
<path d="M1860 963h1m0 0h1m0 0h1m-3 1h1m0 0h1m0 0h1m-3 1h1m0 0h1m0 0h1m-6 1h1m0 0h1m1 0h1m1 0h1m-5 1h1m0 0h1m0 0h1m0 0h1m-3 1h1m0 0h1m0 0h1m0 0h1m-4 1h1m-3 1h1m0 0h1m-2 1h1m0 0h1m0 0h1" stroke="#f76900" stroke-width="1" stroke-linecap="square"/>
<line x1="1874.7" y1="900.9" x2="1874.7" y2="1021.2" stroke="#5a5a5a" stroke-width="1.4"/>
<line x1="1784.8" y1="945.6" x2="1905.1" y2="945.6" stroke="#5a5a5a" stroke-width="1.4"/>
<text x="1789.3" y="912.4" font-size="11" fill="#222">0.38</text>
<text x="1900.6" y="912.4" font-size="11" text-anchor="end" fill="#222">0.93</text>
<text x="1789.3" y="1017.7" font-size="11" fill="#222">96.3</text>
<text x="1900.6" y="1017.7" font-size="11" text-anchor="end" fill="#222">2.42</text>
<text class="k" x="1790.5" y="1031.7">10<tspan dy="-3">0</tspan></text>
<text class="k" transform="translate(1781.8 1018.5) rotate(-90)">10<tspan dy="-3">0</tspan></text>
<text class="k" x="1806.8" y="1031.7">10<tspan dy="-3">1</tspan></text>
<text class="k" transform="translate(1781.8 1002.3) rotate(-90)">10<tspan dy="-3">1</tspan></text>
<text class="k" x="1823.1" y="1031.7">10<tspan dy="-3">2</tspan></text>
<text class="k" transform="translate(1781.8 986) rotate(-90)">10<tspan dy="-3">2</tspan></text>
<text class="k" x="1839.4" y="1031.7">10<tspan dy="-3">3</tspan></text>
<text class="k" transform="translate(1781.8 969.8) rotate(-90)">10<tspan dy="-3">3</tspan></text>
<text class="k" x="1855.7" y="1031.7">10<tspan dy="-3">4</tspan></text>
<text class="k" transform="translate(1781.8 953.6) rotate(-90)">10<tspan dy="-3">4</tspan></text>
<text class="k" x="1872" y="1031.7">10<tspan dy="-3">5</tspan></text>
<text class="k" transform="translate(1781.8 937.4) rotate(-90)">10<tspan dy="-3">5</tspan></text>
<text class="k" x="1888.3" y="1031.7">10<tspan dy="-3">6</tspan></text>
<text class="k" transform="translate(1781.8 921.1) rotate(-90)">10<tspan dy="-3">6</tspan></text>
<text class="k" x="1904.6" y="1031.7">10<tspan dy="-3">7</tspan></text>
<text class="k" transform="translate(1781.8 904.9) rotate(-90)">10<tspan dy="-3">7</tspan></text>
<rect x="1639.7" y="1043.6" width="120.3" height="120.3" fill="none" stroke="#b8b8b8" stroke-width="1.2"/>
<ellipse cx="1720.3" cy="1107.4" rx="29.4" ry="10.1" fill="url(#gW)" transform="rotate(-36.3 1720.3 1107.4)"/>
<ellipse cx="1731.1" cy="1081.5" rx="22.1" ry="7.1" fill="url(#gW)" transform="rotate(-2 1731.1 1081.5)"/>
<ellipse cx="1742" cy="1080.9" rx="8.8" ry="5.6" fill="url(#gH)" transform="rotate(-5 1742 1080.9)"/>
<path d="M1737 1075h1m4 0h1m0 0h1m1 0h1m-5 1h1m3 0h1m-20 1h1m22 0h1m0 0h1m-24 1h1m-1 1h1m21 0h1m0 0h1m-27 1h1m26 0h1m-30 1h1m0 0h1m0 0h1m-2 1h1m25 0h1m-28 1h1m1 0h1m1 0h1m3 0h1m-7 1h1m0 0h1m1 0h1m0 0h1m-6 1h1m0 0h1m0 0h1m3 0h1m1 1h1m0 0h1m0 0h1m-2 1h1m0 0h1m7 0h1m-16 8h1m-1 1h1m-1 1h1m-3 1h1m8 0h1m-12 1h1m0 0h1m7 0h1m-10 1h1m0 0h1m0 0h1m8 0h1m-16 1h1m-2 1h1m13 0h1m0 0h1m0 0h1m-16 1h1m13 0h1m-19 1h1m16 0h1m-18 1h1m18 0h1m-20 1h1m0 0h1m-4 1h1m-3 1h1m0 1h1m10 1h1m1 0h1m-18 1h1m0 0h1m13 0h1m0 0h1m0 0h1m-16 1h1m12 0h1m-16 2h1m0 0h1m8 0h1m2 0h1m-13 1h1m8 0h1m0 0h1m1 0h1m-16 1h1m1 0h1m1 0h1m1 0h1m-8 1h1m0 0h1m0 0h1m0 0h1m0 0h1m0 0h1m1 0h1m2 0h1m0 0h1m-3 1h1" stroke="#0d4cf0" stroke-width="1" stroke-linecap="square"/>
<path d="M1728 1070h1m0 1h1m9 0h1m-2 1h1m-30 4h1m-13 1h1m17 2h1m39 0h1m-47 1h1m-1 2h1m-4 1h1m1 0h1m47 0h1m-5 1h1m0 0h1m-48 1h1m1 1h1m5 1h1m37 0h1m-38 1h1m-7 2h1m41 0h1m-38 1h1m25 0h1m5 0h1m-48 1h1m15 0h1m-25 1h1m54 0h1m1 0h1m4 0h1m-40 1h1m5 0h1m19 0h1m-37 1h1m1 0h1m8 2h1m28 0h1m7 1h1m-57 1h1m11 0h1m40 0h1m-43 1h1m-8 4h1m40 0h1m-57 1h1m55 0h1m1 0h1m-38 1h1m-7 1h1m-6 2h1m-1 1h1m47 4h1m-3 3h1m7 1h1m-54 1h1m42 1h1m-49 1h1m35 0h1m-33 2h1m27 0h1m1 0h1m-43 1h1m14 0h1m-23 1h1m9 0h1m1 0h1m14 0h1m3 0h1m3 0h1m-20 1h1m20 0h1m8 0h1m0 0h1m-32 1h1m34 0h1m-40 1h1m14 0h1m4 0h1m-11 1h1m7 0h1m11 0h1m-17 1h1m5 0h1m-14 1h1m22 0h1m8 2h1m4 6h1m-27 2h1m-5 2h1" stroke="#3538fc" stroke-width="1" stroke-linecap="square"/>
<path d="M1729 1074h1m17 0h1m0 0h1m-15 1h1m0 0h1m-6 1h1m0 0h1m14 0h1m1 0h1m-29 1h1m3 0h1m-1 1h1m-5 1h1m1 0h1m1 0h1m-4 1h1m-2 1h1m30 3h1m-32 1h1m0 0h1m7 1h1m-3 1h1m1 0h1m14 0h1m-13 2h1m0 0h1m2 0h1m-2 1h1m0 0h1m-4 1h1m0 0h1m1 0h1m-6 3h1m3 0h1m0 0h1m-14 1h1m4 0h1m1 0h1m0 0h1m-2 1h1m1 0h1m-11 1h1m0 0h1m4 0h1m0 0h1m1 0h1m-13 2h1m14 0h1m-15 1h1m0 0h1m13 0h1m-2 1h1m0 0h1m-1 1h1m-24 2h1m-2 1h1m0 1h1m-6 1h1m20 0h1m-22 1h1m20 0h1m-20 1h1m20 1h1m-27 1h1m0 0h1m19 0h1m-22 1h1m1 0h1m-3 1h1m19 0h1m2 0h1m-2 1h1m-5 1h1m1 0h1m-7 1h1m1 0h1m-5 1h1m2 0h1m-3 1h1m-13 1h1m2 0h1m0 0h1m2 0h1m-9 1h1m1 0h1m2 0h1m-5 1h1m0 0h1m2 0h1" stroke="#1a2bf2" stroke-width="1" stroke-linecap="square"/>
<path d="M1719 1074h1m3 0h1m0 0h1m25 0h1m-2 2h1m2 1h1m-35 1h1m-1 1h1m-1 1h1m-8 1h1m3 0h1m0 0h1m1 0h1m-5 1h1m-4 1h1m2 1h1m0 0h1m-1 1h1m1 0h1m3 1h1m27 0h1m1 0h1m-34 1h1m5 0h1m3 2h1m10 0h1m-11 1h1m7 1h1m0 0h1m-14 1h1m-2 1h1m1 0h1m-2 1h1m1 0h1m6 1h1m3 0h1m-18 1h1m18 2h1m-27 1h1m3 0h1m21 0h1m1 0h1m-32 1h1m2 0h1m3 0h1m19 0h1m2 0h1m-32 1h1m29 1h1m-30 1h1m0 0h1m27 0h1m-33 1h1m25 0h1m0 0h1m-27 2h1m-4 1h1m24 0h1m1 0h1m-2 1h1m0 0h1m-32 4h1m0 0h1m27 0h1m-33 1h1m30 0h1m-28 1h1m25 1h1m-32 1h1m0 0h1m3 0h1m19 0h1m1 0h1m-25 1h1m25 0h1m-26 1h1m0 0h1m20 0h1m1 0h1m-13 1h1m1 0h1m6 0h1m-7 1h1m-5 1h1m1 0h1m-11 1h1m5 1h1" stroke="#2832f7" stroke-width="1" stroke-linecap="square"/>
<path d="M1728 1077h1m0 0h1m2 0h1m-5 1h1m0 0h1m0 0h1m1 0h1m0 0h1m-5 1h1m0 0h1m0 0h1m1 0h1m-8 1h1m2 0h1m-5 1h1m1 0h1m-3 1h1m0 0h1m2 0h1m0 0h1m1 1h1m0 0h1m12 0h1m1 0h1m-18 1h1m1 0h1m12 1h1m-11 3h1m-11 10h1m0 0h1m1 0h1m-4 1h1m0 0h1m0 0h1m-3 1h1m2 0h1m-11 2h1m-1 1h1m0 0h1m0 0h1m-6 1h1m0 0h1m0 0h1m9 0h1m1 1h1m-14 1h1m0 0h1m10 0h1m-16 1h1m0 0h1m9 0h1m1 0h1m-13 1h1m-3 1h1m1 0h1m-4 1h1m3 0h1m1 0h1m0 0h1m-9 1h1m0 0h1m2 0h1m2 0h1m1 0h1m-11 1h1m2 0h1m0 0h1m0 0h1m0 0h1m0 0h1m0 0h1m1 0h1m-10 1h1m0 0h1m0 0h1m0 0h1m0 0h1m-6 1h1m2 0h1m0 0h1m0 0h1m-5 1h1m0 0h1m0 0h1" stroke="#0096f0" stroke-width="1" stroke-linecap="square"/>
<path d="M1734 1078h1m0 0h1m10 0h1m0 0h1m0 0h1m-15 1h1m0 0h1m0 0h1m9 0h1m0 0h1m0 0h1m-18 1h1m0 0h1m-2 1h1m0 0h1m0 0h1m-1 1h1m2 1h1m-3 1h1m0 0h1m0 0h1m-1 1h1m-12 16h1m0 0h1m0 0h1m0 0h1m0 0h1m0 0h1m-9 1h1m0 0h1m1 0h1m0 0h1m0 0h1m0 0h1m1 0h1m-9 1h1m1 0h1m1 0h1m1 0h1m0 0h1m0 0h1m-12 1h1m0 0h1m0 0h1m4 0h1m0 0h1m-9 1h1m1 0h1m4 0h1m-8 1h1m0 0h1m0 0h1m3 0h1m0 0h1m0 0h1m-11 1h1m6 0h1m-9 1h1m0 0h1m4 0h1m-6 1h1m0 0h1m3 0h1m0 0h1" stroke="#00b7ba" stroke-width="1" stroke-linecap="square"/>
<path d="M1741 1077h1m0 0h1m1 0h1m-5 1h1m1 0h1m0 0h1m0 0h1m-5 1h1m0 0h1m0 0h1m1 0h1m0 0h1m-12 1h1m0 0h1m-2 1h1m1 0h1m-3 1h1m0 0h1m1 1h1m0 0h1m0 0h1m0 0h1m0 0h1m-4 1h1m0 0h1m0 0h1m0 0h1m0 0h1m-6 1h1m0 0h1m0 0h1m2 0h1" stroke="#66d72c" stroke-width="1" stroke-linecap="square"/>
<path d="M1738 1078h1m0 0h1m-3 1h1m1 0h1m7 1h1m-2 1h1m0 0h1m0 0h1m-3 1h1m0 0h1m-5 1h1m1 0h1m-2 1h1m0 0h1m-3 1h1m0 0h1m-23 19h1m0 0h1m-2 1h1m0 0h1m-2 1h1m0 0h1m0 0h1m-6 1h1m0 0h1m0 0h1m-3 1h1m1 0h1m-2 1h1m0 0h1" stroke="#19cc76" stroke-width="1" stroke-linecap="square"/>
<path d="M1740 1080h1m0 0h1m0 0h1m0 0h1m0 0h1m0 0h1m-5 1h1m0 0h1m0 0h1m0 0h1m0 0h1m-6 1h1m0 0h1m0 0h1m0 0h1m1 0h1" stroke="#f76900" stroke-width="1" stroke-linecap="square"/>
<path d="M1737 1080h1m0 0h1m0 0h1m-3 1h1m1 0h1m-2 1h1m0 0h1" stroke="#e8dc00" stroke-width="1" stroke-linecap="square"/>
<line x1="1729.6" y1="1043.6" x2="1729.6" y2="1163.9" stroke="#5a5a5a" stroke-width="1.4"/>
<line x1="1639.7" y1="1088" x2="1760" y2="1088" stroke="#5a5a5a" stroke-width="1.4"/>
<text x="1644.2" y="1055.1" font-size="11" fill="#222">3.47</text>
<text x="1755.5" y="1055.1" font-size="11" text-anchor="end" fill="#222">34.5</text>
<text x="1644.2" y="1160.4" font-size="11" fill="#222">54.8</text>
<text x="1755.5" y="1160.4" font-size="11" text-anchor="end" fill="#222">7.32</text>
<text class="k" x="1645.4" y="1174.4">10<tspan dy="-3">0</tspan></text>
<text class="k" transform="translate(1636.7 1161.2) rotate(-90)">10<tspan dy="-3">0</tspan></text>
<text class="k" x="1661.7" y="1174.4">10<tspan dy="-3">1</tspan></text>
<text class="k" transform="translate(1636.7 1145) rotate(-90)">10<tspan dy="-3">1</tspan></text>
<text class="k" x="1678" y="1174.4">10<tspan dy="-3">2</tspan></text>
<text class="k" transform="translate(1636.7 1128.7) rotate(-90)">10<tspan dy="-3">2</tspan></text>
<text class="k" x="1694.3" y="1174.4">10<tspan dy="-3">3</tspan></text>
<text class="k" transform="translate(1636.7 1112.5) rotate(-90)">10<tspan dy="-3">3</tspan></text>
<text class="k" x="1710.6" y="1174.4">10<tspan dy="-3">4</tspan></text>
<text class="k" transform="translate(1636.7 1096.3) rotate(-90)">10<tspan dy="-3">4</tspan></text>
<text class="k" x="1726.9" y="1174.4">10<tspan dy="-3">5</tspan></text>
<text class="k" transform="translate(1636.7 1080.1) rotate(-90)">10<tspan dy="-3">5</tspan></text>
<text class="k" x="1743.2" y="1174.4">10<tspan dy="-3">6</tspan></text>
<text class="k" transform="translate(1636.7 1063.8) rotate(-90)">10<tspan dy="-3">6</tspan></text>
<text class="k" x="1759.5" y="1174.4">10<tspan dy="-3">7</tspan></text>
<text class="k" transform="translate(1636.7 1047.6) rotate(-90)">10<tspan dy="-3">7</tspan></text>
<rect x="1784.8" y="1043.6" width="120.3" height="120.3" fill="none" stroke="#b8b8b8" stroke-width="1.2"/>
<ellipse cx="1869" cy="1105.6" rx="28.6" ry="10.1" fill="url(#gW)" transform="rotate(-39.4 1869 1105.6)"/>
<ellipse cx="1878.6" cy="1080.3" rx="22.1" ry="7.1" fill="url(#gW)" transform="rotate(-2 1878.6 1080.3)"/>
<ellipse cx="1888.3" cy="1079.7" rx="10.1" ry="5.6" fill="url(#gH)" transform="rotate(-5 1888.3 1079.7)"/>
<path d="M1880 1074h1m0 1h1m12 0h1m0 0h1m-17 1h1m2 0h1m12 0h1m-23 1h1m0 0h1m1 0h1m19 0h1m0 0h1m-22 1h1m0 0h1m-6 1h1m2 0h1m21 0h1m-25 1h1m-1 1h1m22 0h1m-24 1h1m22 0h1m0 0h1m-26 1h1m0 0h1m0 0h1m0 0h1m17 0h1m0 0h1m-20 1h1m0 0h1m-1 1h1m0 0h1m15 0h1m0 0h1m0 0h1m-15 1h1m0 0h1m0 0h1m0 0h1m3 0h1m1 0h1m-8 1h1m0 0h1m3 0h1m0 0h1m1 0h1m-6 1h1m-10 4h1m0 0h1m-3 1h1m0 0h1m1 0h1m0 0h1m2 0h1m-8 1h1m1 0h1m1 0h1m0 0h1m0 0h1m-1 1h1m-11 1h1m8 0h1m0 0h1m0 0h1m-11 1h1m0 0h1m6 0h1m0 0h1m-14 1h1m1 0h1m-3 2h1m13 0h1m-18 1h1m0 0h1m0 0h1m11 0h1m-2 1h1m-13 1h1m12 0h1m-6 1h1m0 0h1m0 0h1m-15 1h1m12 0h1m-14 1h1m1 0h1m-5 1h1m0 0h1m13 0h1m-16 1h1m15 0h1m-17 1h1m0 0h1m12 0h1m-22 1h1m1 0h1m10 0h1m1 0h1m2 0h1m0 0h1m0 0h1m-19 1h1m9 0h1m0 0h1m1 0h1m0 0h1m0 0h1m2 0h1m-20 1h1m0 0h1m9 0h1m1 0h1m2 0h1m1 0h1m-19 1h1m10 0h1m0 0h1m-13 1h1m7 0h1m0 0h1m1 0h1m1 0h1m-6 1h1m-7 1h1m0 0h1m0 0h1m-2 1h1m2 0h1m-4 1h1" stroke="#0d4cf0" stroke-width="1" stroke-linecap="square"/>
<path d="M1892 1075h1m-2 1h1m-17 4h1m-1 1h1m0 0h1m0 0h1m-3 1h1m2 1h1m1 0h1m-3 1h1m1 0h1m-5 11h1m0 0h1m0 0h1m1 0h1m-3 1h1m0 0h1m-4 1h1m0 0h1m0 0h1m0 0h1m0 0h1m-9 1h1m7 0h1m-9 1h1m1 0h1m3 0h1m1 0h1m-7 1h1m3 0h1m-10 1h1m2 0h1m0 0h1m0 0h1m0 0h1m-7 1h1m1 0h1m0 0h1m1 0h1m0 0h1m0 0h1m0 0h1m-6 1h1m2 0h1m-10 1h1m3 0h1m0 0h1m0 0h1m0 0h1m0 0h1m-9 1h1m2 0h1m2 0h1m0 0h1m-8 1h1m1 0h1m0 0h1m0 0h1m1 0h1m1 0h1m-10 1h1m0 0h1m1 0h1m0 0h1m0 0h1m1 0h1m1 0h1m-12 1h1m0 0h1m1 0h1m0 0h1m2 0h1m0 0h1m1 0h1m0 0h1m-12 1h1m0 0h1m0 0h1m2 0h1m-11 1h1m1 0h1m0 0h1m1 0h1m-5 1h1m0 0h1m0 0h1m-5 1h1m1 0h1m0 0h1m1 0h1m0 0h1m1 0h1m-9 1h1m0 0h1m0 0h1m0 0h1m0 0h1m0 0h1m-5 1h1m0 0h1m0 0h1m0 0h1m0 0h1m-2 1h1m0 0h1" stroke="#0096f0" stroke-width="1" stroke-linecap="square"/>
<path d="M1873 1072h1m0 1h1m0 0h1m5 0h1m1 0h1m0 0h1m-15 1h1m-3 1h1m2 0h1m2 0h1m-5 1h1m1 0h1m24 0h1m-35 1h1m4 0h1m30 0h1m-36 1h1m34 0h1m-39 1h1m3 0h1m-8 1h1m2 0h1m0 0h1m-4 1h1m3 0h1m1 0h1m35 0h1m-44 2h1m6 1h1m1 0h1m-7 1h1m2 0h1m2 1h1m-7 1h1m5 0h1m-5 1h1m30 0h1m-23 1h1m9 0h1m-3 1h1m11 0h1m-20 1h1m18 0h1m-25 1h1m22 0h1m-24 1h1m19 0h1m-22 1h1m3 0h1m20 0h1m-29 1h1m22 1h1m-25 1h1m-3 1h1m2 0h1m19 0h1m-20 1h1m19 1h1m-29 1h1m1 1h1m22 0h1m-22 1h1m-3 2h1m22 1h1m-31 1h1m28 0h1m-3 2h1m-2 1h1m1 1h1m-31 1h1m23 1h1m-24 1h1m0 1h1m0 1h1m18 0h1m-21 1h1m18 0h1m-24 2h1m2 0h1m5 0h1m2 0h1m8 0h1m-14 1h1m0 0h1m4 0h1m-4 1h1m0 0h1m2 0h1m3 0h1m2 0h1m0 0h1m-22 1h1m5 1h1m4 0h1m-8 1h1m4 0h1m2 0h1" stroke="#2832f7" stroke-width="1" stroke-linecap="square"/>
<path d="M1891 1067h1m-24 3h1m14 0h1m9 2h1m7 4h1m-46 2h1m0 0h1m-10 3h1m5 0h1m-2 1h1m0 0h1m-5 1h1m3 2h1m-1 1h1m4 0h1m41 0h1m-70 1h1m26 2h1m0 0h1m3 0h1m-5 2h1m7 0h1m33 1h1m-8 1h1m-43 1h1m39 0h1m-38 1h1m37 2h1m-36 1h1m27 0h1m-41 2h1m10 0h1m0 0h1m31 0h1m-38 1h1m-3 2h1m-2 1h1m36 0h1m-4 1h1m7 1h1m-52 1h1m7 0h1m36 0h1m-41 2h1m-3 2h1m39 0h1m0 0h1m-44 1h1m38 0h1m-1 1h1m-36 1h1m30 0h1m-36 3h1m6 1h1m29 0h1m-8 1h1m-33 1h1m38 0h1m-36 1h1m26 0h1m3 0h1m-30 1h1m3 0h1m-6 1h1m6 0h1m13 0h1m28 0h1m-55 1h1m4 0h1m41 0h1m-29 1h1m-12 1h1m8 0h1m4 1h1m5 0h1m-19 1h1m2 0h1m-4 3h1m19 0h1m-31 2h1m34 0h1" stroke="#3538fc" stroke-width="1" stroke-linecap="square"/>
<path d="M1875 1074h1m1 1h1m-3 1h1m-5 1h1m-2 2h1m-5 1h1m0 1h1m1 0h1m0 0h1m0 0h1m-3 1h1m1 0h1m-1 1h1m-3 1h1m0 0h1m0 0h1m24 0h1m1 0h1m-27 2h1m1 0h1m0 0h1m0 0h1m1 0h1m-5 2h1m0 0h1m2 0h1m5 1h1m0 0h1m2 0h1m-2 1h1m-3 1h1m0 0h1m2 0h1m-16 1h1m-2 1h1m-3 2h1m12 0h1m-1 1h1m0 0h1m0 0h1m-18 1h1m14 0h1m-18 2h1m0 0h1m-2 1h1m-5 2h1m1 0h1m-3 1h1m14 1h1m-19 2h1m0 0h1m0 0h1m15 0h1m-25 1h1m0 0h1m2 0h1m-3 1h1m-2 1h1m3 0h1m15 1h1m0 0h1m-25 1h1m0 0h1m-1 1h1m21 0h1m-6 1h1m-2 1h1m1 0h1m-16 2h1m6 0h1m-9 1h1m8 0h1m0 0h1m-2 1h1" stroke="#1a2bf2" stroke-width="1" stroke-linecap="square"/>
<path d="M1884 1074h1m1 0h1m2 0h1m-3 1h1m0 0h1m0 0h1m-5 1h1m0 0h1m0 0h1m0 0h1m0 0h1m-10 1h1m13 0h1m0 0h1m-17 1h1m13 0h1m0 0h1m-17 1h1m1 0h1m12 0h1m0 0h1m0 0h1m-17 1h1m13 0h1m0 0h1m0 0h1m-17 1h1m0 0h1m12 0h1m0 0h1m0 0h1m-17 1h1m0 0h1m14 0h1m-14 1h1m7 0h1m0 0h1m0 0h1m-3 1h1m1 0h1m-12 1h1m1 0h1m6 0h1m-16 13h1m0 0h1m0 0h1m-3 1h1m0 0h1m-1 1h1m0 0h1" stroke="#00b7ba" stroke-width="1" stroke-linecap="square"/>
<path d="M1885 1077h1m0 0h1m1 0h1m0 0h1m-6 1h1m0 0h1m0 0h1m0 0h1m0 0h1m0 0h1m-6 1h1m0 0h1m0 0h1m0 0h1m0 0h1m0 0h1m-6 1h1m1 0h1m0 0h1m0 0h1m0 0h1m-6 1h1m0 0h1m0 0h1m0 0h1m0 0h1m0 0h1m-6 1h1m0 0h1m0 0h1m1 0h1m0 0h1" stroke="#f76900" stroke-width="1" stroke-linecap="square"/>
<path d="M1882 1077h1m0 0h1m6 0h1m1 0h1m-12 1h1m0 0h1m0 0h1m6 0h1m0 0h1m0 0h1m-12 1h1m0 0h1m0 0h1m6 0h1m0 0h1m0 0h1m-12 1h1m0 0h1m0 0h1m-2 1h1m0 0h1m-3 1h1m0 0h1m4 1h1m0 0h1m0 0h1m-2 1h1m0 0h1m-2 1h1" stroke="#66d72c" stroke-width="1" stroke-linecap="square"/>
<path d="M1890 1080h1m0 0h1m0 0h1m-2 1h1m0 0h1m-3 1h1m0 0h1m0 0h1" stroke="#e8dc00" stroke-width="1" stroke-linecap="square"/>
<path d="M1885 1083h1m0 0h1m-3 1h1m1 0h1m-3 1h1" stroke="#19cc76" stroke-width="1" stroke-linecap="square"/>
<line x1="1874.7" y1="1043.6" x2="1874.7" y2="1163.9" stroke="#5a5a5a" stroke-width="1.4"/>
<line x1="1784.8" y1="1088" x2="1905.1" y2="1088" stroke="#5a5a5a" stroke-width="1.4"/>
<text x="1789.3" y="1055.1" font-size="11" fill="#222">5.19</text>
<text x="1900.6" y="1055.1" font-size="11" text-anchor="end" fill="#222">47.3</text>
<text x="1789.3" y="1160.4" font-size="11" fill="#222">35.0</text>
<text x="1900.6" y="1160.4" font-size="11" text-anchor="end" fill="#222">12.5</text>
<text class="k" x="1790.5" y="1174.4">10<tspan dy="-3">0</tspan></text>
<text class="k" transform="translate(1781.8 1161.2) rotate(-90)">10<tspan dy="-3">0</tspan></text>
<text class="k" x="1806.8" y="1174.4">10<tspan dy="-3">1</tspan></text>
<text class="k" transform="translate(1781.8 1145) rotate(-90)">10<tspan dy="-3">1</tspan></text>
<text class="k" x="1823.1" y="1174.4">10<tspan dy="-3">2</tspan></text>
<text class="k" transform="translate(1781.8 1128.7) rotate(-90)">10<tspan dy="-3">2</tspan></text>
<text class="k" x="1839.4" y="1174.4">10<tspan dy="-3">3</tspan></text>
<text class="k" transform="translate(1781.8 1112.5) rotate(-90)">10<tspan dy="-3">3</tspan></text>
<text class="k" x="1855.7" y="1174.4">10<tspan dy="-3">4</tspan></text>
<text class="k" transform="translate(1781.8 1096.3) rotate(-90)">10<tspan dy="-3">4</tspan></text>
<text class="k" x="1872" y="1174.4">10<tspan dy="-3">5</tspan></text>
<text class="k" transform="translate(1781.8 1080.1) rotate(-90)">10<tspan dy="-3">5</tspan></text>
<text class="k" x="1888.3" y="1174.4">10<tspan dy="-3">6</tspan></text>
<text class="k" transform="translate(1781.8 1063.8) rotate(-90)">10<tspan dy="-3">6</tspan></text>
<text class="k" x="1904.6" y="1174.4">10<tspan dy="-3">7</tspan></text>
<text class="k" transform="translate(1781.8 1047.6) rotate(-90)">10<tspan dy="-3">7</tspan></text>
<text x="1613" y="907.5" font-size="21.1" text-anchor="middle" transform="rotate(-90 1613 907.5)">PI</text>
<line x1="1605" y1="954.5" x2="1605" y2="1195.2" stroke="#4472c4" stroke-width="1.6"/>
<path d="M1605 939L1597.5 955.5H1612.5Z" fill="#4472c4"/>
<line x1="1605" y1="1195.2" x2="1868.9" y2="1195.2" stroke="#4472c4" stroke-width="1.6"/>
<path d="M1884.4 1195.2L1867.9 1187.7V1202.7Z" fill="#4472c4"/>
<text x="1908.7" y="1205" font-size="20.9">Annexin-V</text>
<text x="1932" y="964.6" font-size="21.3" text-anchor="middle" transform="rotate(-90 1932 964.6)">Untreated</text>
<text x="1932" y="1110.4" font-size="21.3" text-anchor="middle" transform="rotate(-90 1932 1110.4)">sorafenib</text>
<rect x="1687.6" y="1492.4" width="25" height="8.6" fill="#c0befc"/>
<rect x="1719.9" y="1491.5" width="25" height="9.5" fill="#fb9fa2"/>
<rect x="1774.3" y="1348.7" width="25" height="152.3" fill="#c0befc"/>
<rect x="1806.7" y="1295.6" width="25" height="205.4" fill="#fb9fa2"/>
<line x1="1700.1" y1="1492.4" x2="1700.1" y2="1491.1" stroke="#000" stroke-width="2.2"/>
<line x1="1695.1" y1="1491.1" x2="1705.1" y2="1491.1" stroke="#000" stroke-width="2.2"/>
<line x1="1732.4" y1="1491.5" x2="1732.4" y2="1489.3" stroke="#000" stroke-width="2.2"/>
<line x1="1727.4" y1="1489.3" x2="1737.4" y2="1489.3" stroke="#000" stroke-width="2.2"/>
<line x1="1786.8" y1="1348.7" x2="1786.8" y2="1342.6" stroke="#000" stroke-width="2.2"/>
<line x1="1781.8" y1="1342.6" x2="1791.8" y2="1342.6" stroke="#000" stroke-width="2.2"/>
<line x1="1819.2" y1="1295.6" x2="1819.2" y2="1292.2" stroke="#000" stroke-width="2.2"/>
<line x1="1814.2" y1="1292.2" x2="1824.2" y2="1292.2" stroke="#000" stroke-width="2.2"/>
<line x1="1673" y1="1240.7" x2="1673" y2="1502.4" stroke="#000" stroke-width="2.8"/>
<line x1="1668" y1="1501" x2="1846.8" y2="1501" stroke="#000" stroke-width="2.8"/>
<line x1="1668" y1="1501" x2="1673" y2="1501" stroke="#000" stroke-width="2.8"/>
<text x="1664" y="1508.9" font-size="22" text-anchor="end">0</text>
<line x1="1668" y1="1414.7" x2="1673" y2="1414.7" stroke="#000" stroke-width="2.8"/>
<text x="1664" y="1422.6" font-size="22" text-anchor="end">20</text>
<line x1="1668" y1="1328.4" x2="1673" y2="1328.4" stroke="#000" stroke-width="2.8"/>
<text x="1664" y="1336.3" font-size="22" text-anchor="end">40</text>
<line x1="1668" y1="1242.1" x2="1673" y2="1242.1" stroke="#000" stroke-width="2.8"/>
<text x="1664" y="1250" font-size="22" text-anchor="end">60</text>
<line x1="1716.3" y1="1501" x2="1716.3" y2="1507.5" stroke="#000" stroke-width="2.8"/>
<line x1="1802.5" y1="1501" x2="1802.5" y2="1507.5" stroke="#000" stroke-width="2.8"/>
<text x="1721.3" y="1520.5" font-size="21.6" text-anchor="end" transform="rotate(-45 1721.3 1520.5)">Untreated</text>
<text x="1807.5" y="1520.5" font-size="21.6" text-anchor="end" transform="rotate(-45 1807.5 1520.5)">Sorafenib</text>
<path d="M1785.5 1288.5V1284H1816.4V1288.5" stroke="#666" stroke-width="1.3" fill="none"/>
<text x="1801.7" y="1288.6" font-size="21" text-anchor="middle" letter-spacing="1.5">**</text>
<rect x="1846" y="1251.6" width="31.1" height="16.5" fill="#c0befc"/>
<rect x="1846" y="1281.5" width="31.1" height="16.5" fill="#fb9fa2"/>
<text x="1891.7" y="1267.6" font-size="21.4">Vector</text>
<text x="1891.7" y="1297.5" font-size="21.4">PID1</text>
<text x="1626.8" y="1370.2" font-size="20.9" text-anchor="middle" transform="rotate(-90 1626.8 1370.2)">% late apoptotic/necrotic cells</text>
<text x="0" y="1656.5" font-size="31.8" font-weight="bold">I</text>
<text x="120" y="1730.5" font-size="21.4" text-anchor="middle">Vector</text>
<text x="263.6" y="1730.5" font-size="21.4" text-anchor="middle">PID1</text>
<rect x="55.7" y="1747.3" width="120" height="120.8" fill="none" stroke="#b8b8b8" stroke-width="1.2"/>
<ellipse cx="148.1" cy="1771.5" rx="15.1" ry="8.9" fill="url(#gW)" transform="rotate(-85 148.1 1771.5)"/>
<path d="M148 1764h1m-1 2h1m2 1h1m-2 1h1m0 0h1m0 0h1m-3 2h1m-1 1h1m0 3h1m0 0h1m-3 1h1m-7 1h1m0 0h1m-2 2h1m1 0h1m-2 1h1m0 1h1m3 0h1m0 0h1m0 0h1m-7 1h1m0 0h1m3 0h1m0 0h1m-7 1h1m4 0h1m-8 1h1m0 0h1m4 0h1m0 0h1m-1 1h1m-1 1h1m0 1h1m-6 2h1m0 0h1m-2 1h1m-1 1h1m-7 1h1m0 0h1m5 0h1m0 0h1m-8 1h1m0 0h1m4 0h1m-6 1h1m3 0h1m-10 1h1m8 0h1m0 0h1m-10 1h1m-1 1h1m0 0h1m6 0h1m-16 9h1m0 0h1m0 0h1m-4 7h1m6 0h1m1 0h1m-12 1h1m0 0h1m0 0h1m6 0h1m-8 2h1m5 0h1m-12 1h1m0 0h1m0 0h1m0 0h1m5 0h1m1 0h1m-11 1h1m0 0h1m2 0h1m3 0h1" stroke="#00b7ba" stroke-width="1" stroke-linecap="square"/>
<path d="M146 1767h1m0 0h1m0 0h1m-1 1h1m0 0h1m-5 1h1m0 0h1m0 0h1m1 0h1m-3 7h1m1 1h1m-3 1h1m1 0h1m-3 7h1m-2 1h1m0 0h1m-3 1h1m0 0h1m1 0h1m-5 3h1m0 0h1m0 0h1m-3 1h1m1 0h1m-3 1h1m0 0h1m-5 2h1m1 0h1m-2 1h1m3 0h1m-5 1h1m1 0h1m0 0h1m-6 1h1m1 0h1m0 0h1m0 0h1m0 0h1m0 0h1m-9 1h1m1 0h1m0 0h1m0 0h1m0 0h1m1 0h1m-7 1h1m1 0h1m4 0h1m-12 1h1m0 0h1m8 0h1m0 0h1m-11 1h1m0 0h1m-3 1h1m1 0h1m7 0h1m-5 1h1m0 1h1m0 0h1m-11 3h1m0 0h1m-1 1h1m-3 1h1m5 0h1m1 0h1m-7 1h1m3 0h1m1 0h1m-7 1h1m3 0h1m-5 4h1m-3 1h1m1 0h1m-2 1h1" stroke="#19cc76" stroke-width="1" stroke-linecap="square"/>
<path d="M146 1764h1m4 1h1m-8 1h1m0 0h1m0 0h1m3 0h1m1 0h1m-10 5h1m-1 1h1m-3 2h1m8 3h1m-1 1h1m-9 10h1m0 1h1m6 0h1m0 0h1m0 0h1m-11 1h1m8 2h1m-2 1h1m-15 4h1m0 1h1m9 0h1m0 0h1m-14 1h1m11 0h1m0 0h1m-16 1h1m14 0h1m-15 2h1m9 1h1m0 0h1m0 1h1m-3 1h1m-4 1h1m-1 1h1m1 0h1m-15 2h1m-1 1h1m0 1h1m0 0h1m-6 1h1m1 0h1m-3 1h1m1 1h1m-5 1h1m0 1h1m1 2h1m1 0h1m0 0h1m-7 1h1m2 0h1m2 0h1m-7 1h1m0 0h1m0 0h1m1 0h1m2 0h1m-5 2h1m-1 1h1m-2 1h1m0 0h1m0 0h1m-1 1h1m-2 1h1" stroke="#0096f0" stroke-width="1" stroke-linecap="square"/>
<path d="M144 1770h1m0 0h1m2 0h1m-5 1h1m0 0h1m0 0h1m0 0h1m0 0h1m0 0h1m-6 1h1m3 0h1m0 0h1m-6 1h1m0 0h1m0 0h1m0 1h1m0 0h1m0 0h1m-5 1h1m0 0h1m1 0h1m0 0h1m-3 7h1m0 0h1m0 0h1m-3 2h1m0 0h1m0 0h1m-11 16h1m0 0h1m1 0h1m-5 2h1m0 0h1m0 0h1m0 0h1m-6 1h1m0 0h1m0 0h1m0 0h1m-5 1h1m0 0h1m1 0h1m-3 1h1m1 0h1m0 0h1m0 0h1m-2 1h1m-2 1h1m1 0h1m-3 1h1m-6 4h1m0 0h1m0 0h1m0 0h1m0 0h1m-5 1h1m-2 1h1m1 0h1m2 0h1" stroke="#66d72c" stroke-width="1" stroke-linecap="square"/>
<path d="M147 1761h1m0 0h1m-4 1h1m0 0h1m1 0h1m2 0h1m-7 1h1m5 0h1m-9 4h1m-3 2h1m11 1h1m0 0h1m-2 1h1m-12 7h1m-1 1h1m-2 2h1m-3 11h1m0 0h1m11 3h1m-2 1h1m-5 8h1m0 0h1m-2 1h1m-19 3h1m14 0h1m-2 1h1m-3 1h1m-17 2h1m-1 1h1m13 2h1m0 0h1m-3 1h1m-7 3h1m3 0h1m0 0h1m-4 1h1m1 0h1m-14 3h1m5 0h1m-7 1h1m5 1h1m1 0h1m-12 1h1m0 0h1m0 0h1m1 1h1m1 0h1m1 0h1m-5 1h1m0 0h1m1 0h1m-5 1h1m3 0h1" stroke="#0d4cf0" stroke-width="1" stroke-linecap="square"/>
<path d="M150 1758h1m-2 1h1m-5 1h1m0 0h1m1 0h1m-7 2h1m-1 4h1m11 8h1m-2 1h1m-1 3h1m0 3h1m-2 1h1m-1 2h1m-1 3h1m-1 1h1m-1 1h1m1 0h1m-3 3h1m-1 1h1m-18 1h1m0 0h1m-3 1h1m-5 5h1m-3 2h1m1 1h1m11 11h1m-24 2h1m1 0h1m-1 4h1m-4 1h1m2 0h1m-2 1h1m12 0h1m-17 1h1m2 0h1m-1 5h1m-1 2h1m0 0h1m-1 2h1" stroke="#1a2bf2" stroke-width="1" stroke-linecap="square"/>
<path d="M144 1757h1m3 0h1m0 0h1m4 1h1m-13 2h1m11 2h1m-16 1h1m14 0h1m-15 2h1m16 5h1m-18 3h1m-3 4h1m17 13h1m1 3h1m-4 1h1m-3 1h1m-1 2h1m-4 6h1m-24 2h1m22 0h1m-24 1h1m-4 2h1m0 0h1m-1 3h1m-4 2h1m18 2h1m-24 5h1m16 2h1m-17 3h1m14 1h1m-17 4h1m-1 3h1m1 2h1m2 0h1" stroke="#2832f7" stroke-width="1" stroke-linecap="square"/>
<path d="M151 1751h1m2 1h1m-14 5h1m-5 12h1m21 3h1m-3 5h1m-22 7h1m-9 10h1m1 1h1m25 6h1m-15 19h1m-27 8h1m17 3h1m-24 5h1m6 0h1m1 1h1m-5 2h1m-9 4h1m-3 1h1m5 0h1" stroke="#3538fc" stroke-width="1" stroke-linecap="square"/>
<path d="M135 1806h1m0 0h1m-2 1h1m0 0h1m0 0h1m-2 1h1m0 0h1m-3 1h1m0 0h1m-2 1h1m0 0h1m-2 1h1m0 0h1" stroke="#e8dc00" stroke-width="1" stroke-linecap="square"/>
<line x1="123" y1="1747.3" x2="123" y2="1868.1" stroke="#5a5a5a" stroke-width="1.4"/>
<line x1="55.7" y1="1783.2" x2="175.7" y2="1783.2" stroke="#5a5a5a" stroke-width="1.4"/>
<text x="60.2" y="1758.8" font-size="11" fill="#222">0</text>
<text x="171.2" y="1758.8" font-size="11" text-anchor="end" fill="#222">58.4</text>
<text x="60.2" y="1864.6" font-size="11" fill="#222">0.77</text>
<text x="171.2" y="1864.6" font-size="11" text-anchor="end" fill="#222">40.8</text>
<text class="k" x="61.4" y="1878.6">10<tspan dy="-3">0</tspan></text>
<text class="k" transform="translate(52.7 1865.4) rotate(-90)">10<tspan dy="-3">0</tspan></text>
<text class="k" x="77.7" y="1878.6">10<tspan dy="-3">1</tspan></text>
<text class="k" transform="translate(52.7 1849.1) rotate(-90)">10<tspan dy="-3">1</tspan></text>
<text class="k" x="93.9" y="1878.6">10<tspan dy="-3">2</tspan></text>
<text class="k" transform="translate(52.7 1832.8) rotate(-90)">10<tspan dy="-3">2</tspan></text>
<text class="k" x="110.2" y="1878.6">10<tspan dy="-3">3</tspan></text>
<text class="k" transform="translate(52.7 1816.5) rotate(-90)">10<tspan dy="-3">3</tspan></text>
<text class="k" x="126.4" y="1878.6">10<tspan dy="-3">4</tspan></text>
<text class="k" transform="translate(52.7 1800.2) rotate(-90)">10<tspan dy="-3">4</tspan></text>
<text class="k" x="142.7" y="1878.6">10<tspan dy="-3">5</tspan></text>
<text class="k" transform="translate(52.7 1783.9) rotate(-90)">10<tspan dy="-3">5</tspan></text>
<text class="k" x="158.9" y="1878.6">10<tspan dy="-3">6</tspan></text>
<text class="k" transform="translate(52.7 1767.6) rotate(-90)">10<tspan dy="-3">6</tspan></text>
<text class="k" x="175.2" y="1878.6">10<tspan dy="-3">7</tspan></text>
<text class="k" transform="translate(52.7 1751.3) rotate(-90)">10<tspan dy="-3">7</tspan></text>
<rect x="200.8" y="1747.3" width="120" height="120.8" fill="none" stroke="#b8b8b8" stroke-width="1.2"/>
<ellipse cx="294.4" cy="1771.5" rx="16.4" ry="10.1" fill="url(#gW)" transform="rotate(-85 294.4 1771.5)"/>
<path d="M299 1767h1m-8 1h1m0 0h1m3 0h1m0 0h1m0 0h1m-8 1h1m4 0h1m-1 7h1m0 0h1m0 0h1m-2 1h1m0 1h1m-5 1h1m0 0h1m-6 1h1m0 0h1m3 0h1m-6 1h1m0 0h1m1 0h1m0 0h1m-2 2h1m0 0h1m0 1h1m-6 4h1m3 0h1m-4 1h1m3 0h1m-5 1h1m1 0h1m0 0h1m0 0h1m-7 1h1m4 0h1m0 0h1m-7 1h1m4 0h1m0 0h1m-9 1h1m0 0h1m4 0h1m-5 4h1m3 0h1m1 0h1m-9 1h1m1 0h1m3 0h1m0 0h1m-8 1h1m7 0h1m-6 1h1m0 0h1m-2 1h1m-1 1h1m1 0h1m-15 4h1m1 0h1m6 0h1m0 0h1m-11 1h1m10 0h1m-12 1h1m0 0h1m7 0h1m-9 1h1m6 0h1m-8 1h1m5 0h1m0 0h1m-9 1h1m7 0h1m-5 1h1m1 0h1m0 0h1m-8 1h1m0 0h1m1 0h1m1 0h1m-6 1h1m1 0h1m0 0h1m0 0h1m1 0h1m-4 1h1m1 0h1m-2 1h1m0 0h1m-2 1h1" stroke="#00b7ba" stroke-width="1" stroke-linecap="square"/>
<path d="M291 1764h1m1 0h1m3 0h1m0 1h1m-8 1h1m9 1h1m-13 1h1m-2 1h1m1 0h1m10 0h1m-1 1h1m-12 1h1m9 0h1m-12 1h1m10 0h1m1 0h1m-3 1h1m0 0h1m-13 9h1m7 0h1m-10 1h1m0 0h1m-2 1h1m1 0h1m6 0h1m1 0h1m-3 1h1m0 0h1m-2 1h1m1 1h1m-15 6h1m0 1h1m0 0h1m-1 1h1m10 3h1m0 0h1m-3 1h1m0 0h1m-20 2h1m0 1h1m-5 1h1m0 0h1m13 0h1m-14 1h1m12 0h1m-14 1h1m14 0h1m-17 2h1m0 0h1m-2 1h1m-2 1h1m12 0h1m0 0h1m-2 1h1m-2 1h1m0 0h1m-16 1h1m3 0h1m-4 1h1m2 0h1m-6 1h1m0 0h1m1 0h1m-3 1h1m0 1h1m9 0h1m-11 1h1m9 0h1m-10 1h1m0 0h1m0 0h1m3 0h1m2 0h1m-4 1h1m1 0h1m2 0h1m-4 1h1m1 0h1m-11 1h1m2 0h1m-4 1h1m2 0h1m1 0h1m-6 1h1m0 0h1m2 0h1" stroke="#0d4cf0" stroke-width="1" stroke-linecap="square"/>
<path d="M295 1767h1m0 0h1m-3 1h1m0 0h1m-2 1h1m0 0h1m-5 1h1m0 0h1m0 0h1m4 0h1m0 0h1m-9 1h1m1 0h1m3 0h1m-6 1h1m0 0h1m4 0h1m-6 1h1m5 0h1m-8 1h1m4 0h1m1 0h1m-8 1h1m0 0h1m4 0h1m0 0h1m-8 1h1m0 0h1m-2 2h1m-1 13h1m0 0h1m-3 1h1m0 0h1m0 1h1m-4 1h1m2 0h1m2 0h1m-9 1h1m0 0h1m0 0h1m0 0h1m0 0h1m0 0h1m0 0h1m0 0h1m-8 1h1m0 0h1m2 1h1m0 0h1m-2 1h1m0 0h1m-1 1h1m-7 1h1m1 0h1m-1 1h1m-4 1h1m0 0h1m0 0h1m1 0h1m-9 1h1m0 0h1m0 0h1m3 0h1m-5 1h1m3 0h1m0 0h1m-7 1h1m4 0h1m0 0h1m0 0h1m-9 4h1m0 0h1m0 0h1m-3 1h1m0 1h1m0 0h1" stroke="#19cc76" stroke-width="1" stroke-linecap="square"/>
<path d="M291 1761h1m1 0h1m4 0h1m-4 1h1m2 0h1m0 0h1m-10 1h1m2 0h1m3 0h1m2 2h1m0 0h1m-14 1h1m1 0h1m-5 7h1m-2 1h1m0 2h1m15 0h1m-18 1h1m1 0h1m13 1h1m-15 1h1m-2 1h1m-1 1h1m13 2h1m1 0h1m-1 1h1m-17 1h1m13 1h1m-1 1h1m-14 1h1m-3 1h1m0 0h1m0 1h1m13 0h1m-2 2h1m1 0h1m-1 3h1m-21 2h1m0 0h1m-2 1h1m14 2h1m-2 6h1m-2 1h1m0 0h1m-3 1h1m-6 4h1m-18 5h1m-3 1h1m1 1h1m1 0h1m0 2h1m7 0h1m-11 1h1m1 0h1m6 1h1m1 0h1m-12 1h1m0 0h1m2 1h1m-3 1h1m0 0h1" stroke="#1a2bf2" stroke-width="1" stroke-linecap="square"/>
<path d="M294 1764h1m1 2h1m-8 8h1m-2 2h1m1 1h1m-2 1h1m7 1h1m0 0h1m0 2h1m-7 1h1m-3 1h1m1 0h1m-3 1h1m0 0h1m1 1h1m-3 1h1m0 0h1m0 0h1m-4 1h1m0 0h1m1 0h1m0 0h1m-7 1h1m0 0h1m-1 1h1m7 0h1m-11 1h1m1 0h1m6 1h1m0 0h1m-2 2h1m0 0h1m-1 1h1m-2 1h1m-13 2h1m0 0h1m8 3h1m0 1h1m-13 1h1m-4 1h1m-1 2h1m-6 10h1m3 0h1m0 0h1m-4 1h1m2 0h1m-5 1h1m2 2h1" stroke="#0096f0" stroke-width="1" stroke-linecap="square"/>
<path d="M288 1758h1m-2 4h1m14 0h1m-17 2h1m18 5h1m-20 1h1m16 4h1m-19 8h1m1 0h1m-5 6h1m0 1h1m-5 8h1m19 1h1m-20 1h1m-4 3h1m18 1h1m0 1h1m-24 2h1m21 0h1m-1 1h1m-27 3h1m-2 1h1m0 3h1m16 1h1m-20 1h1m18 0h1m1 0h1m-22 2h1m-3 1h1m1 2h1m-1 1h1m14 2h1m-10 3h1m-6 1h1m8 0h1m-3 1h1m-8 2h1m-1 1h1" stroke="#2832f7" stroke-width="1" stroke-linecap="square"/>
<path d="M295 1771h1m-1 1h1m0 0h1m-3 4h1m0 0h1m0 0h1m-3 1h1m0 0h1m0 0h1m-2 1h1m-11 25h1m0 0h1m0 0h1m-2 1h1m0 0h1m-3 1h1m0 0h1m-5 1h1m0 0h1m0 0h1m2 0h1m-5 1h1m0 0h1m0 0h1m0 0h1m0 0h1m-5 1h1" stroke="#66d72c" stroke-width="1" stroke-linecap="square"/>
<path d="M295 1750h1m-10 5h1m6 0h1m-6 1h1m18 1h1m-4 5h1m-2 28h1m-26 9h1m25 0h1m-34 9h1m22 4h1m1 0h1m-31 9h1m-3 7h1m19 2h1m-14 3h1m3 0h1" stroke="#3538fc" stroke-width="1" stroke-linecap="square"/>
<path d="M294 1773h1m0 0h1m0 0h1m-3 1h1m0 0h1m0 0h1m-1 1h1" stroke="#e8dc00" stroke-width="1" stroke-linecap="square"/>
<line x1="268.1" y1="1747.3" x2="268.1" y2="1868.1" stroke="#5a5a5a" stroke-width="1.4"/>
<line x1="200.8" y1="1783.2" x2="320.8" y2="1783.2" stroke="#5a5a5a" stroke-width="1.4"/>
<text x="205.3" y="1758.8" font-size="11" fill="#222">0</text>
<text x="316.3" y="1758.8" font-size="11" text-anchor="end" fill="#222">57.6</text>
<text x="205.3" y="1864.6" font-size="11" fill="#222">0.025</text>
<text x="316.3" y="1864.6" font-size="11" text-anchor="end" fill="#222">42.4</text>
<text class="k" x="206.5" y="1878.6">10<tspan dy="-3">0</tspan></text>
<text class="k" transform="translate(197.8 1865.4) rotate(-90)">10<tspan dy="-3">0</tspan></text>
<text class="k" x="222.8" y="1878.6">10<tspan dy="-3">1</tspan></text>
<text class="k" transform="translate(197.8 1849.1) rotate(-90)">10<tspan dy="-3">1</tspan></text>
<text class="k" x="239" y="1878.6">10<tspan dy="-3">2</tspan></text>
<text class="k" transform="translate(197.8 1832.8) rotate(-90)">10<tspan dy="-3">2</tspan></text>
<text class="k" x="255.3" y="1878.6">10<tspan dy="-3">3</tspan></text>
<text class="k" transform="translate(197.8 1816.5) rotate(-90)">10<tspan dy="-3">3</tspan></text>
<text class="k" x="271.5" y="1878.6">10<tspan dy="-3">4</tspan></text>
<text class="k" transform="translate(197.8 1800.2) rotate(-90)">10<tspan dy="-3">4</tspan></text>
<text class="k" x="287.8" y="1878.6">10<tspan dy="-3">5</tspan></text>
<text class="k" transform="translate(197.8 1783.9) rotate(-90)">10<tspan dy="-3">5</tspan></text>
<text class="k" x="304" y="1878.6">10<tspan dy="-3">6</tspan></text>
<text class="k" transform="translate(197.8 1767.6) rotate(-90)">10<tspan dy="-3">6</tspan></text>
<text class="k" x="320.3" y="1878.6">10<tspan dy="-3">7</tspan></text>
<text class="k" transform="translate(197.8 1751.3) rotate(-90)">10<tspan dy="-3">7</tspan></text>
<rect x="55.7" y="1890.7" width="120" height="120.8" fill="none" stroke="#b8b8b8" stroke-width="1.2"/>
<ellipse cx="145.7" cy="1913.7" rx="12.6" ry="7.6" fill="url(#gH)" transform="rotate(-85 145.7 1913.7)"/>
<path d="M144 1902h1m1 0h1m-9 7h1m13 0h1m-2 1h1m0 0h1m-3 1h1m-12 1h1m0 0h1m11 1h1m-12 10h1m0 0h1m0 1h1m7 0h1m-7 3h1m1 0h1m0 1h1m-1 1h1m1 0h1m-4 1h1m0 1h1m1 0h1m-6 1h1m6 1h1m-9 1h1m0 1h1m-2 1h1m0 0h1m8 0h1m-10 1h1m0 0h1m-5 2h1m10 3h1m0 2h1m-2 2h1m1 0h1m-3 2h1m-4 5h1m-1 1h1m-1 1h1m0 0h1m-5 1h1m-18 1h1m-1 2h1m0 0h1m-1 1h1m12 0h1m-15 1h1m1 1h1m-1 1h1m6 0h1m-8 1h1" stroke="#1a2bf2" stroke-width="1" stroke-linecap="square"/>
<path d="M145 1905h1m0 0h1m-3 1h1m1 0h1m-2 1h1m-4 1h1m5 0h1m-8 1h1m5 0h1m0 0h1m-8 1h1m1 0h1m5 0h1m-3 10h1m0 0h1m0 1h1m0 17h1m0 0h1m0 0h1m-7 1h1m3 0h1m1 0h1m-3 1h1m0 0h1m0 0h1m-3 1h1m-10 1h1m0 0h1m-1 1h1m8 0h1m-2 4h1m0 0h1m-2 1h1m-14 2h1m12 0h1m0 0h1m-17 1h1m14 1h1m-4 1h1m0 0h1m-16 4h1m0 0h1m-3 1h1m0 0h1m0 0h1m3 1h1m0 0h1m0 0h1m-6 1h1m0 1h1m1 0h1m1 0h1" stroke="#0096f0" stroke-width="1" stroke-linecap="square"/>
<path d="M144 1912h1m0 0h1m0 0h1m-2 1h1m0 0h1m-6 1h1m1 0h1m-3 1h1m0 0h1m0 0h1m-3 1h1m0 0h1m0 0h1m4 1h1m-2 1h1m0 0h1m0 0h1m-3 1h1m0 0h1m0 0h1m-4 22h1m0 0h1m-4 1h1m1 0h1m0 0h1m0 0h1m-4 1h1m0 0h1m0 0h1m1 0h1m-3 7h1m0 0h1m-2 1h1m-1 1h1m0 0h1m-5 1h1m0 0h1m0 0h1m-10 3h1m-3 1h1m0 0h1m-2 1h1" stroke="#19cc76" stroke-width="1" stroke-linecap="square"/>
<path d="M143 1905h1m4 0h1m-6 1h1m3 0h1m-7 1h1m0 0h1m0 0h1m3 0h1m4 11h1m-3 1h1m0 1h1m-9 1h1m6 0h1m1 0h1m-10 1h1m7 0h1m-7 1h1m0 0h1m-1 1h1m2 8h1m-2 1h1m-1 2h1m0 0h1m0 0h1m1 0h1m-3 1h1m-2 1h1m0 0h1m-11 9h1m-4 1h1m-4 6h1m-3 1h1m-1 5h1m1 0h1m-2 1h1m9 0h1m-9 2h1m1 0h1m-3 1h1m1 0h1m-3 1h1" stroke="#0d4cf0" stroke-width="1" stroke-linecap="square"/>
<path d="M145 1909h1m0 0h1m-3 1h1m0 0h1m0 0h1m-5 1h1m0 0h1m4 0h1m-8 1h1m0 0h1m0 0h1m5 0h1m-7 1h1m5 1h1m-3 1h1m0 1h1m-8 1h1m0 0h1m0 0h1m-2 1h1m0 0h1m-2 1h1m3 1h1m-2 1h1m-1 1h1m3 18h1m-7 4h1m6 1h1m-9 1h1m0 0h1m6 0h1m1 0h1m-13 2h1m-2 1h1m0 0h1m3 7h1m-1 1h1m0 0h1m-1 1h1" stroke="#00b7ba" stroke-width="1" stroke-linecap="square"/>
<path d="M144 1917h1m-1 1h1m0 0h1m0 0h1m-2 1h1m2 25h1m0 0h1m-2 1h1m0 0h1m-2 1h1m0 0h1m-3 1h1m1 0h1m-3 1h1m0 0h1m-2 1h1m0 0h1m0 0h1m-14 4h1m0 0h1m-3 1h1m0 1h1m0 0h1m0 1h1m1 0h1m0 0h1m1 0h1m-6 1h1m1 0h1m0 0h1m0 0h1m0 0h1m-5 1h1m1 0h1m0 0h1" stroke="#66d72c" stroke-width="1" stroke-linecap="square"/>
<path d="M146 1900h1m-1 1h1m0 2h1m2 2h1m-13 2h1m14 1h1m-1 2h1m0 8h1m-2 1h1m-1 4h1m-14 1h1m11 3h1m-11 1h1m7 0h1m4 0h1m-10 2h1m6 1h1m-13 3h1m-1 3h1m14 1h1m-18 1h1m16 0h1m-18 1h1m16 0h1m1 1h1m-3 5h1m-24 5h1m21 0h1m-28 8h1m19 1h1m-21 4h1m8 1h1m-1 1h1m-6 1h1" stroke="#2832f7" stroke-width="1" stroke-linecap="square"/>
<path d="M139 1950h1m3 0h1m-6 1h1m0 0h1m0 0h1m0 0h1m0 0h1m0 0h1m-6 1h1m0 0h1m0 0h1m0 0h1m1 0h1m-6 1h1m0 0h1m1 0h1m1 0h1m-5 1h1m2 0h1m0 0h1m-6 1h1m0 0h1m0 0h1m0 0h1m0 0h1m0 0h1" stroke="#f76900" stroke-width="1" stroke-linecap="square"/>
<path d="M145 1914h1m0 0h1m-2 1h1m0 0h1m-3 1h1m0 0h1m-1 28h1m0 0h1m-2 1h1m0 0h1m-2 1h1m0 0h1m-5 1h1m0 0h1m-2 1h1m0 0h1m2 0h1m-6 1h1m0 0h1m0 0h1m0 0h1m1 0h1m-3 1h1m-1 1h1m0 1h1m0 0h1" stroke="#e8dc00" stroke-width="1" stroke-linecap="square"/>
<path d="M142 1899h1m9 3h1m-16 5h1m20 27h1m5 3h1m-4 1h1m-25 8h1m-13 11h1m-1 6h1m1 3h1m3 2h1m-14 1h1m8 0h1m-5 2h1m5 5h1m-7 2h1" stroke="#3538fc" stroke-width="1" stroke-linecap="square"/>
<line x1="123" y1="1890.7" x2="123" y2="2011.5" stroke="#5a5a5a" stroke-width="1.4"/>
<line x1="55.7" y1="1926.3" x2="175.7" y2="1926.3" stroke="#5a5a5a" stroke-width="1.4"/>
<text x="60.2" y="1902.2" font-size="11" fill="#222">0</text>
<text x="171.2" y="1902.2" font-size="11" text-anchor="end" fill="#222">41.2</text>
<text x="60.2" y="2008" font-size="11" fill="#222">0.029</text>
<text x="171.2" y="2008" font-size="11" text-anchor="end" fill="#222">58.8</text>
<text class="k" x="61.4" y="2022">10<tspan dy="-3">0</tspan></text>
<text class="k" transform="translate(52.7 2008.8) rotate(-90)">10<tspan dy="-3">0</tspan></text>
<text class="k" x="77.7" y="2022">10<tspan dy="-3">1</tspan></text>
<text class="k" transform="translate(52.7 1992.5) rotate(-90)">10<tspan dy="-3">1</tspan></text>
<text class="k" x="93.9" y="2022">10<tspan dy="-3">2</tspan></text>
<text class="k" transform="translate(52.7 1976.2) rotate(-90)">10<tspan dy="-3">2</tspan></text>
<text class="k" x="110.2" y="2022">10<tspan dy="-3">3</tspan></text>
<text class="k" transform="translate(52.7 1959.9) rotate(-90)">10<tspan dy="-3">3</tspan></text>
<text class="k" x="126.4" y="2022">10<tspan dy="-3">4</tspan></text>
<text class="k" transform="translate(52.7 1943.6) rotate(-90)">10<tspan dy="-3">4</tspan></text>
<text class="k" x="142.7" y="2022">10<tspan dy="-3">5</tspan></text>
<text class="k" transform="translate(52.7 1927.3) rotate(-90)">10<tspan dy="-3">5</tspan></text>
<text class="k" x="158.9" y="2022">10<tspan dy="-3">6</tspan></text>
<text class="k" transform="translate(52.7 1911) rotate(-90)">10<tspan dy="-3">6</tspan></text>
<text class="k" x="175.2" y="2022">10<tspan dy="-3">7</tspan></text>
<text class="k" transform="translate(52.7 1894.7) rotate(-90)">10<tspan dy="-3">7</tspan></text>
<rect x="200.8" y="1890.7" width="120" height="120.8" fill="none" stroke="#b8b8b8" stroke-width="1.2"/>
<ellipse cx="292" cy="1912.4" rx="12.6" ry="7.6" fill="url(#gH)" transform="rotate(-85 292 1912.4)"/>
<path d="M292 1905h1m1 0h1m-4 1h1m0 0h1m0 0h1m0 0h1m0 0h1m0 0h1m-4 1h1m0 0h1m-7 2h1m-1 1h1m1 0h1m6 3h1m0 0h1m-2 1h1m-1 1h1m-5 5h1m-1 1h1m-6 1h1m0 0h1m0 0h1m0 0h1m-3 19h1m7 0h1m1 0h1m-12 1h1m0 0h1m7 1h1m0 0h1m-2 1h1m0 0h1m0 0h1m-15 1h1m12 0h1m-14 1h1m11 2h1m-14 1h1m13 0h1m-19 1h1m-2 2h1m1 0h1m12 1h1m0 1h1m-2 1h1m-17 2h1m1 2h1m4 0h1m-6 1h1m0 0h1m3 0h1m0 0h1m-6 1h1m3 0h1m0 0h1" stroke="#0096f0" stroke-width="1" stroke-linecap="square"/>
<path d="M291 1903h1m4 0h1m-7 4h1m-4 6h1m-1 7h1m-2 1h1m0 0h1m1 2h1m0 3h1m5 0h1m-8 1h1m5 0h1m0 0h1m-9 3h1m1 1h1m3 0h1m0 0h1m-3 2h1m-3 1h1m1 0h1m-2 1h1m2 0h1m-1 1h1m-3 1h1m4 0h1m-13 1h1m0 0h1m2 0h1m-4 1h1m12 0h1m-15 3h1m13 1h1m-24 8h1m20 2h1m-2 1h1m-25 5h1m-1 2h1m0 1h1m11 0h1m-14 1h1m-1 2h1m3 1h1m-3 1h1" stroke="#1a2bf2" stroke-width="1" stroke-linecap="square"/>
<path d="M297 1908h1m0 1h1m-2 1h1m-12 5h1m0 0h1m-1 1h1m-3 1h1m1 0h1m-1 1h1m-1 1h1m6 2h1m0 1h1m-4 3h1m0 0h1m-3 1h1m0 1h1m0 0h1m-3 1h1m-1 1h1m1 0h1m2 9h1m1 0h1m0 0h1m-4 1h1m2 0h1m-1 1h1m-1 10h1m-1 2h1m-22 3h1m12 1h1m0 1h1m-4 2h1m-13 1h1m0 0h1m-2 2h1m5 0h1m-4 1h1m2 0h1m-8 1h1m1 0h1" stroke="#0d4cf0" stroke-width="1" stroke-linecap="square"/>
<path d="M288 1947h1m0 0h1m1 0h1m-4 1h1m0 0h1m0 0h1m0 0h1m1 0h1m-5 1h1m0 0h1m1 0h1m0 0h1m-8 1h1m0 0h1m0 0h1m2 0h1m1 0h1m-9 1h1m0 0h1m0 0h1m0 0h1m0 0h1m0 0h1m0 0h1m0 0h1m-8 1h1m0 0h1m0 0h1m0 0h1m1 0h1m0 0h1m1 0h1m-6 1h1m0 0h1m0 0h1m-3 1h1m1 0h1m-3 1h1m0 0h1" stroke="#f76900" stroke-width="1" stroke-linecap="square"/>
<path d="M293 1908h1m-3 1h1m0 0h1m2 0h1m-4 1h1m1 0h1m0 0h1m0 0h1m-8 4h1m0 0h1m-3 1h1m1 1h1m-3 1h1m0 0h1m5 0h1m-7 1h1m0 0h1m4 0h1m0 0h1m-3 1h1m-7 26h1m0 1h1m0 0h1m-4 2h1m-6 2h1m0 1h1m0 0h1m10 0h1m0 0h1m-15 1h1m11 0h1m0 0h1m0 0h1m-12 4h1m1 0h1m-3 2h1m0 0h1" stroke="#19cc76" stroke-width="1" stroke-linecap="square"/>
<path d="M291 1914h1m1 0h1m0 0h1m0 0h1m0 0h1m-5 1h1m0 0h1m0 0h1m0 0h1m-5 1h1m0 0h1m0 0h1m0 0h1m-4 1h1m-1 1h1m0 0h1m0 0h1m-3 1h1m0 0h1m0 0h1m-1 25h1m-3 1h1m1 0h1m-2 1h1m0 0h1m2 1h1m-3 1h1m1 0h1m-3 1h1m0 0h1m0 0h1m-12 4h1m1 0h1m-3 2h1m0 0h1" stroke="#e8dc00" stroke-width="1" stroke-linecap="square"/>
<path d="M289 1911h1m0 0h1m-1 1h1m-1 1h1m4 28h1m0 0h1m-4 1h1m2 0h1m-6 1h1m0 0h1m-14 10h1m1 0h1m-2 1h1m-1 1h1m0 0h1m-3 1h1m1 1h1m6 0h1m-10 1h1m0 0h1m0 0h1m6 0h1m-5 1h1m-3 1h1m-1 1h1" stroke="#00b7ba" stroke-width="1" stroke-linecap="square"/>
<path d="M291 1911h1m0 0h1m1 0h1m0 0h1m0 0h1m-6 1h1m0 0h1m1 0h1m-4 1h1m0 0h1m0 0h1m0 0h1m0 0h1m-2 32h1m0 0h1m-2 1h1m0 0h1m-12 8h1m-2 1h1m0 0h1m-2 1h1m0 1h1m-3 1h1m1 0h1" stroke="#66d72c" stroke-width="1" stroke-linecap="square"/>
<path d="M294 1899h1m1 1h1m-11 6h1m-3 8h1m16 1h1m-18 6h1m2 2h1m10 4h1m-9 5h1m6 2h1m-9 3h1m-6 7h1m-1 2h1m15 6h1m-26 4h1m18 0h1m1 0h1m-24 1h1m17 3h1m-20 1h1m8 4h1m-2 2h1m-5 2h1m0 0h1" stroke="#2832f7" stroke-width="1" stroke-linecap="square"/>
<path d="M292 1893h1m3 4h1m-10 7h1m-5 5h1m16 14h1m3 2h1m-5 7h1m2 8h1m1 2h1m-3 4h1m-32 23h1m6 2h1m-13 3h1m6 0h1m-5 8h1m-7 1h1m-1 1h1" stroke="#3538fc" stroke-width="1" stroke-linecap="square"/>
<line x1="268.1" y1="1890.7" x2="268.1" y2="2011.5" stroke="#5a5a5a" stroke-width="1.4"/>
<line x1="200.8" y1="1926.3" x2="320.8" y2="1926.3" stroke="#5a5a5a" stroke-width="1.4"/>
<text x="205.3" y="1902.2" font-size="11" fill="#222">0</text>
<text x="316.3" y="1902.2" font-size="11" text-anchor="end" fill="#222">30.0</text>
<text x="205.3" y="2008" font-size="11" fill="#222">0.027</text>
<text x="316.3" y="2008" font-size="11" text-anchor="end" fill="#222">69.9</text>
<text class="k" x="206.5" y="2022">10<tspan dy="-3">0</tspan></text>
<text class="k" transform="translate(197.8 2008.8) rotate(-90)">10<tspan dy="-3">0</tspan></text>
<text class="k" x="222.8" y="2022">10<tspan dy="-3">1</tspan></text>
<text class="k" transform="translate(197.8 1992.5) rotate(-90)">10<tspan dy="-3">1</tspan></text>
<text class="k" x="239" y="2022">10<tspan dy="-3">2</tspan></text>
<text class="k" transform="translate(197.8 1976.2) rotate(-90)">10<tspan dy="-3">2</tspan></text>
<text class="k" x="255.3" y="2022">10<tspan dy="-3">3</tspan></text>
<text class="k" transform="translate(197.8 1959.9) rotate(-90)">10<tspan dy="-3">3</tspan></text>
<text class="k" x="271.5" y="2022">10<tspan dy="-3">4</tspan></text>
<text class="k" transform="translate(197.8 1943.6) rotate(-90)">10<tspan dy="-3">4</tspan></text>
<text class="k" x="287.8" y="2022">10<tspan dy="-3">5</tspan></text>
<text class="k" transform="translate(197.8 1927.3) rotate(-90)">10<tspan dy="-3">5</tspan></text>
<text class="k" x="304" y="2022">10<tspan dy="-3">6</tspan></text>
<text class="k" transform="translate(197.8 1911) rotate(-90)">10<tspan dy="-3">6</tspan></text>
<text class="k" x="320.3" y="2022">10<tspan dy="-3">7</tspan></text>
<text class="k" transform="translate(197.8 1894.7) rotate(-90)">10<tspan dy="-3">7</tspan></text>
<text x="28" y="1740" font-size="21.1" text-anchor="middle" transform="rotate(-90 28 1740)">Red</text>
<line x1="21.3" y1="1801.2" x2="21.3" y2="2041.8" stroke="#4472c4" stroke-width="1.6"/>
<path d="M21.3 1785.7L13.8 1802.2H28.8Z" fill="#4472c4"/>
<line x1="21.3" y1="2041.8" x2="285.7" y2="2041.8" stroke="#4472c4" stroke-width="1.6"/>
<path d="M301.2 2041.8L284.7 2034.3V2049.3Z" fill="#4472c4"/>
<text x="325" y="2050.5" font-size="21.1">Green</text>
<text x="349" y="1810.8" font-size="21.3" text-anchor="middle" transform="rotate(-90 349 1810.8)">Untreated</text>
<text x="349" y="1950.1" font-size="21.3" text-anchor="middle" transform="rotate(-90 349 1950.1)">Sorafenib</text>
<rect x="485" y="1735.5" width="25.3" height="237.4" fill="#c0befc"/>
<rect x="517.4" y="1747.7" width="25.3" height="225.2" fill="#fb9fa2"/>
<rect x="571.4" y="1840.4" width="25.3" height="132.5" fill="#c0befc"/>
<rect x="603.5" y="1884.5" width="25.3" height="88.4" fill="#fb9fa2"/>
<line x1="497.6" y1="1735.5" x2="497.6" y2="1730.3" stroke="#000" stroke-width="2.2"/>
<line x1="492.6" y1="1730.3" x2="502.6" y2="1730.3" stroke="#000" stroke-width="2.2"/>
<line x1="530" y1="1747.7" x2="530" y2="1744.2" stroke="#000" stroke-width="2.2"/>
<line x1="525" y1="1744.2" x2="535" y2="1744.2" stroke="#000" stroke-width="2.2"/>
<line x1="584" y1="1840.4" x2="584" y2="1836" stroke="#000" stroke-width="2.2"/>
<line x1="579" y1="1836" x2="589" y2="1836" stroke="#000" stroke-width="2.2"/>
<line x1="616.1" y1="1884.5" x2="616.1" y2="1879.3" stroke="#000" stroke-width="2.2"/>
<line x1="611.1" y1="1879.3" x2="621.1" y2="1879.3" stroke="#000" stroke-width="2.2"/>
<line x1="470.4" y1="1711.7" x2="470.4" y2="1974.2" stroke="#000" stroke-width="2.6"/>
<line x1="465.4" y1="1972.9" x2="644.2" y2="1972.9" stroke="#000" stroke-width="2.6"/>
<line x1="465.4" y1="1972.9" x2="470.4" y2="1972.9" stroke="#000" stroke-width="2.6"/>
<text x="461.4" y="1980.8" font-size="22" text-anchor="end">0.0</text>
<line x1="465.4" y1="1886.3" x2="470.4" y2="1886.3" stroke="#000" stroke-width="2.6"/>
<text x="461.4" y="1894.2" font-size="22" text-anchor="end">0.5</text>
<line x1="465.4" y1="1799.6" x2="470.4" y2="1799.6" stroke="#000" stroke-width="2.6"/>
<text x="461.4" y="1807.6" font-size="22" text-anchor="end">1.0</text>
<line x1="465.4" y1="1713" x2="470.4" y2="1713" stroke="#000" stroke-width="2.6"/>
<text x="461.4" y="1720.9" font-size="22" text-anchor="end">1.5</text>
<line x1="513.6" y1="1972.9" x2="513.6" y2="1979.4" stroke="#000" stroke-width="2.6"/>
<line x1="599.8" y1="1972.9" x2="599.8" y2="1979.4" stroke="#000" stroke-width="2.6"/>
<text x="518.6" y="1992.4" font-size="21.6" text-anchor="end" transform="rotate(-45 518.6 1992.4)">Untreated</text>
<text x="604.8" y="1992.4" font-size="21.6" text-anchor="end" transform="rotate(-45 604.8 1992.4)">Sorafenib</text>
<path d="M584.2 1825.8V1821.3H615.3V1825.8" stroke="#666" stroke-width="1.3" fill="none"/>
<text x="600.5" y="1825.9" font-size="21" text-anchor="middle" letter-spacing="1.5">**</text>
<rect x="641.9" y="1722.5" width="31.4" height="16.9" fill="#c0befc"/>
<rect x="641.9" y="1752.4" width="31.4" height="16.9" fill="#fb9fa2"/>
<text x="687.6" y="1738.7" font-size="21.4">Vector</text>
<text x="687.6" y="1768.6" font-size="21.4">PID1</text>
<text x="426.5" y="1841" font-size="20.9" text-anchor="middle" transform="rotate(-90 426.5 1841)">Red/Green Ratio</text>
<text x="778.2" y="1656.5" font-size="31.8" font-weight="bold">J</text>
<rect x="855.4" y="1906.6" width="25.6" height="66.3" fill="#c0befc"/>
<rect x="888" y="1906.6" width="25.6" height="66.3" fill="#fb9fa2"/>
<rect x="942" y="1820.2" width="25.6" height="152.7" fill="#c0befc"/>
<rect x="974.2" y="1765" width="25.6" height="207.9" fill="#fb9fa2"/>
<line x1="863.2" y1="1906.6" x2="873.2" y2="1906.6" stroke="#000" stroke-width="2.2"/>
<line x1="895.8" y1="1906.6" x2="905.8" y2="1906.6" stroke="#000" stroke-width="2.2"/>
<line x1="954.8" y1="1820.2" x2="954.8" y2="1817" stroke="#000" stroke-width="2.2"/>
<line x1="949.8" y1="1817" x2="959.8" y2="1817" stroke="#000" stroke-width="2.2"/>
<line x1="987" y1="1765" x2="987" y2="1753.3" stroke="#000" stroke-width="2.2"/>
<line x1="982" y1="1753.3" x2="992" y2="1753.3" stroke="#000" stroke-width="2.2"/>
<line x1="841.1" y1="1711.7" x2="841.1" y2="1974.2" stroke="#000" stroke-width="2.6"/>
<line x1="836.1" y1="1972.9" x2="1015.4" y2="1972.9" stroke="#000" stroke-width="2.6"/>
<line x1="836.1" y1="1972.9" x2="841.1" y2="1972.9" stroke="#000" stroke-width="2.6"/>
<text x="832.1" y="1980.8" font-size="22" text-anchor="end">0</text>
<line x1="836.1" y1="1907.9" x2="841.1" y2="1907.9" stroke="#000" stroke-width="2.6"/>
<text x="832.1" y="1915.8" font-size="22" text-anchor="end">1</text>
<line x1="836.1" y1="1843" x2="841.1" y2="1843" stroke="#000" stroke-width="2.6"/>
<text x="832.1" y="1850.9" font-size="22" text-anchor="end">2</text>
<line x1="836.1" y1="1778" x2="841.1" y2="1778" stroke="#000" stroke-width="2.6"/>
<text x="832.1" y="1785.9" font-size="22" text-anchor="end">3</text>
<line x1="836.1" y1="1713" x2="841.1" y2="1713" stroke="#000" stroke-width="2.6"/>
<text x="832.1" y="1720.9" font-size="22" text-anchor="end">4</text>
<line x1="884" y1="1972.9" x2="884" y2="1979.4" stroke="#000" stroke-width="2.6"/>
<line x1="970.9" y1="1972.9" x2="970.9" y2="1979.4" stroke="#000" stroke-width="2.6"/>
<text x="889" y="1992.4" font-size="21.6" text-anchor="end" transform="rotate(-45 889 1992.4)">Untreated</text>
<text x="975.9" y="1992.4" font-size="21.6" text-anchor="end" transform="rotate(-45 975.9 1992.4)">Sorafenib</text>
<path d="M954.9 1750V1745.5H986V1750" stroke="#666" stroke-width="1.3" fill="none"/>
<text x="971.2" y="1750.1" font-size="21" text-anchor="middle" letter-spacing="1.5">**</text>
<rect x="1011.6" y="1722.5" width="31.4" height="16.9" fill="#c0befc"/>
<rect x="1011.6" y="1752.4" width="31.4" height="16.9" fill="#fb9fa2"/>
<text x="1057" y="1738.7" font-size="21.4">Vector</text>
<text x="1057" y="1768.6" font-size="21.4">PID1</text>
<text x="797.7" y="1842.3" font-size="20.9" text-anchor="middle" transform="rotate(-90 797.7 1842.3)">Relative ROS level</text>
<text x="1126.8" y="1656.5" font-size="31.8" font-weight="bold">K</text>
<path d="M1280.3 1713.2L1282.7 1713.5L1285 1713.8L1287.4 1714.2L1289.7 1714.6L1292.1 1715.1L1294.4 1715.6L1296.8 1716.1L1299.1 1716.8L1301.5 1717.5L1303.8 1718.3L1306.2 1719.2L1308.5 1720.2L1310.9 1721.3L1313.3 1722.4L1315.6 1723.7L1318 1725.2L1320.3 1726.7L1322.7 1728.4L1325 1730.2L1327.4 1732.1L1329.7 1734.1L1332.1 1736.2L1334.4 1738.5L1336.8 1740.8L1339.2 1743.2L1341.5 1745.7L1343.9 1748.2L1346.2 1750.7L1348.6 1753.3L1350.9 1755.8L1353.3 1758.3L1355.6 1760.7L1358 1763.1L1360.3 1765.4L1362.7 1767.6L1365 1769.6L1367.4 1771.6L1369.8 1773.4L1372.1 1775.1L1374.5 1776.7L1376.8 1778.2L1379.2 1779.5L1381.5 1780.7L1383.9 1781.9L1386.2 1782.9L1388.6 1783.8L1390.9 1784.6L1393.3 1785.4L1395.6 1786L1398 1786.6L1400.4 1787.2L1402.7 1787.7L1405.1 1788.1L1407.4 1788.5L1409.8 1788.8L1412.1 1789.1L1414.5 1789.4L1416.8 1789.6L1419.2 1789.8L1421.5 1790" stroke="#8aaedc" stroke-width="1.8" fill="none"/>
<path d="M1280.3 1715.2L1282.7 1715.7L1285 1716.3L1287.4 1717L1289.7 1717.7L1292.1 1718.6L1294.4 1719.5L1296.8 1720.5L1299.1 1721.6L1301.5 1722.8L1303.8 1724.2L1306.2 1725.6L1308.5 1727.2L1310.9 1728.9L1313.3 1730.8L1315.6 1732.7L1318 1734.8L1320.3 1737L1322.7 1739.3L1325 1741.7L1327.4 1744.2L1329.7 1746.7L1332.1 1749.3L1334.4 1751.9L1336.8 1754.5L1339.2 1757.1L1341.5 1759.6L1343.9 1762.1L1346.2 1764.5L1348.6 1766.9L1350.9 1769.1L1353.3 1771.2L1355.6 1773.2L1358 1775L1360.3 1776.8L1362.7 1778.4L1365 1779.9L1367.4 1781.2L1369.8 1782.5L1372.1 1783.6L1374.5 1784.6L1376.8 1785.6L1379.2 1786.4L1381.5 1787.2L1383.9 1787.9L1386.2 1788.5L1388.6 1789L1390.9 1789.5L1393.3 1789.9L1395.6 1790.3L1398 1790.7L1400.4 1791L1402.7 1791.2L1405.1 1791.5L1407.4 1791.7L1409.8 1791.9L1412.1 1792L1414.5 1792.2L1416.8 1792.3L1419.2 1792.4L1421.5 1792.5" stroke="#b0145a" stroke-width="1.8" fill="none"/>
<line x1="1280.3" y1="1710.1" x2="1280.3" y2="1713.8" stroke="#b0145a" stroke-width="1.6"/>
<line x1="1276.8" y1="1710.1" x2="1283.8" y2="1710.1" stroke="#b0145a" stroke-width="1.6"/>
<line x1="1276.8" y1="1713.8" x2="1283.8" y2="1713.8" stroke="#b0145a" stroke-width="1.6"/>
<rect x="1276.7" y="1708.3" width="7.2" height="7.2" fill="#b0145a"/>
<line x1="1293.1" y1="1713.8" x2="1293.1" y2="1717.6" stroke="#b0145a" stroke-width="1.6"/>
<line x1="1289.6" y1="1713.8" x2="1296.6" y2="1713.8" stroke="#b0145a" stroke-width="1.6"/>
<line x1="1289.6" y1="1717.6" x2="1296.6" y2="1717.6" stroke="#b0145a" stroke-width="1.6"/>
<rect x="1289.5" y="1712.1" width="7.2" height="7.2" fill="#b0145a"/>
<line x1="1306" y1="1721.4" x2="1306" y2="1725.2" stroke="#b0145a" stroke-width="1.6"/>
<line x1="1302.5" y1="1721.4" x2="1309.5" y2="1721.4" stroke="#b0145a" stroke-width="1.6"/>
<line x1="1302.5" y1="1725.2" x2="1309.5" y2="1725.2" stroke="#b0145a" stroke-width="1.6"/>
<rect x="1302.4" y="1719.7" width="7.2" height="7.2" fill="#b0145a"/>
<line x1="1318.8" y1="1739.4" x2="1318.8" y2="1743.2" stroke="#b0145a" stroke-width="1.6"/>
<line x1="1315.3" y1="1739.4" x2="1322.3" y2="1739.4" stroke="#b0145a" stroke-width="1.6"/>
<line x1="1315.3" y1="1743.2" x2="1322.3" y2="1743.2" stroke="#b0145a" stroke-width="1.6"/>
<rect x="1315.2" y="1737.7" width="7.2" height="7.2" fill="#b0145a"/>
<line x1="1331.7" y1="1752.6" x2="1331.7" y2="1758.3" stroke="#b0145a" stroke-width="1.6"/>
<line x1="1328.2" y1="1752.6" x2="1335.2" y2="1752.6" stroke="#b0145a" stroke-width="1.6"/>
<line x1="1328.2" y1="1758.3" x2="1335.2" y2="1758.3" stroke="#b0145a" stroke-width="1.6"/>
<rect x="1328.1" y="1751.9" width="7.2" height="7.2" fill="#b0145a"/>
<line x1="1344.5" y1="1762.1" x2="1344.5" y2="1765.9" stroke="#b0145a" stroke-width="1.6"/>
<line x1="1341" y1="1762.1" x2="1348" y2="1762.1" stroke="#b0145a" stroke-width="1.6"/>
<line x1="1341" y1="1765.9" x2="1348" y2="1765.9" stroke="#b0145a" stroke-width="1.6"/>
<rect x="1340.9" y="1760.4" width="7.2" height="7.2" fill="#b0145a"/>
<line x1="1357.3" y1="1764.9" x2="1357.3" y2="1768.7" stroke="#b0145a" stroke-width="1.6"/>
<line x1="1353.8" y1="1764.9" x2="1360.8" y2="1764.9" stroke="#b0145a" stroke-width="1.6"/>
<line x1="1353.8" y1="1768.7" x2="1360.8" y2="1768.7" stroke="#b0145a" stroke-width="1.6"/>
<rect x="1353.7" y="1763.2" width="7.2" height="7.2" fill="#b0145a"/>
<line x1="1370.2" y1="1771.5" x2="1370.2" y2="1775.3" stroke="#b0145a" stroke-width="1.6"/>
<line x1="1366.7" y1="1771.5" x2="1373.7" y2="1771.5" stroke="#b0145a" stroke-width="1.6"/>
<line x1="1366.7" y1="1775.3" x2="1373.7" y2="1775.3" stroke="#b0145a" stroke-width="1.6"/>
<rect x="1366.6" y="1769.8" width="7.2" height="7.2" fill="#b0145a"/>
<line x1="1383" y1="1780.1" x2="1383" y2="1783.8" stroke="#b0145a" stroke-width="1.6"/>
<line x1="1379.5" y1="1780.1" x2="1386.5" y2="1780.1" stroke="#b0145a" stroke-width="1.6"/>
<line x1="1379.5" y1="1783.8" x2="1386.5" y2="1783.8" stroke="#b0145a" stroke-width="1.6"/>
<rect x="1379.4" y="1778.3" width="7.2" height="7.2" fill="#b0145a"/>
<line x1="1395.9" y1="1787.6" x2="1395.9" y2="1791.4" stroke="#b0145a" stroke-width="1.6"/>
<line x1="1392.4" y1="1787.6" x2="1399.4" y2="1787.6" stroke="#b0145a" stroke-width="1.6"/>
<line x1="1392.4" y1="1791.4" x2="1399.4" y2="1791.4" stroke="#b0145a" stroke-width="1.6"/>
<rect x="1392.3" y="1785.9" width="7.2" height="7.2" fill="#b0145a"/>
<line x1="1408.7" y1="1797.1" x2="1408.7" y2="1800.9" stroke="#b0145a" stroke-width="1.6"/>
<line x1="1405.2" y1="1797.1" x2="1412.2" y2="1797.1" stroke="#b0145a" stroke-width="1.6"/>
<line x1="1405.2" y1="1800.9" x2="1412.2" y2="1800.9" stroke="#b0145a" stroke-width="1.6"/>
<rect x="1405.1" y="1795.4" width="7.2" height="7.2" fill="#b0145a"/>
<line x1="1421.5" y1="1800.9" x2="1421.5" y2="1804.7" stroke="#b0145a" stroke-width="1.6"/>
<line x1="1418" y1="1800.9" x2="1425" y2="1800.9" stroke="#b0145a" stroke-width="1.6"/>
<line x1="1418" y1="1804.7" x2="1425" y2="1804.7" stroke="#b0145a" stroke-width="1.6"/>
<rect x="1417.9" y="1799.2" width="7.2" height="7.2" fill="#b0145a"/>
<line x1="1280.3" y1="1705.3" x2="1280.3" y2="1716.7" stroke="#8aaedc" stroke-width="1.6"/>
<line x1="1276.8" y1="1705.3" x2="1283.8" y2="1705.3" stroke="#8aaedc" stroke-width="1.6"/>
<line x1="1276.8" y1="1716.7" x2="1283.8" y2="1716.7" stroke="#8aaedc" stroke-width="1.6"/>
<circle cx="1280.3" cy="1711" r="3.7" fill="#8aaedc"/>
<circle cx="1293.1" cy="1711" r="3.7" fill="#8aaedc"/>
<line x1="1306" y1="1714.8" x2="1306" y2="1726.1" stroke="#8aaedc" stroke-width="1.6"/>
<line x1="1302.5" y1="1714.8" x2="1309.5" y2="1714.8" stroke="#8aaedc" stroke-width="1.6"/>
<line x1="1302.5" y1="1726.1" x2="1309.5" y2="1726.1" stroke="#8aaedc" stroke-width="1.6"/>
<circle cx="1306" cy="1720.5" r="3.7" fill="#8aaedc"/>
<line x1="1318.8" y1="1723.3" x2="1318.8" y2="1729" stroke="#8aaedc" stroke-width="1.6"/>
<line x1="1315.3" y1="1723.3" x2="1322.3" y2="1723.3" stroke="#8aaedc" stroke-width="1.6"/>
<line x1="1315.3" y1="1729" x2="1322.3" y2="1729" stroke="#8aaedc" stroke-width="1.6"/>
<circle cx="1318.8" cy="1726.1" r="3.7" fill="#8aaedc"/>
<line x1="1331.7" y1="1742.2" x2="1331.7" y2="1751.7" stroke="#8aaedc" stroke-width="1.6"/>
<line x1="1328.2" y1="1742.2" x2="1335.2" y2="1742.2" stroke="#8aaedc" stroke-width="1.6"/>
<line x1="1328.2" y1="1751.7" x2="1335.2" y2="1751.7" stroke="#8aaedc" stroke-width="1.6"/>
<circle cx="1331.7" cy="1746.9" r="3.7" fill="#8aaedc"/>
<circle cx="1344.5" cy="1756.4" r="3.7" fill="#8aaedc"/>
<line x1="1357.3" y1="1752.6" x2="1357.3" y2="1760.2" stroke="#8aaedc" stroke-width="1.6"/>
<line x1="1353.8" y1="1752.6" x2="1360.8" y2="1752.6" stroke="#8aaedc" stroke-width="1.6"/>
<line x1="1353.8" y1="1760.2" x2="1360.8" y2="1760.2" stroke="#8aaedc" stroke-width="1.6"/>
<circle cx="1357.3" cy="1756.4" r="3.7" fill="#8aaedc"/>
<line x1="1370.2" y1="1764" x2="1370.2" y2="1771.5" stroke="#8aaedc" stroke-width="1.6"/>
<line x1="1366.7" y1="1764" x2="1373.7" y2="1764" stroke="#8aaedc" stroke-width="1.6"/>
<line x1="1366.7" y1="1771.5" x2="1373.7" y2="1771.5" stroke="#8aaedc" stroke-width="1.6"/>
<circle cx="1370.2" cy="1767.8" r="3.7" fill="#8aaedc"/>
<circle cx="1383" cy="1769.7" r="3.7" fill="#8aaedc"/>
<line x1="1395.9" y1="1777.2" x2="1395.9" y2="1782.9" stroke="#8aaedc" stroke-width="1.6"/>
<line x1="1392.4" y1="1777.2" x2="1399.4" y2="1777.2" stroke="#8aaedc" stroke-width="1.6"/>
<line x1="1392.4" y1="1782.9" x2="1399.4" y2="1782.9" stroke="#8aaedc" stroke-width="1.6"/>
<circle cx="1395.9" cy="1780.1" r="3.7" fill="#8aaedc"/>
<circle cx="1408.7" cy="1797.1" r="3.7" fill="#8aaedc"/>
<circle cx="1421.5" cy="1801.8" r="3.7" fill="#8aaedc"/>
<line x1="1248.2" y1="1662.7" x2="1248.2" y2="1806.6" stroke="#000" stroke-width="2"/>
<line x1="1244.2" y1="1805.6" x2="1463.2" y2="1805.6" stroke="#000" stroke-width="2"/>
<line x1="1244.2" y1="1805.6" x2="1248.2" y2="1805.6" stroke="#000" stroke-width="2"/>
<text x="1242.2" y="1812.6" font-size="20.7" text-anchor="end">0</text>
<line x1="1244.2" y1="1758.3" x2="1248.2" y2="1758.3" stroke="#000" stroke-width="2"/>
<text x="1242.2" y="1765.3" font-size="20.7" text-anchor="end">50</text>
<line x1="1244.2" y1="1711" x2="1248.2" y2="1711" stroke="#000" stroke-width="2"/>
<text x="1242.2" y="1718" font-size="20.7" text-anchor="end">100</text>
<line x1="1244.2" y1="1663.7" x2="1248.2" y2="1663.7" stroke="#000" stroke-width="2"/>
<text x="1242.2" y="1670.7" font-size="20.7" text-anchor="end">150</text>
<line x1="1248.2" y1="1805.6" x2="1248.2" y2="1810.6" stroke="#000" stroke-width="2"/>
<text x="1248.2" y="1829.4" font-size="20.7" text-anchor="middle">-1</text>
<line x1="1291" y1="1805.6" x2="1291" y2="1810.6" stroke="#000" stroke-width="2"/>
<text x="1291" y="1829.4" font-size="20.7" text-anchor="middle">0</text>
<line x1="1333.8" y1="1805.6" x2="1333.8" y2="1810.6" stroke="#000" stroke-width="2"/>
<text x="1333.8" y="1829.4" font-size="20.7" text-anchor="middle">1</text>
<line x1="1376.6" y1="1805.6" x2="1376.6" y2="1810.6" stroke="#000" stroke-width="2"/>
<text x="1376.6" y="1829.4" font-size="20.7" text-anchor="middle">2</text>
<line x1="1419.4" y1="1805.6" x2="1419.4" y2="1810.6" stroke="#000" stroke-width="2"/>
<text x="1419.4" y="1829.4" font-size="20.7" text-anchor="middle">3</text>
<line x1="1462.2" y1="1805.6" x2="1462.2" y2="1810.6" stroke="#000" stroke-width="2"/>
<text x="1462.2" y="1829.4" font-size="20.7" text-anchor="middle">4</text>
<text x="1355.2" y="1846" font-size="20.2" text-anchor="middle">Log[Cisplatin] (μM)</text>
<text x="1184" y="1728.7" font-size="19.8" text-anchor="middle" transform="rotate(-90 1184 1728.7)">Relative cell viability</text>
<text x="1207.7" y="1728.7" font-size="19.8" text-anchor="middle" transform="rotate(-90 1207.7 1728.7)">(% of control)</text>
<text x="1354.4" y="1670.8" font-size="14.2" text-anchor="middle">IC<tspan font-size="9.5" dy="3" fill="#444">50</tspan><tspan dy="-3">(Control)=19.89 μM</tspan></text>
<text x="1354.4" y="1688.4" font-size="14.2" text-anchor="middle">IC<tspan font-size="9.5" dy="3" fill="#444">50</tspan><tspan dy="-3">(PID1 KO)=10.52 μM</tspan></text>
<line x1="1476.8" y1="1674.9" x2="1491.8" y2="1674.9" stroke="#8aaedc" stroke-width="1.8"/>
<circle cx="1484.3" cy="1674.9" r="3.4" fill="#8aaedc"/>
<text x="1500.6" y="1681.7" font-size="20.1">Control</text>
<line x1="1476.8" y1="1694.4" x2="1491.8" y2="1694.4" stroke="#b0145a" stroke-width="1.8"/>
<rect x="1480.8" y="1690.9" width="7" height="7" fill="#b0145a"/>
<text x="1500.6" y="1701.2" font-size="20.3">PID1 KO</text>
<path d="M1718.9 1711.7L1721.2 1711.9L1723.6 1712.1L1725.9 1712.3L1728.3 1712.6L1730.6 1712.9L1733 1713.2L1735.3 1713.6L1737.7 1714L1740 1714.4L1742.4 1715L1744.8 1715.6L1747.1 1716.2L1749.5 1717L1751.8 1717.8L1754.2 1718.7L1756.5 1719.7L1758.9 1720.8L1761.2 1722L1763.6 1723.3L1765.9 1724.8L1768.3 1726.4L1770.6 1728.1L1773 1729.9L1775.4 1731.9L1777.7 1733.9L1780.1 1736.1L1782.4 1738.4L1784.8 1740.8L1787.1 1743.3L1789.5 1745.8L1791.8 1748.4L1794.2 1751L1796.5 1753.6L1798.9 1756.2L1801.2 1758.7L1803.6 1761.2L1806 1763.6L1808.3 1766L1810.7 1768.2L1813 1770.3L1815.4 1772.3L1817.7 1774.2L1820.1 1775.9L1822.4 1777.5L1824.8 1779L1827.1 1780.4L1829.5 1781.7L1831.9 1782.8L1834.2 1783.9L1836.6 1784.8L1838.9 1785.7L1841.3 1786.4L1843.6 1787.1L1846 1787.7L1848.3 1788.3L1850.7 1788.8L1853 1789.2L1855.4 1789.6L1857.7 1789.9L1860.1 1790.2" stroke="#8aaedc" stroke-width="1.8" fill="none"/>
<path d="M1718.9 1713.6L1721.2 1714L1723.6 1714.5L1725.9 1715L1728.3 1715.6L1730.6 1716.2L1733 1717L1735.3 1717.8L1737.7 1718.7L1740 1719.7L1742.4 1720.9L1744.8 1722.1L1747.1 1723.4L1749.5 1724.9L1751.8 1726.5L1754.2 1728.3L1756.5 1730.1L1758.9 1732.1L1761.2 1734.3L1763.6 1736.5L1765.9 1738.9L1768.3 1741.4L1770.6 1744L1773 1746.6L1775.4 1749.3L1777.7 1752.1L1780.1 1754.8L1782.4 1757.6L1784.8 1760.3L1787.1 1762.9L1789.5 1765.5L1791.8 1768.1L1794.2 1770.5L1796.5 1772.8L1798.9 1774.9L1801.2 1777L1803.6 1778.9L1806 1780.6L1808.3 1782.3L1810.7 1783.8L1813 1785.2L1815.4 1786.5L1817.7 1787.6L1820.1 1788.6L1822.4 1789.6L1824.8 1790.4L1827.1 1791.2L1829.5 1791.9L1831.9 1792.5L1834.2 1793L1836.6 1793.5L1838.9 1794L1841.3 1794.3L1843.6 1794.7L1846 1795L1848.3 1795.3L1850.7 1795.5L1853 1795.7L1855.4 1795.9L1857.7 1796.1L1860.1 1796.2" stroke="#b0145a" stroke-width="1.8" fill="none"/>
<line x1="1718.9" y1="1707.5" x2="1718.9" y2="1713.1" stroke="#b0145a" stroke-width="1.6"/>
<line x1="1715.4" y1="1707.5" x2="1722.4" y2="1707.5" stroke="#b0145a" stroke-width="1.6"/>
<line x1="1715.4" y1="1713.1" x2="1722.4" y2="1713.1" stroke="#b0145a" stroke-width="1.6"/>
<rect x="1715.3" y="1706.7" width="7.2" height="7.2" fill="#b0145a"/>
<line x1="1731.7" y1="1704.6" x2="1731.7" y2="1716" stroke="#b0145a" stroke-width="1.6"/>
<line x1="1728.2" y1="1704.6" x2="1735.2" y2="1704.6" stroke="#b0145a" stroke-width="1.6"/>
<line x1="1728.2" y1="1716" x2="1735.2" y2="1716" stroke="#b0145a" stroke-width="1.6"/>
<rect x="1728.1" y="1706.7" width="7.2" height="7.2" fill="#b0145a"/>
<line x1="1744.5" y1="1716.9" x2="1744.5" y2="1724.5" stroke="#b0145a" stroke-width="1.6"/>
<line x1="1741" y1="1716.9" x2="1748" y2="1716.9" stroke="#b0145a" stroke-width="1.6"/>
<line x1="1741" y1="1724.5" x2="1748" y2="1724.5" stroke="#b0145a" stroke-width="1.6"/>
<rect x="1740.9" y="1717.1" width="7.2" height="7.2" fill="#b0145a"/>
<line x1="1757.4" y1="1729.2" x2="1757.4" y2="1738.7" stroke="#b0145a" stroke-width="1.6"/>
<line x1="1753.9" y1="1729.2" x2="1760.9" y2="1729.2" stroke="#b0145a" stroke-width="1.6"/>
<line x1="1753.9" y1="1738.7" x2="1760.9" y2="1738.7" stroke="#b0145a" stroke-width="1.6"/>
<rect x="1753.8" y="1730.4" width="7.2" height="7.2" fill="#b0145a"/>
<line x1="1770.2" y1="1745.3" x2="1770.2" y2="1756.7" stroke="#b0145a" stroke-width="1.6"/>
<line x1="1766.7" y1="1745.3" x2="1773.7" y2="1745.3" stroke="#b0145a" stroke-width="1.6"/>
<line x1="1766.7" y1="1756.7" x2="1773.7" y2="1756.7" stroke="#b0145a" stroke-width="1.6"/>
<rect x="1766.6" y="1747.4" width="7.2" height="7.2" fill="#b0145a"/>
<line x1="1783.1" y1="1752.9" x2="1783.1" y2="1758.5" stroke="#b0145a" stroke-width="1.6"/>
<line x1="1779.6" y1="1752.9" x2="1786.6" y2="1752.9" stroke="#b0145a" stroke-width="1.6"/>
<line x1="1779.6" y1="1758.5" x2="1786.6" y2="1758.5" stroke="#b0145a" stroke-width="1.6"/>
<rect x="1779.5" y="1752.1" width="7.2" height="7.2" fill="#b0145a"/>
<line x1="1795.9" y1="1763.3" x2="1795.9" y2="1769" stroke="#b0145a" stroke-width="1.6"/>
<line x1="1792.4" y1="1763.3" x2="1799.4" y2="1763.3" stroke="#b0145a" stroke-width="1.6"/>
<line x1="1792.4" y1="1769" x2="1799.4" y2="1769" stroke="#b0145a" stroke-width="1.6"/>
<rect x="1792.3" y="1762.5" width="7.2" height="7.2" fill="#b0145a"/>
<line x1="1808.7" y1="1769" x2="1808.7" y2="1778.4" stroke="#b0145a" stroke-width="1.6"/>
<line x1="1805.2" y1="1769" x2="1812.2" y2="1769" stroke="#b0145a" stroke-width="1.6"/>
<line x1="1805.2" y1="1778.4" x2="1812.2" y2="1778.4" stroke="#b0145a" stroke-width="1.6"/>
<rect x="1805.1" y="1770.1" width="7.2" height="7.2" fill="#b0145a"/>
<line x1="1821.6" y1="1786" x2="1821.6" y2="1789.8" stroke="#b0145a" stroke-width="1.6"/>
<line x1="1818.1" y1="1786" x2="1825.1" y2="1786" stroke="#b0145a" stroke-width="1.6"/>
<line x1="1818.1" y1="1789.8" x2="1825.1" y2="1789.8" stroke="#b0145a" stroke-width="1.6"/>
<rect x="1818" y="1784.3" width="7.2" height="7.2" fill="#b0145a"/>
<line x1="1834.4" y1="1793.5" x2="1834.4" y2="1797.3" stroke="#b0145a" stroke-width="1.6"/>
<line x1="1830.9" y1="1793.5" x2="1837.9" y2="1793.5" stroke="#b0145a" stroke-width="1.6"/>
<line x1="1830.9" y1="1797.3" x2="1837.9" y2="1797.3" stroke="#b0145a" stroke-width="1.6"/>
<rect x="1830.8" y="1791.8" width="7.2" height="7.2" fill="#b0145a"/>
<line x1="1847.3" y1="1796.4" x2="1847.3" y2="1802.1" stroke="#b0145a" stroke-width="1.6"/>
<line x1="1843.8" y1="1796.4" x2="1850.8" y2="1796.4" stroke="#b0145a" stroke-width="1.6"/>
<line x1="1843.8" y1="1802.1" x2="1850.8" y2="1802.1" stroke="#b0145a" stroke-width="1.6"/>
<rect x="1843.7" y="1795.6" width="7.2" height="7.2" fill="#b0145a"/>
<line x1="1860.1" y1="1798.3" x2="1860.1" y2="1802.1" stroke="#b0145a" stroke-width="1.6"/>
<line x1="1856.6" y1="1798.3" x2="1863.6" y2="1798.3" stroke="#b0145a" stroke-width="1.6"/>
<line x1="1856.6" y1="1802.1" x2="1863.6" y2="1802.1" stroke="#b0145a" stroke-width="1.6"/>
<rect x="1856.5" y="1796.6" width="7.2" height="7.2" fill="#b0145a"/>
<line x1="1718.9" y1="1704.6" x2="1718.9" y2="1716" stroke="#8aaedc" stroke-width="1.6"/>
<line x1="1715.4" y1="1704.6" x2="1722.4" y2="1704.6" stroke="#8aaedc" stroke-width="1.6"/>
<line x1="1715.4" y1="1716" x2="1722.4" y2="1716" stroke="#8aaedc" stroke-width="1.6"/>
<circle cx="1718.9" cy="1710.3" r="3.7" fill="#8aaedc"/>
<line x1="1731.7" y1="1712.2" x2="1731.7" y2="1723.5" stroke="#8aaedc" stroke-width="1.6"/>
<line x1="1728.2" y1="1712.2" x2="1735.2" y2="1712.2" stroke="#8aaedc" stroke-width="1.6"/>
<line x1="1728.2" y1="1723.5" x2="1735.2" y2="1723.5" stroke="#8aaedc" stroke-width="1.6"/>
<circle cx="1731.7" cy="1717.9" r="3.7" fill="#8aaedc"/>
<circle cx="1744.5" cy="1710.3" r="3.7" fill="#8aaedc"/>
<line x1="1757.4" y1="1723.5" x2="1757.4" y2="1729.2" stroke="#8aaedc" stroke-width="1.6"/>
<line x1="1753.9" y1="1723.5" x2="1760.9" y2="1723.5" stroke="#8aaedc" stroke-width="1.6"/>
<line x1="1753.9" y1="1729.2" x2="1760.9" y2="1729.2" stroke="#8aaedc" stroke-width="1.6"/>
<circle cx="1757.4" cy="1726.4" r="3.7" fill="#8aaedc"/>
<line x1="1770.2" y1="1732.1" x2="1770.2" y2="1735.8" stroke="#8aaedc" stroke-width="1.6"/>
<line x1="1766.7" y1="1732.1" x2="1773.7" y2="1732.1" stroke="#8aaedc" stroke-width="1.6"/>
<line x1="1766.7" y1="1735.8" x2="1773.7" y2="1735.8" stroke="#8aaedc" stroke-width="1.6"/>
<circle cx="1770.2" cy="1734" r="3.7" fill="#8aaedc"/>
<line x1="1783.1" y1="1746.2" x2="1783.1" y2="1753.8" stroke="#8aaedc" stroke-width="1.6"/>
<line x1="1779.6" y1="1746.2" x2="1786.6" y2="1746.2" stroke="#8aaedc" stroke-width="1.6"/>
<line x1="1779.6" y1="1753.8" x2="1786.6" y2="1753.8" stroke="#8aaedc" stroke-width="1.6"/>
<circle cx="1783.1" cy="1750" r="3.7" fill="#8aaedc"/>
<line x1="1795.9" y1="1752.9" x2="1795.9" y2="1756.7" stroke="#8aaedc" stroke-width="1.6"/>
<line x1="1792.4" y1="1752.9" x2="1799.4" y2="1752.9" stroke="#8aaedc" stroke-width="1.6"/>
<line x1="1792.4" y1="1756.7" x2="1799.4" y2="1756.7" stroke="#8aaedc" stroke-width="1.6"/>
<circle cx="1795.9" cy="1754.8" r="3.7" fill="#8aaedc"/>
<line x1="1808.7" y1="1755.7" x2="1808.7" y2="1765.2" stroke="#8aaedc" stroke-width="1.6"/>
<line x1="1805.2" y1="1755.7" x2="1812.2" y2="1755.7" stroke="#8aaedc" stroke-width="1.6"/>
<line x1="1805.2" y1="1765.2" x2="1812.2" y2="1765.2" stroke="#8aaedc" stroke-width="1.6"/>
<circle cx="1808.7" cy="1760.4" r="3.7" fill="#8aaedc"/>
<circle cx="1821.6" cy="1768" r="3.7" fill="#8aaedc"/>
<line x1="1834.4" y1="1781.2" x2="1834.4" y2="1785" stroke="#8aaedc" stroke-width="1.6"/>
<line x1="1830.9" y1="1781.2" x2="1837.9" y2="1781.2" stroke="#8aaedc" stroke-width="1.6"/>
<line x1="1830.9" y1="1785" x2="1837.9" y2="1785" stroke="#8aaedc" stroke-width="1.6"/>
<circle cx="1834.4" cy="1783.1" r="3.7" fill="#8aaedc"/>
<line x1="1847.3" y1="1789.8" x2="1847.3" y2="1793.5" stroke="#8aaedc" stroke-width="1.6"/>
<line x1="1843.8" y1="1789.8" x2="1850.8" y2="1789.8" stroke="#8aaedc" stroke-width="1.6"/>
<line x1="1843.8" y1="1793.5" x2="1850.8" y2="1793.5" stroke="#8aaedc" stroke-width="1.6"/>
<circle cx="1847.3" cy="1791.7" r="3.7" fill="#8aaedc"/>
<line x1="1860.1" y1="1795.4" x2="1860.1" y2="1799.2" stroke="#8aaedc" stroke-width="1.6"/>
<line x1="1856.6" y1="1795.4" x2="1863.6" y2="1795.4" stroke="#8aaedc" stroke-width="1.6"/>
<line x1="1856.6" y1="1799.2" x2="1863.6" y2="1799.2" stroke="#8aaedc" stroke-width="1.6"/>
<circle cx="1860.1" cy="1797.3" r="3.7" fill="#8aaedc"/>
<line x1="1688.9" y1="1662" x2="1688.9" y2="1805.9" stroke="#000" stroke-width="2"/>
<line x1="1684.9" y1="1804.9" x2="1903.9" y2="1804.9" stroke="#000" stroke-width="2"/>
<line x1="1684.9" y1="1804.9" x2="1688.9" y2="1804.9" stroke="#000" stroke-width="2"/>
<text x="1682.9" y="1811.9" font-size="20.7" text-anchor="end">0</text>
<line x1="1684.9" y1="1757.6" x2="1688.9" y2="1757.6" stroke="#000" stroke-width="2"/>
<text x="1682.9" y="1764.6" font-size="20.7" text-anchor="end">50</text>
<line x1="1684.9" y1="1710.3" x2="1688.9" y2="1710.3" stroke="#000" stroke-width="2"/>
<text x="1682.9" y="1717.3" font-size="20.7" text-anchor="end">100</text>
<line x1="1684.9" y1="1663" x2="1688.9" y2="1663" stroke="#000" stroke-width="2"/>
<text x="1682.9" y="1670" font-size="20.7" text-anchor="end">150</text>
<line x1="1688.9" y1="1804.9" x2="1688.9" y2="1809.9" stroke="#000" stroke-width="2"/>
<text x="1688.9" y="1829.4" font-size="20.7" text-anchor="middle">0</text>
<line x1="1731.7" y1="1804.9" x2="1731.7" y2="1809.9" stroke="#000" stroke-width="2"/>
<text x="1731.7" y="1829.4" font-size="20.7" text-anchor="middle">1</text>
<line x1="1774.5" y1="1804.9" x2="1774.5" y2="1809.9" stroke="#000" stroke-width="2"/>
<text x="1774.5" y="1829.4" font-size="20.7" text-anchor="middle">2</text>
<line x1="1817.3" y1="1804.9" x2="1817.3" y2="1809.9" stroke="#000" stroke-width="2"/>
<text x="1817.3" y="1829.4" font-size="20.7" text-anchor="middle">3</text>
<line x1="1860.1" y1="1804.9" x2="1860.1" y2="1809.9" stroke="#000" stroke-width="2"/>
<text x="1860.1" y="1829.4" font-size="20.7" text-anchor="middle">4</text>
<line x1="1902.9" y1="1804.9" x2="1902.9" y2="1809.9" stroke="#000" stroke-width="2"/>
<text x="1902.9" y="1829.4" font-size="20.7" text-anchor="middle">5</text>
<text x="1795.9" y="1846" font-size="20.2" text-anchor="middle">Log[Doxorubicin] (nM)</text>
<text x="1626" y="1728" font-size="19.8" text-anchor="middle" transform="rotate(-90 1626 1728)">Relative cell viability</text>
<text x="1649.7" y="1728" font-size="19.8" text-anchor="middle" transform="rotate(-90 1649.7 1728)">(% of control)</text>
<text x="1794.6" y="1670.8" font-size="14.2" text-anchor="middle">IC<tspan font-size="9.5" dy="3" fill="#444">50</tspan><tspan dy="-3">(Control)=294.3 nM</tspan></text>
<text x="1794.6" y="1688.4" font-size="14.2" text-anchor="middle">IC<tspan font-size="9.5" dy="3" fill="#444">50</tspan><tspan dy="-3">(PID1 KO)=129.5 nM</tspan></text>
<line x1="1917.5" y1="1674.9" x2="1932.5" y2="1674.9" stroke="#8aaedc" stroke-width="1.8"/>
<circle cx="1925" cy="1674.9" r="3.4" fill="#8aaedc"/>
<text x="1941.3" y="1681.7" font-size="20.1">Control</text>
<line x1="1917.5" y1="1694.4" x2="1932.5" y2="1694.4" stroke="#b0145a" stroke-width="1.8"/>
<rect x="1921.5" y="1690.9" width="7" height="7" fill="#b0145a"/>
<text x="1941.3" y="1701.2" font-size="20.3">PID1 KO</text>
<path d="M1278.2 1953.2L1280.5 1953.4L1282.9 1953.6L1285.2 1953.7L1287.6 1953.9L1289.9 1954.2L1292.3 1954.5L1294.6 1954.8L1297 1955.1L1299.3 1955.5L1301.7 1955.9L1304.1 1956.4L1306.4 1957L1308.8 1957.6L1311.1 1958.2L1313.5 1959L1315.8 1959.8L1318.2 1960.8L1320.5 1961.8L1322.9 1963L1325.2 1964.2L1327.6 1965.6L1329.9 1967.1L1332.3 1968.7L1334.7 1970.5L1337 1972.3L1339.4 1974.4L1341.7 1976.5L1344.1 1978.7L1346.4 1981.1L1348.8 1983.6L1351.1 1986.1L1353.5 1988.7L1355.8 1991.4L1358.2 1994.1L1360.5 1996.7L1362.9 1999.4L1365.3 2002L1367.6 2004.6L1370 2007.1L1372.3 2009.5L1374.7 2011.8L1377 2014L1379.4 2016.1L1381.7 2018L1384.1 2019.8L1386.4 2021.5L1388.8 2023L1391.2 2024.4L1393.5 2025.7L1395.9 2026.9L1398.2 2028L1400.6 2028.9L1402.9 2029.8L1405.3 2030.6L1407.6 2031.3L1410 2031.9L1412.3 2032.5L1414.7 2033L1417 2033.5L1419.4 2033.9" stroke="#8aaedc" stroke-width="1.8" fill="none"/>
<path d="M1278.2 1954.3L1280.5 1954.5L1282.9 1954.9L1285.2 1955.2L1287.6 1955.6L1289.9 1956.1L1292.3 1956.6L1294.6 1957.1L1297 1957.7L1299.3 1958.4L1301.7 1959.2L1304.1 1960.1L1306.4 1961.1L1308.8 1962.1L1311.1 1963.3L1313.5 1964.6L1315.8 1966L1318.2 1967.6L1320.5 1969.2L1322.9 1971L1325.2 1973L1327.6 1975L1329.9 1977.2L1332.3 1979.6L1334.7 1982L1337 1984.5L1339.4 1987.1L1341.7 1989.8L1344.1 1992.5L1346.4 1995.2L1348.8 1998L1351.1 2000.7L1353.5 2003.4L1355.8 2006L1358.2 2008.6L1360.5 2011L1362.9 2013.3L1365.3 2015.6L1367.6 2017.7L1370 2019.6L1372.3 2021.4L1374.7 2023.1L1377 2024.7L1379.4 2026.1L1381.7 2027.5L1384.1 2028.7L1386.4 2029.7L1388.8 2030.7L1391.2 2031.6L1393.5 2032.4L1395.9 2033.1L1398.2 2033.8L1400.6 2034.3L1402.9 2034.9L1405.3 2035.3L1407.6 2035.7L1410 2036.1L1412.3 2036.4L1414.7 2036.7L1417 2036.9L1419.4 2037.2" stroke="#b0145a" stroke-width="1.8" fill="none"/>
<line x1="1278.2" y1="1949.3" x2="1278.2" y2="1956.8" stroke="#b0145a" stroke-width="1.6"/>
<line x1="1274.7" y1="1949.3" x2="1281.7" y2="1949.3" stroke="#b0145a" stroke-width="1.6"/>
<line x1="1274.7" y1="1956.8" x2="1281.7" y2="1956.8" stroke="#b0145a" stroke-width="1.6"/>
<rect x="1274.6" y="1949.5" width="7.2" height="7.2" fill="#b0145a"/>
<line x1="1291" y1="1948.4" x2="1291" y2="1961.6" stroke="#b0145a" stroke-width="1.6"/>
<line x1="1287.5" y1="1948.4" x2="1294.5" y2="1948.4" stroke="#b0145a" stroke-width="1.6"/>
<line x1="1287.5" y1="1961.6" x2="1294.5" y2="1961.6" stroke="#b0145a" stroke-width="1.6"/>
<rect x="1287.4" y="1951.4" width="7.2" height="7.2" fill="#b0145a"/>
<line x1="1303.8" y1="1958.7" x2="1303.8" y2="1968.2" stroke="#b0145a" stroke-width="1.6"/>
<line x1="1300.3" y1="1958.7" x2="1307.3" y2="1958.7" stroke="#b0145a" stroke-width="1.6"/>
<line x1="1300.3" y1="1968.2" x2="1307.3" y2="1968.2" stroke="#b0145a" stroke-width="1.6"/>
<rect x="1300.2" y="1959.8" width="7.2" height="7.2" fill="#b0145a"/>
<line x1="1316.7" y1="1964.4" x2="1316.7" y2="1973.8" stroke="#b0145a" stroke-width="1.6"/>
<line x1="1313.2" y1="1964.4" x2="1320.2" y2="1964.4" stroke="#b0145a" stroke-width="1.6"/>
<line x1="1313.2" y1="1973.8" x2="1320.2" y2="1973.8" stroke="#b0145a" stroke-width="1.6"/>
<rect x="1313.1" y="1965.5" width="7.2" height="7.2" fill="#b0145a"/>
<line x1="1329.5" y1="1971.9" x2="1329.5" y2="1979.5" stroke="#b0145a" stroke-width="1.6"/>
<line x1="1326" y1="1971.9" x2="1333" y2="1971.9" stroke="#b0145a" stroke-width="1.6"/>
<line x1="1326" y1="1979.5" x2="1333" y2="1979.5" stroke="#b0145a" stroke-width="1.6"/>
<rect x="1325.9" y="1972.1" width="7.2" height="7.2" fill="#b0145a"/>
<line x1="1342.4" y1="1988.9" x2="1342.4" y2="1996.4" stroke="#b0145a" stroke-width="1.6"/>
<line x1="1338.9" y1="1988.9" x2="1345.9" y2="1988.9" stroke="#b0145a" stroke-width="1.6"/>
<line x1="1338.9" y1="1996.4" x2="1345.9" y2="1996.4" stroke="#b0145a" stroke-width="1.6"/>
<rect x="1338.8" y="1989.1" width="7.2" height="7.2" fill="#b0145a"/>
<line x1="1355.2" y1="2004" x2="1355.2" y2="2007.8" stroke="#b0145a" stroke-width="1.6"/>
<line x1="1351.7" y1="2004" x2="1358.7" y2="2004" stroke="#b0145a" stroke-width="1.6"/>
<line x1="1351.7" y1="2007.8" x2="1358.7" y2="2007.8" stroke="#b0145a" stroke-width="1.6"/>
<rect x="1351.6" y="2002.3" width="7.2" height="7.2" fill="#b0145a"/>
<line x1="1368" y1="2010.6" x2="1368" y2="2016.2" stroke="#b0145a" stroke-width="1.6"/>
<line x1="1364.5" y1="2010.6" x2="1371.5" y2="2010.6" stroke="#b0145a" stroke-width="1.6"/>
<line x1="1364.5" y1="2016.2" x2="1371.5" y2="2016.2" stroke="#b0145a" stroke-width="1.6"/>
<rect x="1364.4" y="2009.8" width="7.2" height="7.2" fill="#b0145a"/>
<line x1="1380.9" y1="2024.7" x2="1380.9" y2="2028.5" stroke="#b0145a" stroke-width="1.6"/>
<line x1="1377.4" y1="2024.7" x2="1384.4" y2="2024.7" stroke="#b0145a" stroke-width="1.6"/>
<line x1="1377.4" y1="2028.5" x2="1384.4" y2="2028.5" stroke="#b0145a" stroke-width="1.6"/>
<rect x="1377.3" y="2023" width="7.2" height="7.2" fill="#b0145a"/>
<line x1="1393.7" y1="2033.2" x2="1393.7" y2="2037" stroke="#b0145a" stroke-width="1.6"/>
<line x1="1390.2" y1="2033.2" x2="1397.2" y2="2033.2" stroke="#b0145a" stroke-width="1.6"/>
<line x1="1390.2" y1="2037" x2="1397.2" y2="2037" stroke="#b0145a" stroke-width="1.6"/>
<rect x="1390.1" y="2031.5" width="7.2" height="7.2" fill="#b0145a"/>
<line x1="1406.6" y1="2035.1" x2="1406.6" y2="2038.9" stroke="#b0145a" stroke-width="1.6"/>
<line x1="1403.1" y1="2035.1" x2="1410.1" y2="2035.1" stroke="#b0145a" stroke-width="1.6"/>
<line x1="1403.1" y1="2038.9" x2="1410.1" y2="2038.9" stroke="#b0145a" stroke-width="1.6"/>
<rect x="1403" y="2033.4" width="7.2" height="7.2" fill="#b0145a"/>
<line x1="1419.4" y1="2036" x2="1419.4" y2="2039.8" stroke="#b0145a" stroke-width="1.6"/>
<line x1="1415.9" y1="2036" x2="1422.9" y2="2036" stroke="#b0145a" stroke-width="1.6"/>
<line x1="1415.9" y1="2039.8" x2="1422.9" y2="2039.8" stroke="#b0145a" stroke-width="1.6"/>
<rect x="1415.8" y="2034.3" width="7.2" height="7.2" fill="#b0145a"/>
<line x1="1278.2" y1="1945.5" x2="1278.2" y2="1958.7" stroke="#8aaedc" stroke-width="1.6"/>
<line x1="1274.7" y1="1945.5" x2="1281.7" y2="1945.5" stroke="#8aaedc" stroke-width="1.6"/>
<line x1="1274.7" y1="1958.7" x2="1281.7" y2="1958.7" stroke="#8aaedc" stroke-width="1.6"/>
<circle cx="1278.2" cy="1952.1" r="3.7" fill="#8aaedc"/>
<line x1="1291" y1="1950.2" x2="1291" y2="1959.7" stroke="#8aaedc" stroke-width="1.6"/>
<line x1="1287.5" y1="1950.2" x2="1294.5" y2="1950.2" stroke="#8aaedc" stroke-width="1.6"/>
<line x1="1287.5" y1="1959.7" x2="1294.5" y2="1959.7" stroke="#8aaedc" stroke-width="1.6"/>
<circle cx="1291" cy="1955" r="3.7" fill="#8aaedc"/>
<line x1="1303.8" y1="1953.1" x2="1303.8" y2="1960.6" stroke="#8aaedc" stroke-width="1.6"/>
<line x1="1300.3" y1="1953.1" x2="1307.3" y2="1953.1" stroke="#8aaedc" stroke-width="1.6"/>
<line x1="1300.3" y1="1960.6" x2="1307.3" y2="1960.6" stroke="#8aaedc" stroke-width="1.6"/>
<circle cx="1303.8" cy="1956.8" r="3.7" fill="#8aaedc"/>
<line x1="1316.7" y1="1960.6" x2="1316.7" y2="1966.3" stroke="#8aaedc" stroke-width="1.6"/>
<line x1="1313.2" y1="1960.6" x2="1320.2" y2="1960.6" stroke="#8aaedc" stroke-width="1.6"/>
<line x1="1313.2" y1="1966.3" x2="1320.2" y2="1966.3" stroke="#8aaedc" stroke-width="1.6"/>
<circle cx="1316.7" cy="1963.4" r="3.7" fill="#8aaedc"/>
<line x1="1329.5" y1="1968.2" x2="1329.5" y2="1975.7" stroke="#8aaedc" stroke-width="1.6"/>
<line x1="1326" y1="1968.2" x2="1333" y2="1968.2" stroke="#8aaedc" stroke-width="1.6"/>
<line x1="1326" y1="1975.7" x2="1333" y2="1975.7" stroke="#8aaedc" stroke-width="1.6"/>
<circle cx="1329.5" cy="1971.9" r="3.7" fill="#8aaedc"/>
<circle cx="1342.4" cy="1978.5" r="3.7" fill="#8aaedc"/>
<line x1="1355.2" y1="1986.1" x2="1355.2" y2="1993.6" stroke="#8aaedc" stroke-width="1.6"/>
<line x1="1351.7" y1="1986.1" x2="1358.7" y2="1986.1" stroke="#8aaedc" stroke-width="1.6"/>
<line x1="1351.7" y1="1993.6" x2="1358.7" y2="1993.6" stroke="#8aaedc" stroke-width="1.6"/>
<circle cx="1355.2" cy="1989.8" r="3.7" fill="#8aaedc"/>
<line x1="1368" y1="2000.2" x2="1368" y2="2007.8" stroke="#8aaedc" stroke-width="1.6"/>
<line x1="1364.5" y1="2000.2" x2="1371.5" y2="2000.2" stroke="#8aaedc" stroke-width="1.6"/>
<line x1="1364.5" y1="2007.8" x2="1371.5" y2="2007.8" stroke="#8aaedc" stroke-width="1.6"/>
<circle cx="1368" cy="2004" r="3.7" fill="#8aaedc"/>
<circle cx="1380.9" cy="2013.4" r="3.7" fill="#8aaedc"/>
<circle cx="1393.7" cy="2024.7" r="3.7" fill="#8aaedc"/>
<circle cx="1406.6" cy="2030.4" r="3.7" fill="#8aaedc"/>
<circle cx="1419.4" cy="2034.1" r="3.7" fill="#8aaedc"/>
<line x1="1248.2" y1="1904" x2="1248.2" y2="2047.4" stroke="#000" stroke-width="2"/>
<line x1="1244.2" y1="2046.4" x2="1463.2" y2="2046.4" stroke="#000" stroke-width="2"/>
<line x1="1244.2" y1="2046.4" x2="1248.2" y2="2046.4" stroke="#000" stroke-width="2"/>
<text x="1242.2" y="2053.4" font-size="20.7" text-anchor="end">0</text>
<line x1="1244.2" y1="1999.3" x2="1248.2" y2="1999.3" stroke="#000" stroke-width="2"/>
<text x="1242.2" y="2006.3" font-size="20.7" text-anchor="end">50</text>
<line x1="1244.2" y1="1952.1" x2="1248.2" y2="1952.1" stroke="#000" stroke-width="2"/>
<text x="1242.2" y="1959.1" font-size="20.7" text-anchor="end">100</text>
<line x1="1244.2" y1="1905" x2="1248.2" y2="1905" stroke="#000" stroke-width="2"/>
<text x="1242.2" y="1912" font-size="20.7" text-anchor="end">150</text>
<line x1="1248.2" y1="2046.4" x2="1248.2" y2="2051.4" stroke="#000" stroke-width="2"/>
<text x="1248.2" y="2069" font-size="20.7" text-anchor="middle">-1</text>
<line x1="1291" y1="2046.4" x2="1291" y2="2051.4" stroke="#000" stroke-width="2"/>
<text x="1291" y="2069" font-size="20.7" text-anchor="middle">0</text>
<line x1="1333.8" y1="2046.4" x2="1333.8" y2="2051.4" stroke="#000" stroke-width="2"/>
<text x="1333.8" y="2069" font-size="20.7" text-anchor="middle">1</text>
<line x1="1376.6" y1="2046.4" x2="1376.6" y2="2051.4" stroke="#000" stroke-width="2"/>
<text x="1376.6" y="2069" font-size="20.7" text-anchor="middle">2</text>
<line x1="1419.4" y1="2046.4" x2="1419.4" y2="2051.4" stroke="#000" stroke-width="2"/>
<text x="1419.4" y="2069" font-size="20.7" text-anchor="middle">3</text>
<line x1="1462.2" y1="2046.4" x2="1462.2" y2="2051.4" stroke="#000" stroke-width="2"/>
<text x="1462.2" y="2069" font-size="20.7" text-anchor="middle">4</text>
<text x="1355.2" y="2085.6" font-size="20.2" text-anchor="middle">Log[Gemcitabine] (μM)</text>
<text x="1184" y="1969.7" font-size="19.8" text-anchor="middle" transform="rotate(-90 1184 1969.7)">Relative cell viability</text>
<text x="1207.7" y="1969.7" font-size="19.8" text-anchor="middle" transform="rotate(-90 1207.7 1969.7)">(% of control)</text>
<text x="1354.4" y="1909.7" font-size="14.2" text-anchor="middle">IC<tspan font-size="9.5" dy="3" fill="#444">50</tspan><tspan dy="-3">(Control)=38.36 μM</tspan></text>
<text x="1354.4" y="1927.3" font-size="14.2" text-anchor="middle">IC<tspan font-size="9.5" dy="3" fill="#444">50</tspan><tspan dy="-3">(PID1 KO)=20.05 μM</tspan></text>
<line x1="1476.8" y1="1915.7" x2="1491.8" y2="1915.7" stroke="#8aaedc" stroke-width="1.8"/>
<circle cx="1484.3" cy="1915.7" r="3.4" fill="#8aaedc"/>
<text x="1500.6" y="1922.5" font-size="20.1">Control</text>
<line x1="1476.8" y1="1935.2" x2="1491.8" y2="1935.2" stroke="#b0145a" stroke-width="1.8"/>
<rect x="1480.8" y="1931.7" width="7" height="7" fill="#b0145a"/>
<text x="1500.6" y="1942" font-size="20.3">PID1 KO</text>
<path d="M1699.6 1952.2L1702.7 1952.2L1705.8 1952.2L1708.9 1952.2L1712 1952.2L1715.1 1952.2L1718.2 1952.2L1721.3 1952.3L1724.4 1952.3L1727.5 1952.3L1730.6 1952.4L1733.7 1952.4L1736.8 1952.5L1739.9 1952.6L1743 1952.7L1746.1 1952.8L1749.2 1953L1752.4 1953.2L1755.5 1953.4L1758.6 1953.7L1761.7 1954.1L1764.8 1954.6L1767.9 1955.1L1771 1955.8L1774.1 1956.7L1777.2 1957.7L1780.3 1959L1783.4 1960.5L1786.5 1962.3L1789.6 1964.4L1792.7 1966.9L1795.8 1969.8L1798.9 1973.1L1802 1976.8L1805.1 1980.9L1808.2 1985.4L1811.3 1990.1L1814.4 1995L1817.5 2000.1L1820.6 2005L1823.7 2009.8L1826.8 2014.4L1829.9 2018.6L1833 2022.5L1836.1 2025.9L1839.2 2028.9L1842.3 2031.5L1845.4 2033.8L1848.5 2035.7L1851.6 2037.3L1854.8 2038.6L1857.9 2039.7L1861 2040.6L1864.1 2041.3L1867.2 2041.9L1870.3 2042.4L1873.4 2042.8L1876.5 2043.1L1879.6 2043.4L1882.7 2043.6L1885.8 2043.8" stroke="#8aaedc" stroke-width="1.8" fill="none"/>
<path d="M1699.6 1952.1L1702.7 1952.1L1705.8 1952.1L1708.9 1952.2L1712 1952.2L1715.1 1952.2L1718.2 1952.2L1721.3 1952.2L1724.4 1952.2L1727.5 1952.2L1730.6 1952.2L1733.7 1952.2L1736.8 1952.3L1739.9 1952.3L1743 1952.3L1746.1 1952.4L1749.2 1952.4L1752.4 1952.5L1755.5 1952.6L1758.6 1952.7L1761.7 1952.8L1764.8 1953L1767.9 1953.2L1771 1953.5L1774.1 1953.8L1777.2 1954.2L1780.3 1954.7L1783.4 1955.3L1786.5 1956L1789.6 1956.9L1792.7 1958L1795.8 1959.3L1798.9 1960.9L1802 1962.7L1805.1 1964.9L1808.2 1967.5L1811.3 1970.5L1814.4 1973.9L1817.5 1977.8L1820.6 1982L1823.7 1986.5L1826.8 1991.3L1829.9 1996.3L1833 2001.3L1836.1 2006.2L1839.2 2011L1842.3 2015.4L1845.4 2019.6L1848.5 2023.3L1851.6 2026.7L1854.8 2029.6L1857.9 2032.1L1861 2034.3L1864.1 2036.1L1867.2 2037.6L1870.3 2038.9L1873.4 2039.9L1876.5 2040.8L1879.6 2041.5L1882.7 2042.1L1885.8 2042.5" stroke="#b0145a" stroke-width="1.8" fill="none"/>
<line x1="1699.6" y1="1948.4" x2="1699.6" y2="1955.9" stroke="#b0145a" stroke-width="1.6"/>
<line x1="1696.1" y1="1948.4" x2="1703.1" y2="1948.4" stroke="#b0145a" stroke-width="1.6"/>
<line x1="1696.1" y1="1955.9" x2="1703.1" y2="1955.9" stroke="#b0145a" stroke-width="1.6"/>
<rect x="1696" y="1948.5" width="7.2" height="7.2" fill="#b0145a"/>
<line x1="1713.3" y1="1950.2" x2="1713.3" y2="1955.9" stroke="#b0145a" stroke-width="1.6"/>
<line x1="1709.8" y1="1950.2" x2="1716.8" y2="1950.2" stroke="#b0145a" stroke-width="1.6"/>
<line x1="1709.8" y1="1955.9" x2="1716.8" y2="1955.9" stroke="#b0145a" stroke-width="1.6"/>
<rect x="1709.7" y="1949.5" width="7.2" height="7.2" fill="#b0145a"/>
<line x1="1770.2" y1="1956.8" x2="1770.2" y2="1964.4" stroke="#b0145a" stroke-width="1.6"/>
<line x1="1766.7" y1="1956.8" x2="1773.7" y2="1956.8" stroke="#b0145a" stroke-width="1.6"/>
<line x1="1766.7" y1="1964.4" x2="1773.7" y2="1964.4" stroke="#b0145a" stroke-width="1.6"/>
<rect x="1766.6" y="1957" width="7.2" height="7.2" fill="#b0145a"/>
<line x1="1783.1" y1="1959.7" x2="1783.1" y2="1965.3" stroke="#b0145a" stroke-width="1.6"/>
<line x1="1779.6" y1="1959.7" x2="1786.6" y2="1959.7" stroke="#b0145a" stroke-width="1.6"/>
<line x1="1779.6" y1="1965.3" x2="1786.6" y2="1965.3" stroke="#b0145a" stroke-width="1.6"/>
<rect x="1779.5" y="1958.9" width="7.2" height="7.2" fill="#b0145a"/>
<line x1="1795.9" y1="1957.8" x2="1795.9" y2="1963.4" stroke="#b0145a" stroke-width="1.6"/>
<line x1="1792.4" y1="1957.8" x2="1799.4" y2="1957.8" stroke="#b0145a" stroke-width="1.6"/>
<line x1="1792.4" y1="1963.4" x2="1799.4" y2="1963.4" stroke="#b0145a" stroke-width="1.6"/>
<rect x="1792.3" y="1957" width="7.2" height="7.2" fill="#b0145a"/>
<line x1="1808.7" y1="1967.2" x2="1808.7" y2="1972.9" stroke="#b0145a" stroke-width="1.6"/>
<line x1="1805.2" y1="1967.2" x2="1812.2" y2="1967.2" stroke="#b0145a" stroke-width="1.6"/>
<line x1="1805.2" y1="1972.9" x2="1812.2" y2="1972.9" stroke="#b0145a" stroke-width="1.6"/>
<rect x="1805.1" y="1966.4" width="7.2" height="7.2" fill="#b0145a"/>
<line x1="1821.6" y1="1978.5" x2="1821.6" y2="1989.8" stroke="#b0145a" stroke-width="1.6"/>
<line x1="1818.1" y1="1978.5" x2="1825.1" y2="1978.5" stroke="#b0145a" stroke-width="1.6"/>
<line x1="1818.1" y1="1989.8" x2="1825.1" y2="1989.8" stroke="#b0145a" stroke-width="1.6"/>
<rect x="1818" y="1980.6" width="7.2" height="7.2" fill="#b0145a"/>
<line x1="1834.4" y1="2005.9" x2="1834.4" y2="2011.5" stroke="#b0145a" stroke-width="1.6"/>
<line x1="1830.9" y1="2005.9" x2="1837.9" y2="2005.9" stroke="#b0145a" stroke-width="1.6"/>
<line x1="1830.9" y1="2011.5" x2="1837.9" y2="2011.5" stroke="#b0145a" stroke-width="1.6"/>
<rect x="1830.8" y="2005.1" width="7.2" height="7.2" fill="#b0145a"/>
<line x1="1847.3" y1="2023.8" x2="1847.3" y2="2029.4" stroke="#b0145a" stroke-width="1.6"/>
<line x1="1843.8" y1="2023.8" x2="1850.8" y2="2023.8" stroke="#b0145a" stroke-width="1.6"/>
<line x1="1843.8" y1="2029.4" x2="1850.8" y2="2029.4" stroke="#b0145a" stroke-width="1.6"/>
<rect x="1843.7" y="2023" width="7.2" height="7.2" fill="#b0145a"/>
<line x1="1860.1" y1="2032.3" x2="1860.1" y2="2037.9" stroke="#b0145a" stroke-width="1.6"/>
<line x1="1856.6" y1="2032.3" x2="1863.6" y2="2032.3" stroke="#b0145a" stroke-width="1.6"/>
<line x1="1856.6" y1="2037.9" x2="1863.6" y2="2037.9" stroke="#b0145a" stroke-width="1.6"/>
<rect x="1856.5" y="2031.5" width="7.2" height="7.2" fill="#b0145a"/>
<line x1="1872.9" y1="2037" x2="1872.9" y2="2042.6" stroke="#b0145a" stroke-width="1.6"/>
<line x1="1869.4" y1="2037" x2="1876.4" y2="2037" stroke="#b0145a" stroke-width="1.6"/>
<line x1="1869.4" y1="2042.6" x2="1876.4" y2="2042.6" stroke="#b0145a" stroke-width="1.6"/>
<rect x="1869.3" y="2036.2" width="7.2" height="7.2" fill="#b0145a"/>
<line x1="1885.8" y1="2039.8" x2="1885.8" y2="2043.6" stroke="#b0145a" stroke-width="1.6"/>
<line x1="1882.3" y1="2039.8" x2="1889.3" y2="2039.8" stroke="#b0145a" stroke-width="1.6"/>
<line x1="1882.3" y1="2043.6" x2="1889.3" y2="2043.6" stroke="#b0145a" stroke-width="1.6"/>
<rect x="1882.2" y="2038.1" width="7.2" height="7.2" fill="#b0145a"/>
<line x1="1699.6" y1="1948.4" x2="1699.6" y2="1955.9" stroke="#8aaedc" stroke-width="1.6"/>
<line x1="1696.1" y1="1948.4" x2="1703.1" y2="1948.4" stroke="#8aaedc" stroke-width="1.6"/>
<line x1="1696.1" y1="1955.9" x2="1703.1" y2="1955.9" stroke="#8aaedc" stroke-width="1.6"/>
<circle cx="1699.6" cy="1952.1" r="3.7" fill="#8aaedc"/>
<line x1="1713.3" y1="1950.2" x2="1713.3" y2="1963.4" stroke="#8aaedc" stroke-width="1.6"/>
<line x1="1709.8" y1="1950.2" x2="1716.8" y2="1950.2" stroke="#8aaedc" stroke-width="1.6"/>
<line x1="1709.8" y1="1963.4" x2="1716.8" y2="1963.4" stroke="#8aaedc" stroke-width="1.6"/>
<circle cx="1713.3" cy="1956.8" r="3.7" fill="#8aaedc"/>
<line x1="1770.2" y1="1953.1" x2="1770.2" y2="1964.4" stroke="#8aaedc" stroke-width="1.6"/>
<line x1="1766.7" y1="1953.1" x2="1773.7" y2="1953.1" stroke="#8aaedc" stroke-width="1.6"/>
<line x1="1766.7" y1="1964.4" x2="1773.7" y2="1964.4" stroke="#8aaedc" stroke-width="1.6"/>
<circle cx="1770.2" cy="1958.7" r="3.7" fill="#8aaedc"/>
<line x1="1783.1" y1="1960.6" x2="1783.1" y2="1966.3" stroke="#8aaedc" stroke-width="1.6"/>
<line x1="1779.6" y1="1960.6" x2="1786.6" y2="1960.6" stroke="#8aaedc" stroke-width="1.6"/>
<line x1="1779.6" y1="1966.3" x2="1786.6" y2="1966.3" stroke="#8aaedc" stroke-width="1.6"/>
<circle cx="1783.1" cy="1963.4" r="3.7" fill="#8aaedc"/>
<line x1="1795.9" y1="1970" x2="1795.9" y2="1975.7" stroke="#8aaedc" stroke-width="1.6"/>
<line x1="1792.4" y1="1970" x2="1799.4" y2="1970" stroke="#8aaedc" stroke-width="1.6"/>
<line x1="1792.4" y1="1975.7" x2="1799.4" y2="1975.7" stroke="#8aaedc" stroke-width="1.6"/>
<circle cx="1795.9" cy="1972.9" r="3.7" fill="#8aaedc"/>
<line x1="1808.7" y1="1963.4" x2="1808.7" y2="1978.5" stroke="#8aaedc" stroke-width="1.6"/>
<line x1="1805.2" y1="1963.4" x2="1812.2" y2="1963.4" stroke="#8aaedc" stroke-width="1.6"/>
<line x1="1805.2" y1="1978.5" x2="1812.2" y2="1978.5" stroke="#8aaedc" stroke-width="1.6"/>
<circle cx="1808.7" cy="1971" r="3.7" fill="#8aaedc"/>
<circle cx="1821.6" cy="2018.1" r="3.7" fill="#8aaedc"/>
<circle cx="1834.4" cy="2027.5" r="3.7" fill="#8aaedc"/>
<circle cx="1847.3" cy="2035.1" r="3.7" fill="#8aaedc"/>
<line x1="1860.1" y1="2034.1" x2="1860.1" y2="2037.9" stroke="#8aaedc" stroke-width="1.6"/>
<line x1="1856.6" y1="2034.1" x2="1863.6" y2="2034.1" stroke="#8aaedc" stroke-width="1.6"/>
<line x1="1856.6" y1="2037.9" x2="1863.6" y2="2037.9" stroke="#8aaedc" stroke-width="1.6"/>
<circle cx="1860.1" cy="2036" r="3.7" fill="#8aaedc"/>
<line x1="1872.9" y1="2037.9" x2="1872.9" y2="2041.7" stroke="#8aaedc" stroke-width="1.6"/>
<line x1="1869.4" y1="2037.9" x2="1876.4" y2="2037.9" stroke="#8aaedc" stroke-width="1.6"/>
<line x1="1869.4" y1="2041.7" x2="1876.4" y2="2041.7" stroke="#8aaedc" stroke-width="1.6"/>
<circle cx="1872.9" cy="2039.8" r="3.7" fill="#8aaedc"/>
<line x1="1885.8" y1="2038.9" x2="1885.8" y2="2042.6" stroke="#8aaedc" stroke-width="1.6"/>
<line x1="1882.3" y1="2038.9" x2="1889.3" y2="2038.9" stroke="#8aaedc" stroke-width="1.6"/>
<line x1="1882.3" y1="2042.6" x2="1889.3" y2="2042.6" stroke="#8aaedc" stroke-width="1.6"/>
<circle cx="1885.8" cy="2040.7" r="3.7" fill="#8aaedc"/>
<line x1="1688.9" y1="1904" x2="1688.9" y2="2047.4" stroke="#000" stroke-width="2"/>
<line x1="1684.9" y1="2046.4" x2="1903.9" y2="2046.4" stroke="#000" stroke-width="2"/>
<line x1="1684.9" y1="2046.4" x2="1688.9" y2="2046.4" stroke="#000" stroke-width="2"/>
<text x="1682.9" y="2053.4" font-size="20.7" text-anchor="end">0</text>
<line x1="1684.9" y1="1999.3" x2="1688.9" y2="1999.3" stroke="#000" stroke-width="2"/>
<text x="1682.9" y="2006.3" font-size="20.7" text-anchor="end">50</text>
<line x1="1684.9" y1="1952.1" x2="1688.9" y2="1952.1" stroke="#000" stroke-width="2"/>
<text x="1682.9" y="1959.1" font-size="20.7" text-anchor="end">100</text>
<line x1="1684.9" y1="1905" x2="1688.9" y2="1905" stroke="#000" stroke-width="2"/>
<text x="1682.9" y="1912" font-size="20.7" text-anchor="end">150</text>
<line x1="1688.9" y1="2046.4" x2="1688.9" y2="2051.4" stroke="#000" stroke-width="2"/>
<text x="1688.9" y="2069" font-size="20.7" text-anchor="middle">-2</text>
<line x1="1731.7" y1="2046.4" x2="1731.7" y2="2051.4" stroke="#000" stroke-width="2"/>
<text x="1731.7" y="2069" font-size="20.7" text-anchor="middle">-1</text>
<line x1="1774.5" y1="2046.4" x2="1774.5" y2="2051.4" stroke="#000" stroke-width="2"/>
<text x="1774.5" y="2069" font-size="20.7" text-anchor="middle">0</text>
<line x1="1817.3" y1="2046.4" x2="1817.3" y2="2051.4" stroke="#000" stroke-width="2"/>
<text x="1817.3" y="2069" font-size="20.7" text-anchor="middle">1</text>
<line x1="1860.1" y1="2046.4" x2="1860.1" y2="2051.4" stroke="#000" stroke-width="2"/>
<text x="1860.1" y="2069" font-size="20.7" text-anchor="middle">2</text>
<line x1="1902.9" y1="2046.4" x2="1902.9" y2="2051.4" stroke="#000" stroke-width="2"/>
<text x="1902.9" y="2069" font-size="20.7" text-anchor="middle">3</text>
<text x="1795.9" y="2085.6" font-size="20.2" text-anchor="middle">Log[Sorafenib] (μM)</text>
<text x="1626" y="1969.7" font-size="19.8" text-anchor="middle" transform="rotate(-90 1626 1969.7)">Relative cell viability</text>
<text x="1649.7" y="1969.7" font-size="19.8" text-anchor="middle" transform="rotate(-90 1649.7 1969.7)">(% of control)</text>
<text x="1794.6" y="1909.7" font-size="14.2" text-anchor="middle">IC<tspan font-size="9.5" dy="3" fill="#444">50</tspan><tspan dy="-3">(Control)=9.552 μM</tspan></text>
<text x="1794.6" y="1927.3" font-size="14.2" text-anchor="middle">IC<tspan font-size="9.5" dy="3" fill="#444">50</tspan><tspan dy="-3">(PID1 KO)=21.14 μM</tspan></text>
<line x1="1917.5" y1="1915.7" x2="1932.5" y2="1915.7" stroke="#8aaedc" stroke-width="1.8"/>
<circle cx="1925" cy="1915.7" r="3.4" fill="#8aaedc"/>
<text x="1941.3" y="1922.5" font-size="20.1">Control</text>
<line x1="1917.5" y1="1935.2" x2="1932.5" y2="1935.2" stroke="#b0145a" stroke-width="1.8"/>
<rect x="1921.5" y="1931.7" width="7" height="7" fill="#b0145a"/>
<text x="1941.3" y="1942" font-size="20.3">PID1 KO</text>
</svg>
</body></html>
